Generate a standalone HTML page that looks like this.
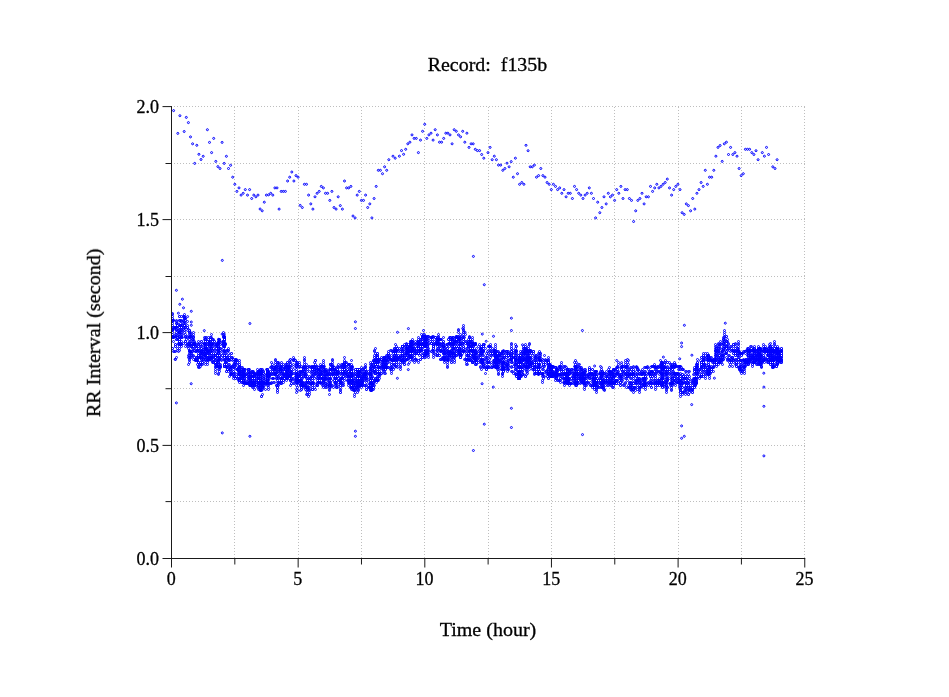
<!DOCTYPE html>
<html><head><meta charset="utf-8"><style>
html,body{margin:0;padding:0;background:#fff;width:949px;height:697px;overflow:hidden}
svg{display:block}
text{font-family:"Liberation Serif",serif;font-size:18px;fill:#000;stroke:#000;stroke-width:0.3px}
</style></head><body>
<svg width="949" height="697" viewBox="0 0 949 697">
<g shape-rendering="crispEdges">
<line x1="171" y1="501.5" x2="805" y2="501.5" stroke="#bebebe" stroke-width="1" stroke-dasharray="1 2"/>
<line x1="171" y1="445.5" x2="805" y2="445.5" stroke="#bebebe" stroke-width="1" stroke-dasharray="1 2"/>
<line x1="171" y1="388.5" x2="805" y2="388.5" stroke="#bebebe" stroke-width="1" stroke-dasharray="1 2"/>
<line x1="171" y1="332.5" x2="805" y2="332.5" stroke="#bebebe" stroke-width="1" stroke-dasharray="1 2"/>
<line x1="171" y1="276.5" x2="805" y2="276.5" stroke="#bebebe" stroke-width="1" stroke-dasharray="1 2"/>
<line x1="171" y1="219.5" x2="805" y2="219.5" stroke="#bebebe" stroke-width="1" stroke-dasharray="1 2"/>
<line x1="171" y1="163.5" x2="805" y2="163.5" stroke="#bebebe" stroke-width="1" stroke-dasharray="1 2"/>
<line x1="171" y1="106.5" x2="805" y2="106.5" stroke="#bebebe" stroke-width="1" stroke-dasharray="1 2"/>
<line x1="234.5" y1="107" x2="234.5" y2="558" stroke="#bebebe" stroke-width="1" stroke-dasharray="1 2"/>
<line x1="298.5" y1="107" x2="298.5" y2="558" stroke="#bebebe" stroke-width="1" stroke-dasharray="1 2"/>
<line x1="361.5" y1="107" x2="361.5" y2="558" stroke="#bebebe" stroke-width="1" stroke-dasharray="1 2"/>
<line x1="424.5" y1="107" x2="424.5" y2="558" stroke="#bebebe" stroke-width="1" stroke-dasharray="1 2"/>
<line x1="488.5" y1="107" x2="488.5" y2="558" stroke="#bebebe" stroke-width="1" stroke-dasharray="1 2"/>
<line x1="551.5" y1="107" x2="551.5" y2="558" stroke="#bebebe" stroke-width="1" stroke-dasharray="1 2"/>
<line x1="614.5" y1="107" x2="614.5" y2="558" stroke="#bebebe" stroke-width="1" stroke-dasharray="1 2"/>
<line x1="678.5" y1="107" x2="678.5" y2="558" stroke="#bebebe" stroke-width="1" stroke-dasharray="1 2"/>
<line x1="741.5" y1="107" x2="741.5" y2="558" stroke="#bebebe" stroke-width="1" stroke-dasharray="1 2"/>
<line x1="804.5" y1="107" x2="804.5" y2="558" stroke="#bebebe" stroke-width="1" stroke-dasharray="1 2"/>
</g>
<g fill="none" stroke="#0000ff" stroke-width="1.0"><circle cx="172.5" cy="348.5" r="1"/><circle cx="172.5" cy="348.5" r="1"/><circle cx="172.5" cy="336.5" r="1"/><circle cx="172.5" cy="330.5" r="1"/><circle cx="172.5" cy="329.5" r="1"/><circle cx="173.5" cy="320.5" r="1"/><circle cx="173.5" cy="337.5" r="1"/><circle cx="173.5" cy="336.5" r="1"/><circle cx="173.5" cy="351.5" r="1"/><circle cx="173.5" cy="341.5" r="1"/><circle cx="173.5" cy="337.5" r="1"/><circle cx="173.5" cy="337.5" r="1"/><circle cx="173.5" cy="329.5" r="1"/><circle cx="173.5" cy="320.5" r="1"/><circle cx="173.5" cy="327.5" r="1"/><circle cx="174.5" cy="351.5" r="1"/><circle cx="174.5" cy="327.5" r="1"/><circle cx="175.5" cy="336.5" r="1"/><circle cx="175.5" cy="334.5" r="1"/><circle cx="175.5" cy="327.5" r="1"/><circle cx="175.5" cy="351.5" r="1"/><circle cx="175.5" cy="336.5" r="1"/><circle cx="175.5" cy="359.5" r="1"/><circle cx="175.5" cy="344.5" r="1"/><circle cx="175.5" cy="344.5" r="1"/><circle cx="175.5" cy="346.5" r="1"/><circle cx="175.5" cy="346.5" r="1"/><circle cx="175.5" cy="327.5" r="1"/><circle cx="176.5" cy="357.5" r="1"/><circle cx="176.5" cy="329.5" r="1"/><circle cx="177.5" cy="323.5" r="1"/><circle cx="177.5" cy="325.5" r="1"/><circle cx="177.5" cy="350.5" r="1"/><circle cx="177.5" cy="337.5" r="1"/><circle cx="177.5" cy="325.5" r="1"/><circle cx="177.5" cy="348.5" r="1"/><circle cx="177.5" cy="339.5" r="1"/><circle cx="178.5" cy="343.5" r="1"/><circle cx="178.5" cy="330.5" r="1"/><circle cx="178.5" cy="332.5" r="1"/><circle cx="179.5" cy="327.5" r="1"/><circle cx="179.5" cy="316.5" r="1"/><circle cx="179.5" cy="320.5" r="1"/><circle cx="179.5" cy="344.5" r="1"/><circle cx="179.5" cy="336.5" r="1"/><circle cx="179.5" cy="329.5" r="1"/><circle cx="179.5" cy="332.5" r="1"/><circle cx="179.5" cy="343.5" r="1"/><circle cx="179.5" cy="325.5" r="1"/><circle cx="179.5" cy="334.5" r="1"/><circle cx="179.5" cy="336.5" r="1"/><circle cx="179.5" cy="327.5" r="1"/><circle cx="179.5" cy="332.5" r="1"/><circle cx="179.5" cy="339.5" r="1"/><circle cx="179.5" cy="343.5" r="1"/><circle cx="179.5" cy="320.5" r="1"/><circle cx="179.5" cy="344.5" r="1"/><circle cx="179.5" cy="316.5" r="1"/><circle cx="179.5" cy="339.5" r="1"/><circle cx="179.5" cy="341.5" r="1"/><circle cx="180.5" cy="325.5" r="1"/><circle cx="180.5" cy="320.5" r="1"/><circle cx="180.5" cy="325.5" r="1"/><circle cx="180.5" cy="344.5" r="1"/><circle cx="180.5" cy="332.5" r="1"/><circle cx="180.5" cy="325.5" r="1"/><circle cx="180.5" cy="323.5" r="1"/><circle cx="180.5" cy="344.5" r="1"/><circle cx="181.5" cy="337.5" r="1"/><circle cx="181.5" cy="332.5" r="1"/><circle cx="181.5" cy="327.5" r="1"/><circle cx="181.5" cy="343.5" r="1"/><circle cx="181.5" cy="327.5" r="1"/><circle cx="181.5" cy="344.5" r="1"/><circle cx="181.5" cy="316.5" r="1"/><circle cx="181.5" cy="329.5" r="1"/><circle cx="181.5" cy="330.5" r="1"/><circle cx="181.5" cy="344.5" r="1"/><circle cx="181.5" cy="321.5" r="1"/><circle cx="181.5" cy="341.5" r="1"/><circle cx="181.5" cy="336.5" r="1"/><circle cx="181.5" cy="337.5" r="1"/><circle cx="181.5" cy="334.5" r="1"/><circle cx="181.5" cy="346.5" r="1"/><circle cx="181.5" cy="325.5" r="1"/><circle cx="181.5" cy="327.5" r="1"/><circle cx="181.5" cy="320.5" r="1"/><circle cx="182.5" cy="330.5" r="1"/><circle cx="182.5" cy="334.5" r="1"/><circle cx="182.5" cy="337.5" r="1"/><circle cx="182.5" cy="325.5" r="1"/><circle cx="183.5" cy="316.5" r="1"/><circle cx="183.5" cy="329.5" r="1"/><circle cx="183.5" cy="343.5" r="1"/><circle cx="184.5" cy="318.5" r="1"/><circle cx="184.5" cy="316.5" r="1"/><circle cx="184.5" cy="316.5" r="1"/><circle cx="184.5" cy="325.5" r="1"/><circle cx="184.5" cy="323.5" r="1"/><circle cx="184.5" cy="321.5" r="1"/><circle cx="185.5" cy="341.5" r="1"/><circle cx="185.5" cy="337.5" r="1"/><circle cx="185.5" cy="336.5" r="1"/><circle cx="185.5" cy="323.5" r="1"/><circle cx="185.5" cy="334.5" r="1"/><circle cx="185.5" cy="318.5" r="1"/><circle cx="185.5" cy="341.5" r="1"/><circle cx="185.5" cy="346.5" r="1"/><circle cx="185.5" cy="343.5" r="1"/><circle cx="185.5" cy="318.5" r="1"/><circle cx="185.5" cy="327.5" r="1"/><circle cx="185.5" cy="327.5" r="1"/><circle cx="185.5" cy="320.5" r="1"/><circle cx="185.5" cy="336.5" r="1"/><circle cx="185.5" cy="341.5" r="1"/><circle cx="185.5" cy="327.5" r="1"/><circle cx="186.5" cy="339.5" r="1"/><circle cx="187.5" cy="344.5" r="1"/><circle cx="187.5" cy="344.5" r="1"/><circle cx="187.5" cy="325.5" r="1"/><circle cx="187.5" cy="321.5" r="1"/><circle cx="187.5" cy="337.5" r="1"/><circle cx="187.5" cy="327.5" r="1"/><circle cx="187.5" cy="336.5" r="1"/><circle cx="187.5" cy="346.5" r="1"/><circle cx="187.5" cy="330.5" r="1"/><circle cx="187.5" cy="327.5" r="1"/><circle cx="188.5" cy="329.5" r="1"/><circle cx="188.5" cy="343.5" r="1"/><circle cx="189.5" cy="344.5" r="1"/><circle cx="189.5" cy="334.5" r="1"/><circle cx="189.5" cy="336.5" r="1"/><circle cx="189.5" cy="337.5" r="1"/><circle cx="189.5" cy="341.5" r="1"/><circle cx="189.5" cy="330.5" r="1"/><circle cx="189.5" cy="350.5" r="1"/><circle cx="189.5" cy="344.5" r="1"/><circle cx="189.5" cy="337.5" r="1"/><circle cx="189.5" cy="330.5" r="1"/><circle cx="189.5" cy="351.5" r="1"/><circle cx="189.5" cy="332.5" r="1"/><circle cx="189.5" cy="332.5" r="1"/><circle cx="189.5" cy="332.5" r="1"/><circle cx="189.5" cy="330.5" r="1"/><circle cx="189.5" cy="355.5" r="1"/><circle cx="190.5" cy="341.5" r="1"/><circle cx="190.5" cy="332.5" r="1"/><circle cx="190.5" cy="344.5" r="1"/><circle cx="190.5" cy="351.5" r="1"/><circle cx="190.5" cy="336.5" r="1"/><circle cx="190.5" cy="337.5" r="1"/><circle cx="190.5" cy="346.5" r="1"/><circle cx="190.5" cy="351.5" r="1"/><circle cx="190.5" cy="357.5" r="1"/><circle cx="190.5" cy="334.5" r="1"/><circle cx="190.5" cy="336.5" r="1"/><circle cx="190.5" cy="353.5" r="1"/><circle cx="191.5" cy="343.5" r="1"/><circle cx="191.5" cy="334.5" r="1"/><circle cx="191.5" cy="355.5" r="1"/><circle cx="191.5" cy="346.5" r="1"/><circle cx="191.5" cy="343.5" r="1"/><circle cx="191.5" cy="346.5" r="1"/><circle cx="191.5" cy="351.5" r="1"/><circle cx="191.5" cy="343.5" r="1"/><circle cx="191.5" cy="353.5" r="1"/><circle cx="191.5" cy="357.5" r="1"/><circle cx="191.5" cy="343.5" r="1"/><circle cx="191.5" cy="336.5" r="1"/><circle cx="192.5" cy="339.5" r="1"/><circle cx="192.5" cy="348.5" r="1"/><circle cx="192.5" cy="344.5" r="1"/><circle cx="192.5" cy="351.5" r="1"/><circle cx="192.5" cy="339.5" r="1"/><circle cx="192.5" cy="355.5" r="1"/><circle cx="192.5" cy="339.5" r="1"/><circle cx="192.5" cy="351.5" r="1"/><circle cx="193.5" cy="346.5" r="1"/><circle cx="193.5" cy="337.5" r="1"/><circle cx="193.5" cy="359.5" r="1"/><circle cx="193.5" cy="355.5" r="1"/><circle cx="194.5" cy="344.5" r="1"/><circle cx="194.5" cy="343.5" r="1"/><circle cx="194.5" cy="341.5" r="1"/><circle cx="194.5" cy="350.5" r="1"/><circle cx="194.5" cy="343.5" r="1"/><circle cx="194.5" cy="343.5" r="1"/><circle cx="194.5" cy="357.5" r="1"/><circle cx="194.5" cy="350.5" r="1"/><circle cx="194.5" cy="343.5" r="1"/><circle cx="195.5" cy="344.5" r="1"/><circle cx="195.5" cy="360.5" r="1"/><circle cx="195.5" cy="359.5" r="1"/><circle cx="195.5" cy="346.5" r="1"/><circle cx="195.5" cy="360.5" r="1"/><circle cx="195.5" cy="346.5" r="1"/><circle cx="195.5" cy="351.5" r="1"/><circle cx="195.5" cy="351.5" r="1"/><circle cx="195.5" cy="359.5" r="1"/><circle cx="195.5" cy="343.5" r="1"/><circle cx="196.5" cy="348.5" r="1"/><circle cx="196.5" cy="351.5" r="1"/><circle cx="196.5" cy="360.5" r="1"/><circle cx="196.5" cy="359.5" r="1"/><circle cx="196.5" cy="359.5" r="1"/><circle cx="196.5" cy="359.5" r="1"/><circle cx="196.5" cy="357.5" r="1"/><circle cx="196.5" cy="359.5" r="1"/><circle cx="196.5" cy="357.5" r="1"/><circle cx="196.5" cy="357.5" r="1"/><circle cx="196.5" cy="350.5" r="1"/><circle cx="196.5" cy="346.5" r="1"/><circle cx="196.5" cy="359.5" r="1"/><circle cx="197.5" cy="364.5" r="1"/><circle cx="197.5" cy="357.5" r="1"/><circle cx="197.5" cy="360.5" r="1"/><circle cx="197.5" cy="350.5" r="1"/><circle cx="197.5" cy="360.5" r="1"/><circle cx="197.5" cy="359.5" r="1"/><circle cx="198.5" cy="344.5" r="1"/><circle cx="198.5" cy="367.5" r="1"/><circle cx="198.5" cy="355.5" r="1"/><circle cx="198.5" cy="355.5" r="1"/><circle cx="198.5" cy="362.5" r="1"/><circle cx="198.5" cy="357.5" r="1"/><circle cx="198.5" cy="362.5" r="1"/><circle cx="198.5" cy="346.5" r="1"/><circle cx="198.5" cy="357.5" r="1"/><circle cx="198.5" cy="357.5" r="1"/><circle cx="198.5" cy="366.5" r="1"/><circle cx="199.5" cy="350.5" r="1"/><circle cx="199.5" cy="367.5" r="1"/><circle cx="199.5" cy="350.5" r="1"/><circle cx="199.5" cy="357.5" r="1"/><circle cx="199.5" cy="364.5" r="1"/><circle cx="200.5" cy="362.5" r="1"/><circle cx="200.5" cy="353.5" r="1"/><circle cx="200.5" cy="357.5" r="1"/><circle cx="200.5" cy="362.5" r="1"/><circle cx="200.5" cy="357.5" r="1"/><circle cx="200.5" cy="353.5" r="1"/><circle cx="200.5" cy="364.5" r="1"/><circle cx="200.5" cy="353.5" r="1"/><circle cx="200.5" cy="366.5" r="1"/><circle cx="201.5" cy="346.5" r="1"/><circle cx="201.5" cy="353.5" r="1"/><circle cx="201.5" cy="364.5" r="1"/><circle cx="201.5" cy="357.5" r="1"/><circle cx="201.5" cy="357.5" r="1"/><circle cx="201.5" cy="359.5" r="1"/><circle cx="201.5" cy="359.5" r="1"/><circle cx="201.5" cy="357.5" r="1"/><circle cx="201.5" cy="353.5" r="1"/><circle cx="201.5" cy="348.5" r="1"/><circle cx="201.5" cy="351.5" r="1"/><circle cx="201.5" cy="351.5" r="1"/><circle cx="202.5" cy="355.5" r="1"/><circle cx="202.5" cy="364.5" r="1"/><circle cx="202.5" cy="362.5" r="1"/><circle cx="202.5" cy="351.5" r="1"/><circle cx="202.5" cy="350.5" r="1"/><circle cx="202.5" cy="362.5" r="1"/><circle cx="202.5" cy="353.5" r="1"/><circle cx="202.5" cy="359.5" r="1"/><circle cx="202.5" cy="344.5" r="1"/><circle cx="202.5" cy="362.5" r="1"/><circle cx="203.5" cy="359.5" r="1"/><circle cx="203.5" cy="351.5" r="1"/><circle cx="203.5" cy="359.5" r="1"/><circle cx="204.5" cy="343.5" r="1"/><circle cx="204.5" cy="344.5" r="1"/><circle cx="204.5" cy="355.5" r="1"/><circle cx="204.5" cy="357.5" r="1"/><circle cx="204.5" cy="337.5" r="1"/><circle cx="204.5" cy="355.5" r="1"/><circle cx="204.5" cy="357.5" r="1"/><circle cx="204.5" cy="348.5" r="1"/><circle cx="204.5" cy="339.5" r="1"/><circle cx="204.5" cy="353.5" r="1"/><circle cx="204.5" cy="343.5" r="1"/><circle cx="204.5" cy="353.5" r="1"/><circle cx="204.5" cy="346.5" r="1"/><circle cx="204.5" cy="353.5" r="1"/><circle cx="204.5" cy="343.5" r="1"/><circle cx="204.5" cy="348.5" r="1"/><circle cx="204.5" cy="350.5" r="1"/><circle cx="204.5" cy="353.5" r="1"/><circle cx="204.5" cy="343.5" r="1"/><circle cx="205.5" cy="343.5" r="1"/><circle cx="205.5" cy="337.5" r="1"/><circle cx="205.5" cy="346.5" r="1"/><circle cx="205.5" cy="355.5" r="1"/><circle cx="205.5" cy="353.5" r="1"/><circle cx="205.5" cy="341.5" r="1"/><circle cx="205.5" cy="339.5" r="1"/><circle cx="205.5" cy="344.5" r="1"/><circle cx="205.5" cy="355.5" r="1"/><circle cx="205.5" cy="348.5" r="1"/><circle cx="205.5" cy="359.5" r="1"/><circle cx="205.5" cy="351.5" r="1"/><circle cx="205.5" cy="351.5" r="1"/><circle cx="205.5" cy="355.5" r="1"/><circle cx="205.5" cy="355.5" r="1"/><circle cx="205.5" cy="344.5" r="1"/><circle cx="205.5" cy="343.5" r="1"/><circle cx="205.5" cy="346.5" r="1"/><circle cx="205.5" cy="348.5" r="1"/><circle cx="205.5" cy="339.5" r="1"/><circle cx="205.5" cy="346.5" r="1"/><circle cx="205.5" cy="351.5" r="1"/><circle cx="205.5" cy="339.5" r="1"/><circle cx="205.5" cy="339.5" r="1"/><circle cx="205.5" cy="339.5" r="1"/><circle cx="206.5" cy="348.5" r="1"/><circle cx="206.5" cy="337.5" r="1"/><circle cx="206.5" cy="348.5" r="1"/><circle cx="207.5" cy="341.5" r="1"/><circle cx="207.5" cy="351.5" r="1"/><circle cx="207.5" cy="346.5" r="1"/><circle cx="207.5" cy="346.5" r="1"/><circle cx="207.5" cy="357.5" r="1"/><circle cx="207.5" cy="341.5" r="1"/><circle cx="207.5" cy="359.5" r="1"/><circle cx="207.5" cy="359.5" r="1"/><circle cx="208.5" cy="343.5" r="1"/><circle cx="208.5" cy="359.5" r="1"/><circle cx="208.5" cy="357.5" r="1"/><circle cx="208.5" cy="339.5" r="1"/><circle cx="208.5" cy="344.5" r="1"/><circle cx="208.5" cy="337.5" r="1"/><circle cx="208.5" cy="357.5" r="1"/><circle cx="208.5" cy="359.5" r="1"/><circle cx="208.5" cy="360.5" r="1"/><circle cx="208.5" cy="351.5" r="1"/><circle cx="208.5" cy="353.5" r="1"/><circle cx="208.5" cy="353.5" r="1"/><circle cx="208.5" cy="350.5" r="1"/><circle cx="209.5" cy="341.5" r="1"/><circle cx="209.5" cy="343.5" r="1"/><circle cx="209.5" cy="344.5" r="1"/><circle cx="209.5" cy="348.5" r="1"/><circle cx="209.5" cy="359.5" r="1"/><circle cx="209.5" cy="344.5" r="1"/><circle cx="209.5" cy="359.5" r="1"/><circle cx="209.5" cy="353.5" r="1"/><circle cx="209.5" cy="357.5" r="1"/><circle cx="209.5" cy="346.5" r="1"/><circle cx="210.5" cy="355.5" r="1"/><circle cx="210.5" cy="341.5" r="1"/><circle cx="210.5" cy="357.5" r="1"/><circle cx="210.5" cy="341.5" r="1"/><circle cx="210.5" cy="350.5" r="1"/><circle cx="210.5" cy="339.5" r="1"/><circle cx="210.5" cy="351.5" r="1"/><circle cx="210.5" cy="359.5" r="1"/><circle cx="211.5" cy="353.5" r="1"/><circle cx="211.5" cy="346.5" r="1"/><circle cx="211.5" cy="353.5" r="1"/><circle cx="211.5" cy="350.5" r="1"/><circle cx="211.5" cy="360.5" r="1"/><circle cx="211.5" cy="344.5" r="1"/><circle cx="211.5" cy="357.5" r="1"/><circle cx="211.5" cy="353.5" r="1"/><circle cx="211.5" cy="357.5" r="1"/><circle cx="211.5" cy="348.5" r="1"/><circle cx="211.5" cy="357.5" r="1"/><circle cx="211.5" cy="355.5" r="1"/><circle cx="211.5" cy="348.5" r="1"/><circle cx="211.5" cy="337.5" r="1"/><circle cx="212.5" cy="357.5" r="1"/><circle cx="212.5" cy="344.5" r="1"/><circle cx="212.5" cy="350.5" r="1"/><circle cx="212.5" cy="360.5" r="1"/><circle cx="212.5" cy="350.5" r="1"/><circle cx="212.5" cy="344.5" r="1"/><circle cx="212.5" cy="346.5" r="1"/><circle cx="212.5" cy="339.5" r="1"/><circle cx="212.5" cy="343.5" r="1"/><circle cx="212.5" cy="344.5" r="1"/><circle cx="212.5" cy="343.5" r="1"/><circle cx="212.5" cy="339.5" r="1"/><circle cx="212.5" cy="350.5" r="1"/><circle cx="212.5" cy="343.5" r="1"/><circle cx="212.5" cy="357.5" r="1"/><circle cx="212.5" cy="362.5" r="1"/><circle cx="213.5" cy="355.5" r="1"/><circle cx="213.5" cy="362.5" r="1"/><circle cx="213.5" cy="362.5" r="1"/><circle cx="213.5" cy="339.5" r="1"/><circle cx="213.5" cy="353.5" r="1"/><circle cx="213.5" cy="348.5" r="1"/><circle cx="213.5" cy="359.5" r="1"/><circle cx="214.5" cy="341.5" r="1"/><circle cx="214.5" cy="350.5" r="1"/><circle cx="214.5" cy="344.5" r="1"/><circle cx="214.5" cy="341.5" r="1"/><circle cx="214.5" cy="355.5" r="1"/><circle cx="215.5" cy="350.5" r="1"/><circle cx="215.5" cy="355.5" r="1"/><circle cx="215.5" cy="360.5" r="1"/><circle cx="215.5" cy="357.5" r="1"/><circle cx="215.5" cy="362.5" r="1"/><circle cx="215.5" cy="355.5" r="1"/><circle cx="215.5" cy="346.5" r="1"/><circle cx="215.5" cy="357.5" r="1"/><circle cx="215.5" cy="353.5" r="1"/><circle cx="215.5" cy="344.5" r="1"/><circle cx="215.5" cy="357.5" r="1"/><circle cx="215.5" cy="362.5" r="1"/><circle cx="216.5" cy="364.5" r="1"/><circle cx="216.5" cy="366.5" r="1"/><circle cx="216.5" cy="344.5" r="1"/><circle cx="216.5" cy="348.5" r="1"/><circle cx="216.5" cy="346.5" r="1"/><circle cx="216.5" cy="364.5" r="1"/><circle cx="216.5" cy="366.5" r="1"/><circle cx="216.5" cy="343.5" r="1"/><circle cx="217.5" cy="366.5" r="1"/><circle cx="217.5" cy="343.5" r="1"/><circle cx="217.5" cy="346.5" r="1"/><circle cx="217.5" cy="355.5" r="1"/><circle cx="217.5" cy="355.5" r="1"/><circle cx="217.5" cy="362.5" r="1"/><circle cx="217.5" cy="353.5" r="1"/><circle cx="217.5" cy="344.5" r="1"/><circle cx="217.5" cy="350.5" r="1"/><circle cx="218.5" cy="362.5" r="1"/><circle cx="218.5" cy="348.5" r="1"/><circle cx="218.5" cy="362.5" r="1"/><circle cx="218.5" cy="339.5" r="1"/><circle cx="218.5" cy="364.5" r="1"/><circle cx="218.5" cy="344.5" r="1"/><circle cx="218.5" cy="353.5" r="1"/><circle cx="218.5" cy="359.5" r="1"/><circle cx="218.5" cy="353.5" r="1"/><circle cx="218.5" cy="344.5" r="1"/><circle cx="218.5" cy="343.5" r="1"/><circle cx="218.5" cy="348.5" r="1"/><circle cx="218.5" cy="341.5" r="1"/><circle cx="218.5" cy="346.5" r="1"/><circle cx="218.5" cy="343.5" r="1"/><circle cx="218.5" cy="353.5" r="1"/><circle cx="218.5" cy="350.5" r="1"/><circle cx="218.5" cy="357.5" r="1"/><circle cx="218.5" cy="348.5" r="1"/><circle cx="218.5" cy="341.5" r="1"/><circle cx="218.5" cy="350.5" r="1"/><circle cx="218.5" cy="360.5" r="1"/><circle cx="218.5" cy="346.5" r="1"/><circle cx="218.5" cy="351.5" r="1"/><circle cx="218.5" cy="360.5" r="1"/><circle cx="218.5" cy="351.5" r="1"/><circle cx="218.5" cy="366.5" r="1"/><circle cx="218.5" cy="366.5" r="1"/><circle cx="218.5" cy="348.5" r="1"/><circle cx="218.5" cy="360.5" r="1"/><circle cx="218.5" cy="346.5" r="1"/><circle cx="218.5" cy="343.5" r="1"/><circle cx="218.5" cy="351.5" r="1"/><circle cx="218.5" cy="357.5" r="1"/><circle cx="218.5" cy="366.5" r="1"/><circle cx="218.5" cy="343.5" r="1"/><circle cx="219.5" cy="367.5" r="1"/><circle cx="219.5" cy="359.5" r="1"/><circle cx="219.5" cy="341.5" r="1"/><circle cx="219.5" cy="366.5" r="1"/><circle cx="219.5" cy="341.5" r="1"/><circle cx="219.5" cy="341.5" r="1"/><circle cx="219.5" cy="348.5" r="1"/><circle cx="219.5" cy="366.5" r="1"/><circle cx="219.5" cy="339.5" r="1"/><circle cx="219.5" cy="366.5" r="1"/><circle cx="219.5" cy="357.5" r="1"/><circle cx="219.5" cy="339.5" r="1"/><circle cx="219.5" cy="355.5" r="1"/><circle cx="219.5" cy="351.5" r="1"/><circle cx="219.5" cy="355.5" r="1"/><circle cx="220.5" cy="364.5" r="1"/><circle cx="220.5" cy="367.5" r="1"/><circle cx="220.5" cy="344.5" r="1"/><circle cx="220.5" cy="350.5" r="1"/><circle cx="220.5" cy="366.5" r="1"/><circle cx="220.5" cy="366.5" r="1"/><circle cx="220.5" cy="348.5" r="1"/><circle cx="220.5" cy="366.5" r="1"/><circle cx="220.5" cy="350.5" r="1"/><circle cx="220.5" cy="348.5" r="1"/><circle cx="221.5" cy="359.5" r="1"/><circle cx="221.5" cy="353.5" r="1"/><circle cx="221.5" cy="357.5" r="1"/><circle cx="221.5" cy="360.5" r="1"/><circle cx="221.5" cy="343.5" r="1"/><circle cx="222.5" cy="344.5" r="1"/><circle cx="222.5" cy="355.5" r="1"/><circle cx="222.5" cy="341.5" r="1"/><circle cx="223.5" cy="346.5" r="1"/><circle cx="223.5" cy="351.5" r="1"/><circle cx="223.5" cy="341.5" r="1"/><circle cx="223.5" cy="344.5" r="1"/><circle cx="224.5" cy="359.5" r="1"/><circle cx="224.5" cy="339.5" r="1"/><circle cx="224.5" cy="366.5" r="1"/><circle cx="224.5" cy="343.5" r="1"/><circle cx="224.5" cy="344.5" r="1"/><circle cx="224.5" cy="343.5" r="1"/><circle cx="224.5" cy="366.5" r="1"/><circle cx="224.5" cy="344.5" r="1"/><circle cx="224.5" cy="355.5" r="1"/><circle cx="224.5" cy="366.5" r="1"/><circle cx="224.5" cy="366.5" r="1"/><circle cx="224.5" cy="337.5" r="1"/><circle cx="224.5" cy="351.5" r="1"/><circle cx="224.5" cy="355.5" r="1"/><circle cx="224.5" cy="357.5" r="1"/><circle cx="224.5" cy="346.5" r="1"/><circle cx="224.5" cy="346.5" r="1"/><circle cx="224.5" cy="336.5" r="1"/><circle cx="224.5" cy="337.5" r="1"/><circle cx="224.5" cy="353.5" r="1"/><circle cx="224.5" cy="339.5" r="1"/><circle cx="224.5" cy="343.5" r="1"/><circle cx="224.5" cy="346.5" r="1"/><circle cx="224.5" cy="339.5" r="1"/><circle cx="224.5" cy="337.5" r="1"/><circle cx="224.5" cy="364.5" r="1"/><circle cx="224.5" cy="350.5" r="1"/><circle cx="224.5" cy="343.5" r="1"/><circle cx="224.5" cy="359.5" r="1"/><circle cx="224.5" cy="336.5" r="1"/><circle cx="224.5" cy="344.5" r="1"/><circle cx="224.5" cy="366.5" r="1"/><circle cx="224.5" cy="364.5" r="1"/><circle cx="224.5" cy="355.5" r="1"/><circle cx="224.5" cy="339.5" r="1"/><circle cx="224.5" cy="346.5" r="1"/><circle cx="224.5" cy="337.5" r="1"/><circle cx="224.5" cy="343.5" r="1"/><circle cx="224.5" cy="337.5" r="1"/><circle cx="224.5" cy="339.5" r="1"/><circle cx="224.5" cy="355.5" r="1"/><circle cx="224.5" cy="339.5" r="1"/><circle cx="224.5" cy="341.5" r="1"/><circle cx="224.5" cy="364.5" r="1"/><circle cx="224.5" cy="346.5" r="1"/><circle cx="224.5" cy="346.5" r="1"/><circle cx="224.5" cy="339.5" r="1"/><circle cx="224.5" cy="360.5" r="1"/><circle cx="224.5" cy="357.5" r="1"/><circle cx="225.5" cy="366.5" r="1"/><circle cx="225.5" cy="343.5" r="1"/><circle cx="225.5" cy="344.5" r="1"/><circle cx="225.5" cy="359.5" r="1"/><circle cx="225.5" cy="362.5" r="1"/><circle cx="225.5" cy="362.5" r="1"/><circle cx="225.5" cy="353.5" r="1"/><circle cx="225.5" cy="344.5" r="1"/><circle cx="226.5" cy="355.5" r="1"/><circle cx="226.5" cy="350.5" r="1"/><circle cx="226.5" cy="362.5" r="1"/><circle cx="226.5" cy="357.5" r="1"/><circle cx="226.5" cy="366.5" r="1"/><circle cx="226.5" cy="366.5" r="1"/><circle cx="226.5" cy="351.5" r="1"/><circle cx="227.5" cy="359.5" r="1"/><circle cx="227.5" cy="359.5" r="1"/><circle cx="227.5" cy="357.5" r="1"/><circle cx="227.5" cy="369.5" r="1"/><circle cx="227.5" cy="369.5" r="1"/><circle cx="227.5" cy="350.5" r="1"/><circle cx="228.5" cy="359.5" r="1"/><circle cx="228.5" cy="371.5" r="1"/><circle cx="228.5" cy="360.5" r="1"/><circle cx="228.5" cy="350.5" r="1"/><circle cx="228.5" cy="359.5" r="1"/><circle cx="228.5" cy="364.5" r="1"/><circle cx="228.5" cy="350.5" r="1"/><circle cx="228.5" cy="353.5" r="1"/><circle cx="228.5" cy="348.5" r="1"/><circle cx="229.5" cy="360.5" r="1"/><circle cx="229.5" cy="369.5" r="1"/><circle cx="229.5" cy="357.5" r="1"/><circle cx="229.5" cy="367.5" r="1"/><circle cx="229.5" cy="355.5" r="1"/><circle cx="229.5" cy="366.5" r="1"/><circle cx="229.5" cy="357.5" r="1"/><circle cx="230.5" cy="369.5" r="1"/><circle cx="231.5" cy="353.5" r="1"/><circle cx="231.5" cy="359.5" r="1"/><circle cx="231.5" cy="366.5" r="1"/><circle cx="231.5" cy="353.5" r="1"/><circle cx="231.5" cy="367.5" r="1"/><circle cx="231.5" cy="374.5" r="1"/><circle cx="231.5" cy="374.5" r="1"/><circle cx="231.5" cy="373.5" r="1"/><circle cx="231.5" cy="371.5" r="1"/><circle cx="231.5" cy="357.5" r="1"/><circle cx="231.5" cy="374.5" r="1"/><circle cx="231.5" cy="357.5" r="1"/><circle cx="232.5" cy="366.5" r="1"/><circle cx="232.5" cy="360.5" r="1"/><circle cx="232.5" cy="357.5" r="1"/><circle cx="233.5" cy="359.5" r="1"/><circle cx="233.5" cy="359.5" r="1"/><circle cx="233.5" cy="367.5" r="1"/><circle cx="233.5" cy="364.5" r="1"/><circle cx="234.5" cy="364.5" r="1"/><circle cx="234.5" cy="366.5" r="1"/><circle cx="234.5" cy="367.5" r="1"/><circle cx="234.5" cy="376.5" r="1"/><circle cx="234.5" cy="362.5" r="1"/><circle cx="234.5" cy="373.5" r="1"/><circle cx="234.5" cy="364.5" r="1"/><circle cx="234.5" cy="376.5" r="1"/><circle cx="235.5" cy="373.5" r="1"/><circle cx="235.5" cy="360.5" r="1"/><circle cx="235.5" cy="362.5" r="1"/><circle cx="235.5" cy="378.5" r="1"/><circle cx="235.5" cy="359.5" r="1"/><circle cx="235.5" cy="364.5" r="1"/><circle cx="235.5" cy="378.5" r="1"/><circle cx="235.5" cy="359.5" r="1"/><circle cx="235.5" cy="362.5" r="1"/><circle cx="235.5" cy="362.5" r="1"/><circle cx="235.5" cy="360.5" r="1"/><circle cx="236.5" cy="376.5" r="1"/><circle cx="236.5" cy="376.5" r="1"/><circle cx="237.5" cy="369.5" r="1"/><circle cx="237.5" cy="378.5" r="1"/><circle cx="238.5" cy="374.5" r="1"/><circle cx="238.5" cy="376.5" r="1"/><circle cx="238.5" cy="373.5" r="1"/><circle cx="238.5" cy="378.5" r="1"/><circle cx="238.5" cy="371.5" r="1"/><circle cx="238.5" cy="371.5" r="1"/><circle cx="238.5" cy="367.5" r="1"/><circle cx="238.5" cy="380.5" r="1"/><circle cx="238.5" cy="369.5" r="1"/><circle cx="238.5" cy="374.5" r="1"/><circle cx="238.5" cy="369.5" r="1"/><circle cx="239.5" cy="382.5" r="1"/><circle cx="239.5" cy="374.5" r="1"/><circle cx="239.5" cy="366.5" r="1"/><circle cx="239.5" cy="373.5" r="1"/><circle cx="239.5" cy="366.5" r="1"/><circle cx="239.5" cy="373.5" r="1"/><circle cx="239.5" cy="367.5" r="1"/><circle cx="239.5" cy="371.5" r="1"/><circle cx="239.5" cy="369.5" r="1"/><circle cx="239.5" cy="374.5" r="1"/><circle cx="239.5" cy="378.5" r="1"/><circle cx="239.5" cy="380.5" r="1"/><circle cx="239.5" cy="369.5" r="1"/><circle cx="239.5" cy="374.5" r="1"/><circle cx="239.5" cy="364.5" r="1"/><circle cx="239.5" cy="371.5" r="1"/><circle cx="239.5" cy="380.5" r="1"/><circle cx="239.5" cy="366.5" r="1"/><circle cx="239.5" cy="380.5" r="1"/><circle cx="239.5" cy="374.5" r="1"/><circle cx="239.5" cy="369.5" r="1"/><circle cx="239.5" cy="378.5" r="1"/><circle cx="239.5" cy="369.5" r="1"/><circle cx="240.5" cy="374.5" r="1"/><circle cx="240.5" cy="371.5" r="1"/><circle cx="240.5" cy="374.5" r="1"/><circle cx="240.5" cy="378.5" r="1"/><circle cx="241.5" cy="378.5" r="1"/><circle cx="241.5" cy="369.5" r="1"/><circle cx="241.5" cy="371.5" r="1"/><circle cx="241.5" cy="371.5" r="1"/><circle cx="241.5" cy="376.5" r="1"/><circle cx="241.5" cy="376.5" r="1"/><circle cx="241.5" cy="382.5" r="1"/><circle cx="241.5" cy="367.5" r="1"/><circle cx="241.5" cy="369.5" r="1"/><circle cx="241.5" cy="373.5" r="1"/><circle cx="241.5" cy="380.5" r="1"/><circle cx="242.5" cy="378.5" r="1"/><circle cx="242.5" cy="371.5" r="1"/><circle cx="242.5" cy="369.5" r="1"/><circle cx="242.5" cy="374.5" r="1"/><circle cx="242.5" cy="382.5" r="1"/><circle cx="242.5" cy="376.5" r="1"/><circle cx="242.5" cy="367.5" r="1"/><circle cx="242.5" cy="374.5" r="1"/><circle cx="242.5" cy="373.5" r="1"/><circle cx="242.5" cy="376.5" r="1"/><circle cx="243.5" cy="374.5" r="1"/><circle cx="243.5" cy="376.5" r="1"/><circle cx="243.5" cy="382.5" r="1"/><circle cx="243.5" cy="378.5" r="1"/><circle cx="243.5" cy="374.5" r="1"/><circle cx="243.5" cy="380.5" r="1"/><circle cx="243.5" cy="374.5" r="1"/><circle cx="243.5" cy="382.5" r="1"/><circle cx="243.5" cy="371.5" r="1"/><circle cx="243.5" cy="369.5" r="1"/><circle cx="243.5" cy="380.5" r="1"/><circle cx="243.5" cy="373.5" r="1"/><circle cx="243.5" cy="380.5" r="1"/><circle cx="243.5" cy="376.5" r="1"/><circle cx="243.5" cy="374.5" r="1"/><circle cx="243.5" cy="369.5" r="1"/><circle cx="243.5" cy="380.5" r="1"/><circle cx="243.5" cy="369.5" r="1"/><circle cx="243.5" cy="382.5" r="1"/><circle cx="243.5" cy="382.5" r="1"/><circle cx="243.5" cy="373.5" r="1"/><circle cx="243.5" cy="369.5" r="1"/><circle cx="243.5" cy="382.5" r="1"/><circle cx="243.5" cy="374.5" r="1"/><circle cx="243.5" cy="369.5" r="1"/><circle cx="243.5" cy="374.5" r="1"/><circle cx="243.5" cy="371.5" r="1"/><circle cx="244.5" cy="374.5" r="1"/><circle cx="244.5" cy="371.5" r="1"/><circle cx="244.5" cy="376.5" r="1"/><circle cx="244.5" cy="373.5" r="1"/><circle cx="244.5" cy="382.5" r="1"/><circle cx="244.5" cy="369.5" r="1"/><circle cx="244.5" cy="371.5" r="1"/><circle cx="244.5" cy="369.5" r="1"/><circle cx="244.5" cy="378.5" r="1"/><circle cx="245.5" cy="374.5" r="1"/><circle cx="245.5" cy="383.5" r="1"/><circle cx="245.5" cy="380.5" r="1"/><circle cx="245.5" cy="369.5" r="1"/><circle cx="246.5" cy="374.5" r="1"/><circle cx="246.5" cy="383.5" r="1"/><circle cx="246.5" cy="376.5" r="1"/><circle cx="246.5" cy="376.5" r="1"/><circle cx="246.5" cy="383.5" r="1"/><circle cx="246.5" cy="373.5" r="1"/><circle cx="246.5" cy="383.5" r="1"/><circle cx="246.5" cy="382.5" r="1"/><circle cx="247.5" cy="383.5" r="1"/><circle cx="248.5" cy="382.5" r="1"/><circle cx="248.5" cy="369.5" r="1"/><circle cx="248.5" cy="371.5" r="1"/><circle cx="248.5" cy="376.5" r="1"/><circle cx="248.5" cy="369.5" r="1"/><circle cx="248.5" cy="378.5" r="1"/><circle cx="248.5" cy="382.5" r="1"/><circle cx="248.5" cy="380.5" r="1"/><circle cx="248.5" cy="380.5" r="1"/><circle cx="248.5" cy="369.5" r="1"/><circle cx="248.5" cy="373.5" r="1"/><circle cx="248.5" cy="383.5" r="1"/><circle cx="248.5" cy="371.5" r="1"/><circle cx="248.5" cy="378.5" r="1"/><circle cx="248.5" cy="369.5" r="1"/><circle cx="248.5" cy="383.5" r="1"/><circle cx="248.5" cy="371.5" r="1"/><circle cx="249.5" cy="382.5" r="1"/><circle cx="249.5" cy="373.5" r="1"/><circle cx="249.5" cy="376.5" r="1"/><circle cx="249.5" cy="378.5" r="1"/><circle cx="249.5" cy="380.5" r="1"/><circle cx="249.5" cy="385.5" r="1"/><circle cx="249.5" cy="382.5" r="1"/><circle cx="249.5" cy="376.5" r="1"/><circle cx="250.5" cy="376.5" r="1"/><circle cx="250.5" cy="378.5" r="1"/><circle cx="250.5" cy="374.5" r="1"/><circle cx="250.5" cy="374.5" r="1"/><circle cx="250.5" cy="373.5" r="1"/><circle cx="250.5" cy="378.5" r="1"/><circle cx="250.5" cy="374.5" r="1"/><circle cx="250.5" cy="385.5" r="1"/><circle cx="250.5" cy="385.5" r="1"/><circle cx="250.5" cy="376.5" r="1"/><circle cx="250.5" cy="380.5" r="1"/><circle cx="250.5" cy="385.5" r="1"/><circle cx="250.5" cy="376.5" r="1"/><circle cx="250.5" cy="380.5" r="1"/><circle cx="250.5" cy="378.5" r="1"/><circle cx="251.5" cy="380.5" r="1"/><circle cx="251.5" cy="382.5" r="1"/><circle cx="251.5" cy="373.5" r="1"/><circle cx="251.5" cy="371.5" r="1"/><circle cx="251.5" cy="383.5" r="1"/><circle cx="251.5" cy="385.5" r="1"/><circle cx="251.5" cy="382.5" r="1"/><circle cx="251.5" cy="376.5" r="1"/><circle cx="251.5" cy="382.5" r="1"/><circle cx="252.5" cy="380.5" r="1"/><circle cx="252.5" cy="378.5" r="1"/><circle cx="252.5" cy="374.5" r="1"/><circle cx="252.5" cy="383.5" r="1"/><circle cx="252.5" cy="378.5" r="1"/><circle cx="252.5" cy="383.5" r="1"/><circle cx="252.5" cy="376.5" r="1"/><circle cx="252.5" cy="371.5" r="1"/><circle cx="252.5" cy="380.5" r="1"/><circle cx="252.5" cy="382.5" r="1"/><circle cx="252.5" cy="387.5" r="1"/><circle cx="252.5" cy="385.5" r="1"/><circle cx="252.5" cy="371.5" r="1"/><circle cx="252.5" cy="383.5" r="1"/><circle cx="252.5" cy="374.5" r="1"/><circle cx="252.5" cy="382.5" r="1"/><circle cx="252.5" cy="376.5" r="1"/><circle cx="252.5" cy="376.5" r="1"/><circle cx="252.5" cy="378.5" r="1"/><circle cx="252.5" cy="380.5" r="1"/><circle cx="252.5" cy="382.5" r="1"/><circle cx="252.5" cy="382.5" r="1"/><circle cx="252.5" cy="382.5" r="1"/><circle cx="253.5" cy="373.5" r="1"/><circle cx="253.5" cy="376.5" r="1"/><circle cx="253.5" cy="371.5" r="1"/><circle cx="253.5" cy="382.5" r="1"/><circle cx="253.5" cy="385.5" r="1"/><circle cx="253.5" cy="376.5" r="1"/><circle cx="254.5" cy="385.5" r="1"/><circle cx="254.5" cy="373.5" r="1"/><circle cx="254.5" cy="376.5" r="1"/><circle cx="254.5" cy="378.5" r="1"/><circle cx="254.5" cy="373.5" r="1"/><circle cx="254.5" cy="374.5" r="1"/><circle cx="254.5" cy="374.5" r="1"/><circle cx="254.5" cy="382.5" r="1"/><circle cx="254.5" cy="385.5" r="1"/><circle cx="254.5" cy="376.5" r="1"/><circle cx="254.5" cy="383.5" r="1"/><circle cx="254.5" cy="373.5" r="1"/><circle cx="254.5" cy="380.5" r="1"/><circle cx="254.5" cy="376.5" r="1"/><circle cx="254.5" cy="374.5" r="1"/><circle cx="254.5" cy="383.5" r="1"/><circle cx="254.5" cy="382.5" r="1"/><circle cx="254.5" cy="373.5" r="1"/><circle cx="254.5" cy="374.5" r="1"/><circle cx="254.5" cy="383.5" r="1"/><circle cx="254.5" cy="385.5" r="1"/><circle cx="254.5" cy="380.5" r="1"/><circle cx="254.5" cy="383.5" r="1"/><circle cx="255.5" cy="380.5" r="1"/><circle cx="255.5" cy="385.5" r="1"/><circle cx="255.5" cy="374.5" r="1"/><circle cx="256.5" cy="382.5" r="1"/><circle cx="256.5" cy="378.5" r="1"/><circle cx="256.5" cy="373.5" r="1"/><circle cx="256.5" cy="376.5" r="1"/><circle cx="256.5" cy="382.5" r="1"/><circle cx="257.5" cy="387.5" r="1"/><circle cx="257.5" cy="385.5" r="1"/><circle cx="257.5" cy="382.5" r="1"/><circle cx="257.5" cy="373.5" r="1"/><circle cx="258.5" cy="383.5" r="1"/><circle cx="258.5" cy="385.5" r="1"/><circle cx="258.5" cy="374.5" r="1"/><circle cx="258.5" cy="382.5" r="1"/><circle cx="258.5" cy="380.5" r="1"/><circle cx="258.5" cy="376.5" r="1"/><circle cx="258.5" cy="376.5" r="1"/><circle cx="258.5" cy="373.5" r="1"/><circle cx="258.5" cy="378.5" r="1"/><circle cx="258.5" cy="376.5" r="1"/><circle cx="258.5" cy="378.5" r="1"/><circle cx="258.5" cy="385.5" r="1"/><circle cx="258.5" cy="382.5" r="1"/><circle cx="258.5" cy="382.5" r="1"/><circle cx="258.5" cy="389.5" r="1"/><circle cx="258.5" cy="373.5" r="1"/><circle cx="258.5" cy="380.5" r="1"/><circle cx="258.5" cy="371.5" r="1"/><circle cx="258.5" cy="376.5" r="1"/><circle cx="258.5" cy="387.5" r="1"/><circle cx="258.5" cy="371.5" r="1"/><circle cx="258.5" cy="383.5" r="1"/><circle cx="258.5" cy="385.5" r="1"/><circle cx="258.5" cy="380.5" r="1"/><circle cx="258.5" cy="385.5" r="1"/><circle cx="258.5" cy="378.5" r="1"/><circle cx="258.5" cy="376.5" r="1"/><circle cx="259.5" cy="389.5" r="1"/><circle cx="259.5" cy="387.5" r="1"/><circle cx="259.5" cy="382.5" r="1"/><circle cx="259.5" cy="378.5" r="1"/><circle cx="259.5" cy="373.5" r="1"/><circle cx="259.5" cy="371.5" r="1"/><circle cx="259.5" cy="371.5" r="1"/><circle cx="260.5" cy="380.5" r="1"/><circle cx="260.5" cy="390.5" r="1"/><circle cx="260.5" cy="385.5" r="1"/><circle cx="260.5" cy="373.5" r="1"/><circle cx="260.5" cy="382.5" r="1"/><circle cx="260.5" cy="373.5" r="1"/><circle cx="260.5" cy="369.5" r="1"/><circle cx="260.5" cy="389.5" r="1"/><circle cx="260.5" cy="376.5" r="1"/><circle cx="260.5" cy="373.5" r="1"/><circle cx="260.5" cy="371.5" r="1"/><circle cx="260.5" cy="383.5" r="1"/><circle cx="260.5" cy="380.5" r="1"/><circle cx="260.5" cy="369.5" r="1"/><circle cx="260.5" cy="385.5" r="1"/><circle cx="260.5" cy="374.5" r="1"/><circle cx="260.5" cy="385.5" r="1"/><circle cx="260.5" cy="380.5" r="1"/><circle cx="260.5" cy="380.5" r="1"/><circle cx="260.5" cy="378.5" r="1"/><circle cx="260.5" cy="383.5" r="1"/><circle cx="260.5" cy="390.5" r="1"/><circle cx="260.5" cy="387.5" r="1"/><circle cx="260.5" cy="371.5" r="1"/><circle cx="260.5" cy="380.5" r="1"/><circle cx="260.5" cy="374.5" r="1"/><circle cx="260.5" cy="371.5" r="1"/><circle cx="260.5" cy="373.5" r="1"/><circle cx="260.5" cy="374.5" r="1"/><circle cx="260.5" cy="390.5" r="1"/><circle cx="260.5" cy="385.5" r="1"/><circle cx="260.5" cy="387.5" r="1"/><circle cx="260.5" cy="383.5" r="1"/><circle cx="260.5" cy="376.5" r="1"/><circle cx="260.5" cy="378.5" r="1"/><circle cx="260.5" cy="378.5" r="1"/><circle cx="260.5" cy="374.5" r="1"/><circle cx="260.5" cy="378.5" r="1"/><circle cx="260.5" cy="385.5" r="1"/><circle cx="261.5" cy="383.5" r="1"/><circle cx="261.5" cy="383.5" r="1"/><circle cx="261.5" cy="385.5" r="1"/><circle cx="261.5" cy="371.5" r="1"/><circle cx="261.5" cy="373.5" r="1"/><circle cx="261.5" cy="376.5" r="1"/><circle cx="261.5" cy="374.5" r="1"/><circle cx="261.5" cy="385.5" r="1"/><circle cx="261.5" cy="390.5" r="1"/><circle cx="261.5" cy="383.5" r="1"/><circle cx="261.5" cy="369.5" r="1"/><circle cx="261.5" cy="374.5" r="1"/><circle cx="261.5" cy="387.5" r="1"/><circle cx="261.5" cy="389.5" r="1"/><circle cx="261.5" cy="382.5" r="1"/><circle cx="262.5" cy="369.5" r="1"/><circle cx="262.5" cy="371.5" r="1"/><circle cx="262.5" cy="387.5" r="1"/><circle cx="262.5" cy="382.5" r="1"/><circle cx="263.5" cy="385.5" r="1"/><circle cx="263.5" cy="382.5" r="1"/><circle cx="263.5" cy="371.5" r="1"/><circle cx="263.5" cy="376.5" r="1"/><circle cx="263.5" cy="382.5" r="1"/><circle cx="263.5" cy="382.5" r="1"/><circle cx="263.5" cy="378.5" r="1"/><circle cx="263.5" cy="373.5" r="1"/><circle cx="263.5" cy="387.5" r="1"/><circle cx="263.5" cy="378.5" r="1"/><circle cx="263.5" cy="383.5" r="1"/><circle cx="263.5" cy="380.5" r="1"/><circle cx="263.5" cy="371.5" r="1"/><circle cx="263.5" cy="373.5" r="1"/><circle cx="264.5" cy="374.5" r="1"/><circle cx="264.5" cy="376.5" r="1"/><circle cx="265.5" cy="383.5" r="1"/><circle cx="266.5" cy="369.5" r="1"/><circle cx="266.5" cy="383.5" r="1"/><circle cx="266.5" cy="374.5" r="1"/><circle cx="266.5" cy="380.5" r="1"/><circle cx="266.5" cy="383.5" r="1"/><circle cx="266.5" cy="382.5" r="1"/><circle cx="267.5" cy="376.5" r="1"/><circle cx="267.5" cy="373.5" r="1"/><circle cx="267.5" cy="376.5" r="1"/><circle cx="267.5" cy="374.5" r="1"/><circle cx="267.5" cy="382.5" r="1"/><circle cx="267.5" cy="382.5" r="1"/><circle cx="267.5" cy="371.5" r="1"/><circle cx="267.5" cy="371.5" r="1"/><circle cx="267.5" cy="374.5" r="1"/><circle cx="267.5" cy="376.5" r="1"/><circle cx="267.5" cy="383.5" r="1"/><circle cx="267.5" cy="383.5" r="1"/><circle cx="267.5" cy="385.5" r="1"/><circle cx="267.5" cy="380.5" r="1"/><circle cx="267.5" cy="380.5" r="1"/><circle cx="267.5" cy="373.5" r="1"/><circle cx="267.5" cy="374.5" r="1"/><circle cx="267.5" cy="369.5" r="1"/><circle cx="267.5" cy="382.5" r="1"/><circle cx="267.5" cy="373.5" r="1"/><circle cx="267.5" cy="369.5" r="1"/><circle cx="267.5" cy="373.5" r="1"/><circle cx="267.5" cy="374.5" r="1"/><circle cx="267.5" cy="380.5" r="1"/><circle cx="267.5" cy="369.5" r="1"/><circle cx="267.5" cy="373.5" r="1"/><circle cx="267.5" cy="383.5" r="1"/><circle cx="267.5" cy="383.5" r="1"/><circle cx="267.5" cy="378.5" r="1"/><circle cx="267.5" cy="378.5" r="1"/><circle cx="267.5" cy="373.5" r="1"/><circle cx="267.5" cy="383.5" r="1"/><circle cx="267.5" cy="382.5" r="1"/><circle cx="267.5" cy="376.5" r="1"/><circle cx="267.5" cy="371.5" r="1"/><circle cx="267.5" cy="373.5" r="1"/><circle cx="267.5" cy="374.5" r="1"/><circle cx="267.5" cy="374.5" r="1"/><circle cx="267.5" cy="369.5" r="1"/><circle cx="267.5" cy="374.5" r="1"/><circle cx="267.5" cy="376.5" r="1"/><circle cx="267.5" cy="373.5" r="1"/><circle cx="267.5" cy="374.5" r="1"/><circle cx="267.5" cy="374.5" r="1"/><circle cx="267.5" cy="374.5" r="1"/><circle cx="267.5" cy="378.5" r="1"/><circle cx="267.5" cy="376.5" r="1"/><circle cx="267.5" cy="371.5" r="1"/><circle cx="267.5" cy="382.5" r="1"/><circle cx="267.5" cy="376.5" r="1"/><circle cx="267.5" cy="376.5" r="1"/><circle cx="267.5" cy="380.5" r="1"/><circle cx="267.5" cy="382.5" r="1"/><circle cx="267.5" cy="382.5" r="1"/><circle cx="267.5" cy="382.5" r="1"/><circle cx="267.5" cy="380.5" r="1"/><circle cx="267.5" cy="380.5" r="1"/><circle cx="267.5" cy="371.5" r="1"/><circle cx="267.5" cy="380.5" r="1"/><circle cx="267.5" cy="373.5" r="1"/><circle cx="267.5" cy="373.5" r="1"/><circle cx="267.5" cy="371.5" r="1"/><circle cx="267.5" cy="374.5" r="1"/><circle cx="268.5" cy="371.5" r="1"/><circle cx="268.5" cy="373.5" r="1"/><circle cx="268.5" cy="376.5" r="1"/><circle cx="268.5" cy="371.5" r="1"/><circle cx="268.5" cy="376.5" r="1"/><circle cx="268.5" cy="374.5" r="1"/><circle cx="269.5" cy="383.5" r="1"/><circle cx="269.5" cy="378.5" r="1"/><circle cx="269.5" cy="373.5" r="1"/><circle cx="269.5" cy="374.5" r="1"/><circle cx="269.5" cy="376.5" r="1"/><circle cx="269.5" cy="376.5" r="1"/><circle cx="270.5" cy="374.5" r="1"/><circle cx="270.5" cy="371.5" r="1"/><circle cx="270.5" cy="367.5" r="1"/><circle cx="270.5" cy="383.5" r="1"/><circle cx="271.5" cy="382.5" r="1"/><circle cx="271.5" cy="383.5" r="1"/><circle cx="272.5" cy="378.5" r="1"/><circle cx="272.5" cy="366.5" r="1"/><circle cx="272.5" cy="369.5" r="1"/><circle cx="272.5" cy="374.5" r="1"/><circle cx="272.5" cy="378.5" r="1"/><circle cx="273.5" cy="373.5" r="1"/><circle cx="273.5" cy="378.5" r="1"/><circle cx="273.5" cy="367.5" r="1"/><circle cx="273.5" cy="382.5" r="1"/><circle cx="273.5" cy="369.5" r="1"/><circle cx="273.5" cy="378.5" r="1"/><circle cx="273.5" cy="367.5" r="1"/><circle cx="274.5" cy="374.5" r="1"/><circle cx="274.5" cy="374.5" r="1"/><circle cx="274.5" cy="374.5" r="1"/><circle cx="274.5" cy="373.5" r="1"/><circle cx="274.5" cy="367.5" r="1"/><circle cx="274.5" cy="371.5" r="1"/><circle cx="274.5" cy="369.5" r="1"/><circle cx="274.5" cy="369.5" r="1"/><circle cx="274.5" cy="382.5" r="1"/><circle cx="275.5" cy="369.5" r="1"/><circle cx="275.5" cy="373.5" r="1"/><circle cx="276.5" cy="378.5" r="1"/><circle cx="276.5" cy="376.5" r="1"/><circle cx="276.5" cy="369.5" r="1"/><circle cx="276.5" cy="385.5" r="1"/><circle cx="276.5" cy="373.5" r="1"/><circle cx="276.5" cy="378.5" r="1"/><circle cx="276.5" cy="366.5" r="1"/><circle cx="276.5" cy="385.5" r="1"/><circle cx="276.5" cy="366.5" r="1"/><circle cx="277.5" cy="387.5" r="1"/><circle cx="277.5" cy="362.5" r="1"/><circle cx="277.5" cy="371.5" r="1"/><circle cx="277.5" cy="367.5" r="1"/><circle cx="277.5" cy="362.5" r="1"/><circle cx="277.5" cy="374.5" r="1"/><circle cx="277.5" cy="364.5" r="1"/><circle cx="278.5" cy="364.5" r="1"/><circle cx="278.5" cy="383.5" r="1"/><circle cx="278.5" cy="378.5" r="1"/><circle cx="278.5" cy="367.5" r="1"/><circle cx="278.5" cy="376.5" r="1"/><circle cx="278.5" cy="369.5" r="1"/><circle cx="278.5" cy="385.5" r="1"/><circle cx="278.5" cy="371.5" r="1"/><circle cx="278.5" cy="367.5" r="1"/><circle cx="278.5" cy="362.5" r="1"/><circle cx="278.5" cy="371.5" r="1"/><circle cx="279.5" cy="369.5" r="1"/><circle cx="279.5" cy="382.5" r="1"/><circle cx="279.5" cy="364.5" r="1"/><circle cx="280.5" cy="376.5" r="1"/><circle cx="280.5" cy="374.5" r="1"/><circle cx="280.5" cy="378.5" r="1"/><circle cx="280.5" cy="369.5" r="1"/><circle cx="280.5" cy="371.5" r="1"/><circle cx="280.5" cy="367.5" r="1"/><circle cx="280.5" cy="369.5" r="1"/><circle cx="280.5" cy="366.5" r="1"/><circle cx="280.5" cy="383.5" r="1"/><circle cx="280.5" cy="382.5" r="1"/><circle cx="280.5" cy="371.5" r="1"/><circle cx="280.5" cy="378.5" r="1"/><circle cx="280.5" cy="373.5" r="1"/><circle cx="280.5" cy="369.5" r="1"/><circle cx="280.5" cy="371.5" r="1"/><circle cx="281.5" cy="383.5" r="1"/><circle cx="281.5" cy="369.5" r="1"/><circle cx="281.5" cy="380.5" r="1"/><circle cx="281.5" cy="366.5" r="1"/><circle cx="281.5" cy="378.5" r="1"/><circle cx="281.5" cy="380.5" r="1"/><circle cx="281.5" cy="380.5" r="1"/><circle cx="281.5" cy="383.5" r="1"/><circle cx="281.5" cy="378.5" r="1"/><circle cx="282.5" cy="371.5" r="1"/><circle cx="282.5" cy="376.5" r="1"/><circle cx="282.5" cy="378.5" r="1"/><circle cx="283.5" cy="380.5" r="1"/><circle cx="283.5" cy="369.5" r="1"/><circle cx="283.5" cy="376.5" r="1"/><circle cx="283.5" cy="374.5" r="1"/><circle cx="283.5" cy="369.5" r="1"/><circle cx="283.5" cy="373.5" r="1"/><circle cx="283.5" cy="374.5" r="1"/><circle cx="283.5" cy="373.5" r="1"/><circle cx="283.5" cy="366.5" r="1"/><circle cx="283.5" cy="382.5" r="1"/><circle cx="283.5" cy="380.5" r="1"/><circle cx="283.5" cy="364.5" r="1"/><circle cx="284.5" cy="378.5" r="1"/><circle cx="284.5" cy="374.5" r="1"/><circle cx="284.5" cy="378.5" r="1"/><circle cx="284.5" cy="367.5" r="1"/><circle cx="284.5" cy="376.5" r="1"/><circle cx="284.5" cy="378.5" r="1"/><circle cx="284.5" cy="369.5" r="1"/><circle cx="285.5" cy="366.5" r="1"/><circle cx="285.5" cy="367.5" r="1"/><circle cx="285.5" cy="364.5" r="1"/><circle cx="285.5" cy="376.5" r="1"/><circle cx="285.5" cy="369.5" r="1"/><circle cx="285.5" cy="373.5" r="1"/><circle cx="285.5" cy="367.5" r="1"/><circle cx="285.5" cy="369.5" r="1"/><circle cx="286.5" cy="366.5" r="1"/><circle cx="286.5" cy="374.5" r="1"/><circle cx="286.5" cy="376.5" r="1"/><circle cx="286.5" cy="373.5" r="1"/><circle cx="286.5" cy="378.5" r="1"/><circle cx="286.5" cy="364.5" r="1"/><circle cx="286.5" cy="371.5" r="1"/><circle cx="286.5" cy="374.5" r="1"/><circle cx="286.5" cy="378.5" r="1"/><circle cx="286.5" cy="373.5" r="1"/><circle cx="287.5" cy="371.5" r="1"/><circle cx="287.5" cy="376.5" r="1"/><circle cx="287.5" cy="376.5" r="1"/><circle cx="287.5" cy="374.5" r="1"/><circle cx="287.5" cy="378.5" r="1"/><circle cx="287.5" cy="362.5" r="1"/><circle cx="287.5" cy="374.5" r="1"/><circle cx="287.5" cy="369.5" r="1"/><circle cx="287.5" cy="374.5" r="1"/><circle cx="287.5" cy="366.5" r="1"/><circle cx="287.5" cy="369.5" r="1"/><circle cx="287.5" cy="376.5" r="1"/><circle cx="287.5" cy="362.5" r="1"/><circle cx="287.5" cy="366.5" r="1"/><circle cx="287.5" cy="369.5" r="1"/><circle cx="287.5" cy="376.5" r="1"/><circle cx="287.5" cy="366.5" r="1"/><circle cx="287.5" cy="376.5" r="1"/><circle cx="287.5" cy="366.5" r="1"/><circle cx="287.5" cy="366.5" r="1"/><circle cx="287.5" cy="371.5" r="1"/><circle cx="287.5" cy="373.5" r="1"/><circle cx="287.5" cy="376.5" r="1"/><circle cx="287.5" cy="376.5" r="1"/><circle cx="287.5" cy="366.5" r="1"/><circle cx="287.5" cy="374.5" r="1"/><circle cx="287.5" cy="373.5" r="1"/><circle cx="287.5" cy="367.5" r="1"/><circle cx="287.5" cy="374.5" r="1"/><circle cx="287.5" cy="376.5" r="1"/><circle cx="287.5" cy="369.5" r="1"/><circle cx="287.5" cy="378.5" r="1"/><circle cx="287.5" cy="364.5" r="1"/><circle cx="288.5" cy="366.5" r="1"/><circle cx="288.5" cy="374.5" r="1"/><circle cx="288.5" cy="376.5" r="1"/><circle cx="288.5" cy="376.5" r="1"/><circle cx="288.5" cy="369.5" r="1"/><circle cx="288.5" cy="367.5" r="1"/><circle cx="288.5" cy="369.5" r="1"/><circle cx="289.5" cy="362.5" r="1"/><circle cx="289.5" cy="367.5" r="1"/><circle cx="289.5" cy="360.5" r="1"/><circle cx="289.5" cy="369.5" r="1"/><circle cx="289.5" cy="373.5" r="1"/><circle cx="289.5" cy="373.5" r="1"/><circle cx="289.5" cy="378.5" r="1"/><circle cx="289.5" cy="376.5" r="1"/><circle cx="289.5" cy="373.5" r="1"/><circle cx="289.5" cy="376.5" r="1"/><circle cx="289.5" cy="367.5" r="1"/><circle cx="289.5" cy="374.5" r="1"/><circle cx="289.5" cy="366.5" r="1"/><circle cx="290.5" cy="366.5" r="1"/><circle cx="290.5" cy="376.5" r="1"/><circle cx="290.5" cy="359.5" r="1"/><circle cx="290.5" cy="364.5" r="1"/><circle cx="290.5" cy="362.5" r="1"/><circle cx="290.5" cy="364.5" r="1"/><circle cx="290.5" cy="380.5" r="1"/><circle cx="290.5" cy="359.5" r="1"/><circle cx="290.5" cy="366.5" r="1"/><circle cx="290.5" cy="371.5" r="1"/><circle cx="290.5" cy="374.5" r="1"/><circle cx="291.5" cy="380.5" r="1"/><circle cx="291.5" cy="374.5" r="1"/><circle cx="291.5" cy="371.5" r="1"/><circle cx="291.5" cy="371.5" r="1"/><circle cx="291.5" cy="374.5" r="1"/><circle cx="291.5" cy="373.5" r="1"/><circle cx="292.5" cy="378.5" r="1"/><circle cx="293.5" cy="373.5" r="1"/><circle cx="293.5" cy="366.5" r="1"/><circle cx="293.5" cy="359.5" r="1"/><circle cx="293.5" cy="360.5" r="1"/><circle cx="293.5" cy="369.5" r="1"/><circle cx="293.5" cy="364.5" r="1"/><circle cx="293.5" cy="378.5" r="1"/><circle cx="293.5" cy="360.5" r="1"/><circle cx="293.5" cy="357.5" r="1"/><circle cx="293.5" cy="383.5" r="1"/><circle cx="294.5" cy="359.5" r="1"/><circle cx="294.5" cy="380.5" r="1"/><circle cx="294.5" cy="383.5" r="1"/><circle cx="294.5" cy="373.5" r="1"/><circle cx="295.5" cy="380.5" r="1"/><circle cx="295.5" cy="376.5" r="1"/><circle cx="295.5" cy="360.5" r="1"/><circle cx="295.5" cy="360.5" r="1"/><circle cx="296.5" cy="382.5" r="1"/><circle cx="296.5" cy="366.5" r="1"/><circle cx="296.5" cy="371.5" r="1"/><circle cx="296.5" cy="364.5" r="1"/><circle cx="296.5" cy="376.5" r="1"/><circle cx="296.5" cy="362.5" r="1"/><circle cx="296.5" cy="366.5" r="1"/><circle cx="296.5" cy="380.5" r="1"/><circle cx="296.5" cy="373.5" r="1"/><circle cx="296.5" cy="376.5" r="1"/><circle cx="296.5" cy="378.5" r="1"/><circle cx="296.5" cy="374.5" r="1"/><circle cx="296.5" cy="366.5" r="1"/><circle cx="296.5" cy="378.5" r="1"/><circle cx="296.5" cy="364.5" r="1"/><circle cx="296.5" cy="367.5" r="1"/><circle cx="296.5" cy="371.5" r="1"/><circle cx="296.5" cy="364.5" r="1"/><circle cx="296.5" cy="364.5" r="1"/><circle cx="296.5" cy="376.5" r="1"/><circle cx="296.5" cy="378.5" r="1"/><circle cx="296.5" cy="369.5" r="1"/><circle cx="297.5" cy="376.5" r="1"/><circle cx="297.5" cy="382.5" r="1"/><circle cx="297.5" cy="364.5" r="1"/><circle cx="297.5" cy="373.5" r="1"/><circle cx="297.5" cy="362.5" r="1"/><circle cx="297.5" cy="382.5" r="1"/><circle cx="297.5" cy="380.5" r="1"/><circle cx="297.5" cy="362.5" r="1"/><circle cx="297.5" cy="380.5" r="1"/><circle cx="297.5" cy="378.5" r="1"/><circle cx="297.5" cy="364.5" r="1"/><circle cx="298.5" cy="382.5" r="1"/><circle cx="298.5" cy="380.5" r="1"/><circle cx="298.5" cy="382.5" r="1"/><circle cx="298.5" cy="376.5" r="1"/><circle cx="298.5" cy="376.5" r="1"/><circle cx="298.5" cy="374.5" r="1"/><circle cx="298.5" cy="380.5" r="1"/><circle cx="299.5" cy="378.5" r="1"/><circle cx="299.5" cy="367.5" r="1"/><circle cx="299.5" cy="362.5" r="1"/><circle cx="299.5" cy="364.5" r="1"/><circle cx="299.5" cy="366.5" r="1"/><circle cx="299.5" cy="383.5" r="1"/><circle cx="299.5" cy="380.5" r="1"/><circle cx="299.5" cy="380.5" r="1"/><circle cx="299.5" cy="373.5" r="1"/><circle cx="299.5" cy="364.5" r="1"/><circle cx="299.5" cy="373.5" r="1"/><circle cx="299.5" cy="383.5" r="1"/><circle cx="299.5" cy="374.5" r="1"/><circle cx="299.5" cy="376.5" r="1"/><circle cx="299.5" cy="371.5" r="1"/><circle cx="299.5" cy="366.5" r="1"/><circle cx="300.5" cy="374.5" r="1"/><circle cx="300.5" cy="385.5" r="1"/><circle cx="300.5" cy="380.5" r="1"/><circle cx="300.5" cy="380.5" r="1"/><circle cx="300.5" cy="371.5" r="1"/><circle cx="300.5" cy="382.5" r="1"/><circle cx="300.5" cy="371.5" r="1"/><circle cx="300.5" cy="385.5" r="1"/><circle cx="301.5" cy="376.5" r="1"/><circle cx="301.5" cy="382.5" r="1"/><circle cx="301.5" cy="366.5" r="1"/><circle cx="301.5" cy="385.5" r="1"/><circle cx="301.5" cy="371.5" r="1"/><circle cx="301.5" cy="387.5" r="1"/><circle cx="301.5" cy="380.5" r="1"/><circle cx="301.5" cy="374.5" r="1"/><circle cx="302.5" cy="378.5" r="1"/><circle cx="302.5" cy="382.5" r="1"/><circle cx="302.5" cy="385.5" r="1"/><circle cx="302.5" cy="371.5" r="1"/><circle cx="302.5" cy="385.5" r="1"/><circle cx="302.5" cy="371.5" r="1"/><circle cx="302.5" cy="385.5" r="1"/><circle cx="302.5" cy="385.5" r="1"/><circle cx="302.5" cy="367.5" r="1"/><circle cx="302.5" cy="383.5" r="1"/><circle cx="303.5" cy="373.5" r="1"/><circle cx="303.5" cy="383.5" r="1"/><circle cx="303.5" cy="385.5" r="1"/><circle cx="303.5" cy="367.5" r="1"/><circle cx="303.5" cy="382.5" r="1"/><circle cx="303.5" cy="369.5" r="1"/><circle cx="303.5" cy="367.5" r="1"/><circle cx="303.5" cy="367.5" r="1"/><circle cx="303.5" cy="376.5" r="1"/><circle cx="303.5" cy="369.5" r="1"/><circle cx="303.5" cy="369.5" r="1"/><circle cx="303.5" cy="366.5" r="1"/><circle cx="303.5" cy="371.5" r="1"/><circle cx="304.5" cy="371.5" r="1"/><circle cx="304.5" cy="385.5" r="1"/><circle cx="304.5" cy="387.5" r="1"/><circle cx="305.5" cy="374.5" r="1"/><circle cx="305.5" cy="367.5" r="1"/><circle cx="305.5" cy="376.5" r="1"/><circle cx="305.5" cy="387.5" r="1"/><circle cx="305.5" cy="385.5" r="1"/><circle cx="305.5" cy="373.5" r="1"/><circle cx="305.5" cy="366.5" r="1"/><circle cx="305.5" cy="385.5" r="1"/><circle cx="305.5" cy="389.5" r="1"/><circle cx="305.5" cy="376.5" r="1"/><circle cx="305.5" cy="369.5" r="1"/><circle cx="305.5" cy="376.5" r="1"/><circle cx="305.5" cy="382.5" r="1"/><circle cx="305.5" cy="376.5" r="1"/><circle cx="305.5" cy="373.5" r="1"/><circle cx="305.5" cy="369.5" r="1"/><circle cx="306.5" cy="387.5" r="1"/><circle cx="306.5" cy="364.5" r="1"/><circle cx="306.5" cy="382.5" r="1"/><circle cx="306.5" cy="383.5" r="1"/><circle cx="306.5" cy="374.5" r="1"/><circle cx="307.5" cy="389.5" r="1"/><circle cx="307.5" cy="380.5" r="1"/><circle cx="307.5" cy="387.5" r="1"/><circle cx="307.5" cy="371.5" r="1"/><circle cx="307.5" cy="389.5" r="1"/><circle cx="307.5" cy="367.5" r="1"/><circle cx="307.5" cy="378.5" r="1"/><circle cx="307.5" cy="367.5" r="1"/><circle cx="307.5" cy="369.5" r="1"/><circle cx="308.5" cy="387.5" r="1"/><circle cx="308.5" cy="382.5" r="1"/><circle cx="308.5" cy="382.5" r="1"/><circle cx="308.5" cy="389.5" r="1"/><circle cx="308.5" cy="366.5" r="1"/><circle cx="309.5" cy="383.5" r="1"/><circle cx="309.5" cy="380.5" r="1"/><circle cx="309.5" cy="371.5" r="1"/><circle cx="309.5" cy="366.5" r="1"/><circle cx="310.5" cy="378.5" r="1"/><circle cx="310.5" cy="367.5" r="1"/><circle cx="310.5" cy="383.5" r="1"/><circle cx="310.5" cy="378.5" r="1"/><circle cx="311.5" cy="383.5" r="1"/><circle cx="311.5" cy="373.5" r="1"/><circle cx="311.5" cy="376.5" r="1"/><circle cx="311.5" cy="382.5" r="1"/><circle cx="311.5" cy="366.5" r="1"/><circle cx="311.5" cy="371.5" r="1"/><circle cx="311.5" cy="367.5" r="1"/><circle cx="311.5" cy="383.5" r="1"/><circle cx="312.5" cy="371.5" r="1"/><circle cx="312.5" cy="389.5" r="1"/><circle cx="312.5" cy="378.5" r="1"/><circle cx="312.5" cy="382.5" r="1"/><circle cx="312.5" cy="383.5" r="1"/><circle cx="312.5" cy="385.5" r="1"/><circle cx="312.5" cy="373.5" r="1"/><circle cx="312.5" cy="367.5" r="1"/><circle cx="312.5" cy="376.5" r="1"/><circle cx="312.5" cy="369.5" r="1"/><circle cx="312.5" cy="366.5" r="1"/><circle cx="312.5" cy="387.5" r="1"/><circle cx="312.5" cy="380.5" r="1"/><circle cx="312.5" cy="376.5" r="1"/><circle cx="312.5" cy="369.5" r="1"/><circle cx="312.5" cy="383.5" r="1"/><circle cx="312.5" cy="378.5" r="1"/><circle cx="312.5" cy="369.5" r="1"/><circle cx="312.5" cy="389.5" r="1"/><circle cx="312.5" cy="389.5" r="1"/><circle cx="312.5" cy="389.5" r="1"/><circle cx="312.5" cy="385.5" r="1"/><circle cx="313.5" cy="366.5" r="1"/><circle cx="313.5" cy="383.5" r="1"/><circle cx="313.5" cy="374.5" r="1"/><circle cx="313.5" cy="382.5" r="1"/><circle cx="314.5" cy="374.5" r="1"/><circle cx="314.5" cy="371.5" r="1"/><circle cx="314.5" cy="369.5" r="1"/><circle cx="314.5" cy="387.5" r="1"/><circle cx="314.5" cy="366.5" r="1"/><circle cx="314.5" cy="369.5" r="1"/><circle cx="314.5" cy="383.5" r="1"/><circle cx="315.5" cy="369.5" r="1"/><circle cx="315.5" cy="371.5" r="1"/><circle cx="315.5" cy="389.5" r="1"/><circle cx="316.5" cy="367.5" r="1"/><circle cx="316.5" cy="366.5" r="1"/><circle cx="316.5" cy="373.5" r="1"/><circle cx="316.5" cy="385.5" r="1"/><circle cx="317.5" cy="366.5" r="1"/><circle cx="317.5" cy="382.5" r="1"/><circle cx="317.5" cy="380.5" r="1"/><circle cx="317.5" cy="383.5" r="1"/><circle cx="317.5" cy="369.5" r="1"/><circle cx="317.5" cy="371.5" r="1"/><circle cx="317.5" cy="378.5" r="1"/><circle cx="317.5" cy="385.5" r="1"/><circle cx="317.5" cy="374.5" r="1"/><circle cx="317.5" cy="369.5" r="1"/><circle cx="317.5" cy="378.5" r="1"/><circle cx="317.5" cy="385.5" r="1"/><circle cx="317.5" cy="383.5" r="1"/><circle cx="317.5" cy="385.5" r="1"/><circle cx="317.5" cy="374.5" r="1"/><circle cx="318.5" cy="376.5" r="1"/><circle cx="318.5" cy="369.5" r="1"/><circle cx="318.5" cy="371.5" r="1"/><circle cx="318.5" cy="371.5" r="1"/><circle cx="318.5" cy="371.5" r="1"/><circle cx="318.5" cy="376.5" r="1"/><circle cx="318.5" cy="367.5" r="1"/><circle cx="318.5" cy="382.5" r="1"/><circle cx="318.5" cy="369.5" r="1"/><circle cx="318.5" cy="374.5" r="1"/><circle cx="318.5" cy="378.5" r="1"/><circle cx="319.5" cy="374.5" r="1"/><circle cx="319.5" cy="380.5" r="1"/><circle cx="319.5" cy="382.5" r="1"/><circle cx="319.5" cy="382.5" r="1"/><circle cx="319.5" cy="369.5" r="1"/><circle cx="319.5" cy="382.5" r="1"/><circle cx="319.5" cy="376.5" r="1"/><circle cx="319.5" cy="378.5" r="1"/><circle cx="319.5" cy="382.5" r="1"/><circle cx="320.5" cy="383.5" r="1"/><circle cx="320.5" cy="374.5" r="1"/><circle cx="320.5" cy="371.5" r="1"/><circle cx="320.5" cy="366.5" r="1"/><circle cx="320.5" cy="382.5" r="1"/><circle cx="320.5" cy="371.5" r="1"/><circle cx="320.5" cy="374.5" r="1"/><circle cx="320.5" cy="369.5" r="1"/><circle cx="320.5" cy="378.5" r="1"/><circle cx="320.5" cy="373.5" r="1"/><circle cx="320.5" cy="382.5" r="1"/><circle cx="321.5" cy="373.5" r="1"/><circle cx="321.5" cy="374.5" r="1"/><circle cx="321.5" cy="369.5" r="1"/><circle cx="321.5" cy="374.5" r="1"/><circle cx="321.5" cy="376.5" r="1"/><circle cx="321.5" cy="366.5" r="1"/><circle cx="321.5" cy="373.5" r="1"/><circle cx="321.5" cy="371.5" r="1"/><circle cx="321.5" cy="378.5" r="1"/><circle cx="322.5" cy="366.5" r="1"/><circle cx="322.5" cy="385.5" r="1"/><circle cx="322.5" cy="383.5" r="1"/><circle cx="322.5" cy="378.5" r="1"/><circle cx="322.5" cy="382.5" r="1"/><circle cx="322.5" cy="378.5" r="1"/><circle cx="322.5" cy="383.5" r="1"/><circle cx="323.5" cy="369.5" r="1"/><circle cx="323.5" cy="380.5" r="1"/><circle cx="323.5" cy="371.5" r="1"/><circle cx="323.5" cy="380.5" r="1"/><circle cx="323.5" cy="382.5" r="1"/><circle cx="323.5" cy="374.5" r="1"/><circle cx="323.5" cy="387.5" r="1"/><circle cx="323.5" cy="378.5" r="1"/><circle cx="323.5" cy="382.5" r="1"/><circle cx="323.5" cy="366.5" r="1"/><circle cx="323.5" cy="367.5" r="1"/><circle cx="323.5" cy="380.5" r="1"/><circle cx="323.5" cy="385.5" r="1"/><circle cx="323.5" cy="378.5" r="1"/><circle cx="324.5" cy="380.5" r="1"/><circle cx="324.5" cy="380.5" r="1"/><circle cx="324.5" cy="376.5" r="1"/><circle cx="324.5" cy="371.5" r="1"/><circle cx="324.5" cy="366.5" r="1"/><circle cx="324.5" cy="369.5" r="1"/><circle cx="325.5" cy="371.5" r="1"/><circle cx="325.5" cy="376.5" r="1"/><circle cx="325.5" cy="378.5" r="1"/><circle cx="325.5" cy="383.5" r="1"/><circle cx="325.5" cy="383.5" r="1"/><circle cx="325.5" cy="387.5" r="1"/><circle cx="325.5" cy="385.5" r="1"/><circle cx="325.5" cy="374.5" r="1"/><circle cx="325.5" cy="369.5" r="1"/><circle cx="325.5" cy="385.5" r="1"/><circle cx="325.5" cy="371.5" r="1"/><circle cx="325.5" cy="378.5" r="1"/><circle cx="326.5" cy="387.5" r="1"/><circle cx="326.5" cy="378.5" r="1"/><circle cx="326.5" cy="369.5" r="1"/><circle cx="326.5" cy="378.5" r="1"/><circle cx="326.5" cy="371.5" r="1"/><circle cx="326.5" cy="376.5" r="1"/><circle cx="326.5" cy="374.5" r="1"/><circle cx="326.5" cy="378.5" r="1"/><circle cx="326.5" cy="385.5" r="1"/><circle cx="326.5" cy="383.5" r="1"/><circle cx="326.5" cy="374.5" r="1"/><circle cx="327.5" cy="371.5" r="1"/><circle cx="327.5" cy="380.5" r="1"/><circle cx="327.5" cy="373.5" r="1"/><circle cx="327.5" cy="374.5" r="1"/><circle cx="327.5" cy="374.5" r="1"/><circle cx="328.5" cy="380.5" r="1"/><circle cx="328.5" cy="371.5" r="1"/><circle cx="328.5" cy="374.5" r="1"/><circle cx="328.5" cy="385.5" r="1"/><circle cx="328.5" cy="378.5" r="1"/><circle cx="328.5" cy="383.5" r="1"/><circle cx="329.5" cy="385.5" r="1"/><circle cx="329.5" cy="373.5" r="1"/><circle cx="329.5" cy="376.5" r="1"/><circle cx="329.5" cy="385.5" r="1"/><circle cx="329.5" cy="369.5" r="1"/><circle cx="329.5" cy="385.5" r="1"/><circle cx="329.5" cy="373.5" r="1"/><circle cx="330.5" cy="374.5" r="1"/><circle cx="330.5" cy="383.5" r="1"/><circle cx="330.5" cy="364.5" r="1"/><circle cx="330.5" cy="364.5" r="1"/><circle cx="330.5" cy="367.5" r="1"/><circle cx="330.5" cy="378.5" r="1"/><circle cx="330.5" cy="382.5" r="1"/><circle cx="330.5" cy="374.5" r="1"/><circle cx="330.5" cy="378.5" r="1"/><circle cx="330.5" cy="378.5" r="1"/><circle cx="330.5" cy="364.5" r="1"/><circle cx="330.5" cy="369.5" r="1"/><circle cx="330.5" cy="387.5" r="1"/><circle cx="330.5" cy="371.5" r="1"/><circle cx="330.5" cy="385.5" r="1"/><circle cx="330.5" cy="374.5" r="1"/><circle cx="330.5" cy="369.5" r="1"/><circle cx="330.5" cy="364.5" r="1"/><circle cx="330.5" cy="369.5" r="1"/><circle cx="331.5" cy="369.5" r="1"/><circle cx="331.5" cy="385.5" r="1"/><circle cx="331.5" cy="364.5" r="1"/><circle cx="331.5" cy="380.5" r="1"/><circle cx="332.5" cy="385.5" r="1"/><circle cx="332.5" cy="373.5" r="1"/><circle cx="332.5" cy="366.5" r="1"/><circle cx="333.5" cy="374.5" r="1"/><circle cx="333.5" cy="371.5" r="1"/><circle cx="333.5" cy="366.5" r="1"/><circle cx="333.5" cy="387.5" r="1"/><circle cx="333.5" cy="376.5" r="1"/><circle cx="333.5" cy="369.5" r="1"/><circle cx="334.5" cy="378.5" r="1"/><circle cx="334.5" cy="367.5" r="1"/><circle cx="334.5" cy="369.5" r="1"/><circle cx="334.5" cy="369.5" r="1"/><circle cx="334.5" cy="373.5" r="1"/><circle cx="334.5" cy="373.5" r="1"/><circle cx="334.5" cy="382.5" r="1"/><circle cx="334.5" cy="367.5" r="1"/><circle cx="334.5" cy="369.5" r="1"/><circle cx="334.5" cy="380.5" r="1"/><circle cx="334.5" cy="380.5" r="1"/><circle cx="335.5" cy="378.5" r="1"/><circle cx="335.5" cy="383.5" r="1"/><circle cx="335.5" cy="369.5" r="1"/><circle cx="335.5" cy="371.5" r="1"/><circle cx="335.5" cy="383.5" r="1"/><circle cx="335.5" cy="371.5" r="1"/><circle cx="335.5" cy="378.5" r="1"/><circle cx="335.5" cy="373.5" r="1"/><circle cx="335.5" cy="376.5" r="1"/><circle cx="335.5" cy="385.5" r="1"/><circle cx="335.5" cy="382.5" r="1"/><circle cx="335.5" cy="376.5" r="1"/><circle cx="335.5" cy="373.5" r="1"/><circle cx="335.5" cy="383.5" r="1"/><circle cx="336.5" cy="382.5" r="1"/><circle cx="336.5" cy="387.5" r="1"/><circle cx="336.5" cy="382.5" r="1"/><circle cx="336.5" cy="387.5" r="1"/><circle cx="336.5" cy="380.5" r="1"/><circle cx="336.5" cy="382.5" r="1"/><circle cx="336.5" cy="385.5" r="1"/><circle cx="336.5" cy="371.5" r="1"/><circle cx="336.5" cy="378.5" r="1"/><circle cx="336.5" cy="380.5" r="1"/><circle cx="337.5" cy="374.5" r="1"/><circle cx="337.5" cy="373.5" r="1"/><circle cx="337.5" cy="373.5" r="1"/><circle cx="337.5" cy="376.5" r="1"/><circle cx="337.5" cy="371.5" r="1"/><circle cx="337.5" cy="385.5" r="1"/><circle cx="337.5" cy="387.5" r="1"/><circle cx="337.5" cy="369.5" r="1"/><circle cx="338.5" cy="373.5" r="1"/><circle cx="338.5" cy="371.5" r="1"/><circle cx="338.5" cy="373.5" r="1"/><circle cx="338.5" cy="382.5" r="1"/><circle cx="338.5" cy="367.5" r="1"/><circle cx="339.5" cy="380.5" r="1"/><circle cx="339.5" cy="380.5" r="1"/><circle cx="340.5" cy="382.5" r="1"/><circle cx="340.5" cy="367.5" r="1"/><circle cx="340.5" cy="371.5" r="1"/><circle cx="340.5" cy="385.5" r="1"/><circle cx="340.5" cy="373.5" r="1"/><circle cx="340.5" cy="383.5" r="1"/><circle cx="340.5" cy="385.5" r="1"/><circle cx="340.5" cy="378.5" r="1"/><circle cx="340.5" cy="366.5" r="1"/><circle cx="341.5" cy="378.5" r="1"/><circle cx="341.5" cy="382.5" r="1"/><circle cx="341.5" cy="366.5" r="1"/><circle cx="341.5" cy="364.5" r="1"/><circle cx="341.5" cy="378.5" r="1"/><circle cx="341.5" cy="373.5" r="1"/><circle cx="342.5" cy="371.5" r="1"/><circle cx="342.5" cy="371.5" r="1"/><circle cx="342.5" cy="367.5" r="1"/><circle cx="342.5" cy="367.5" r="1"/><circle cx="342.5" cy="367.5" r="1"/><circle cx="342.5" cy="364.5" r="1"/><circle cx="342.5" cy="374.5" r="1"/><circle cx="342.5" cy="373.5" r="1"/><circle cx="342.5" cy="380.5" r="1"/><circle cx="342.5" cy="378.5" r="1"/><circle cx="342.5" cy="385.5" r="1"/><circle cx="342.5" cy="369.5" r="1"/><circle cx="342.5" cy="383.5" r="1"/><circle cx="342.5" cy="371.5" r="1"/><circle cx="342.5" cy="378.5" r="1"/><circle cx="343.5" cy="376.5" r="1"/><circle cx="343.5" cy="364.5" r="1"/><circle cx="343.5" cy="373.5" r="1"/><circle cx="343.5" cy="364.5" r="1"/><circle cx="343.5" cy="366.5" r="1"/><circle cx="343.5" cy="376.5" r="1"/><circle cx="343.5" cy="383.5" r="1"/><circle cx="343.5" cy="385.5" r="1"/><circle cx="343.5" cy="367.5" r="1"/><circle cx="343.5" cy="364.5" r="1"/><circle cx="344.5" cy="371.5" r="1"/><circle cx="344.5" cy="378.5" r="1"/><circle cx="344.5" cy="367.5" r="1"/><circle cx="344.5" cy="374.5" r="1"/><circle cx="344.5" cy="362.5" r="1"/><circle cx="344.5" cy="366.5" r="1"/><circle cx="344.5" cy="369.5" r="1"/><circle cx="344.5" cy="362.5" r="1"/><circle cx="344.5" cy="369.5" r="1"/><circle cx="344.5" cy="366.5" r="1"/><circle cx="344.5" cy="380.5" r="1"/><circle cx="344.5" cy="367.5" r="1"/><circle cx="345.5" cy="373.5" r="1"/><circle cx="345.5" cy="371.5" r="1"/><circle cx="345.5" cy="366.5" r="1"/><circle cx="345.5" cy="371.5" r="1"/><circle cx="345.5" cy="373.5" r="1"/><circle cx="345.5" cy="362.5" r="1"/><circle cx="346.5" cy="376.5" r="1"/><circle cx="346.5" cy="373.5" r="1"/><circle cx="346.5" cy="364.5" r="1"/><circle cx="346.5" cy="376.5" r="1"/><circle cx="346.5" cy="366.5" r="1"/><circle cx="346.5" cy="374.5" r="1"/><circle cx="346.5" cy="362.5" r="1"/><circle cx="347.5" cy="369.5" r="1"/><circle cx="347.5" cy="369.5" r="1"/><circle cx="347.5" cy="380.5" r="1"/><circle cx="347.5" cy="374.5" r="1"/><circle cx="348.5" cy="364.5" r="1"/><circle cx="348.5" cy="380.5" r="1"/><circle cx="348.5" cy="376.5" r="1"/><circle cx="348.5" cy="371.5" r="1"/><circle cx="348.5" cy="376.5" r="1"/><circle cx="348.5" cy="371.5" r="1"/><circle cx="348.5" cy="366.5" r="1"/><circle cx="348.5" cy="371.5" r="1"/><circle cx="348.5" cy="364.5" r="1"/><circle cx="348.5" cy="364.5" r="1"/><circle cx="348.5" cy="371.5" r="1"/><circle cx="348.5" cy="380.5" r="1"/><circle cx="349.5" cy="380.5" r="1"/><circle cx="349.5" cy="376.5" r="1"/><circle cx="349.5" cy="367.5" r="1"/><circle cx="349.5" cy="382.5" r="1"/><circle cx="349.5" cy="364.5" r="1"/><circle cx="349.5" cy="383.5" r="1"/><circle cx="349.5" cy="378.5" r="1"/><circle cx="349.5" cy="376.5" r="1"/><circle cx="349.5" cy="373.5" r="1"/><circle cx="349.5" cy="382.5" r="1"/><circle cx="349.5" cy="364.5" r="1"/><circle cx="349.5" cy="364.5" r="1"/><circle cx="350.5" cy="380.5" r="1"/><circle cx="350.5" cy="382.5" r="1"/><circle cx="350.5" cy="387.5" r="1"/><circle cx="350.5" cy="367.5" r="1"/><circle cx="350.5" cy="387.5" r="1"/><circle cx="350.5" cy="376.5" r="1"/><circle cx="350.5" cy="369.5" r="1"/><circle cx="350.5" cy="373.5" r="1"/><circle cx="351.5" cy="367.5" r="1"/><circle cx="351.5" cy="382.5" r="1"/><circle cx="351.5" cy="378.5" r="1"/><circle cx="351.5" cy="385.5" r="1"/><circle cx="351.5" cy="367.5" r="1"/><circle cx="351.5" cy="385.5" r="1"/><circle cx="351.5" cy="387.5" r="1"/><circle cx="351.5" cy="367.5" r="1"/><circle cx="351.5" cy="376.5" r="1"/><circle cx="351.5" cy="369.5" r="1"/><circle cx="351.5" cy="378.5" r="1"/><circle cx="351.5" cy="369.5" r="1"/><circle cx="351.5" cy="385.5" r="1"/><circle cx="351.5" cy="371.5" r="1"/><circle cx="351.5" cy="382.5" r="1"/><circle cx="351.5" cy="382.5" r="1"/><circle cx="351.5" cy="373.5" r="1"/><circle cx="351.5" cy="371.5" r="1"/><circle cx="351.5" cy="387.5" r="1"/><circle cx="351.5" cy="367.5" r="1"/><circle cx="351.5" cy="373.5" r="1"/><circle cx="351.5" cy="374.5" r="1"/><circle cx="351.5" cy="380.5" r="1"/><circle cx="351.5" cy="374.5" r="1"/><circle cx="351.5" cy="369.5" r="1"/><circle cx="351.5" cy="380.5" r="1"/><circle cx="351.5" cy="382.5" r="1"/><circle cx="351.5" cy="382.5" r="1"/><circle cx="351.5" cy="378.5" r="1"/><circle cx="351.5" cy="373.5" r="1"/><circle cx="351.5" cy="367.5" r="1"/><circle cx="351.5" cy="378.5" r="1"/><circle cx="351.5" cy="380.5" r="1"/><circle cx="351.5" cy="376.5" r="1"/><circle cx="351.5" cy="387.5" r="1"/><circle cx="351.5" cy="371.5" r="1"/><circle cx="351.5" cy="385.5" r="1"/><circle cx="351.5" cy="382.5" r="1"/><circle cx="351.5" cy="387.5" r="1"/><circle cx="351.5" cy="387.5" r="1"/><circle cx="351.5" cy="371.5" r="1"/><circle cx="351.5" cy="387.5" r="1"/><circle cx="351.5" cy="374.5" r="1"/><circle cx="351.5" cy="382.5" r="1"/><circle cx="351.5" cy="387.5" r="1"/><circle cx="351.5" cy="380.5" r="1"/><circle cx="351.5" cy="380.5" r="1"/><circle cx="351.5" cy="367.5" r="1"/><circle cx="351.5" cy="380.5" r="1"/><circle cx="351.5" cy="371.5" r="1"/><circle cx="351.5" cy="374.5" r="1"/><circle cx="351.5" cy="374.5" r="1"/><circle cx="351.5" cy="389.5" r="1"/><circle cx="351.5" cy="380.5" r="1"/><circle cx="351.5" cy="382.5" r="1"/><circle cx="351.5" cy="371.5" r="1"/><circle cx="351.5" cy="373.5" r="1"/><circle cx="351.5" cy="385.5" r="1"/><circle cx="351.5" cy="369.5" r="1"/><circle cx="351.5" cy="387.5" r="1"/><circle cx="351.5" cy="376.5" r="1"/><circle cx="351.5" cy="374.5" r="1"/><circle cx="351.5" cy="378.5" r="1"/><circle cx="351.5" cy="376.5" r="1"/><circle cx="351.5" cy="376.5" r="1"/><circle cx="351.5" cy="376.5" r="1"/><circle cx="351.5" cy="382.5" r="1"/><circle cx="351.5" cy="373.5" r="1"/><circle cx="351.5" cy="371.5" r="1"/><circle cx="351.5" cy="376.5" r="1"/><circle cx="351.5" cy="369.5" r="1"/><circle cx="351.5" cy="376.5" r="1"/><circle cx="351.5" cy="378.5" r="1"/><circle cx="352.5" cy="380.5" r="1"/><circle cx="352.5" cy="382.5" r="1"/><circle cx="352.5" cy="389.5" r="1"/><circle cx="352.5" cy="383.5" r="1"/><circle cx="352.5" cy="380.5" r="1"/><circle cx="352.5" cy="387.5" r="1"/><circle cx="352.5" cy="376.5" r="1"/><circle cx="352.5" cy="367.5" r="1"/><circle cx="353.5" cy="385.5" r="1"/><circle cx="353.5" cy="383.5" r="1"/><circle cx="353.5" cy="390.5" r="1"/><circle cx="353.5" cy="373.5" r="1"/><circle cx="353.5" cy="389.5" r="1"/><circle cx="353.5" cy="387.5" r="1"/><circle cx="353.5" cy="374.5" r="1"/><circle cx="353.5" cy="380.5" r="1"/><circle cx="353.5" cy="383.5" r="1"/><circle cx="354.5" cy="380.5" r="1"/><circle cx="354.5" cy="389.5" r="1"/><circle cx="354.5" cy="382.5" r="1"/><circle cx="354.5" cy="380.5" r="1"/><circle cx="354.5" cy="390.5" r="1"/><circle cx="354.5" cy="378.5" r="1"/><circle cx="354.5" cy="385.5" r="1"/><circle cx="354.5" cy="374.5" r="1"/><circle cx="354.5" cy="387.5" r="1"/><circle cx="354.5" cy="387.5" r="1"/><circle cx="355.5" cy="383.5" r="1"/><circle cx="355.5" cy="389.5" r="1"/><circle cx="355.5" cy="376.5" r="1"/><circle cx="355.5" cy="369.5" r="1"/><circle cx="355.5" cy="373.5" r="1"/><circle cx="355.5" cy="389.5" r="1"/><circle cx="355.5" cy="369.5" r="1"/><circle cx="355.5" cy="371.5" r="1"/><circle cx="355.5" cy="371.5" r="1"/><circle cx="355.5" cy="389.5" r="1"/><circle cx="355.5" cy="378.5" r="1"/><circle cx="355.5" cy="383.5" r="1"/><circle cx="355.5" cy="385.5" r="1"/><circle cx="356.5" cy="382.5" r="1"/><circle cx="356.5" cy="374.5" r="1"/><circle cx="356.5" cy="374.5" r="1"/><circle cx="356.5" cy="387.5" r="1"/><circle cx="357.5" cy="380.5" r="1"/><circle cx="357.5" cy="369.5" r="1"/><circle cx="357.5" cy="376.5" r="1"/><circle cx="357.5" cy="382.5" r="1"/><circle cx="357.5" cy="374.5" r="1"/><circle cx="357.5" cy="389.5" r="1"/><circle cx="357.5" cy="385.5" r="1"/><circle cx="357.5" cy="378.5" r="1"/><circle cx="357.5" cy="387.5" r="1"/><circle cx="357.5" cy="369.5" r="1"/><circle cx="357.5" cy="373.5" r="1"/><circle cx="357.5" cy="387.5" r="1"/><circle cx="357.5" cy="378.5" r="1"/><circle cx="357.5" cy="371.5" r="1"/><circle cx="357.5" cy="380.5" r="1"/><circle cx="357.5" cy="383.5" r="1"/><circle cx="357.5" cy="382.5" r="1"/><circle cx="357.5" cy="369.5" r="1"/><circle cx="357.5" cy="369.5" r="1"/><circle cx="357.5" cy="376.5" r="1"/><circle cx="357.5" cy="369.5" r="1"/><circle cx="357.5" cy="369.5" r="1"/><circle cx="357.5" cy="382.5" r="1"/><circle cx="357.5" cy="378.5" r="1"/><circle cx="358.5" cy="385.5" r="1"/><circle cx="358.5" cy="380.5" r="1"/><circle cx="358.5" cy="380.5" r="1"/><circle cx="358.5" cy="376.5" r="1"/><circle cx="358.5" cy="382.5" r="1"/><circle cx="358.5" cy="373.5" r="1"/><circle cx="358.5" cy="373.5" r="1"/><circle cx="358.5" cy="385.5" r="1"/><circle cx="358.5" cy="371.5" r="1"/><circle cx="358.5" cy="376.5" r="1"/><circle cx="358.5" cy="383.5" r="1"/><circle cx="358.5" cy="374.5" r="1"/><circle cx="358.5" cy="374.5" r="1"/><circle cx="358.5" cy="387.5" r="1"/><circle cx="358.5" cy="371.5" r="1"/><circle cx="358.5" cy="373.5" r="1"/><circle cx="358.5" cy="385.5" r="1"/><circle cx="358.5" cy="373.5" r="1"/><circle cx="358.5" cy="374.5" r="1"/><circle cx="358.5" cy="385.5" r="1"/><circle cx="358.5" cy="374.5" r="1"/><circle cx="359.5" cy="383.5" r="1"/><circle cx="359.5" cy="385.5" r="1"/><circle cx="359.5" cy="371.5" r="1"/><circle cx="359.5" cy="371.5" r="1"/><circle cx="359.5" cy="373.5" r="1"/><circle cx="359.5" cy="369.5" r="1"/><circle cx="359.5" cy="376.5" r="1"/><circle cx="359.5" cy="378.5" r="1"/><circle cx="359.5" cy="380.5" r="1"/><circle cx="359.5" cy="369.5" r="1"/><circle cx="359.5" cy="371.5" r="1"/><circle cx="359.5" cy="369.5" r="1"/><circle cx="360.5" cy="376.5" r="1"/><circle cx="360.5" cy="385.5" r="1"/><circle cx="360.5" cy="380.5" r="1"/><circle cx="360.5" cy="382.5" r="1"/><circle cx="360.5" cy="373.5" r="1"/><circle cx="360.5" cy="373.5" r="1"/><circle cx="360.5" cy="371.5" r="1"/><circle cx="360.5" cy="385.5" r="1"/><circle cx="360.5" cy="383.5" r="1"/><circle cx="360.5" cy="385.5" r="1"/><circle cx="360.5" cy="383.5" r="1"/><circle cx="360.5" cy="383.5" r="1"/><circle cx="361.5" cy="378.5" r="1"/><circle cx="361.5" cy="374.5" r="1"/><circle cx="361.5" cy="380.5" r="1"/><circle cx="361.5" cy="385.5" r="1"/><circle cx="361.5" cy="382.5" r="1"/><circle cx="361.5" cy="371.5" r="1"/><circle cx="361.5" cy="378.5" r="1"/><circle cx="361.5" cy="378.5" r="1"/><circle cx="361.5" cy="367.5" r="1"/><circle cx="362.5" cy="385.5" r="1"/><circle cx="362.5" cy="369.5" r="1"/><circle cx="362.5" cy="369.5" r="1"/><circle cx="362.5" cy="376.5" r="1"/><circle cx="362.5" cy="378.5" r="1"/><circle cx="362.5" cy="382.5" r="1"/><circle cx="362.5" cy="373.5" r="1"/><circle cx="362.5" cy="385.5" r="1"/><circle cx="362.5" cy="380.5" r="1"/><circle cx="362.5" cy="383.5" r="1"/><circle cx="363.5" cy="380.5" r="1"/><circle cx="363.5" cy="374.5" r="1"/><circle cx="363.5" cy="374.5" r="1"/><circle cx="363.5" cy="373.5" r="1"/><circle cx="363.5" cy="369.5" r="1"/><circle cx="363.5" cy="376.5" r="1"/><circle cx="364.5" cy="367.5" r="1"/><circle cx="364.5" cy="376.5" r="1"/><circle cx="364.5" cy="373.5" r="1"/><circle cx="364.5" cy="376.5" r="1"/><circle cx="364.5" cy="376.5" r="1"/><circle cx="364.5" cy="376.5" r="1"/><circle cx="364.5" cy="385.5" r="1"/><circle cx="364.5" cy="385.5" r="1"/><circle cx="364.5" cy="374.5" r="1"/><circle cx="364.5" cy="373.5" r="1"/><circle cx="364.5" cy="380.5" r="1"/><circle cx="364.5" cy="371.5" r="1"/><circle cx="365.5" cy="373.5" r="1"/><circle cx="365.5" cy="378.5" r="1"/><circle cx="365.5" cy="373.5" r="1"/><circle cx="365.5" cy="385.5" r="1"/><circle cx="366.5" cy="382.5" r="1"/><circle cx="366.5" cy="371.5" r="1"/><circle cx="366.5" cy="376.5" r="1"/><circle cx="366.5" cy="378.5" r="1"/><circle cx="366.5" cy="389.5" r="1"/><circle cx="366.5" cy="374.5" r="1"/><circle cx="366.5" cy="378.5" r="1"/><circle cx="366.5" cy="389.5" r="1"/><circle cx="366.5" cy="376.5" r="1"/><circle cx="366.5" cy="385.5" r="1"/><circle cx="366.5" cy="371.5" r="1"/><circle cx="366.5" cy="376.5" r="1"/><circle cx="366.5" cy="373.5" r="1"/><circle cx="366.5" cy="387.5" r="1"/><circle cx="366.5" cy="380.5" r="1"/><circle cx="366.5" cy="373.5" r="1"/><circle cx="367.5" cy="380.5" r="1"/><circle cx="368.5" cy="387.5" r="1"/><circle cx="368.5" cy="371.5" r="1"/><circle cx="368.5" cy="385.5" r="1"/><circle cx="369.5" cy="374.5" r="1"/><circle cx="369.5" cy="387.5" r="1"/><circle cx="369.5" cy="387.5" r="1"/><circle cx="369.5" cy="374.5" r="1"/><circle cx="369.5" cy="373.5" r="1"/><circle cx="369.5" cy="378.5" r="1"/><circle cx="369.5" cy="383.5" r="1"/><circle cx="370.5" cy="385.5" r="1"/><circle cx="370.5" cy="390.5" r="1"/><circle cx="370.5" cy="367.5" r="1"/><circle cx="370.5" cy="382.5" r="1"/><circle cx="370.5" cy="371.5" r="1"/><circle cx="370.5" cy="387.5" r="1"/><circle cx="370.5" cy="373.5" r="1"/><circle cx="370.5" cy="385.5" r="1"/><circle cx="370.5" cy="374.5" r="1"/><circle cx="370.5" cy="383.5" r="1"/><circle cx="370.5" cy="383.5" r="1"/><circle cx="370.5" cy="389.5" r="1"/><circle cx="370.5" cy="389.5" r="1"/><circle cx="370.5" cy="378.5" r="1"/><circle cx="370.5" cy="383.5" r="1"/><circle cx="370.5" cy="371.5" r="1"/><circle cx="370.5" cy="369.5" r="1"/><circle cx="370.5" cy="385.5" r="1"/><circle cx="370.5" cy="389.5" r="1"/><circle cx="370.5" cy="385.5" r="1"/><circle cx="370.5" cy="380.5" r="1"/><circle cx="370.5" cy="382.5" r="1"/><circle cx="370.5" cy="385.5" r="1"/><circle cx="370.5" cy="382.5" r="1"/><circle cx="370.5" cy="376.5" r="1"/><circle cx="370.5" cy="387.5" r="1"/><circle cx="370.5" cy="376.5" r="1"/><circle cx="370.5" cy="389.5" r="1"/><circle cx="370.5" cy="387.5" r="1"/><circle cx="370.5" cy="387.5" r="1"/><circle cx="370.5" cy="387.5" r="1"/><circle cx="371.5" cy="390.5" r="1"/><circle cx="371.5" cy="382.5" r="1"/><circle cx="371.5" cy="366.5" r="1"/><circle cx="371.5" cy="366.5" r="1"/><circle cx="371.5" cy="376.5" r="1"/><circle cx="371.5" cy="385.5" r="1"/><circle cx="371.5" cy="387.5" r="1"/><circle cx="371.5" cy="374.5" r="1"/><circle cx="371.5" cy="378.5" r="1"/><circle cx="371.5" cy="378.5" r="1"/><circle cx="371.5" cy="367.5" r="1"/><circle cx="371.5" cy="364.5" r="1"/><circle cx="371.5" cy="378.5" r="1"/><circle cx="371.5" cy="378.5" r="1"/><circle cx="371.5" cy="387.5" r="1"/><circle cx="371.5" cy="369.5" r="1"/><circle cx="371.5" cy="387.5" r="1"/><circle cx="371.5" cy="371.5" r="1"/><circle cx="371.5" cy="378.5" r="1"/><circle cx="371.5" cy="383.5" r="1"/><circle cx="371.5" cy="369.5" r="1"/><circle cx="371.5" cy="389.5" r="1"/><circle cx="371.5" cy="390.5" r="1"/><circle cx="371.5" cy="390.5" r="1"/><circle cx="372.5" cy="364.5" r="1"/><circle cx="372.5" cy="380.5" r="1"/><circle cx="372.5" cy="376.5" r="1"/><circle cx="372.5" cy="383.5" r="1"/><circle cx="372.5" cy="385.5" r="1"/><circle cx="372.5" cy="362.5" r="1"/><circle cx="372.5" cy="389.5" r="1"/><circle cx="373.5" cy="387.5" r="1"/><circle cx="373.5" cy="385.5" r="1"/><circle cx="373.5" cy="382.5" r="1"/><circle cx="373.5" cy="364.5" r="1"/><circle cx="373.5" cy="360.5" r="1"/><circle cx="373.5" cy="387.5" r="1"/><circle cx="373.5" cy="389.5" r="1"/><circle cx="373.5" cy="367.5" r="1"/><circle cx="373.5" cy="378.5" r="1"/><circle cx="373.5" cy="360.5" r="1"/><circle cx="373.5" cy="371.5" r="1"/><circle cx="373.5" cy="382.5" r="1"/><circle cx="373.5" cy="371.5" r="1"/><circle cx="373.5" cy="383.5" r="1"/><circle cx="374.5" cy="369.5" r="1"/><circle cx="374.5" cy="362.5" r="1"/><circle cx="374.5" cy="367.5" r="1"/><circle cx="374.5" cy="373.5" r="1"/><circle cx="374.5" cy="385.5" r="1"/><circle cx="374.5" cy="380.5" r="1"/><circle cx="374.5" cy="357.5" r="1"/><circle cx="375.5" cy="380.5" r="1"/><circle cx="375.5" cy="373.5" r="1"/><circle cx="375.5" cy="373.5" r="1"/><circle cx="375.5" cy="364.5" r="1"/><circle cx="375.5" cy="378.5" r="1"/><circle cx="375.5" cy="362.5" r="1"/><circle cx="375.5" cy="360.5" r="1"/><circle cx="375.5" cy="373.5" r="1"/><circle cx="375.5" cy="380.5" r="1"/><circle cx="375.5" cy="364.5" r="1"/><circle cx="375.5" cy="364.5" r="1"/><circle cx="375.5" cy="360.5" r="1"/><circle cx="375.5" cy="373.5" r="1"/><circle cx="375.5" cy="378.5" r="1"/><circle cx="375.5" cy="360.5" r="1"/><circle cx="375.5" cy="371.5" r="1"/><circle cx="376.5" cy="355.5" r="1"/><circle cx="376.5" cy="378.5" r="1"/><circle cx="376.5" cy="360.5" r="1"/><circle cx="376.5" cy="366.5" r="1"/><circle cx="376.5" cy="380.5" r="1"/><circle cx="376.5" cy="382.5" r="1"/><circle cx="376.5" cy="380.5" r="1"/><circle cx="376.5" cy="366.5" r="1"/><circle cx="377.5" cy="380.5" r="1"/><circle cx="377.5" cy="355.5" r="1"/><circle cx="377.5" cy="371.5" r="1"/><circle cx="377.5" cy="360.5" r="1"/><circle cx="377.5" cy="359.5" r="1"/><circle cx="377.5" cy="357.5" r="1"/><circle cx="377.5" cy="378.5" r="1"/><circle cx="377.5" cy="357.5" r="1"/><circle cx="377.5" cy="378.5" r="1"/><circle cx="377.5" cy="357.5" r="1"/><circle cx="377.5" cy="362.5" r="1"/><circle cx="377.5" cy="359.5" r="1"/><circle cx="377.5" cy="380.5" r="1"/><circle cx="377.5" cy="355.5" r="1"/><circle cx="377.5" cy="376.5" r="1"/><circle cx="377.5" cy="362.5" r="1"/><circle cx="377.5" cy="380.5" r="1"/><circle cx="377.5" cy="374.5" r="1"/><circle cx="377.5" cy="360.5" r="1"/><circle cx="377.5" cy="367.5" r="1"/><circle cx="377.5" cy="357.5" r="1"/><circle cx="377.5" cy="364.5" r="1"/><circle cx="377.5" cy="353.5" r="1"/><circle cx="377.5" cy="371.5" r="1"/><circle cx="377.5" cy="369.5" r="1"/><circle cx="377.5" cy="360.5" r="1"/><circle cx="377.5" cy="353.5" r="1"/><circle cx="377.5" cy="378.5" r="1"/><circle cx="377.5" cy="357.5" r="1"/><circle cx="377.5" cy="362.5" r="1"/><circle cx="378.5" cy="367.5" r="1"/><circle cx="378.5" cy="362.5" r="1"/><circle cx="378.5" cy="360.5" r="1"/><circle cx="378.5" cy="373.5" r="1"/><circle cx="378.5" cy="360.5" r="1"/><circle cx="378.5" cy="362.5" r="1"/><circle cx="378.5" cy="366.5" r="1"/><circle cx="378.5" cy="360.5" r="1"/><circle cx="378.5" cy="373.5" r="1"/><circle cx="379.5" cy="373.5" r="1"/><circle cx="379.5" cy="359.5" r="1"/><circle cx="379.5" cy="373.5" r="1"/><circle cx="379.5" cy="376.5" r="1"/><circle cx="379.5" cy="360.5" r="1"/><circle cx="379.5" cy="359.5" r="1"/><circle cx="380.5" cy="367.5" r="1"/><circle cx="380.5" cy="374.5" r="1"/><circle cx="381.5" cy="373.5" r="1"/><circle cx="381.5" cy="373.5" r="1"/><circle cx="381.5" cy="366.5" r="1"/><circle cx="381.5" cy="359.5" r="1"/><circle cx="381.5" cy="359.5" r="1"/><circle cx="381.5" cy="364.5" r="1"/><circle cx="381.5" cy="362.5" r="1"/><circle cx="381.5" cy="359.5" r="1"/><circle cx="381.5" cy="357.5" r="1"/><circle cx="381.5" cy="367.5" r="1"/><circle cx="382.5" cy="360.5" r="1"/><circle cx="382.5" cy="364.5" r="1"/><circle cx="382.5" cy="366.5" r="1"/><circle cx="382.5" cy="362.5" r="1"/><circle cx="382.5" cy="369.5" r="1"/><circle cx="383.5" cy="364.5" r="1"/><circle cx="383.5" cy="366.5" r="1"/><circle cx="383.5" cy="367.5" r="1"/><circle cx="383.5" cy="369.5" r="1"/><circle cx="383.5" cy="362.5" r="1"/><circle cx="383.5" cy="360.5" r="1"/><circle cx="383.5" cy="371.5" r="1"/><circle cx="383.5" cy="364.5" r="1"/><circle cx="383.5" cy="360.5" r="1"/><circle cx="383.5" cy="357.5" r="1"/><circle cx="383.5" cy="367.5" r="1"/><circle cx="383.5" cy="369.5" r="1"/><circle cx="384.5" cy="357.5" r="1"/><circle cx="384.5" cy="366.5" r="1"/><circle cx="384.5" cy="367.5" r="1"/><circle cx="384.5" cy="357.5" r="1"/><circle cx="384.5" cy="364.5" r="1"/><circle cx="384.5" cy="359.5" r="1"/><circle cx="384.5" cy="371.5" r="1"/><circle cx="384.5" cy="360.5" r="1"/><circle cx="384.5" cy="357.5" r="1"/><circle cx="384.5" cy="367.5" r="1"/><circle cx="384.5" cy="360.5" r="1"/><circle cx="384.5" cy="362.5" r="1"/><circle cx="385.5" cy="369.5" r="1"/><circle cx="385.5" cy="357.5" r="1"/><circle cx="385.5" cy="360.5" r="1"/><circle cx="385.5" cy="362.5" r="1"/><circle cx="385.5" cy="364.5" r="1"/><circle cx="385.5" cy="360.5" r="1"/><circle cx="385.5" cy="360.5" r="1"/><circle cx="386.5" cy="364.5" r="1"/><circle cx="386.5" cy="359.5" r="1"/><circle cx="386.5" cy="367.5" r="1"/><circle cx="386.5" cy="355.5" r="1"/><circle cx="386.5" cy="366.5" r="1"/><circle cx="386.5" cy="360.5" r="1"/><circle cx="386.5" cy="360.5" r="1"/><circle cx="386.5" cy="367.5" r="1"/><circle cx="386.5" cy="364.5" r="1"/><circle cx="387.5" cy="362.5" r="1"/><circle cx="387.5" cy="367.5" r="1"/><circle cx="387.5" cy="357.5" r="1"/><circle cx="387.5" cy="355.5" r="1"/><circle cx="388.5" cy="353.5" r="1"/><circle cx="388.5" cy="367.5" r="1"/><circle cx="388.5" cy="359.5" r="1"/><circle cx="388.5" cy="367.5" r="1"/><circle cx="388.5" cy="357.5" r="1"/><circle cx="388.5" cy="362.5" r="1"/><circle cx="389.5" cy="357.5" r="1"/><circle cx="389.5" cy="355.5" r="1"/><circle cx="389.5" cy="357.5" r="1"/><circle cx="390.5" cy="369.5" r="1"/><circle cx="390.5" cy="359.5" r="1"/><circle cx="390.5" cy="367.5" r="1"/><circle cx="390.5" cy="350.5" r="1"/><circle cx="391.5" cy="355.5" r="1"/><circle cx="391.5" cy="359.5" r="1"/><circle cx="391.5" cy="364.5" r="1"/><circle cx="391.5" cy="350.5" r="1"/><circle cx="391.5" cy="369.5" r="1"/><circle cx="391.5" cy="359.5" r="1"/><circle cx="392.5" cy="351.5" r="1"/><circle cx="392.5" cy="351.5" r="1"/><circle cx="392.5" cy="367.5" r="1"/><circle cx="392.5" cy="360.5" r="1"/><circle cx="393.5" cy="359.5" r="1"/><circle cx="393.5" cy="360.5" r="1"/><circle cx="393.5" cy="357.5" r="1"/><circle cx="393.5" cy="364.5" r="1"/><circle cx="393.5" cy="369.5" r="1"/><circle cx="393.5" cy="350.5" r="1"/><circle cx="393.5" cy="351.5" r="1"/><circle cx="393.5" cy="360.5" r="1"/><circle cx="393.5" cy="357.5" r="1"/><circle cx="393.5" cy="353.5" r="1"/><circle cx="394.5" cy="348.5" r="1"/><circle cx="394.5" cy="351.5" r="1"/><circle cx="394.5" cy="360.5" r="1"/><circle cx="394.5" cy="357.5" r="1"/><circle cx="394.5" cy="348.5" r="1"/><circle cx="394.5" cy="351.5" r="1"/><circle cx="394.5" cy="360.5" r="1"/><circle cx="394.5" cy="355.5" r="1"/><circle cx="394.5" cy="364.5" r="1"/><circle cx="394.5" cy="357.5" r="1"/><circle cx="394.5" cy="367.5" r="1"/><circle cx="394.5" cy="364.5" r="1"/><circle cx="394.5" cy="359.5" r="1"/><circle cx="394.5" cy="355.5" r="1"/><circle cx="394.5" cy="351.5" r="1"/><circle cx="395.5" cy="351.5" r="1"/><circle cx="395.5" cy="357.5" r="1"/><circle cx="395.5" cy="350.5" r="1"/><circle cx="395.5" cy="366.5" r="1"/><circle cx="395.5" cy="359.5" r="1"/><circle cx="395.5" cy="348.5" r="1"/><circle cx="395.5" cy="353.5" r="1"/><circle cx="395.5" cy="353.5" r="1"/><circle cx="395.5" cy="350.5" r="1"/><circle cx="395.5" cy="357.5" r="1"/><circle cx="396.5" cy="351.5" r="1"/><circle cx="396.5" cy="355.5" r="1"/><circle cx="396.5" cy="364.5" r="1"/><circle cx="396.5" cy="366.5" r="1"/><circle cx="396.5" cy="359.5" r="1"/><circle cx="396.5" cy="355.5" r="1"/><circle cx="396.5" cy="360.5" r="1"/><circle cx="396.5" cy="366.5" r="1"/><circle cx="396.5" cy="351.5" r="1"/><circle cx="396.5" cy="362.5" r="1"/><circle cx="396.5" cy="362.5" r="1"/><circle cx="397.5" cy="359.5" r="1"/><circle cx="397.5" cy="367.5" r="1"/><circle cx="397.5" cy="348.5" r="1"/><circle cx="397.5" cy="360.5" r="1"/><circle cx="397.5" cy="348.5" r="1"/><circle cx="397.5" cy="359.5" r="1"/><circle cx="397.5" cy="350.5" r="1"/><circle cx="398.5" cy="351.5" r="1"/><circle cx="398.5" cy="357.5" r="1"/><circle cx="398.5" cy="355.5" r="1"/><circle cx="398.5" cy="364.5" r="1"/><circle cx="398.5" cy="357.5" r="1"/><circle cx="398.5" cy="357.5" r="1"/><circle cx="399.5" cy="359.5" r="1"/><circle cx="399.5" cy="348.5" r="1"/><circle cx="399.5" cy="357.5" r="1"/><circle cx="399.5" cy="350.5" r="1"/><circle cx="400.5" cy="357.5" r="1"/><circle cx="400.5" cy="351.5" r="1"/><circle cx="400.5" cy="351.5" r="1"/><circle cx="401.5" cy="348.5" r="1"/><circle cx="401.5" cy="360.5" r="1"/><circle cx="401.5" cy="355.5" r="1"/><circle cx="402.5" cy="357.5" r="1"/><circle cx="402.5" cy="355.5" r="1"/><circle cx="402.5" cy="351.5" r="1"/><circle cx="402.5" cy="355.5" r="1"/><circle cx="402.5" cy="362.5" r="1"/><circle cx="402.5" cy="355.5" r="1"/><circle cx="402.5" cy="353.5" r="1"/><circle cx="402.5" cy="360.5" r="1"/><circle cx="402.5" cy="346.5" r="1"/><circle cx="402.5" cy="346.5" r="1"/><circle cx="402.5" cy="359.5" r="1"/><circle cx="402.5" cy="360.5" r="1"/><circle cx="402.5" cy="346.5" r="1"/><circle cx="402.5" cy="346.5" r="1"/><circle cx="402.5" cy="346.5" r="1"/><circle cx="402.5" cy="355.5" r="1"/><circle cx="402.5" cy="348.5" r="1"/><circle cx="402.5" cy="355.5" r="1"/><circle cx="402.5" cy="357.5" r="1"/><circle cx="402.5" cy="346.5" r="1"/><circle cx="402.5" cy="360.5" r="1"/><circle cx="402.5" cy="350.5" r="1"/><circle cx="402.5" cy="355.5" r="1"/><circle cx="402.5" cy="351.5" r="1"/><circle cx="402.5" cy="351.5" r="1"/><circle cx="402.5" cy="351.5" r="1"/><circle cx="402.5" cy="346.5" r="1"/><circle cx="403.5" cy="357.5" r="1"/><circle cx="403.5" cy="362.5" r="1"/><circle cx="403.5" cy="348.5" r="1"/><circle cx="404.5" cy="344.5" r="1"/><circle cx="405.5" cy="355.5" r="1"/><circle cx="405.5" cy="360.5" r="1"/><circle cx="405.5" cy="346.5" r="1"/><circle cx="405.5" cy="350.5" r="1"/><circle cx="405.5" cy="350.5" r="1"/><circle cx="405.5" cy="346.5" r="1"/><circle cx="405.5" cy="353.5" r="1"/><circle cx="405.5" cy="360.5" r="1"/><circle cx="406.5" cy="359.5" r="1"/><circle cx="406.5" cy="357.5" r="1"/><circle cx="406.5" cy="344.5" r="1"/><circle cx="406.5" cy="353.5" r="1"/><circle cx="406.5" cy="348.5" r="1"/><circle cx="406.5" cy="357.5" r="1"/><circle cx="406.5" cy="353.5" r="1"/><circle cx="406.5" cy="359.5" r="1"/><circle cx="407.5" cy="353.5" r="1"/><circle cx="407.5" cy="359.5" r="1"/><circle cx="407.5" cy="350.5" r="1"/><circle cx="407.5" cy="346.5" r="1"/><circle cx="407.5" cy="348.5" r="1"/><circle cx="407.5" cy="348.5" r="1"/><circle cx="407.5" cy="346.5" r="1"/><circle cx="407.5" cy="350.5" r="1"/><circle cx="407.5" cy="348.5" r="1"/><circle cx="407.5" cy="351.5" r="1"/><circle cx="407.5" cy="359.5" r="1"/><circle cx="407.5" cy="359.5" r="1"/><circle cx="407.5" cy="346.5" r="1"/><circle cx="407.5" cy="353.5" r="1"/><circle cx="407.5" cy="355.5" r="1"/><circle cx="407.5" cy="346.5" r="1"/><circle cx="407.5" cy="351.5" r="1"/><circle cx="407.5" cy="346.5" r="1"/><circle cx="407.5" cy="350.5" r="1"/><circle cx="407.5" cy="348.5" r="1"/><circle cx="408.5" cy="348.5" r="1"/><circle cx="408.5" cy="353.5" r="1"/><circle cx="408.5" cy="351.5" r="1"/><circle cx="408.5" cy="355.5" r="1"/><circle cx="408.5" cy="344.5" r="1"/><circle cx="409.5" cy="346.5" r="1"/><circle cx="409.5" cy="355.5" r="1"/><circle cx="409.5" cy="346.5" r="1"/><circle cx="409.5" cy="351.5" r="1"/><circle cx="409.5" cy="355.5" r="1"/><circle cx="409.5" cy="351.5" r="1"/><circle cx="409.5" cy="355.5" r="1"/><circle cx="410.5" cy="350.5" r="1"/><circle cx="410.5" cy="344.5" r="1"/><circle cx="410.5" cy="343.5" r="1"/><circle cx="410.5" cy="346.5" r="1"/><circle cx="410.5" cy="344.5" r="1"/><circle cx="410.5" cy="355.5" r="1"/><circle cx="410.5" cy="351.5" r="1"/><circle cx="410.5" cy="343.5" r="1"/><circle cx="410.5" cy="357.5" r="1"/><circle cx="410.5" cy="351.5" r="1"/><circle cx="410.5" cy="348.5" r="1"/><circle cx="410.5" cy="344.5" r="1"/><circle cx="410.5" cy="350.5" r="1"/><circle cx="410.5" cy="357.5" r="1"/><circle cx="410.5" cy="351.5" r="1"/><circle cx="410.5" cy="350.5" r="1"/><circle cx="410.5" cy="351.5" r="1"/><circle cx="410.5" cy="350.5" r="1"/><circle cx="410.5" cy="351.5" r="1"/><circle cx="410.5" cy="344.5" r="1"/><circle cx="410.5" cy="344.5" r="1"/><circle cx="410.5" cy="341.5" r="1"/><circle cx="410.5" cy="355.5" r="1"/><circle cx="410.5" cy="341.5" r="1"/><circle cx="410.5" cy="346.5" r="1"/><circle cx="410.5" cy="351.5" r="1"/><circle cx="410.5" cy="350.5" r="1"/><circle cx="410.5" cy="357.5" r="1"/><circle cx="410.5" cy="344.5" r="1"/><circle cx="410.5" cy="343.5" r="1"/><circle cx="410.5" cy="344.5" r="1"/><circle cx="410.5" cy="350.5" r="1"/><circle cx="410.5" cy="346.5" r="1"/><circle cx="411.5" cy="351.5" r="1"/><circle cx="411.5" cy="341.5" r="1"/><circle cx="411.5" cy="350.5" r="1"/><circle cx="411.5" cy="357.5" r="1"/><circle cx="411.5" cy="357.5" r="1"/><circle cx="411.5" cy="350.5" r="1"/><circle cx="411.5" cy="357.5" r="1"/><circle cx="411.5" cy="344.5" r="1"/><circle cx="411.5" cy="346.5" r="1"/><circle cx="411.5" cy="348.5" r="1"/><circle cx="411.5" cy="350.5" r="1"/><circle cx="411.5" cy="355.5" r="1"/><circle cx="411.5" cy="348.5" r="1"/><circle cx="411.5" cy="341.5" r="1"/><circle cx="412.5" cy="343.5" r="1"/><circle cx="412.5" cy="344.5" r="1"/><circle cx="412.5" cy="350.5" r="1"/><circle cx="412.5" cy="344.5" r="1"/><circle cx="412.5" cy="341.5" r="1"/><circle cx="412.5" cy="350.5" r="1"/><circle cx="412.5" cy="353.5" r="1"/><circle cx="412.5" cy="341.5" r="1"/><circle cx="412.5" cy="348.5" r="1"/><circle cx="412.5" cy="341.5" r="1"/><circle cx="412.5" cy="339.5" r="1"/><circle cx="412.5" cy="346.5" r="1"/><circle cx="413.5" cy="346.5" r="1"/><circle cx="413.5" cy="348.5" r="1"/><circle cx="413.5" cy="343.5" r="1"/><circle cx="414.5" cy="351.5" r="1"/><circle cx="414.5" cy="348.5" r="1"/><circle cx="414.5" cy="348.5" r="1"/><circle cx="415.5" cy="341.5" r="1"/><circle cx="415.5" cy="344.5" r="1"/><circle cx="415.5" cy="353.5" r="1"/><circle cx="415.5" cy="344.5" r="1"/><circle cx="415.5" cy="359.5" r="1"/><circle cx="415.5" cy="343.5" r="1"/><circle cx="415.5" cy="350.5" r="1"/><circle cx="416.5" cy="348.5" r="1"/><circle cx="416.5" cy="351.5" r="1"/><circle cx="416.5" cy="353.5" r="1"/><circle cx="416.5" cy="353.5" r="1"/><circle cx="416.5" cy="359.5" r="1"/><circle cx="416.5" cy="353.5" r="1"/><circle cx="416.5" cy="360.5" r="1"/><circle cx="417.5" cy="346.5" r="1"/><circle cx="417.5" cy="343.5" r="1"/><circle cx="418.5" cy="348.5" r="1"/><circle cx="418.5" cy="351.5" r="1"/><circle cx="418.5" cy="346.5" r="1"/><circle cx="418.5" cy="362.5" r="1"/><circle cx="418.5" cy="341.5" r="1"/><circle cx="418.5" cy="348.5" r="1"/><circle cx="418.5" cy="353.5" r="1"/><circle cx="418.5" cy="344.5" r="1"/><circle cx="418.5" cy="360.5" r="1"/><circle cx="418.5" cy="351.5" r="1"/><circle cx="418.5" cy="348.5" r="1"/><circle cx="418.5" cy="341.5" r="1"/><circle cx="418.5" cy="346.5" r="1"/><circle cx="418.5" cy="353.5" r="1"/><circle cx="418.5" cy="346.5" r="1"/><circle cx="418.5" cy="341.5" r="1"/><circle cx="418.5" cy="353.5" r="1"/><circle cx="419.5" cy="344.5" r="1"/><circle cx="419.5" cy="343.5" r="1"/><circle cx="419.5" cy="344.5" r="1"/><circle cx="419.5" cy="344.5" r="1"/><circle cx="419.5" cy="355.5" r="1"/><circle cx="419.5" cy="344.5" r="1"/><circle cx="419.5" cy="341.5" r="1"/><circle cx="419.5" cy="350.5" r="1"/><circle cx="420.5" cy="351.5" r="1"/><circle cx="420.5" cy="343.5" r="1"/><circle cx="420.5" cy="350.5" r="1"/><circle cx="420.5" cy="359.5" r="1"/><circle cx="420.5" cy="344.5" r="1"/><circle cx="420.5" cy="350.5" r="1"/><circle cx="420.5" cy="348.5" r="1"/><circle cx="420.5" cy="339.5" r="1"/><circle cx="420.5" cy="339.5" r="1"/><circle cx="420.5" cy="359.5" r="1"/><circle cx="420.5" cy="346.5" r="1"/><circle cx="420.5" cy="353.5" r="1"/><circle cx="421.5" cy="344.5" r="1"/><circle cx="421.5" cy="348.5" r="1"/><circle cx="421.5" cy="350.5" r="1"/><circle cx="421.5" cy="339.5" r="1"/><circle cx="421.5" cy="350.5" r="1"/><circle cx="422.5" cy="346.5" r="1"/><circle cx="422.5" cy="343.5" r="1"/><circle cx="422.5" cy="344.5" r="1"/><circle cx="422.5" cy="344.5" r="1"/><circle cx="422.5" cy="357.5" r="1"/><circle cx="422.5" cy="336.5" r="1"/><circle cx="422.5" cy="357.5" r="1"/><circle cx="422.5" cy="336.5" r="1"/><circle cx="422.5" cy="337.5" r="1"/><circle cx="422.5" cy="341.5" r="1"/><circle cx="422.5" cy="343.5" r="1"/><circle cx="422.5" cy="355.5" r="1"/><circle cx="422.5" cy="355.5" r="1"/><circle cx="422.5" cy="357.5" r="1"/><circle cx="423.5" cy="353.5" r="1"/><circle cx="423.5" cy="334.5" r="1"/><circle cx="423.5" cy="351.5" r="1"/><circle cx="424.5" cy="336.5" r="1"/><circle cx="424.5" cy="346.5" r="1"/><circle cx="424.5" cy="339.5" r="1"/><circle cx="424.5" cy="344.5" r="1"/><circle cx="424.5" cy="336.5" r="1"/><circle cx="424.5" cy="343.5" r="1"/><circle cx="424.5" cy="344.5" r="1"/><circle cx="424.5" cy="334.5" r="1"/><circle cx="424.5" cy="344.5" r="1"/><circle cx="424.5" cy="355.5" r="1"/><circle cx="424.5" cy="336.5" r="1"/><circle cx="424.5" cy="355.5" r="1"/><circle cx="424.5" cy="346.5" r="1"/><circle cx="424.5" cy="339.5" r="1"/><circle cx="424.5" cy="357.5" r="1"/><circle cx="424.5" cy="344.5" r="1"/><circle cx="424.5" cy="344.5" r="1"/><circle cx="424.5" cy="343.5" r="1"/><circle cx="424.5" cy="355.5" r="1"/><circle cx="424.5" cy="337.5" r="1"/><circle cx="424.5" cy="339.5" r="1"/><circle cx="424.5" cy="341.5" r="1"/><circle cx="424.5" cy="336.5" r="1"/><circle cx="424.5" cy="353.5" r="1"/><circle cx="425.5" cy="346.5" r="1"/><circle cx="425.5" cy="341.5" r="1"/><circle cx="425.5" cy="346.5" r="1"/><circle cx="425.5" cy="346.5" r="1"/><circle cx="425.5" cy="341.5" r="1"/><circle cx="425.5" cy="339.5" r="1"/><circle cx="425.5" cy="343.5" r="1"/><circle cx="425.5" cy="351.5" r="1"/><circle cx="425.5" cy="337.5" r="1"/><circle cx="425.5" cy="357.5" r="1"/><circle cx="425.5" cy="339.5" r="1"/><circle cx="425.5" cy="341.5" r="1"/><circle cx="425.5" cy="337.5" r="1"/><circle cx="425.5" cy="343.5" r="1"/><circle cx="425.5" cy="343.5" r="1"/><circle cx="425.5" cy="350.5" r="1"/><circle cx="425.5" cy="355.5" r="1"/><circle cx="425.5" cy="339.5" r="1"/><circle cx="425.5" cy="351.5" r="1"/><circle cx="425.5" cy="341.5" r="1"/><circle cx="425.5" cy="343.5" r="1"/><circle cx="425.5" cy="337.5" r="1"/><circle cx="425.5" cy="355.5" r="1"/><circle cx="425.5" cy="343.5" r="1"/><circle cx="425.5" cy="350.5" r="1"/><circle cx="425.5" cy="336.5" r="1"/><circle cx="425.5" cy="350.5" r="1"/><circle cx="425.5" cy="339.5" r="1"/><circle cx="425.5" cy="344.5" r="1"/><circle cx="425.5" cy="350.5" r="1"/><circle cx="425.5" cy="337.5" r="1"/><circle cx="425.5" cy="346.5" r="1"/><circle cx="425.5" cy="353.5" r="1"/><circle cx="425.5" cy="337.5" r="1"/><circle cx="425.5" cy="344.5" r="1"/><circle cx="425.5" cy="339.5" r="1"/><circle cx="426.5" cy="353.5" r="1"/><circle cx="426.5" cy="341.5" r="1"/><circle cx="426.5" cy="343.5" r="1"/><circle cx="426.5" cy="353.5" r="1"/><circle cx="426.5" cy="339.5" r="1"/><circle cx="426.5" cy="353.5" r="1"/><circle cx="426.5" cy="339.5" r="1"/><circle cx="426.5" cy="336.5" r="1"/><circle cx="426.5" cy="346.5" r="1"/><circle cx="426.5" cy="351.5" r="1"/><circle cx="426.5" cy="343.5" r="1"/><circle cx="427.5" cy="337.5" r="1"/><circle cx="427.5" cy="341.5" r="1"/><circle cx="427.5" cy="337.5" r="1"/><circle cx="427.5" cy="350.5" r="1"/><circle cx="427.5" cy="344.5" r="1"/><circle cx="427.5" cy="348.5" r="1"/><circle cx="427.5" cy="339.5" r="1"/><circle cx="427.5" cy="350.5" r="1"/><circle cx="427.5" cy="355.5" r="1"/><circle cx="427.5" cy="336.5" r="1"/><circle cx="427.5" cy="341.5" r="1"/><circle cx="427.5" cy="353.5" r="1"/><circle cx="427.5" cy="351.5" r="1"/><circle cx="427.5" cy="353.5" r="1"/><circle cx="427.5" cy="339.5" r="1"/><circle cx="427.5" cy="346.5" r="1"/><circle cx="428.5" cy="343.5" r="1"/><circle cx="428.5" cy="336.5" r="1"/><circle cx="428.5" cy="336.5" r="1"/><circle cx="430.5" cy="337.5" r="1"/><circle cx="430.5" cy="341.5" r="1"/><circle cx="430.5" cy="339.5" r="1"/><circle cx="431.5" cy="337.5" r="1"/><circle cx="431.5" cy="343.5" r="1"/><circle cx="431.5" cy="351.5" r="1"/><circle cx="431.5" cy="337.5" r="1"/><circle cx="431.5" cy="343.5" r="1"/><circle cx="431.5" cy="343.5" r="1"/><circle cx="431.5" cy="351.5" r="1"/><circle cx="432.5" cy="337.5" r="1"/><circle cx="432.5" cy="341.5" r="1"/><circle cx="432.5" cy="337.5" r="1"/><circle cx="432.5" cy="350.5" r="1"/><circle cx="432.5" cy="336.5" r="1"/><circle cx="432.5" cy="339.5" r="1"/><circle cx="432.5" cy="350.5" r="1"/><circle cx="433.5" cy="336.5" r="1"/><circle cx="433.5" cy="346.5" r="1"/><circle cx="433.5" cy="348.5" r="1"/><circle cx="433.5" cy="346.5" r="1"/><circle cx="433.5" cy="344.5" r="1"/><circle cx="433.5" cy="346.5" r="1"/><circle cx="434.5" cy="344.5" r="1"/><circle cx="434.5" cy="343.5" r="1"/><circle cx="434.5" cy="341.5" r="1"/><circle cx="434.5" cy="353.5" r="1"/><circle cx="435.5" cy="337.5" r="1"/><circle cx="435.5" cy="337.5" r="1"/><circle cx="435.5" cy="337.5" r="1"/><circle cx="436.5" cy="343.5" r="1"/><circle cx="436.5" cy="343.5" r="1"/><circle cx="436.5" cy="339.5" r="1"/><circle cx="436.5" cy="350.5" r="1"/><circle cx="436.5" cy="341.5" r="1"/><circle cx="436.5" cy="344.5" r="1"/><circle cx="436.5" cy="355.5" r="1"/><circle cx="436.5" cy="343.5" r="1"/><circle cx="436.5" cy="343.5" r="1"/><circle cx="437.5" cy="341.5" r="1"/><circle cx="437.5" cy="350.5" r="1"/><circle cx="437.5" cy="344.5" r="1"/><circle cx="437.5" cy="348.5" r="1"/><circle cx="437.5" cy="344.5" r="1"/><circle cx="437.5" cy="339.5" r="1"/><circle cx="437.5" cy="355.5" r="1"/><circle cx="437.5" cy="350.5" r="1"/><circle cx="437.5" cy="355.5" r="1"/><circle cx="437.5" cy="343.5" r="1"/><circle cx="437.5" cy="343.5" r="1"/><circle cx="437.5" cy="339.5" r="1"/><circle cx="437.5" cy="343.5" r="1"/><circle cx="437.5" cy="343.5" r="1"/><circle cx="437.5" cy="341.5" r="1"/><circle cx="437.5" cy="343.5" r="1"/><circle cx="437.5" cy="343.5" r="1"/><circle cx="437.5" cy="353.5" r="1"/><circle cx="437.5" cy="346.5" r="1"/><circle cx="437.5" cy="353.5" r="1"/><circle cx="437.5" cy="337.5" r="1"/><circle cx="438.5" cy="339.5" r="1"/><circle cx="439.5" cy="355.5" r="1"/><circle cx="439.5" cy="339.5" r="1"/><circle cx="439.5" cy="343.5" r="1"/><circle cx="439.5" cy="350.5" r="1"/><circle cx="439.5" cy="339.5" r="1"/><circle cx="439.5" cy="355.5" r="1"/><circle cx="440.5" cy="344.5" r="1"/><circle cx="440.5" cy="359.5" r="1"/><circle cx="440.5" cy="343.5" r="1"/><circle cx="440.5" cy="339.5" r="1"/><circle cx="440.5" cy="339.5" r="1"/><circle cx="440.5" cy="348.5" r="1"/><circle cx="440.5" cy="339.5" r="1"/><circle cx="440.5" cy="359.5" r="1"/><circle cx="440.5" cy="351.5" r="1"/><circle cx="440.5" cy="350.5" r="1"/><circle cx="440.5" cy="351.5" r="1"/><circle cx="440.5" cy="346.5" r="1"/><circle cx="441.5" cy="359.5" r="1"/><circle cx="441.5" cy="344.5" r="1"/><circle cx="441.5" cy="350.5" r="1"/><circle cx="441.5" cy="339.5" r="1"/><circle cx="441.5" cy="350.5" r="1"/><circle cx="441.5" cy="351.5" r="1"/><circle cx="442.5" cy="346.5" r="1"/><circle cx="442.5" cy="357.5" r="1"/><circle cx="442.5" cy="343.5" r="1"/><circle cx="443.5" cy="350.5" r="1"/><circle cx="443.5" cy="346.5" r="1"/><circle cx="443.5" cy="353.5" r="1"/><circle cx="443.5" cy="343.5" r="1"/><circle cx="443.5" cy="357.5" r="1"/><circle cx="443.5" cy="353.5" r="1"/><circle cx="443.5" cy="341.5" r="1"/><circle cx="443.5" cy="344.5" r="1"/><circle cx="443.5" cy="344.5" r="1"/><circle cx="443.5" cy="359.5" r="1"/><circle cx="443.5" cy="348.5" r="1"/><circle cx="443.5" cy="351.5" r="1"/><circle cx="443.5" cy="359.5" r="1"/><circle cx="443.5" cy="346.5" r="1"/><circle cx="443.5" cy="359.5" r="1"/><circle cx="443.5" cy="344.5" r="1"/><circle cx="443.5" cy="337.5" r="1"/><circle cx="443.5" cy="341.5" r="1"/><circle cx="443.5" cy="353.5" r="1"/><circle cx="443.5" cy="346.5" r="1"/><circle cx="443.5" cy="357.5" r="1"/><circle cx="444.5" cy="357.5" r="1"/><circle cx="444.5" cy="348.5" r="1"/><circle cx="444.5" cy="360.5" r="1"/><circle cx="444.5" cy="355.5" r="1"/><circle cx="444.5" cy="346.5" r="1"/><circle cx="444.5" cy="357.5" r="1"/><circle cx="444.5" cy="350.5" r="1"/><circle cx="444.5" cy="353.5" r="1"/><circle cx="444.5" cy="357.5" r="1"/><circle cx="445.5" cy="353.5" r="1"/><circle cx="445.5" cy="350.5" r="1"/><circle cx="445.5" cy="355.5" r="1"/><circle cx="445.5" cy="357.5" r="1"/><circle cx="446.5" cy="351.5" r="1"/><circle cx="446.5" cy="344.5" r="1"/><circle cx="446.5" cy="357.5" r="1"/><circle cx="446.5" cy="346.5" r="1"/><circle cx="447.5" cy="344.5" r="1"/><circle cx="447.5" cy="348.5" r="1"/><circle cx="447.5" cy="360.5" r="1"/><circle cx="447.5" cy="359.5" r="1"/><circle cx="447.5" cy="344.5" r="1"/><circle cx="447.5" cy="353.5" r="1"/><circle cx="448.5" cy="355.5" r="1"/><circle cx="448.5" cy="357.5" r="1"/><circle cx="448.5" cy="339.5" r="1"/><circle cx="448.5" cy="359.5" r="1"/><circle cx="448.5" cy="360.5" r="1"/><circle cx="448.5" cy="343.5" r="1"/><circle cx="448.5" cy="351.5" r="1"/><circle cx="448.5" cy="339.5" r="1"/><circle cx="448.5" cy="351.5" r="1"/><circle cx="448.5" cy="353.5" r="1"/><circle cx="448.5" cy="353.5" r="1"/><circle cx="449.5" cy="355.5" r="1"/><circle cx="449.5" cy="337.5" r="1"/><circle cx="449.5" cy="343.5" r="1"/><circle cx="449.5" cy="343.5" r="1"/><circle cx="449.5" cy="355.5" r="1"/><circle cx="449.5" cy="346.5" r="1"/><circle cx="449.5" cy="355.5" r="1"/><circle cx="449.5" cy="351.5" r="1"/><circle cx="449.5" cy="355.5" r="1"/><circle cx="449.5" cy="355.5" r="1"/><circle cx="449.5" cy="357.5" r="1"/><circle cx="449.5" cy="343.5" r="1"/><circle cx="450.5" cy="353.5" r="1"/><circle cx="450.5" cy="355.5" r="1"/><circle cx="450.5" cy="343.5" r="1"/><circle cx="450.5" cy="339.5" r="1"/><circle cx="450.5" cy="353.5" r="1"/><circle cx="450.5" cy="351.5" r="1"/><circle cx="450.5" cy="343.5" r="1"/><circle cx="450.5" cy="337.5" r="1"/><circle cx="450.5" cy="337.5" r="1"/><circle cx="450.5" cy="343.5" r="1"/><circle cx="450.5" cy="343.5" r="1"/><circle cx="450.5" cy="341.5" r="1"/><circle cx="450.5" cy="337.5" r="1"/><circle cx="450.5" cy="341.5" r="1"/><circle cx="450.5" cy="344.5" r="1"/><circle cx="450.5" cy="339.5" r="1"/><circle cx="451.5" cy="346.5" r="1"/><circle cx="451.5" cy="350.5" r="1"/><circle cx="451.5" cy="353.5" r="1"/><circle cx="451.5" cy="351.5" r="1"/><circle cx="451.5" cy="355.5" r="1"/><circle cx="451.5" cy="339.5" r="1"/><circle cx="452.5" cy="337.5" r="1"/><circle cx="452.5" cy="346.5" r="1"/><circle cx="452.5" cy="339.5" r="1"/><circle cx="452.5" cy="341.5" r="1"/><circle cx="452.5" cy="344.5" r="1"/><circle cx="452.5" cy="357.5" r="1"/><circle cx="452.5" cy="344.5" r="1"/><circle cx="452.5" cy="351.5" r="1"/><circle cx="452.5" cy="344.5" r="1"/><circle cx="452.5" cy="344.5" r="1"/><circle cx="452.5" cy="339.5" r="1"/><circle cx="452.5" cy="341.5" r="1"/><circle cx="452.5" cy="353.5" r="1"/><circle cx="453.5" cy="344.5" r="1"/><circle cx="453.5" cy="348.5" r="1"/><circle cx="453.5" cy="339.5" r="1"/><circle cx="453.5" cy="344.5" r="1"/><circle cx="453.5" cy="343.5" r="1"/><circle cx="453.5" cy="353.5" r="1"/><circle cx="453.5" cy="337.5" r="1"/><circle cx="453.5" cy="357.5" r="1"/><circle cx="453.5" cy="341.5" r="1"/><circle cx="453.5" cy="343.5" r="1"/><circle cx="453.5" cy="337.5" r="1"/><circle cx="453.5" cy="355.5" r="1"/><circle cx="453.5" cy="353.5" r="1"/><circle cx="453.5" cy="337.5" r="1"/><circle cx="453.5" cy="348.5" r="1"/><circle cx="453.5" cy="344.5" r="1"/><circle cx="454.5" cy="353.5" r="1"/><circle cx="454.5" cy="341.5" r="1"/><circle cx="455.5" cy="355.5" r="1"/><circle cx="455.5" cy="341.5" r="1"/><circle cx="455.5" cy="343.5" r="1"/><circle cx="455.5" cy="341.5" r="1"/><circle cx="455.5" cy="348.5" r="1"/><circle cx="456.5" cy="343.5" r="1"/><circle cx="456.5" cy="336.5" r="1"/><circle cx="456.5" cy="337.5" r="1"/><circle cx="456.5" cy="336.5" r="1"/><circle cx="456.5" cy="341.5" r="1"/><circle cx="456.5" cy="355.5" r="1"/><circle cx="456.5" cy="337.5" r="1"/><circle cx="456.5" cy="346.5" r="1"/><circle cx="456.5" cy="339.5" r="1"/><circle cx="456.5" cy="336.5" r="1"/><circle cx="456.5" cy="351.5" r="1"/><circle cx="456.5" cy="337.5" r="1"/><circle cx="456.5" cy="337.5" r="1"/><circle cx="456.5" cy="351.5" r="1"/><circle cx="456.5" cy="339.5" r="1"/><circle cx="456.5" cy="339.5" r="1"/><circle cx="456.5" cy="355.5" r="1"/><circle cx="456.5" cy="339.5" r="1"/><circle cx="456.5" cy="351.5" r="1"/><circle cx="456.5" cy="341.5" r="1"/><circle cx="456.5" cy="346.5" r="1"/><circle cx="456.5" cy="341.5" r="1"/><circle cx="456.5" cy="343.5" r="1"/><circle cx="456.5" cy="355.5" r="1"/><circle cx="457.5" cy="348.5" r="1"/><circle cx="457.5" cy="350.5" r="1"/><circle cx="457.5" cy="350.5" r="1"/><circle cx="457.5" cy="350.5" r="1"/><circle cx="458.5" cy="353.5" r="1"/><circle cx="458.5" cy="353.5" r="1"/><circle cx="458.5" cy="350.5" r="1"/><circle cx="458.5" cy="346.5" r="1"/><circle cx="458.5" cy="339.5" r="1"/><circle cx="459.5" cy="339.5" r="1"/><circle cx="459.5" cy="355.5" r="1"/><circle cx="459.5" cy="337.5" r="1"/><circle cx="459.5" cy="351.5" r="1"/><circle cx="459.5" cy="353.5" r="1"/><circle cx="459.5" cy="337.5" r="1"/><circle cx="459.5" cy="353.5" r="1"/><circle cx="459.5" cy="348.5" r="1"/><circle cx="459.5" cy="348.5" r="1"/><circle cx="459.5" cy="339.5" r="1"/><circle cx="459.5" cy="341.5" r="1"/><circle cx="459.5" cy="339.5" r="1"/><circle cx="459.5" cy="344.5" r="1"/><circle cx="459.5" cy="348.5" r="1"/><circle cx="459.5" cy="350.5" r="1"/><circle cx="460.5" cy="351.5" r="1"/><circle cx="460.5" cy="357.5" r="1"/><circle cx="460.5" cy="339.5" r="1"/><circle cx="460.5" cy="343.5" r="1"/><circle cx="460.5" cy="339.5" r="1"/><circle cx="460.5" cy="357.5" r="1"/><circle cx="460.5" cy="334.5" r="1"/><circle cx="460.5" cy="355.5" r="1"/><circle cx="460.5" cy="351.5" r="1"/><circle cx="460.5" cy="341.5" r="1"/><circle cx="460.5" cy="350.5" r="1"/><circle cx="460.5" cy="343.5" r="1"/><circle cx="460.5" cy="348.5" r="1"/><circle cx="460.5" cy="343.5" r="1"/><circle cx="460.5" cy="355.5" r="1"/><circle cx="460.5" cy="344.5" r="1"/><circle cx="460.5" cy="353.5" r="1"/><circle cx="460.5" cy="346.5" r="1"/><circle cx="460.5" cy="343.5" r="1"/><circle cx="460.5" cy="357.5" r="1"/><circle cx="460.5" cy="337.5" r="1"/><circle cx="460.5" cy="355.5" r="1"/><circle cx="460.5" cy="357.5" r="1"/><circle cx="460.5" cy="353.5" r="1"/><circle cx="461.5" cy="355.5" r="1"/><circle cx="461.5" cy="344.5" r="1"/><circle cx="461.5" cy="350.5" r="1"/><circle cx="461.5" cy="336.5" r="1"/><circle cx="462.5" cy="337.5" r="1"/><circle cx="462.5" cy="353.5" r="1"/><circle cx="462.5" cy="343.5" r="1"/><circle cx="462.5" cy="337.5" r="1"/><circle cx="463.5" cy="350.5" r="1"/><circle cx="463.5" cy="346.5" r="1"/><circle cx="463.5" cy="350.5" r="1"/><circle cx="463.5" cy="351.5" r="1"/><circle cx="463.5" cy="339.5" r="1"/><circle cx="463.5" cy="332.5" r="1"/><circle cx="463.5" cy="351.5" r="1"/><circle cx="463.5" cy="348.5" r="1"/><circle cx="463.5" cy="348.5" r="1"/><circle cx="464.5" cy="351.5" r="1"/><circle cx="464.5" cy="359.5" r="1"/><circle cx="464.5" cy="337.5" r="1"/><circle cx="465.5" cy="359.5" r="1"/><circle cx="465.5" cy="334.5" r="1"/><circle cx="465.5" cy="341.5" r="1"/><circle cx="465.5" cy="343.5" r="1"/><circle cx="466.5" cy="341.5" r="1"/><circle cx="467.5" cy="359.5" r="1"/><circle cx="467.5" cy="348.5" r="1"/><circle cx="467.5" cy="344.5" r="1"/><circle cx="467.5" cy="343.5" r="1"/><circle cx="467.5" cy="359.5" r="1"/><circle cx="467.5" cy="355.5" r="1"/><circle cx="468.5" cy="355.5" r="1"/><circle cx="468.5" cy="341.5" r="1"/><circle cx="468.5" cy="353.5" r="1"/><circle cx="468.5" cy="346.5" r="1"/><circle cx="468.5" cy="353.5" r="1"/><circle cx="468.5" cy="344.5" r="1"/><circle cx="468.5" cy="346.5" r="1"/><circle cx="468.5" cy="355.5" r="1"/><circle cx="468.5" cy="360.5" r="1"/><circle cx="468.5" cy="346.5" r="1"/><circle cx="468.5" cy="343.5" r="1"/><circle cx="468.5" cy="341.5" r="1"/><circle cx="468.5" cy="355.5" r="1"/><circle cx="468.5" cy="359.5" r="1"/><circle cx="468.5" cy="339.5" r="1"/><circle cx="468.5" cy="346.5" r="1"/><circle cx="469.5" cy="350.5" r="1"/><circle cx="469.5" cy="351.5" r="1"/><circle cx="469.5" cy="360.5" r="1"/><circle cx="469.5" cy="357.5" r="1"/><circle cx="469.5" cy="341.5" r="1"/><circle cx="469.5" cy="350.5" r="1"/><circle cx="470.5" cy="344.5" r="1"/><circle cx="470.5" cy="355.5" r="1"/><circle cx="470.5" cy="357.5" r="1"/><circle cx="470.5" cy="359.5" r="1"/><circle cx="470.5" cy="360.5" r="1"/><circle cx="470.5" cy="346.5" r="1"/><circle cx="470.5" cy="348.5" r="1"/><circle cx="471.5" cy="350.5" r="1"/><circle cx="471.5" cy="353.5" r="1"/><circle cx="471.5" cy="360.5" r="1"/><circle cx="471.5" cy="346.5" r="1"/><circle cx="471.5" cy="350.5" r="1"/><circle cx="471.5" cy="343.5" r="1"/><circle cx="471.5" cy="341.5" r="1"/><circle cx="471.5" cy="346.5" r="1"/><circle cx="472.5" cy="350.5" r="1"/><circle cx="472.5" cy="346.5" r="1"/><circle cx="472.5" cy="359.5" r="1"/><circle cx="472.5" cy="351.5" r="1"/><circle cx="472.5" cy="343.5" r="1"/><circle cx="472.5" cy="355.5" r="1"/><circle cx="472.5" cy="362.5" r="1"/><circle cx="472.5" cy="343.5" r="1"/><circle cx="472.5" cy="362.5" r="1"/><circle cx="472.5" cy="343.5" r="1"/><circle cx="472.5" cy="348.5" r="1"/><circle cx="472.5" cy="362.5" r="1"/><circle cx="472.5" cy="362.5" r="1"/><circle cx="472.5" cy="344.5" r="1"/><circle cx="472.5" cy="357.5" r="1"/><circle cx="473.5" cy="355.5" r="1"/><circle cx="473.5" cy="346.5" r="1"/><circle cx="473.5" cy="351.5" r="1"/><circle cx="473.5" cy="357.5" r="1"/><circle cx="473.5" cy="355.5" r="1"/><circle cx="473.5" cy="353.5" r="1"/><circle cx="473.5" cy="357.5" r="1"/><circle cx="473.5" cy="344.5" r="1"/><circle cx="473.5" cy="343.5" r="1"/><circle cx="473.5" cy="343.5" r="1"/><circle cx="473.5" cy="355.5" r="1"/><circle cx="473.5" cy="351.5" r="1"/><circle cx="473.5" cy="360.5" r="1"/><circle cx="473.5" cy="362.5" r="1"/><circle cx="473.5" cy="344.5" r="1"/><circle cx="473.5" cy="350.5" r="1"/><circle cx="473.5" cy="350.5" r="1"/><circle cx="473.5" cy="353.5" r="1"/><circle cx="473.5" cy="360.5" r="1"/><circle cx="473.5" cy="355.5" r="1"/><circle cx="474.5" cy="353.5" r="1"/><circle cx="474.5" cy="357.5" r="1"/><circle cx="474.5" cy="344.5" r="1"/><circle cx="474.5" cy="359.5" r="1"/><circle cx="474.5" cy="355.5" r="1"/><circle cx="474.5" cy="357.5" r="1"/><circle cx="474.5" cy="350.5" r="1"/><circle cx="475.5" cy="360.5" r="1"/><circle cx="475.5" cy="344.5" r="1"/><circle cx="475.5" cy="344.5" r="1"/><circle cx="475.5" cy="351.5" r="1"/><circle cx="475.5" cy="353.5" r="1"/><circle cx="475.5" cy="357.5" r="1"/><circle cx="475.5" cy="353.5" r="1"/><circle cx="475.5" cy="360.5" r="1"/><circle cx="475.5" cy="359.5" r="1"/><circle cx="475.5" cy="344.5" r="1"/><circle cx="475.5" cy="350.5" r="1"/><circle cx="475.5" cy="360.5" r="1"/><circle cx="475.5" cy="359.5" r="1"/><circle cx="475.5" cy="343.5" r="1"/><circle cx="475.5" cy="355.5" r="1"/><circle cx="475.5" cy="344.5" r="1"/><circle cx="475.5" cy="353.5" r="1"/><circle cx="475.5" cy="364.5" r="1"/><circle cx="475.5" cy="343.5" r="1"/><circle cx="475.5" cy="360.5" r="1"/><circle cx="475.5" cy="351.5" r="1"/><circle cx="475.5" cy="364.5" r="1"/><circle cx="475.5" cy="360.5" r="1"/><circle cx="475.5" cy="343.5" r="1"/><circle cx="476.5" cy="362.5" r="1"/><circle cx="476.5" cy="348.5" r="1"/><circle cx="476.5" cy="351.5" r="1"/><circle cx="476.5" cy="353.5" r="1"/><circle cx="476.5" cy="357.5" r="1"/><circle cx="476.5" cy="362.5" r="1"/><circle cx="477.5" cy="357.5" r="1"/><circle cx="478.5" cy="362.5" r="1"/><circle cx="478.5" cy="353.5" r="1"/><circle cx="478.5" cy="360.5" r="1"/><circle cx="478.5" cy="346.5" r="1"/><circle cx="478.5" cy="357.5" r="1"/><circle cx="478.5" cy="351.5" r="1"/><circle cx="479.5" cy="344.5" r="1"/><circle cx="479.5" cy="350.5" r="1"/><circle cx="479.5" cy="350.5" r="1"/><circle cx="479.5" cy="359.5" r="1"/><circle cx="479.5" cy="355.5" r="1"/><circle cx="480.5" cy="360.5" r="1"/><circle cx="480.5" cy="348.5" r="1"/><circle cx="480.5" cy="351.5" r="1"/><circle cx="480.5" cy="355.5" r="1"/><circle cx="480.5" cy="348.5" r="1"/><circle cx="480.5" cy="353.5" r="1"/><circle cx="480.5" cy="351.5" r="1"/><circle cx="480.5" cy="348.5" r="1"/><circle cx="481.5" cy="360.5" r="1"/><circle cx="481.5" cy="353.5" r="1"/><circle cx="481.5" cy="346.5" r="1"/><circle cx="481.5" cy="362.5" r="1"/><circle cx="481.5" cy="353.5" r="1"/><circle cx="481.5" cy="348.5" r="1"/><circle cx="481.5" cy="351.5" r="1"/><circle cx="481.5" cy="350.5" r="1"/><circle cx="481.5" cy="346.5" r="1"/><circle cx="481.5" cy="351.5" r="1"/><circle cx="481.5" cy="348.5" r="1"/><circle cx="481.5" cy="350.5" r="1"/><circle cx="481.5" cy="359.5" r="1"/><circle cx="481.5" cy="348.5" r="1"/><circle cx="481.5" cy="346.5" r="1"/><circle cx="481.5" cy="348.5" r="1"/><circle cx="482.5" cy="364.5" r="1"/><circle cx="482.5" cy="362.5" r="1"/><circle cx="482.5" cy="355.5" r="1"/><circle cx="482.5" cy="362.5" r="1"/><circle cx="482.5" cy="362.5" r="1"/><circle cx="482.5" cy="359.5" r="1"/><circle cx="482.5" cy="362.5" r="1"/><circle cx="482.5" cy="353.5" r="1"/><circle cx="483.5" cy="362.5" r="1"/><circle cx="483.5" cy="346.5" r="1"/><circle cx="483.5" cy="364.5" r="1"/><circle cx="483.5" cy="344.5" r="1"/><circle cx="483.5" cy="355.5" r="1"/><circle cx="483.5" cy="359.5" r="1"/><circle cx="483.5" cy="364.5" r="1"/><circle cx="483.5" cy="346.5" r="1"/><circle cx="483.5" cy="360.5" r="1"/><circle cx="483.5" cy="351.5" r="1"/><circle cx="483.5" cy="344.5" r="1"/><circle cx="483.5" cy="351.5" r="1"/><circle cx="483.5" cy="359.5" r="1"/><circle cx="483.5" cy="346.5" r="1"/><circle cx="483.5" cy="364.5" r="1"/><circle cx="483.5" cy="344.5" r="1"/><circle cx="483.5" cy="350.5" r="1"/><circle cx="483.5" cy="351.5" r="1"/><circle cx="483.5" cy="346.5" r="1"/><circle cx="483.5" cy="366.5" r="1"/><circle cx="483.5" cy="367.5" r="1"/><circle cx="483.5" cy="366.5" r="1"/><circle cx="483.5" cy="350.5" r="1"/><circle cx="483.5" cy="364.5" r="1"/><circle cx="484.5" cy="344.5" r="1"/><circle cx="484.5" cy="367.5" r="1"/><circle cx="485.5" cy="357.5" r="1"/><circle cx="485.5" cy="348.5" r="1"/><circle cx="486.5" cy="353.5" r="1"/><circle cx="486.5" cy="369.5" r="1"/><circle cx="487.5" cy="355.5" r="1"/><circle cx="487.5" cy="351.5" r="1"/><circle cx="487.5" cy="367.5" r="1"/><circle cx="487.5" cy="357.5" r="1"/><circle cx="487.5" cy="362.5" r="1"/><circle cx="487.5" cy="367.5" r="1"/><circle cx="488.5" cy="367.5" r="1"/><circle cx="488.5" cy="346.5" r="1"/><circle cx="488.5" cy="350.5" r="1"/><circle cx="488.5" cy="360.5" r="1"/><circle cx="488.5" cy="366.5" r="1"/><circle cx="488.5" cy="366.5" r="1"/><circle cx="488.5" cy="362.5" r="1"/><circle cx="488.5" cy="362.5" r="1"/><circle cx="488.5" cy="353.5" r="1"/><circle cx="488.5" cy="346.5" r="1"/><circle cx="489.5" cy="359.5" r="1"/><circle cx="489.5" cy="346.5" r="1"/><circle cx="489.5" cy="367.5" r="1"/><circle cx="489.5" cy="346.5" r="1"/><circle cx="489.5" cy="362.5" r="1"/><circle cx="490.5" cy="346.5" r="1"/><circle cx="491.5" cy="367.5" r="1"/><circle cx="491.5" cy="367.5" r="1"/><circle cx="491.5" cy="355.5" r="1"/><circle cx="491.5" cy="364.5" r="1"/><circle cx="491.5" cy="362.5" r="1"/><circle cx="491.5" cy="351.5" r="1"/><circle cx="492.5" cy="353.5" r="1"/><circle cx="492.5" cy="348.5" r="1"/><circle cx="492.5" cy="367.5" r="1"/><circle cx="492.5" cy="353.5" r="1"/><circle cx="493.5" cy="350.5" r="1"/><circle cx="493.5" cy="355.5" r="1"/><circle cx="493.5" cy="366.5" r="1"/><circle cx="493.5" cy="366.5" r="1"/><circle cx="493.5" cy="362.5" r="1"/><circle cx="493.5" cy="360.5" r="1"/><circle cx="494.5" cy="360.5" r="1"/><circle cx="494.5" cy="366.5" r="1"/><circle cx="494.5" cy="353.5" r="1"/><circle cx="494.5" cy="360.5" r="1"/><circle cx="494.5" cy="362.5" r="1"/><circle cx="494.5" cy="364.5" r="1"/><circle cx="494.5" cy="350.5" r="1"/><circle cx="494.5" cy="362.5" r="1"/><circle cx="494.5" cy="366.5" r="1"/><circle cx="494.5" cy="360.5" r="1"/><circle cx="494.5" cy="351.5" r="1"/><circle cx="494.5" cy="366.5" r="1"/><circle cx="494.5" cy="350.5" r="1"/><circle cx="494.5" cy="353.5" r="1"/><circle cx="494.5" cy="366.5" r="1"/><circle cx="494.5" cy="360.5" r="1"/><circle cx="494.5" cy="355.5" r="1"/><circle cx="494.5" cy="364.5" r="1"/><circle cx="494.5" cy="360.5" r="1"/><circle cx="494.5" cy="351.5" r="1"/><circle cx="494.5" cy="353.5" r="1"/><circle cx="495.5" cy="359.5" r="1"/><circle cx="495.5" cy="362.5" r="1"/><circle cx="495.5" cy="355.5" r="1"/><circle cx="495.5" cy="350.5" r="1"/><circle cx="495.5" cy="357.5" r="1"/><circle cx="495.5" cy="367.5" r="1"/><circle cx="495.5" cy="362.5" r="1"/><circle cx="495.5" cy="353.5" r="1"/><circle cx="495.5" cy="366.5" r="1"/><circle cx="495.5" cy="362.5" r="1"/><circle cx="495.5" cy="355.5" r="1"/><circle cx="495.5" cy="355.5" r="1"/><circle cx="495.5" cy="353.5" r="1"/><circle cx="495.5" cy="357.5" r="1"/><circle cx="495.5" cy="357.5" r="1"/><circle cx="495.5" cy="355.5" r="1"/><circle cx="495.5" cy="366.5" r="1"/><circle cx="495.5" cy="364.5" r="1"/><circle cx="495.5" cy="359.5" r="1"/><circle cx="495.5" cy="367.5" r="1"/><circle cx="496.5" cy="364.5" r="1"/><circle cx="496.5" cy="364.5" r="1"/><circle cx="496.5" cy="366.5" r="1"/><circle cx="496.5" cy="357.5" r="1"/><circle cx="496.5" cy="357.5" r="1"/><circle cx="496.5" cy="355.5" r="1"/><circle cx="496.5" cy="367.5" r="1"/><circle cx="496.5" cy="366.5" r="1"/><circle cx="496.5" cy="359.5" r="1"/><circle cx="496.5" cy="357.5" r="1"/><circle cx="496.5" cy="351.5" r="1"/><circle cx="496.5" cy="367.5" r="1"/><circle cx="496.5" cy="362.5" r="1"/><circle cx="496.5" cy="367.5" r="1"/><circle cx="496.5" cy="362.5" r="1"/><circle cx="497.5" cy="351.5" r="1"/><circle cx="497.5" cy="359.5" r="1"/><circle cx="497.5" cy="357.5" r="1"/><circle cx="497.5" cy="367.5" r="1"/><circle cx="497.5" cy="369.5" r="1"/><circle cx="497.5" cy="353.5" r="1"/><circle cx="497.5" cy="366.5" r="1"/><circle cx="497.5" cy="360.5" r="1"/><circle cx="497.5" cy="366.5" r="1"/><circle cx="497.5" cy="357.5" r="1"/><circle cx="497.5" cy="364.5" r="1"/><circle cx="498.5" cy="355.5" r="1"/><circle cx="498.5" cy="362.5" r="1"/><circle cx="498.5" cy="359.5" r="1"/><circle cx="498.5" cy="355.5" r="1"/><circle cx="498.5" cy="357.5" r="1"/><circle cx="498.5" cy="355.5" r="1"/><circle cx="498.5" cy="360.5" r="1"/><circle cx="498.5" cy="351.5" r="1"/><circle cx="498.5" cy="360.5" r="1"/><circle cx="498.5" cy="359.5" r="1"/><circle cx="499.5" cy="355.5" r="1"/><circle cx="499.5" cy="360.5" r="1"/><circle cx="499.5" cy="366.5" r="1"/><circle cx="499.5" cy="355.5" r="1"/><circle cx="499.5" cy="353.5" r="1"/><circle cx="499.5" cy="353.5" r="1"/><circle cx="499.5" cy="362.5" r="1"/><circle cx="500.5" cy="359.5" r="1"/><circle cx="500.5" cy="355.5" r="1"/><circle cx="500.5" cy="360.5" r="1"/><circle cx="500.5" cy="353.5" r="1"/><circle cx="501.5" cy="359.5" r="1"/><circle cx="501.5" cy="369.5" r="1"/><circle cx="501.5" cy="357.5" r="1"/><circle cx="501.5" cy="355.5" r="1"/><circle cx="501.5" cy="353.5" r="1"/><circle cx="501.5" cy="364.5" r="1"/><circle cx="501.5" cy="362.5" r="1"/><circle cx="501.5" cy="369.5" r="1"/><circle cx="501.5" cy="353.5" r="1"/><circle cx="502.5" cy="351.5" r="1"/><circle cx="502.5" cy="357.5" r="1"/><circle cx="502.5" cy="367.5" r="1"/><circle cx="502.5" cy="353.5" r="1"/><circle cx="502.5" cy="360.5" r="1"/><circle cx="502.5" cy="351.5" r="1"/><circle cx="502.5" cy="366.5" r="1"/><circle cx="502.5" cy="351.5" r="1"/><circle cx="502.5" cy="367.5" r="1"/><circle cx="502.5" cy="364.5" r="1"/><circle cx="503.5" cy="362.5" r="1"/><circle cx="503.5" cy="362.5" r="1"/><circle cx="503.5" cy="357.5" r="1"/><circle cx="503.5" cy="359.5" r="1"/><circle cx="503.5" cy="367.5" r="1"/><circle cx="503.5" cy="369.5" r="1"/><circle cx="503.5" cy="369.5" r="1"/><circle cx="503.5" cy="362.5" r="1"/><circle cx="503.5" cy="369.5" r="1"/><circle cx="503.5" cy="353.5" r="1"/><circle cx="503.5" cy="371.5" r="1"/><circle cx="503.5" cy="351.5" r="1"/><circle cx="503.5" cy="369.5" r="1"/><circle cx="503.5" cy="367.5" r="1"/><circle cx="503.5" cy="359.5" r="1"/><circle cx="503.5" cy="367.5" r="1"/><circle cx="503.5" cy="371.5" r="1"/><circle cx="503.5" cy="353.5" r="1"/><circle cx="503.5" cy="364.5" r="1"/><circle cx="503.5" cy="350.5" r="1"/><circle cx="503.5" cy="364.5" r="1"/><circle cx="503.5" cy="351.5" r="1"/><circle cx="504.5" cy="362.5" r="1"/><circle cx="504.5" cy="369.5" r="1"/><circle cx="504.5" cy="369.5" r="1"/><circle cx="504.5" cy="362.5" r="1"/><circle cx="504.5" cy="355.5" r="1"/><circle cx="504.5" cy="360.5" r="1"/><circle cx="504.5" cy="357.5" r="1"/><circle cx="504.5" cy="357.5" r="1"/><circle cx="505.5" cy="366.5" r="1"/><circle cx="506.5" cy="364.5" r="1"/><circle cx="506.5" cy="364.5" r="1"/><circle cx="506.5" cy="367.5" r="1"/><circle cx="506.5" cy="351.5" r="1"/><circle cx="506.5" cy="353.5" r="1"/><circle cx="506.5" cy="364.5" r="1"/><circle cx="506.5" cy="366.5" r="1"/><circle cx="506.5" cy="351.5" r="1"/><circle cx="506.5" cy="351.5" r="1"/><circle cx="506.5" cy="357.5" r="1"/><circle cx="506.5" cy="357.5" r="1"/><circle cx="506.5" cy="351.5" r="1"/><circle cx="506.5" cy="351.5" r="1"/><circle cx="506.5" cy="355.5" r="1"/><circle cx="507.5" cy="351.5" r="1"/><circle cx="507.5" cy="353.5" r="1"/><circle cx="507.5" cy="369.5" r="1"/><circle cx="507.5" cy="366.5" r="1"/><circle cx="507.5" cy="362.5" r="1"/><circle cx="507.5" cy="362.5" r="1"/><circle cx="507.5" cy="364.5" r="1"/><circle cx="508.5" cy="362.5" r="1"/><circle cx="508.5" cy="355.5" r="1"/><circle cx="508.5" cy="355.5" r="1"/><circle cx="508.5" cy="353.5" r="1"/><circle cx="508.5" cy="360.5" r="1"/><circle cx="508.5" cy="369.5" r="1"/><circle cx="508.5" cy="366.5" r="1"/><circle cx="508.5" cy="353.5" r="1"/><circle cx="508.5" cy="351.5" r="1"/><circle cx="508.5" cy="355.5" r="1"/><circle cx="508.5" cy="353.5" r="1"/><circle cx="508.5" cy="353.5" r="1"/><circle cx="509.5" cy="357.5" r="1"/><circle cx="510.5" cy="355.5" r="1"/><circle cx="510.5" cy="359.5" r="1"/><circle cx="511.5" cy="357.5" r="1"/><circle cx="511.5" cy="351.5" r="1"/><circle cx="511.5" cy="371.5" r="1"/><circle cx="511.5" cy="353.5" r="1"/><circle cx="511.5" cy="355.5" r="1"/><circle cx="511.5" cy="359.5" r="1"/><circle cx="511.5" cy="351.5" r="1"/><circle cx="511.5" cy="353.5" r="1"/><circle cx="511.5" cy="359.5" r="1"/><circle cx="511.5" cy="362.5" r="1"/><circle cx="511.5" cy="362.5" r="1"/><circle cx="511.5" cy="357.5" r="1"/><circle cx="511.5" cy="366.5" r="1"/><circle cx="511.5" cy="367.5" r="1"/><circle cx="512.5" cy="362.5" r="1"/><circle cx="512.5" cy="357.5" r="1"/><circle cx="512.5" cy="353.5" r="1"/><circle cx="512.5" cy="371.5" r="1"/><circle cx="513.5" cy="350.5" r="1"/><circle cx="513.5" cy="357.5" r="1"/><circle cx="513.5" cy="373.5" r="1"/><circle cx="513.5" cy="366.5" r="1"/><circle cx="514.5" cy="364.5" r="1"/><circle cx="514.5" cy="353.5" r="1"/><circle cx="514.5" cy="357.5" r="1"/><circle cx="515.5" cy="360.5" r="1"/><circle cx="515.5" cy="367.5" r="1"/><circle cx="515.5" cy="369.5" r="1"/><circle cx="515.5" cy="374.5" r="1"/><circle cx="515.5" cy="357.5" r="1"/><circle cx="515.5" cy="357.5" r="1"/><circle cx="515.5" cy="360.5" r="1"/><circle cx="515.5" cy="359.5" r="1"/><circle cx="515.5" cy="371.5" r="1"/><circle cx="515.5" cy="360.5" r="1"/><circle cx="515.5" cy="360.5" r="1"/><circle cx="515.5" cy="364.5" r="1"/><circle cx="515.5" cy="366.5" r="1"/><circle cx="515.5" cy="359.5" r="1"/><circle cx="515.5" cy="350.5" r="1"/><circle cx="515.5" cy="369.5" r="1"/><circle cx="515.5" cy="353.5" r="1"/><circle cx="515.5" cy="373.5" r="1"/><circle cx="515.5" cy="357.5" r="1"/><circle cx="515.5" cy="357.5" r="1"/><circle cx="516.5" cy="364.5" r="1"/><circle cx="516.5" cy="362.5" r="1"/><circle cx="516.5" cy="355.5" r="1"/><circle cx="516.5" cy="359.5" r="1"/><circle cx="516.5" cy="374.5" r="1"/><circle cx="516.5" cy="376.5" r="1"/><circle cx="516.5" cy="359.5" r="1"/><circle cx="516.5" cy="374.5" r="1"/><circle cx="516.5" cy="351.5" r="1"/><circle cx="516.5" cy="369.5" r="1"/><circle cx="516.5" cy="351.5" r="1"/><circle cx="516.5" cy="362.5" r="1"/><circle cx="516.5" cy="362.5" r="1"/><circle cx="516.5" cy="362.5" r="1"/><circle cx="516.5" cy="376.5" r="1"/><circle cx="518.5" cy="355.5" r="1"/><circle cx="518.5" cy="359.5" r="1"/><circle cx="518.5" cy="378.5" r="1"/><circle cx="518.5" cy="366.5" r="1"/><circle cx="518.5" cy="359.5" r="1"/><circle cx="518.5" cy="371.5" r="1"/><circle cx="518.5" cy="364.5" r="1"/><circle cx="518.5" cy="367.5" r="1"/><circle cx="518.5" cy="378.5" r="1"/><circle cx="518.5" cy="371.5" r="1"/><circle cx="518.5" cy="367.5" r="1"/><circle cx="518.5" cy="378.5" r="1"/><circle cx="518.5" cy="367.5" r="1"/><circle cx="518.5" cy="366.5" r="1"/><circle cx="518.5" cy="374.5" r="1"/><circle cx="518.5" cy="378.5" r="1"/><circle cx="518.5" cy="371.5" r="1"/><circle cx="518.5" cy="364.5" r="1"/><circle cx="518.5" cy="364.5" r="1"/><circle cx="518.5" cy="355.5" r="1"/><circle cx="518.5" cy="360.5" r="1"/><circle cx="518.5" cy="373.5" r="1"/><circle cx="518.5" cy="366.5" r="1"/><circle cx="518.5" cy="374.5" r="1"/><circle cx="518.5" cy="371.5" r="1"/><circle cx="518.5" cy="367.5" r="1"/><circle cx="518.5" cy="374.5" r="1"/><circle cx="518.5" cy="366.5" r="1"/><circle cx="518.5" cy="371.5" r="1"/><circle cx="518.5" cy="366.5" r="1"/><circle cx="518.5" cy="362.5" r="1"/><circle cx="518.5" cy="373.5" r="1"/><circle cx="518.5" cy="357.5" r="1"/><circle cx="518.5" cy="378.5" r="1"/><circle cx="518.5" cy="378.5" r="1"/><circle cx="518.5" cy="374.5" r="1"/><circle cx="519.5" cy="367.5" r="1"/><circle cx="519.5" cy="360.5" r="1"/><circle cx="519.5" cy="374.5" r="1"/><circle cx="519.5" cy="376.5" r="1"/><circle cx="519.5" cy="367.5" r="1"/><circle cx="519.5" cy="376.5" r="1"/><circle cx="519.5" cy="362.5" r="1"/><circle cx="519.5" cy="376.5" r="1"/><circle cx="519.5" cy="378.5" r="1"/><circle cx="519.5" cy="371.5" r="1"/><circle cx="519.5" cy="378.5" r="1"/><circle cx="519.5" cy="373.5" r="1"/><circle cx="519.5" cy="373.5" r="1"/><circle cx="519.5" cy="367.5" r="1"/><circle cx="519.5" cy="357.5" r="1"/><circle cx="519.5" cy="359.5" r="1"/><circle cx="519.5" cy="374.5" r="1"/><circle cx="519.5" cy="360.5" r="1"/><circle cx="519.5" cy="373.5" r="1"/><circle cx="519.5" cy="360.5" r="1"/><circle cx="519.5" cy="373.5" r="1"/><circle cx="519.5" cy="378.5" r="1"/><circle cx="519.5" cy="371.5" r="1"/><circle cx="519.5" cy="357.5" r="1"/><circle cx="519.5" cy="373.5" r="1"/><circle cx="519.5" cy="367.5" r="1"/><circle cx="519.5" cy="376.5" r="1"/><circle cx="519.5" cy="359.5" r="1"/><circle cx="519.5" cy="362.5" r="1"/><circle cx="519.5" cy="378.5" r="1"/><circle cx="519.5" cy="376.5" r="1"/><circle cx="519.5" cy="378.5" r="1"/><circle cx="519.5" cy="367.5" r="1"/><circle cx="519.5" cy="371.5" r="1"/><circle cx="519.5" cy="378.5" r="1"/><circle cx="519.5" cy="371.5" r="1"/><circle cx="520.5" cy="357.5" r="1"/><circle cx="520.5" cy="355.5" r="1"/><circle cx="520.5" cy="364.5" r="1"/><circle cx="520.5" cy="369.5" r="1"/><circle cx="520.5" cy="376.5" r="1"/><circle cx="520.5" cy="364.5" r="1"/><circle cx="520.5" cy="359.5" r="1"/><circle cx="520.5" cy="376.5" r="1"/><circle cx="521.5" cy="376.5" r="1"/><circle cx="521.5" cy="367.5" r="1"/><circle cx="521.5" cy="353.5" r="1"/><circle cx="521.5" cy="362.5" r="1"/><circle cx="521.5" cy="371.5" r="1"/><circle cx="522.5" cy="364.5" r="1"/><circle cx="522.5" cy="359.5" r="1"/><circle cx="522.5" cy="355.5" r="1"/><circle cx="522.5" cy="374.5" r="1"/><circle cx="522.5" cy="360.5" r="1"/><circle cx="522.5" cy="371.5" r="1"/><circle cx="522.5" cy="374.5" r="1"/><circle cx="522.5" cy="359.5" r="1"/><circle cx="522.5" cy="351.5" r="1"/><circle cx="522.5" cy="366.5" r="1"/><circle cx="522.5" cy="359.5" r="1"/><circle cx="522.5" cy="374.5" r="1"/><circle cx="522.5" cy="357.5" r="1"/><circle cx="522.5" cy="371.5" r="1"/><circle cx="522.5" cy="351.5" r="1"/><circle cx="522.5" cy="359.5" r="1"/><circle cx="522.5" cy="357.5" r="1"/><circle cx="522.5" cy="374.5" r="1"/><circle cx="522.5" cy="367.5" r="1"/><circle cx="522.5" cy="369.5" r="1"/><circle cx="523.5" cy="374.5" r="1"/><circle cx="523.5" cy="357.5" r="1"/><circle cx="523.5" cy="355.5" r="1"/><circle cx="523.5" cy="367.5" r="1"/><circle cx="523.5" cy="353.5" r="1"/><circle cx="524.5" cy="348.5" r="1"/><circle cx="524.5" cy="353.5" r="1"/><circle cx="524.5" cy="359.5" r="1"/><circle cx="524.5" cy="366.5" r="1"/><circle cx="524.5" cy="364.5" r="1"/><circle cx="524.5" cy="353.5" r="1"/><circle cx="525.5" cy="350.5" r="1"/><circle cx="525.5" cy="353.5" r="1"/><circle cx="525.5" cy="376.5" r="1"/><circle cx="525.5" cy="359.5" r="1"/><circle cx="525.5" cy="366.5" r="1"/><circle cx="525.5" cy="351.5" r="1"/><circle cx="525.5" cy="364.5" r="1"/><circle cx="525.5" cy="366.5" r="1"/><circle cx="525.5" cy="369.5" r="1"/><circle cx="525.5" cy="376.5" r="1"/><circle cx="525.5" cy="360.5" r="1"/><circle cx="525.5" cy="357.5" r="1"/><circle cx="525.5" cy="351.5" r="1"/><circle cx="526.5" cy="367.5" r="1"/><circle cx="526.5" cy="348.5" r="1"/><circle cx="526.5" cy="353.5" r="1"/><circle cx="526.5" cy="362.5" r="1"/><circle cx="526.5" cy="350.5" r="1"/><circle cx="526.5" cy="351.5" r="1"/><circle cx="526.5" cy="367.5" r="1"/><circle cx="526.5" cy="366.5" r="1"/><circle cx="526.5" cy="351.5" r="1"/><circle cx="526.5" cy="351.5" r="1"/><circle cx="526.5" cy="371.5" r="1"/><circle cx="526.5" cy="360.5" r="1"/><circle cx="526.5" cy="357.5" r="1"/><circle cx="526.5" cy="367.5" r="1"/><circle cx="526.5" cy="366.5" r="1"/><circle cx="526.5" cy="374.5" r="1"/><circle cx="526.5" cy="351.5" r="1"/><circle cx="526.5" cy="369.5" r="1"/><circle cx="527.5" cy="350.5" r="1"/><circle cx="527.5" cy="351.5" r="1"/><circle cx="527.5" cy="351.5" r="1"/><circle cx="527.5" cy="366.5" r="1"/><circle cx="527.5" cy="366.5" r="1"/><circle cx="527.5" cy="355.5" r="1"/><circle cx="527.5" cy="357.5" r="1"/><circle cx="527.5" cy="367.5" r="1"/><circle cx="527.5" cy="359.5" r="1"/><circle cx="527.5" cy="357.5" r="1"/><circle cx="527.5" cy="373.5" r="1"/><circle cx="527.5" cy="362.5" r="1"/><circle cx="527.5" cy="362.5" r="1"/><circle cx="527.5" cy="364.5" r="1"/><circle cx="527.5" cy="350.5" r="1"/><circle cx="527.5" cy="359.5" r="1"/><circle cx="527.5" cy="367.5" r="1"/><circle cx="527.5" cy="364.5" r="1"/><circle cx="527.5" cy="371.5" r="1"/><circle cx="527.5" cy="357.5" r="1"/><circle cx="527.5" cy="360.5" r="1"/><circle cx="527.5" cy="355.5" r="1"/><circle cx="528.5" cy="353.5" r="1"/><circle cx="528.5" cy="359.5" r="1"/><circle cx="528.5" cy="359.5" r="1"/><circle cx="528.5" cy="366.5" r="1"/><circle cx="528.5" cy="367.5" r="1"/><circle cx="528.5" cy="362.5" r="1"/><circle cx="528.5" cy="364.5" r="1"/><circle cx="528.5" cy="360.5" r="1"/><circle cx="528.5" cy="357.5" r="1"/><circle cx="529.5" cy="359.5" r="1"/><circle cx="529.5" cy="353.5" r="1"/><circle cx="529.5" cy="364.5" r="1"/><circle cx="529.5" cy="364.5" r="1"/><circle cx="529.5" cy="366.5" r="1"/><circle cx="529.5" cy="357.5" r="1"/><circle cx="529.5" cy="362.5" r="1"/><circle cx="529.5" cy="353.5" r="1"/><circle cx="529.5" cy="369.5" r="1"/><circle cx="530.5" cy="350.5" r="1"/><circle cx="530.5" cy="350.5" r="1"/><circle cx="530.5" cy="364.5" r="1"/><circle cx="530.5" cy="350.5" r="1"/><circle cx="530.5" cy="357.5" r="1"/><circle cx="530.5" cy="366.5" r="1"/><circle cx="530.5" cy="351.5" r="1"/><circle cx="530.5" cy="364.5" r="1"/><circle cx="530.5" cy="359.5" r="1"/><circle cx="530.5" cy="357.5" r="1"/><circle cx="530.5" cy="359.5" r="1"/><circle cx="530.5" cy="357.5" r="1"/><circle cx="530.5" cy="366.5" r="1"/><circle cx="530.5" cy="362.5" r="1"/><circle cx="531.5" cy="351.5" r="1"/><circle cx="531.5" cy="353.5" r="1"/><circle cx="531.5" cy="360.5" r="1"/><circle cx="531.5" cy="364.5" r="1"/><circle cx="531.5" cy="364.5" r="1"/><circle cx="531.5" cy="362.5" r="1"/><circle cx="531.5" cy="362.5" r="1"/><circle cx="532.5" cy="367.5" r="1"/><circle cx="532.5" cy="369.5" r="1"/><circle cx="532.5" cy="362.5" r="1"/><circle cx="532.5" cy="355.5" r="1"/><circle cx="532.5" cy="359.5" r="1"/><circle cx="532.5" cy="367.5" r="1"/><circle cx="533.5" cy="369.5" r="1"/><circle cx="533.5" cy="353.5" r="1"/><circle cx="533.5" cy="351.5" r="1"/><circle cx="533.5" cy="351.5" r="1"/><circle cx="533.5" cy="351.5" r="1"/><circle cx="534.5" cy="367.5" r="1"/><circle cx="534.5" cy="364.5" r="1"/><circle cx="534.5" cy="364.5" r="1"/><circle cx="534.5" cy="357.5" r="1"/><circle cx="534.5" cy="364.5" r="1"/><circle cx="534.5" cy="369.5" r="1"/><circle cx="534.5" cy="360.5" r="1"/><circle cx="534.5" cy="367.5" r="1"/><circle cx="534.5" cy="362.5" r="1"/><circle cx="535.5" cy="359.5" r="1"/><circle cx="535.5" cy="355.5" r="1"/><circle cx="535.5" cy="366.5" r="1"/><circle cx="535.5" cy="360.5" r="1"/><circle cx="535.5" cy="357.5" r="1"/><circle cx="535.5" cy="357.5" r="1"/><circle cx="535.5" cy="373.5" r="1"/><circle cx="536.5" cy="373.5" r="1"/><circle cx="536.5" cy="355.5" r="1"/><circle cx="536.5" cy="371.5" r="1"/><circle cx="536.5" cy="366.5" r="1"/><circle cx="536.5" cy="373.5" r="1"/><circle cx="536.5" cy="373.5" r="1"/><circle cx="536.5" cy="362.5" r="1"/><circle cx="536.5" cy="373.5" r="1"/><circle cx="536.5" cy="355.5" r="1"/><circle cx="536.5" cy="362.5" r="1"/><circle cx="536.5" cy="362.5" r="1"/><circle cx="536.5" cy="357.5" r="1"/><circle cx="536.5" cy="362.5" r="1"/><circle cx="536.5" cy="369.5" r="1"/><circle cx="537.5" cy="367.5" r="1"/><circle cx="537.5" cy="359.5" r="1"/><circle cx="538.5" cy="364.5" r="1"/><circle cx="538.5" cy="373.5" r="1"/><circle cx="538.5" cy="374.5" r="1"/><circle cx="538.5" cy="374.5" r="1"/><circle cx="538.5" cy="369.5" r="1"/><circle cx="538.5" cy="373.5" r="1"/><circle cx="538.5" cy="373.5" r="1"/><circle cx="538.5" cy="366.5" r="1"/><circle cx="538.5" cy="359.5" r="1"/><circle cx="538.5" cy="353.5" r="1"/><circle cx="538.5" cy="369.5" r="1"/><circle cx="538.5" cy="369.5" r="1"/><circle cx="538.5" cy="369.5" r="1"/><circle cx="538.5" cy="366.5" r="1"/><circle cx="538.5" cy="367.5" r="1"/><circle cx="538.5" cy="369.5" r="1"/><circle cx="538.5" cy="364.5" r="1"/><circle cx="538.5" cy="367.5" r="1"/><circle cx="538.5" cy="357.5" r="1"/><circle cx="538.5" cy="364.5" r="1"/><circle cx="538.5" cy="367.5" r="1"/><circle cx="539.5" cy="367.5" r="1"/><circle cx="539.5" cy="355.5" r="1"/><circle cx="539.5" cy="371.5" r="1"/><circle cx="539.5" cy="357.5" r="1"/><circle cx="539.5" cy="371.5" r="1"/><circle cx="539.5" cy="360.5" r="1"/><circle cx="539.5" cy="373.5" r="1"/><circle cx="539.5" cy="357.5" r="1"/><circle cx="539.5" cy="357.5" r="1"/><circle cx="539.5" cy="367.5" r="1"/><circle cx="539.5" cy="371.5" r="1"/><circle cx="539.5" cy="360.5" r="1"/><circle cx="539.5" cy="364.5" r="1"/><circle cx="539.5" cy="367.5" r="1"/><circle cx="539.5" cy="359.5" r="1"/><circle cx="540.5" cy="373.5" r="1"/><circle cx="540.5" cy="353.5" r="1"/><circle cx="540.5" cy="366.5" r="1"/><circle cx="540.5" cy="360.5" r="1"/><circle cx="540.5" cy="360.5" r="1"/><circle cx="540.5" cy="373.5" r="1"/><circle cx="540.5" cy="353.5" r="1"/><circle cx="541.5" cy="360.5" r="1"/><circle cx="542.5" cy="373.5" r="1"/><circle cx="542.5" cy="373.5" r="1"/><circle cx="542.5" cy="376.5" r="1"/><circle cx="542.5" cy="359.5" r="1"/><circle cx="542.5" cy="359.5" r="1"/><circle cx="542.5" cy="373.5" r="1"/><circle cx="543.5" cy="366.5" r="1"/><circle cx="543.5" cy="364.5" r="1"/><circle cx="543.5" cy="364.5" r="1"/><circle cx="543.5" cy="362.5" r="1"/><circle cx="543.5" cy="373.5" r="1"/><circle cx="543.5" cy="364.5" r="1"/><circle cx="543.5" cy="360.5" r="1"/><circle cx="544.5" cy="366.5" r="1"/><circle cx="544.5" cy="355.5" r="1"/><circle cx="544.5" cy="376.5" r="1"/><circle cx="545.5" cy="364.5" r="1"/><circle cx="545.5" cy="360.5" r="1"/><circle cx="545.5" cy="362.5" r="1"/><circle cx="545.5" cy="359.5" r="1"/><circle cx="545.5" cy="371.5" r="1"/><circle cx="546.5" cy="371.5" r="1"/><circle cx="546.5" cy="371.5" r="1"/><circle cx="546.5" cy="373.5" r="1"/><circle cx="546.5" cy="360.5" r="1"/><circle cx="547.5" cy="369.5" r="1"/><circle cx="547.5" cy="373.5" r="1"/><circle cx="547.5" cy="360.5" r="1"/><circle cx="547.5" cy="376.5" r="1"/><circle cx="547.5" cy="376.5" r="1"/><circle cx="548.5" cy="378.5" r="1"/><circle cx="548.5" cy="371.5" r="1"/><circle cx="548.5" cy="373.5" r="1"/><circle cx="548.5" cy="371.5" r="1"/><circle cx="548.5" cy="364.5" r="1"/><circle cx="548.5" cy="374.5" r="1"/><circle cx="548.5" cy="371.5" r="1"/><circle cx="548.5" cy="364.5" r="1"/><circle cx="548.5" cy="367.5" r="1"/><circle cx="548.5" cy="362.5" r="1"/><circle cx="548.5" cy="367.5" r="1"/><circle cx="548.5" cy="378.5" r="1"/><circle cx="548.5" cy="367.5" r="1"/><circle cx="548.5" cy="367.5" r="1"/><circle cx="548.5" cy="374.5" r="1"/><circle cx="548.5" cy="362.5" r="1"/><circle cx="548.5" cy="362.5" r="1"/><circle cx="548.5" cy="373.5" r="1"/><circle cx="548.5" cy="362.5" r="1"/><circle cx="548.5" cy="371.5" r="1"/><circle cx="548.5" cy="374.5" r="1"/><circle cx="548.5" cy="369.5" r="1"/><circle cx="548.5" cy="362.5" r="1"/><circle cx="548.5" cy="364.5" r="1"/><circle cx="549.5" cy="367.5" r="1"/><circle cx="549.5" cy="374.5" r="1"/><circle cx="549.5" cy="364.5" r="1"/><circle cx="549.5" cy="371.5" r="1"/><circle cx="549.5" cy="373.5" r="1"/><circle cx="549.5" cy="364.5" r="1"/><circle cx="550.5" cy="376.5" r="1"/><circle cx="550.5" cy="374.5" r="1"/><circle cx="550.5" cy="369.5" r="1"/><circle cx="550.5" cy="366.5" r="1"/><circle cx="550.5" cy="371.5" r="1"/><circle cx="550.5" cy="371.5" r="1"/><circle cx="550.5" cy="364.5" r="1"/><circle cx="550.5" cy="367.5" r="1"/><circle cx="550.5" cy="376.5" r="1"/><circle cx="550.5" cy="371.5" r="1"/><circle cx="550.5" cy="366.5" r="1"/><circle cx="550.5" cy="373.5" r="1"/><circle cx="550.5" cy="369.5" r="1"/><circle cx="550.5" cy="376.5" r="1"/><circle cx="551.5" cy="376.5" r="1"/><circle cx="551.5" cy="366.5" r="1"/><circle cx="551.5" cy="371.5" r="1"/><circle cx="551.5" cy="376.5" r="1"/><circle cx="551.5" cy="376.5" r="1"/><circle cx="551.5" cy="366.5" r="1"/><circle cx="551.5" cy="369.5" r="1"/><circle cx="551.5" cy="367.5" r="1"/><circle cx="551.5" cy="373.5" r="1"/><circle cx="551.5" cy="367.5" r="1"/><circle cx="551.5" cy="366.5" r="1"/><circle cx="551.5" cy="367.5" r="1"/><circle cx="551.5" cy="366.5" r="1"/><circle cx="551.5" cy="373.5" r="1"/><circle cx="551.5" cy="367.5" r="1"/><circle cx="551.5" cy="369.5" r="1"/><circle cx="551.5" cy="367.5" r="1"/><circle cx="551.5" cy="369.5" r="1"/><circle cx="551.5" cy="367.5" r="1"/><circle cx="551.5" cy="369.5" r="1"/><circle cx="551.5" cy="373.5" r="1"/><circle cx="551.5" cy="366.5" r="1"/><circle cx="551.5" cy="373.5" r="1"/><circle cx="551.5" cy="367.5" r="1"/><circle cx="552.5" cy="367.5" r="1"/><circle cx="552.5" cy="374.5" r="1"/><circle cx="552.5" cy="366.5" r="1"/><circle cx="552.5" cy="376.5" r="1"/><circle cx="552.5" cy="366.5" r="1"/><circle cx="552.5" cy="371.5" r="1"/><circle cx="553.5" cy="367.5" r="1"/><circle cx="553.5" cy="376.5" r="1"/><circle cx="553.5" cy="371.5" r="1"/><circle cx="553.5" cy="373.5" r="1"/><circle cx="553.5" cy="373.5" r="1"/><circle cx="553.5" cy="374.5" r="1"/><circle cx="553.5" cy="376.5" r="1"/><circle cx="553.5" cy="374.5" r="1"/><circle cx="553.5" cy="366.5" r="1"/><circle cx="554.5" cy="374.5" r="1"/><circle cx="554.5" cy="373.5" r="1"/><circle cx="555.5" cy="367.5" r="1"/><circle cx="555.5" cy="378.5" r="1"/><circle cx="555.5" cy="367.5" r="1"/><circle cx="555.5" cy="376.5" r="1"/><circle cx="555.5" cy="367.5" r="1"/><circle cx="555.5" cy="376.5" r="1"/><circle cx="555.5" cy="371.5" r="1"/><circle cx="556.5" cy="373.5" r="1"/><circle cx="556.5" cy="374.5" r="1"/><circle cx="556.5" cy="367.5" r="1"/><circle cx="556.5" cy="378.5" r="1"/><circle cx="556.5" cy="378.5" r="1"/><circle cx="556.5" cy="369.5" r="1"/><circle cx="556.5" cy="369.5" r="1"/><circle cx="556.5" cy="371.5" r="1"/><circle cx="556.5" cy="376.5" r="1"/><circle cx="556.5" cy="373.5" r="1"/><circle cx="556.5" cy="371.5" r="1"/><circle cx="556.5" cy="376.5" r="1"/><circle cx="556.5" cy="369.5" r="1"/><circle cx="556.5" cy="376.5" r="1"/><circle cx="556.5" cy="376.5" r="1"/><circle cx="557.5" cy="371.5" r="1"/><circle cx="557.5" cy="380.5" r="1"/><circle cx="557.5" cy="371.5" r="1"/><circle cx="557.5" cy="369.5" r="1"/><circle cx="557.5" cy="369.5" r="1"/><circle cx="557.5" cy="376.5" r="1"/><circle cx="557.5" cy="374.5" r="1"/><circle cx="557.5" cy="369.5" r="1"/><circle cx="558.5" cy="374.5" r="1"/><circle cx="558.5" cy="380.5" r="1"/><circle cx="559.5" cy="366.5" r="1"/><circle cx="559.5" cy="380.5" r="1"/><circle cx="559.5" cy="374.5" r="1"/><circle cx="559.5" cy="374.5" r="1"/><circle cx="559.5" cy="374.5" r="1"/><circle cx="559.5" cy="366.5" r="1"/><circle cx="559.5" cy="369.5" r="1"/><circle cx="559.5" cy="367.5" r="1"/><circle cx="560.5" cy="367.5" r="1"/><circle cx="560.5" cy="376.5" r="1"/><circle cx="560.5" cy="374.5" r="1"/><circle cx="560.5" cy="378.5" r="1"/><circle cx="560.5" cy="382.5" r="1"/><circle cx="560.5" cy="369.5" r="1"/><circle cx="560.5" cy="380.5" r="1"/><circle cx="560.5" cy="378.5" r="1"/><circle cx="561.5" cy="371.5" r="1"/><circle cx="561.5" cy="376.5" r="1"/><circle cx="561.5" cy="374.5" r="1"/><circle cx="562.5" cy="374.5" r="1"/><circle cx="563.5" cy="371.5" r="1"/><circle cx="563.5" cy="378.5" r="1"/><circle cx="563.5" cy="378.5" r="1"/><circle cx="563.5" cy="369.5" r="1"/><circle cx="563.5" cy="382.5" r="1"/><circle cx="563.5" cy="366.5" r="1"/><circle cx="563.5" cy="369.5" r="1"/><circle cx="563.5" cy="373.5" r="1"/><circle cx="563.5" cy="378.5" r="1"/><circle cx="563.5" cy="374.5" r="1"/><circle cx="564.5" cy="366.5" r="1"/><circle cx="564.5" cy="378.5" r="1"/><circle cx="564.5" cy="383.5" r="1"/><circle cx="564.5" cy="382.5" r="1"/><circle cx="564.5" cy="373.5" r="1"/><circle cx="565.5" cy="366.5" r="1"/><circle cx="565.5" cy="373.5" r="1"/><circle cx="565.5" cy="374.5" r="1"/><circle cx="565.5" cy="380.5" r="1"/><circle cx="565.5" cy="373.5" r="1"/><circle cx="565.5" cy="378.5" r="1"/><circle cx="566.5" cy="374.5" r="1"/><circle cx="566.5" cy="378.5" r="1"/><circle cx="566.5" cy="374.5" r="1"/><circle cx="566.5" cy="382.5" r="1"/><circle cx="566.5" cy="369.5" r="1"/><circle cx="566.5" cy="382.5" r="1"/><circle cx="566.5" cy="380.5" r="1"/><circle cx="566.5" cy="367.5" r="1"/><circle cx="566.5" cy="380.5" r="1"/><circle cx="566.5" cy="373.5" r="1"/><circle cx="566.5" cy="376.5" r="1"/><circle cx="566.5" cy="376.5" r="1"/><circle cx="566.5" cy="380.5" r="1"/><circle cx="567.5" cy="369.5" r="1"/><circle cx="567.5" cy="380.5" r="1"/><circle cx="567.5" cy="383.5" r="1"/><circle cx="567.5" cy="369.5" r="1"/><circle cx="567.5" cy="383.5" r="1"/><circle cx="567.5" cy="374.5" r="1"/><circle cx="567.5" cy="378.5" r="1"/><circle cx="567.5" cy="373.5" r="1"/><circle cx="567.5" cy="380.5" r="1"/><circle cx="567.5" cy="374.5" r="1"/><circle cx="567.5" cy="382.5" r="1"/><circle cx="567.5" cy="373.5" r="1"/><circle cx="567.5" cy="374.5" r="1"/><circle cx="567.5" cy="378.5" r="1"/><circle cx="567.5" cy="369.5" r="1"/><circle cx="567.5" cy="383.5" r="1"/><circle cx="567.5" cy="378.5" r="1"/><circle cx="567.5" cy="383.5" r="1"/><circle cx="567.5" cy="371.5" r="1"/><circle cx="567.5" cy="380.5" r="1"/><circle cx="567.5" cy="371.5" r="1"/><circle cx="567.5" cy="369.5" r="1"/><circle cx="567.5" cy="376.5" r="1"/><circle cx="567.5" cy="376.5" r="1"/><circle cx="567.5" cy="378.5" r="1"/><circle cx="567.5" cy="376.5" r="1"/><circle cx="567.5" cy="371.5" r="1"/><circle cx="567.5" cy="380.5" r="1"/><circle cx="567.5" cy="373.5" r="1"/><circle cx="567.5" cy="373.5" r="1"/><circle cx="567.5" cy="382.5" r="1"/><circle cx="567.5" cy="380.5" r="1"/><circle cx="567.5" cy="380.5" r="1"/><circle cx="567.5" cy="383.5" r="1"/><circle cx="567.5" cy="382.5" r="1"/><circle cx="567.5" cy="373.5" r="1"/><circle cx="567.5" cy="383.5" r="1"/><circle cx="567.5" cy="376.5" r="1"/><circle cx="567.5" cy="378.5" r="1"/><circle cx="568.5" cy="369.5" r="1"/><circle cx="568.5" cy="380.5" r="1"/><circle cx="568.5" cy="374.5" r="1"/><circle cx="568.5" cy="380.5" r="1"/><circle cx="568.5" cy="380.5" r="1"/><circle cx="568.5" cy="378.5" r="1"/><circle cx="568.5" cy="371.5" r="1"/><circle cx="568.5" cy="378.5" r="1"/><circle cx="568.5" cy="374.5" r="1"/><circle cx="568.5" cy="380.5" r="1"/><circle cx="569.5" cy="373.5" r="1"/><circle cx="569.5" cy="378.5" r="1"/><circle cx="569.5" cy="383.5" r="1"/><circle cx="569.5" cy="380.5" r="1"/><circle cx="569.5" cy="383.5" r="1"/><circle cx="569.5" cy="371.5" r="1"/><circle cx="569.5" cy="385.5" r="1"/><circle cx="569.5" cy="383.5" r="1"/><circle cx="569.5" cy="378.5" r="1"/><circle cx="570.5" cy="383.5" r="1"/><circle cx="570.5" cy="383.5" r="1"/><circle cx="570.5" cy="371.5" r="1"/><circle cx="571.5" cy="383.5" r="1"/><circle cx="571.5" cy="371.5" r="1"/><circle cx="571.5" cy="378.5" r="1"/><circle cx="571.5" cy="369.5" r="1"/><circle cx="571.5" cy="383.5" r="1"/><circle cx="571.5" cy="369.5" r="1"/><circle cx="572.5" cy="373.5" r="1"/><circle cx="572.5" cy="369.5" r="1"/><circle cx="572.5" cy="373.5" r="1"/><circle cx="572.5" cy="380.5" r="1"/><circle cx="572.5" cy="376.5" r="1"/><circle cx="573.5" cy="378.5" r="1"/><circle cx="573.5" cy="378.5" r="1"/><circle cx="573.5" cy="376.5" r="1"/><circle cx="573.5" cy="380.5" r="1"/><circle cx="573.5" cy="373.5" r="1"/><circle cx="573.5" cy="383.5" r="1"/><circle cx="573.5" cy="376.5" r="1"/><circle cx="574.5" cy="378.5" r="1"/><circle cx="574.5" cy="382.5" r="1"/><circle cx="574.5" cy="376.5" r="1"/><circle cx="574.5" cy="369.5" r="1"/><circle cx="574.5" cy="366.5" r="1"/><circle cx="574.5" cy="383.5" r="1"/><circle cx="574.5" cy="371.5" r="1"/><circle cx="575.5" cy="373.5" r="1"/><circle cx="575.5" cy="383.5" r="1"/><circle cx="575.5" cy="378.5" r="1"/><circle cx="575.5" cy="366.5" r="1"/><circle cx="575.5" cy="382.5" r="1"/><circle cx="575.5" cy="367.5" r="1"/><circle cx="575.5" cy="385.5" r="1"/><circle cx="575.5" cy="366.5" r="1"/><circle cx="575.5" cy="380.5" r="1"/><circle cx="575.5" cy="367.5" r="1"/><circle cx="575.5" cy="376.5" r="1"/><circle cx="575.5" cy="373.5" r="1"/><circle cx="575.5" cy="383.5" r="1"/><circle cx="575.5" cy="371.5" r="1"/><circle cx="576.5" cy="380.5" r="1"/><circle cx="576.5" cy="367.5" r="1"/><circle cx="576.5" cy="380.5" r="1"/><circle cx="576.5" cy="382.5" r="1"/><circle cx="576.5" cy="367.5" r="1"/><circle cx="576.5" cy="383.5" r="1"/><circle cx="576.5" cy="374.5" r="1"/><circle cx="576.5" cy="371.5" r="1"/><circle cx="576.5" cy="383.5" r="1"/><circle cx="576.5" cy="373.5" r="1"/><circle cx="576.5" cy="369.5" r="1"/><circle cx="576.5" cy="371.5" r="1"/><circle cx="576.5" cy="383.5" r="1"/><circle cx="576.5" cy="385.5" r="1"/><circle cx="576.5" cy="374.5" r="1"/><circle cx="576.5" cy="374.5" r="1"/><circle cx="576.5" cy="376.5" r="1"/><circle cx="576.5" cy="382.5" r="1"/><circle cx="576.5" cy="366.5" r="1"/><circle cx="576.5" cy="382.5" r="1"/><circle cx="576.5" cy="385.5" r="1"/><circle cx="576.5" cy="373.5" r="1"/><circle cx="576.5" cy="374.5" r="1"/><circle cx="576.5" cy="383.5" r="1"/><circle cx="576.5" cy="373.5" r="1"/><circle cx="576.5" cy="373.5" r="1"/><circle cx="576.5" cy="382.5" r="1"/><circle cx="576.5" cy="374.5" r="1"/><circle cx="576.5" cy="378.5" r="1"/><circle cx="576.5" cy="371.5" r="1"/><circle cx="576.5" cy="378.5" r="1"/><circle cx="576.5" cy="373.5" r="1"/><circle cx="576.5" cy="380.5" r="1"/><circle cx="576.5" cy="374.5" r="1"/><circle cx="576.5" cy="383.5" r="1"/><circle cx="576.5" cy="376.5" r="1"/><circle cx="577.5" cy="383.5" r="1"/><circle cx="577.5" cy="369.5" r="1"/><circle cx="577.5" cy="374.5" r="1"/><circle cx="577.5" cy="382.5" r="1"/><circle cx="577.5" cy="374.5" r="1"/><circle cx="577.5" cy="366.5" r="1"/><circle cx="578.5" cy="383.5" r="1"/><circle cx="578.5" cy="371.5" r="1"/><circle cx="578.5" cy="376.5" r="1"/><circle cx="578.5" cy="376.5" r="1"/><circle cx="578.5" cy="371.5" r="1"/><circle cx="578.5" cy="380.5" r="1"/><circle cx="578.5" cy="374.5" r="1"/><circle cx="578.5" cy="378.5" r="1"/><circle cx="578.5" cy="380.5" r="1"/><circle cx="578.5" cy="380.5" r="1"/><circle cx="579.5" cy="378.5" r="1"/><circle cx="580.5" cy="378.5" r="1"/><circle cx="580.5" cy="378.5" r="1"/><circle cx="580.5" cy="373.5" r="1"/><circle cx="580.5" cy="374.5" r="1"/><circle cx="580.5" cy="369.5" r="1"/><circle cx="580.5" cy="367.5" r="1"/><circle cx="580.5" cy="383.5" r="1"/><circle cx="581.5" cy="378.5" r="1"/><circle cx="581.5" cy="380.5" r="1"/><circle cx="581.5" cy="374.5" r="1"/><circle cx="581.5" cy="374.5" r="1"/><circle cx="581.5" cy="380.5" r="1"/><circle cx="581.5" cy="367.5" r="1"/><circle cx="581.5" cy="374.5" r="1"/><circle cx="581.5" cy="371.5" r="1"/><circle cx="581.5" cy="374.5" r="1"/><circle cx="581.5" cy="376.5" r="1"/><circle cx="581.5" cy="374.5" r="1"/><circle cx="581.5" cy="382.5" r="1"/><circle cx="581.5" cy="382.5" r="1"/><circle cx="581.5" cy="380.5" r="1"/><circle cx="581.5" cy="380.5" r="1"/><circle cx="581.5" cy="376.5" r="1"/><circle cx="581.5" cy="373.5" r="1"/><circle cx="581.5" cy="382.5" r="1"/><circle cx="581.5" cy="369.5" r="1"/><circle cx="581.5" cy="378.5" r="1"/><circle cx="581.5" cy="378.5" r="1"/><circle cx="581.5" cy="369.5" r="1"/><circle cx="581.5" cy="371.5" r="1"/><circle cx="581.5" cy="378.5" r="1"/><circle cx="581.5" cy="382.5" r="1"/><circle cx="581.5" cy="374.5" r="1"/><circle cx="581.5" cy="376.5" r="1"/><circle cx="581.5" cy="380.5" r="1"/><circle cx="581.5" cy="376.5" r="1"/><circle cx="581.5" cy="374.5" r="1"/><circle cx="582.5" cy="380.5" r="1"/><circle cx="582.5" cy="373.5" r="1"/><circle cx="582.5" cy="378.5" r="1"/><circle cx="582.5" cy="382.5" r="1"/><circle cx="582.5" cy="382.5" r="1"/><circle cx="582.5" cy="380.5" r="1"/><circle cx="582.5" cy="376.5" r="1"/><circle cx="582.5" cy="376.5" r="1"/><circle cx="582.5" cy="371.5" r="1"/><circle cx="582.5" cy="369.5" r="1"/><circle cx="583.5" cy="376.5" r="1"/><circle cx="583.5" cy="378.5" r="1"/><circle cx="583.5" cy="380.5" r="1"/><circle cx="583.5" cy="373.5" r="1"/><circle cx="583.5" cy="382.5" r="1"/><circle cx="583.5" cy="380.5" r="1"/><circle cx="583.5" cy="378.5" r="1"/><circle cx="583.5" cy="378.5" r="1"/><circle cx="583.5" cy="374.5" r="1"/><circle cx="583.5" cy="383.5" r="1"/><circle cx="583.5" cy="374.5" r="1"/><circle cx="583.5" cy="373.5" r="1"/><circle cx="583.5" cy="378.5" r="1"/><circle cx="583.5" cy="383.5" r="1"/><circle cx="584.5" cy="378.5" r="1"/><circle cx="584.5" cy="382.5" r="1"/><circle cx="584.5" cy="374.5" r="1"/><circle cx="584.5" cy="371.5" r="1"/><circle cx="584.5" cy="374.5" r="1"/><circle cx="584.5" cy="382.5" r="1"/><circle cx="584.5" cy="371.5" r="1"/><circle cx="584.5" cy="369.5" r="1"/><circle cx="584.5" cy="383.5" r="1"/><circle cx="584.5" cy="383.5" r="1"/><circle cx="584.5" cy="383.5" r="1"/><circle cx="585.5" cy="385.5" r="1"/><circle cx="585.5" cy="374.5" r="1"/><circle cx="585.5" cy="374.5" r="1"/><circle cx="585.5" cy="371.5" r="1"/><circle cx="585.5" cy="369.5" r="1"/><circle cx="585.5" cy="371.5" r="1"/><circle cx="585.5" cy="378.5" r="1"/><circle cx="586.5" cy="380.5" r="1"/><circle cx="587.5" cy="376.5" r="1"/><circle cx="587.5" cy="382.5" r="1"/><circle cx="588.5" cy="374.5" r="1"/><circle cx="588.5" cy="374.5" r="1"/><circle cx="588.5" cy="374.5" r="1"/><circle cx="588.5" cy="374.5" r="1"/><circle cx="588.5" cy="382.5" r="1"/><circle cx="588.5" cy="376.5" r="1"/><circle cx="588.5" cy="383.5" r="1"/><circle cx="589.5" cy="369.5" r="1"/><circle cx="589.5" cy="373.5" r="1"/><circle cx="589.5" cy="374.5" r="1"/><circle cx="589.5" cy="378.5" r="1"/><circle cx="589.5" cy="376.5" r="1"/><circle cx="589.5" cy="369.5" r="1"/><circle cx="589.5" cy="371.5" r="1"/><circle cx="589.5" cy="369.5" r="1"/><circle cx="589.5" cy="369.5" r="1"/><circle cx="590.5" cy="373.5" r="1"/><circle cx="590.5" cy="378.5" r="1"/><circle cx="590.5" cy="385.5" r="1"/><circle cx="590.5" cy="385.5" r="1"/><circle cx="590.5" cy="382.5" r="1"/><circle cx="591.5" cy="374.5" r="1"/><circle cx="591.5" cy="373.5" r="1"/><circle cx="591.5" cy="373.5" r="1"/><circle cx="591.5" cy="374.5" r="1"/><circle cx="591.5" cy="374.5" r="1"/><circle cx="591.5" cy="385.5" r="1"/><circle cx="591.5" cy="374.5" r="1"/><circle cx="592.5" cy="373.5" r="1"/><circle cx="592.5" cy="380.5" r="1"/><circle cx="592.5" cy="374.5" r="1"/><circle cx="592.5" cy="374.5" r="1"/><circle cx="592.5" cy="378.5" r="1"/><circle cx="592.5" cy="369.5" r="1"/><circle cx="592.5" cy="385.5" r="1"/><circle cx="592.5" cy="369.5" r="1"/><circle cx="592.5" cy="376.5" r="1"/><circle cx="592.5" cy="387.5" r="1"/><circle cx="592.5" cy="373.5" r="1"/><circle cx="593.5" cy="380.5" r="1"/><circle cx="593.5" cy="383.5" r="1"/><circle cx="593.5" cy="378.5" r="1"/><circle cx="593.5" cy="376.5" r="1"/><circle cx="593.5" cy="380.5" r="1"/><circle cx="593.5" cy="378.5" r="1"/><circle cx="594.5" cy="383.5" r="1"/><circle cx="594.5" cy="376.5" r="1"/><circle cx="594.5" cy="383.5" r="1"/><circle cx="594.5" cy="378.5" r="1"/><circle cx="594.5" cy="383.5" r="1"/><circle cx="594.5" cy="378.5" r="1"/><circle cx="594.5" cy="374.5" r="1"/><circle cx="594.5" cy="383.5" r="1"/><circle cx="594.5" cy="383.5" r="1"/><circle cx="594.5" cy="378.5" r="1"/><circle cx="594.5" cy="385.5" r="1"/><circle cx="594.5" cy="382.5" r="1"/><circle cx="594.5" cy="387.5" r="1"/><circle cx="594.5" cy="373.5" r="1"/><circle cx="594.5" cy="387.5" r="1"/><circle cx="594.5" cy="383.5" r="1"/><circle cx="594.5" cy="387.5" r="1"/><circle cx="594.5" cy="376.5" r="1"/><circle cx="594.5" cy="380.5" r="1"/><circle cx="594.5" cy="385.5" r="1"/><circle cx="594.5" cy="382.5" r="1"/><circle cx="594.5" cy="374.5" r="1"/><circle cx="594.5" cy="374.5" r="1"/><circle cx="594.5" cy="387.5" r="1"/><circle cx="594.5" cy="382.5" r="1"/><circle cx="594.5" cy="371.5" r="1"/><circle cx="594.5" cy="374.5" r="1"/><circle cx="595.5" cy="382.5" r="1"/><circle cx="595.5" cy="371.5" r="1"/><circle cx="595.5" cy="374.5" r="1"/><circle cx="595.5" cy="385.5" r="1"/><circle cx="595.5" cy="371.5" r="1"/><circle cx="595.5" cy="371.5" r="1"/><circle cx="595.5" cy="385.5" r="1"/><circle cx="595.5" cy="382.5" r="1"/><circle cx="595.5" cy="378.5" r="1"/><circle cx="595.5" cy="385.5" r="1"/><circle cx="596.5" cy="380.5" r="1"/><circle cx="596.5" cy="371.5" r="1"/><circle cx="596.5" cy="376.5" r="1"/><circle cx="596.5" cy="380.5" r="1"/><circle cx="596.5" cy="385.5" r="1"/><circle cx="596.5" cy="376.5" r="1"/><circle cx="596.5" cy="371.5" r="1"/><circle cx="596.5" cy="371.5" r="1"/><circle cx="596.5" cy="374.5" r="1"/><circle cx="596.5" cy="382.5" r="1"/><circle cx="596.5" cy="382.5" r="1"/><circle cx="596.5" cy="382.5" r="1"/><circle cx="596.5" cy="385.5" r="1"/><circle cx="596.5" cy="382.5" r="1"/><circle cx="596.5" cy="382.5" r="1"/><circle cx="596.5" cy="380.5" r="1"/><circle cx="596.5" cy="382.5" r="1"/><circle cx="597.5" cy="374.5" r="1"/><circle cx="597.5" cy="387.5" r="1"/><circle cx="597.5" cy="378.5" r="1"/><circle cx="598.5" cy="380.5" r="1"/><circle cx="598.5" cy="387.5" r="1"/><circle cx="599.5" cy="387.5" r="1"/><circle cx="599.5" cy="383.5" r="1"/><circle cx="599.5" cy="382.5" r="1"/><circle cx="599.5" cy="373.5" r="1"/><circle cx="599.5" cy="385.5" r="1"/><circle cx="599.5" cy="378.5" r="1"/><circle cx="600.5" cy="383.5" r="1"/><circle cx="600.5" cy="373.5" r="1"/><circle cx="600.5" cy="373.5" r="1"/><circle cx="600.5" cy="380.5" r="1"/><circle cx="600.5" cy="373.5" r="1"/><circle cx="601.5" cy="382.5" r="1"/><circle cx="601.5" cy="387.5" r="1"/><circle cx="601.5" cy="376.5" r="1"/><circle cx="601.5" cy="374.5" r="1"/><circle cx="601.5" cy="378.5" r="1"/><circle cx="601.5" cy="385.5" r="1"/><circle cx="601.5" cy="387.5" r="1"/><circle cx="601.5" cy="374.5" r="1"/><circle cx="601.5" cy="371.5" r="1"/><circle cx="601.5" cy="376.5" r="1"/><circle cx="601.5" cy="376.5" r="1"/><circle cx="601.5" cy="383.5" r="1"/><circle cx="602.5" cy="378.5" r="1"/><circle cx="602.5" cy="387.5" r="1"/><circle cx="602.5" cy="373.5" r="1"/><circle cx="602.5" cy="371.5" r="1"/><circle cx="602.5" cy="371.5" r="1"/><circle cx="602.5" cy="385.5" r="1"/><circle cx="602.5" cy="380.5" r="1"/><circle cx="602.5" cy="383.5" r="1"/><circle cx="602.5" cy="382.5" r="1"/><circle cx="602.5" cy="385.5" r="1"/><circle cx="602.5" cy="380.5" r="1"/><circle cx="602.5" cy="376.5" r="1"/><circle cx="602.5" cy="373.5" r="1"/><circle cx="602.5" cy="378.5" r="1"/><circle cx="602.5" cy="374.5" r="1"/><circle cx="602.5" cy="387.5" r="1"/><circle cx="602.5" cy="383.5" r="1"/><circle cx="603.5" cy="380.5" r="1"/><circle cx="603.5" cy="387.5" r="1"/><circle cx="603.5" cy="383.5" r="1"/><circle cx="603.5" cy="373.5" r="1"/><circle cx="603.5" cy="389.5" r="1"/><circle cx="603.5" cy="380.5" r="1"/><circle cx="603.5" cy="382.5" r="1"/><circle cx="603.5" cy="387.5" r="1"/><circle cx="603.5" cy="382.5" r="1"/><circle cx="603.5" cy="374.5" r="1"/><circle cx="604.5" cy="373.5" r="1"/><circle cx="604.5" cy="373.5" r="1"/><circle cx="604.5" cy="373.5" r="1"/><circle cx="605.5" cy="380.5" r="1"/><circle cx="605.5" cy="378.5" r="1"/><circle cx="605.5" cy="380.5" r="1"/><circle cx="605.5" cy="380.5" r="1"/><circle cx="605.5" cy="385.5" r="1"/><circle cx="605.5" cy="382.5" r="1"/><circle cx="605.5" cy="376.5" r="1"/><circle cx="606.5" cy="371.5" r="1"/><circle cx="606.5" cy="374.5" r="1"/><circle cx="606.5" cy="380.5" r="1"/><circle cx="606.5" cy="382.5" r="1"/><circle cx="606.5" cy="376.5" r="1"/><circle cx="607.5" cy="376.5" r="1"/><circle cx="607.5" cy="383.5" r="1"/><circle cx="607.5" cy="385.5" r="1"/><circle cx="607.5" cy="380.5" r="1"/><circle cx="607.5" cy="378.5" r="1"/><circle cx="607.5" cy="382.5" r="1"/><circle cx="607.5" cy="378.5" r="1"/><circle cx="607.5" cy="380.5" r="1"/><circle cx="607.5" cy="374.5" r="1"/><circle cx="608.5" cy="385.5" r="1"/><circle cx="608.5" cy="382.5" r="1"/><circle cx="609.5" cy="371.5" r="1"/><circle cx="609.5" cy="383.5" r="1"/><circle cx="609.5" cy="371.5" r="1"/><circle cx="609.5" cy="371.5" r="1"/><circle cx="609.5" cy="371.5" r="1"/><circle cx="609.5" cy="382.5" r="1"/><circle cx="609.5" cy="380.5" r="1"/><circle cx="609.5" cy="373.5" r="1"/><circle cx="610.5" cy="371.5" r="1"/><circle cx="610.5" cy="380.5" r="1"/><circle cx="610.5" cy="371.5" r="1"/><circle cx="610.5" cy="378.5" r="1"/><circle cx="610.5" cy="374.5" r="1"/><circle cx="610.5" cy="371.5" r="1"/><circle cx="610.5" cy="380.5" r="1"/><circle cx="610.5" cy="382.5" r="1"/><circle cx="610.5" cy="374.5" r="1"/><circle cx="610.5" cy="373.5" r="1"/><circle cx="610.5" cy="385.5" r="1"/><circle cx="610.5" cy="373.5" r="1"/><circle cx="610.5" cy="373.5" r="1"/><circle cx="610.5" cy="374.5" r="1"/><circle cx="610.5" cy="373.5" r="1"/><circle cx="610.5" cy="373.5" r="1"/><circle cx="610.5" cy="383.5" r="1"/><circle cx="610.5" cy="371.5" r="1"/><circle cx="610.5" cy="382.5" r="1"/><circle cx="610.5" cy="378.5" r="1"/><circle cx="610.5" cy="371.5" r="1"/><circle cx="611.5" cy="382.5" r="1"/><circle cx="611.5" cy="376.5" r="1"/><circle cx="611.5" cy="376.5" r="1"/><circle cx="611.5" cy="382.5" r="1"/><circle cx="611.5" cy="385.5" r="1"/><circle cx="611.5" cy="383.5" r="1"/><circle cx="611.5" cy="382.5" r="1"/><circle cx="611.5" cy="376.5" r="1"/><circle cx="611.5" cy="380.5" r="1"/><circle cx="612.5" cy="382.5" r="1"/><circle cx="612.5" cy="376.5" r="1"/><circle cx="612.5" cy="373.5" r="1"/><circle cx="612.5" cy="373.5" r="1"/><circle cx="612.5" cy="371.5" r="1"/><circle cx="612.5" cy="374.5" r="1"/><circle cx="612.5" cy="374.5" r="1"/><circle cx="613.5" cy="374.5" r="1"/><circle cx="613.5" cy="371.5" r="1"/><circle cx="613.5" cy="378.5" r="1"/><circle cx="613.5" cy="369.5" r="1"/><circle cx="613.5" cy="369.5" r="1"/><circle cx="613.5" cy="378.5" r="1"/><circle cx="613.5" cy="371.5" r="1"/><circle cx="613.5" cy="382.5" r="1"/><circle cx="613.5" cy="380.5" r="1"/><circle cx="613.5" cy="376.5" r="1"/><circle cx="613.5" cy="383.5" r="1"/><circle cx="613.5" cy="371.5" r="1"/><circle cx="613.5" cy="373.5" r="1"/><circle cx="613.5" cy="376.5" r="1"/><circle cx="613.5" cy="383.5" r="1"/><circle cx="613.5" cy="369.5" r="1"/><circle cx="613.5" cy="378.5" r="1"/><circle cx="613.5" cy="383.5" r="1"/><circle cx="614.5" cy="374.5" r="1"/><circle cx="614.5" cy="376.5" r="1"/><circle cx="614.5" cy="383.5" r="1"/><circle cx="614.5" cy="376.5" r="1"/><circle cx="614.5" cy="374.5" r="1"/><circle cx="614.5" cy="376.5" r="1"/><circle cx="614.5" cy="369.5" r="1"/><circle cx="614.5" cy="382.5" r="1"/><circle cx="614.5" cy="369.5" r="1"/><circle cx="614.5" cy="383.5" r="1"/><circle cx="614.5" cy="383.5" r="1"/><circle cx="614.5" cy="382.5" r="1"/><circle cx="614.5" cy="382.5" r="1"/><circle cx="615.5" cy="369.5" r="1"/><circle cx="615.5" cy="380.5" r="1"/><circle cx="616.5" cy="373.5" r="1"/><circle cx="616.5" cy="383.5" r="1"/><circle cx="616.5" cy="380.5" r="1"/><circle cx="616.5" cy="367.5" r="1"/><circle cx="616.5" cy="380.5" r="1"/><circle cx="616.5" cy="383.5" r="1"/><circle cx="616.5" cy="380.5" r="1"/><circle cx="616.5" cy="380.5" r="1"/><circle cx="616.5" cy="371.5" r="1"/><circle cx="616.5" cy="380.5" r="1"/><circle cx="616.5" cy="374.5" r="1"/><circle cx="616.5" cy="383.5" r="1"/><circle cx="616.5" cy="380.5" r="1"/><circle cx="616.5" cy="373.5" r="1"/><circle cx="617.5" cy="373.5" r="1"/><circle cx="617.5" cy="380.5" r="1"/><circle cx="617.5" cy="373.5" r="1"/><circle cx="617.5" cy="373.5" r="1"/><circle cx="617.5" cy="367.5" r="1"/><circle cx="618.5" cy="373.5" r="1"/><circle cx="618.5" cy="371.5" r="1"/><circle cx="618.5" cy="383.5" r="1"/><circle cx="619.5" cy="380.5" r="1"/><circle cx="619.5" cy="376.5" r="1"/><circle cx="619.5" cy="376.5" r="1"/><circle cx="619.5" cy="378.5" r="1"/><circle cx="620.5" cy="385.5" r="1"/><circle cx="620.5" cy="382.5" r="1"/><circle cx="620.5" cy="376.5" r="1"/><circle cx="620.5" cy="382.5" r="1"/><circle cx="620.5" cy="367.5" r="1"/><circle cx="620.5" cy="374.5" r="1"/><circle cx="620.5" cy="385.5" r="1"/><circle cx="620.5" cy="376.5" r="1"/><circle cx="620.5" cy="378.5" r="1"/><circle cx="621.5" cy="380.5" r="1"/><circle cx="621.5" cy="369.5" r="1"/><circle cx="621.5" cy="378.5" r="1"/><circle cx="621.5" cy="374.5" r="1"/><circle cx="621.5" cy="374.5" r="1"/><circle cx="622.5" cy="380.5" r="1"/><circle cx="622.5" cy="371.5" r="1"/><circle cx="622.5" cy="376.5" r="1"/><circle cx="622.5" cy="378.5" r="1"/><circle cx="622.5" cy="367.5" r="1"/><circle cx="622.5" cy="383.5" r="1"/><circle cx="623.5" cy="385.5" r="1"/><circle cx="623.5" cy="366.5" r="1"/><circle cx="623.5" cy="366.5" r="1"/><circle cx="623.5" cy="373.5" r="1"/><circle cx="623.5" cy="374.5" r="1"/><circle cx="623.5" cy="366.5" r="1"/><circle cx="623.5" cy="371.5" r="1"/><circle cx="624.5" cy="385.5" r="1"/><circle cx="625.5" cy="376.5" r="1"/><circle cx="625.5" cy="378.5" r="1"/><circle cx="625.5" cy="371.5" r="1"/><circle cx="625.5" cy="383.5" r="1"/><circle cx="625.5" cy="382.5" r="1"/><circle cx="626.5" cy="367.5" r="1"/><circle cx="626.5" cy="378.5" r="1"/><circle cx="626.5" cy="387.5" r="1"/><circle cx="626.5" cy="366.5" r="1"/><circle cx="626.5" cy="374.5" r="1"/><circle cx="626.5" cy="366.5" r="1"/><circle cx="627.5" cy="376.5" r="1"/><circle cx="627.5" cy="376.5" r="1"/><circle cx="627.5" cy="380.5" r="1"/><circle cx="628.5" cy="385.5" r="1"/><circle cx="628.5" cy="387.5" r="1"/><circle cx="628.5" cy="374.5" r="1"/><circle cx="628.5" cy="371.5" r="1"/><circle cx="628.5" cy="373.5" r="1"/><circle cx="629.5" cy="387.5" r="1"/><circle cx="629.5" cy="376.5" r="1"/><circle cx="629.5" cy="369.5" r="1"/><circle cx="629.5" cy="387.5" r="1"/><circle cx="629.5" cy="374.5" r="1"/><circle cx="629.5" cy="382.5" r="1"/><circle cx="629.5" cy="383.5" r="1"/><circle cx="630.5" cy="385.5" r="1"/><circle cx="630.5" cy="385.5" r="1"/><circle cx="630.5" cy="382.5" r="1"/><circle cx="630.5" cy="371.5" r="1"/><circle cx="630.5" cy="367.5" r="1"/><circle cx="630.5" cy="385.5" r="1"/><circle cx="630.5" cy="387.5" r="1"/><circle cx="630.5" cy="374.5" r="1"/><circle cx="630.5" cy="374.5" r="1"/><circle cx="630.5" cy="374.5" r="1"/><circle cx="630.5" cy="373.5" r="1"/><circle cx="630.5" cy="389.5" r="1"/><circle cx="630.5" cy="378.5" r="1"/><circle cx="631.5" cy="367.5" r="1"/><circle cx="631.5" cy="369.5" r="1"/><circle cx="631.5" cy="378.5" r="1"/><circle cx="631.5" cy="382.5" r="1"/><circle cx="631.5" cy="390.5" r="1"/><circle cx="631.5" cy="389.5" r="1"/><circle cx="631.5" cy="383.5" r="1"/><circle cx="631.5" cy="374.5" r="1"/><circle cx="631.5" cy="374.5" r="1"/><circle cx="631.5" cy="383.5" r="1"/><circle cx="631.5" cy="374.5" r="1"/><circle cx="631.5" cy="385.5" r="1"/><circle cx="631.5" cy="383.5" r="1"/><circle cx="632.5" cy="387.5" r="1"/><circle cx="632.5" cy="389.5" r="1"/><circle cx="632.5" cy="373.5" r="1"/><circle cx="632.5" cy="387.5" r="1"/><circle cx="633.5" cy="371.5" r="1"/><circle cx="633.5" cy="383.5" r="1"/><circle cx="633.5" cy="383.5" r="1"/><circle cx="633.5" cy="389.5" r="1"/><circle cx="633.5" cy="374.5" r="1"/><circle cx="633.5" cy="387.5" r="1"/><circle cx="633.5" cy="374.5" r="1"/><circle cx="633.5" cy="374.5" r="1"/><circle cx="633.5" cy="383.5" r="1"/><circle cx="633.5" cy="376.5" r="1"/><circle cx="633.5" cy="392.5" r="1"/><circle cx="633.5" cy="374.5" r="1"/><circle cx="633.5" cy="373.5" r="1"/><circle cx="633.5" cy="389.5" r="1"/><circle cx="633.5" cy="389.5" r="1"/><circle cx="633.5" cy="371.5" r="1"/><circle cx="634.5" cy="387.5" r="1"/><circle cx="634.5" cy="387.5" r="1"/><circle cx="635.5" cy="380.5" r="1"/><circle cx="635.5" cy="383.5" r="1"/><circle cx="635.5" cy="390.5" r="1"/><circle cx="635.5" cy="382.5" r="1"/><circle cx="635.5" cy="387.5" r="1"/><circle cx="636.5" cy="380.5" r="1"/><circle cx="636.5" cy="380.5" r="1"/><circle cx="636.5" cy="367.5" r="1"/><circle cx="636.5" cy="374.5" r="1"/><circle cx="636.5" cy="382.5" r="1"/><circle cx="636.5" cy="383.5" r="1"/><circle cx="637.5" cy="380.5" r="1"/><circle cx="637.5" cy="389.5" r="1"/><circle cx="637.5" cy="367.5" r="1"/><circle cx="637.5" cy="385.5" r="1"/><circle cx="637.5" cy="378.5" r="1"/><circle cx="637.5" cy="387.5" r="1"/><circle cx="637.5" cy="382.5" r="1"/><circle cx="637.5" cy="369.5" r="1"/><circle cx="638.5" cy="380.5" r="1"/><circle cx="638.5" cy="378.5" r="1"/><circle cx="638.5" cy="369.5" r="1"/><circle cx="639.5" cy="378.5" r="1"/><circle cx="639.5" cy="373.5" r="1"/><circle cx="639.5" cy="387.5" r="1"/><circle cx="639.5" cy="373.5" r="1"/><circle cx="639.5" cy="371.5" r="1"/><circle cx="639.5" cy="382.5" r="1"/><circle cx="639.5" cy="371.5" r="1"/><circle cx="639.5" cy="374.5" r="1"/><circle cx="640.5" cy="380.5" r="1"/><circle cx="640.5" cy="387.5" r="1"/><circle cx="640.5" cy="383.5" r="1"/><circle cx="640.5" cy="387.5" r="1"/><circle cx="641.5" cy="383.5" r="1"/><circle cx="641.5" cy="371.5" r="1"/><circle cx="641.5" cy="380.5" r="1"/><circle cx="641.5" cy="374.5" r="1"/><circle cx="641.5" cy="385.5" r="1"/><circle cx="641.5" cy="374.5" r="1"/><circle cx="641.5" cy="374.5" r="1"/><circle cx="641.5" cy="373.5" r="1"/><circle cx="642.5" cy="373.5" r="1"/><circle cx="642.5" cy="374.5" r="1"/><circle cx="642.5" cy="369.5" r="1"/><circle cx="642.5" cy="371.5" r="1"/><circle cx="642.5" cy="373.5" r="1"/><circle cx="642.5" cy="378.5" r="1"/><circle cx="642.5" cy="385.5" r="1"/><circle cx="642.5" cy="382.5" r="1"/><circle cx="643.5" cy="387.5" r="1"/><circle cx="643.5" cy="378.5" r="1"/><circle cx="643.5" cy="378.5" r="1"/><circle cx="643.5" cy="380.5" r="1"/><circle cx="643.5" cy="373.5" r="1"/><circle cx="643.5" cy="373.5" r="1"/><circle cx="643.5" cy="383.5" r="1"/><circle cx="643.5" cy="378.5" r="1"/><circle cx="643.5" cy="385.5" r="1"/><circle cx="644.5" cy="367.5" r="1"/><circle cx="644.5" cy="380.5" r="1"/><circle cx="644.5" cy="374.5" r="1"/><circle cx="644.5" cy="374.5" r="1"/><circle cx="644.5" cy="371.5" r="1"/><circle cx="644.5" cy="378.5" r="1"/><circle cx="644.5" cy="380.5" r="1"/><circle cx="644.5" cy="383.5" r="1"/><circle cx="644.5" cy="383.5" r="1"/><circle cx="644.5" cy="385.5" r="1"/><circle cx="644.5" cy="385.5" r="1"/><circle cx="644.5" cy="380.5" r="1"/><circle cx="644.5" cy="373.5" r="1"/><circle cx="644.5" cy="378.5" r="1"/><circle cx="645.5" cy="383.5" r="1"/><circle cx="645.5" cy="367.5" r="1"/><circle cx="645.5" cy="376.5" r="1"/><circle cx="645.5" cy="371.5" r="1"/><circle cx="646.5" cy="385.5" r="1"/><circle cx="646.5" cy="378.5" r="1"/><circle cx="646.5" cy="373.5" r="1"/><circle cx="646.5" cy="367.5" r="1"/><circle cx="647.5" cy="367.5" r="1"/><circle cx="647.5" cy="374.5" r="1"/><circle cx="647.5" cy="366.5" r="1"/><circle cx="648.5" cy="385.5" r="1"/><circle cx="648.5" cy="382.5" r="1"/><circle cx="648.5" cy="373.5" r="1"/><circle cx="648.5" cy="382.5" r="1"/><circle cx="648.5" cy="373.5" r="1"/><circle cx="648.5" cy="369.5" r="1"/><circle cx="648.5" cy="383.5" r="1"/><circle cx="649.5" cy="374.5" r="1"/><circle cx="649.5" cy="371.5" r="1"/><circle cx="649.5" cy="373.5" r="1"/><circle cx="649.5" cy="373.5" r="1"/><circle cx="649.5" cy="373.5" r="1"/><circle cx="650.5" cy="380.5" r="1"/><circle cx="650.5" cy="376.5" r="1"/><circle cx="650.5" cy="367.5" r="1"/><circle cx="650.5" cy="374.5" r="1"/><circle cx="650.5" cy="383.5" r="1"/><circle cx="650.5" cy="376.5" r="1"/><circle cx="650.5" cy="371.5" r="1"/><circle cx="650.5" cy="382.5" r="1"/><circle cx="650.5" cy="373.5" r="1"/><circle cx="651.5" cy="373.5" r="1"/><circle cx="651.5" cy="371.5" r="1"/><circle cx="651.5" cy="371.5" r="1"/><circle cx="651.5" cy="366.5" r="1"/><circle cx="652.5" cy="366.5" r="1"/><circle cx="652.5" cy="371.5" r="1"/><circle cx="652.5" cy="366.5" r="1"/><circle cx="652.5" cy="383.5" r="1"/><circle cx="652.5" cy="376.5" r="1"/><circle cx="652.5" cy="371.5" r="1"/><circle cx="652.5" cy="376.5" r="1"/><circle cx="653.5" cy="366.5" r="1"/><circle cx="653.5" cy="373.5" r="1"/><circle cx="653.5" cy="380.5" r="1"/><circle cx="653.5" cy="373.5" r="1"/><circle cx="653.5" cy="383.5" r="1"/><circle cx="653.5" cy="374.5" r="1"/><circle cx="654.5" cy="371.5" r="1"/><circle cx="654.5" cy="383.5" r="1"/><circle cx="654.5" cy="380.5" r="1"/><circle cx="654.5" cy="367.5" r="1"/><circle cx="654.5" cy="366.5" r="1"/><circle cx="654.5" cy="364.5" r="1"/><circle cx="655.5" cy="376.5" r="1"/><circle cx="655.5" cy="367.5" r="1"/><circle cx="655.5" cy="383.5" r="1"/><circle cx="655.5" cy="366.5" r="1"/><circle cx="655.5" cy="383.5" r="1"/><circle cx="655.5" cy="369.5" r="1"/><circle cx="655.5" cy="367.5" r="1"/><circle cx="655.5" cy="373.5" r="1"/><circle cx="656.5" cy="373.5" r="1"/><circle cx="656.5" cy="371.5" r="1"/><circle cx="656.5" cy="367.5" r="1"/><circle cx="656.5" cy="382.5" r="1"/><circle cx="656.5" cy="369.5" r="1"/><circle cx="656.5" cy="367.5" r="1"/><circle cx="656.5" cy="367.5" r="1"/><circle cx="657.5" cy="385.5" r="1"/><circle cx="657.5" cy="382.5" r="1"/><circle cx="657.5" cy="371.5" r="1"/><circle cx="657.5" cy="382.5" r="1"/><circle cx="657.5" cy="385.5" r="1"/><circle cx="657.5" cy="380.5" r="1"/><circle cx="657.5" cy="380.5" r="1"/><circle cx="657.5" cy="382.5" r="1"/><circle cx="657.5" cy="383.5" r="1"/><circle cx="657.5" cy="382.5" r="1"/><circle cx="657.5" cy="366.5" r="1"/><circle cx="658.5" cy="380.5" r="1"/><circle cx="658.5" cy="367.5" r="1"/><circle cx="658.5" cy="383.5" r="1"/><circle cx="658.5" cy="366.5" r="1"/><circle cx="658.5" cy="367.5" r="1"/><circle cx="658.5" cy="371.5" r="1"/><circle cx="659.5" cy="371.5" r="1"/><circle cx="659.5" cy="380.5" r="1"/><circle cx="659.5" cy="366.5" r="1"/><circle cx="659.5" cy="383.5" r="1"/><circle cx="659.5" cy="385.5" r="1"/><circle cx="659.5" cy="382.5" r="1"/><circle cx="659.5" cy="383.5" r="1"/><circle cx="659.5" cy="378.5" r="1"/><circle cx="659.5" cy="382.5" r="1"/><circle cx="659.5" cy="374.5" r="1"/><circle cx="660.5" cy="382.5" r="1"/><circle cx="660.5" cy="383.5" r="1"/><circle cx="660.5" cy="371.5" r="1"/><circle cx="660.5" cy="373.5" r="1"/><circle cx="660.5" cy="383.5" r="1"/><circle cx="660.5" cy="367.5" r="1"/><circle cx="660.5" cy="380.5" r="1"/><circle cx="661.5" cy="378.5" r="1"/><circle cx="661.5" cy="367.5" r="1"/><circle cx="661.5" cy="362.5" r="1"/><circle cx="661.5" cy="385.5" r="1"/><circle cx="661.5" cy="383.5" r="1"/><circle cx="661.5" cy="374.5" r="1"/><circle cx="661.5" cy="378.5" r="1"/><circle cx="661.5" cy="364.5" r="1"/><circle cx="661.5" cy="373.5" r="1"/><circle cx="661.5" cy="376.5" r="1"/><circle cx="661.5" cy="380.5" r="1"/><circle cx="661.5" cy="367.5" r="1"/><circle cx="661.5" cy="364.5" r="1"/><circle cx="661.5" cy="385.5" r="1"/><circle cx="662.5" cy="382.5" r="1"/><circle cx="662.5" cy="371.5" r="1"/><circle cx="662.5" cy="369.5" r="1"/><circle cx="662.5" cy="366.5" r="1"/><circle cx="662.5" cy="376.5" r="1"/><circle cx="662.5" cy="376.5" r="1"/><circle cx="662.5" cy="374.5" r="1"/><circle cx="662.5" cy="364.5" r="1"/><circle cx="662.5" cy="382.5" r="1"/><circle cx="662.5" cy="369.5" r="1"/><circle cx="662.5" cy="367.5" r="1"/><circle cx="662.5" cy="378.5" r="1"/><circle cx="662.5" cy="366.5" r="1"/><circle cx="662.5" cy="385.5" r="1"/><circle cx="662.5" cy="378.5" r="1"/><circle cx="662.5" cy="382.5" r="1"/><circle cx="662.5" cy="369.5" r="1"/><circle cx="662.5" cy="373.5" r="1"/><circle cx="662.5" cy="367.5" r="1"/><circle cx="662.5" cy="367.5" r="1"/><circle cx="662.5" cy="373.5" r="1"/><circle cx="662.5" cy="382.5" r="1"/><circle cx="662.5" cy="374.5" r="1"/><circle cx="662.5" cy="383.5" r="1"/><circle cx="662.5" cy="364.5" r="1"/><circle cx="662.5" cy="369.5" r="1"/><circle cx="662.5" cy="362.5" r="1"/><circle cx="662.5" cy="385.5" r="1"/><circle cx="662.5" cy="362.5" r="1"/><circle cx="662.5" cy="374.5" r="1"/><circle cx="662.5" cy="378.5" r="1"/><circle cx="662.5" cy="367.5" r="1"/><circle cx="662.5" cy="387.5" r="1"/><circle cx="662.5" cy="387.5" r="1"/><circle cx="662.5" cy="367.5" r="1"/><circle cx="663.5" cy="385.5" r="1"/><circle cx="663.5" cy="367.5" r="1"/><circle cx="663.5" cy="382.5" r="1"/><circle cx="663.5" cy="376.5" r="1"/><circle cx="663.5" cy="380.5" r="1"/><circle cx="663.5" cy="380.5" r="1"/><circle cx="663.5" cy="383.5" r="1"/><circle cx="663.5" cy="382.5" r="1"/><circle cx="663.5" cy="378.5" r="1"/><circle cx="663.5" cy="369.5" r="1"/><circle cx="663.5" cy="373.5" r="1"/><circle cx="664.5" cy="371.5" r="1"/><circle cx="664.5" cy="367.5" r="1"/><circle cx="664.5" cy="367.5" r="1"/><circle cx="664.5" cy="367.5" r="1"/><circle cx="664.5" cy="364.5" r="1"/><circle cx="664.5" cy="374.5" r="1"/><circle cx="664.5" cy="362.5" r="1"/><circle cx="664.5" cy="366.5" r="1"/><circle cx="664.5" cy="364.5" r="1"/><circle cx="665.5" cy="382.5" r="1"/><circle cx="665.5" cy="371.5" r="1"/><circle cx="665.5" cy="382.5" r="1"/><circle cx="665.5" cy="367.5" r="1"/><circle cx="665.5" cy="369.5" r="1"/><circle cx="665.5" cy="374.5" r="1"/><circle cx="665.5" cy="360.5" r="1"/><circle cx="665.5" cy="387.5" r="1"/><circle cx="665.5" cy="362.5" r="1"/><circle cx="665.5" cy="385.5" r="1"/><circle cx="666.5" cy="383.5" r="1"/><circle cx="666.5" cy="385.5" r="1"/><circle cx="666.5" cy="371.5" r="1"/><circle cx="666.5" cy="380.5" r="1"/><circle cx="666.5" cy="378.5" r="1"/><circle cx="666.5" cy="373.5" r="1"/><circle cx="667.5" cy="380.5" r="1"/><circle cx="667.5" cy="371.5" r="1"/><circle cx="667.5" cy="373.5" r="1"/><circle cx="667.5" cy="366.5" r="1"/><circle cx="667.5" cy="387.5" r="1"/><circle cx="667.5" cy="362.5" r="1"/><circle cx="667.5" cy="380.5" r="1"/><circle cx="667.5" cy="378.5" r="1"/><circle cx="667.5" cy="369.5" r="1"/><circle cx="667.5" cy="387.5" r="1"/><circle cx="667.5" cy="362.5" r="1"/><circle cx="667.5" cy="367.5" r="1"/><circle cx="667.5" cy="369.5" r="1"/><circle cx="667.5" cy="378.5" r="1"/><circle cx="667.5" cy="376.5" r="1"/><circle cx="667.5" cy="380.5" r="1"/><circle cx="669.5" cy="374.5" r="1"/><circle cx="669.5" cy="371.5" r="1"/><circle cx="669.5" cy="362.5" r="1"/><circle cx="669.5" cy="369.5" r="1"/><circle cx="669.5" cy="373.5" r="1"/><circle cx="669.5" cy="369.5" r="1"/><circle cx="669.5" cy="371.5" r="1"/><circle cx="669.5" cy="378.5" r="1"/><circle cx="669.5" cy="369.5" r="1"/><circle cx="669.5" cy="383.5" r="1"/><circle cx="670.5" cy="385.5" r="1"/><circle cx="670.5" cy="367.5" r="1"/><circle cx="670.5" cy="383.5" r="1"/><circle cx="670.5" cy="364.5" r="1"/><circle cx="670.5" cy="383.5" r="1"/><circle cx="671.5" cy="364.5" r="1"/><circle cx="671.5" cy="366.5" r="1"/><circle cx="671.5" cy="366.5" r="1"/><circle cx="671.5" cy="367.5" r="1"/><circle cx="671.5" cy="373.5" r="1"/><circle cx="671.5" cy="383.5" r="1"/><circle cx="672.5" cy="378.5" r="1"/><circle cx="672.5" cy="382.5" r="1"/><circle cx="672.5" cy="385.5" r="1"/><circle cx="672.5" cy="378.5" r="1"/><circle cx="672.5" cy="376.5" r="1"/><circle cx="672.5" cy="383.5" r="1"/><circle cx="672.5" cy="366.5" r="1"/><circle cx="672.5" cy="380.5" r="1"/><circle cx="672.5" cy="378.5" r="1"/><circle cx="672.5" cy="378.5" r="1"/><circle cx="672.5" cy="371.5" r="1"/><circle cx="672.5" cy="364.5" r="1"/><circle cx="672.5" cy="366.5" r="1"/><circle cx="672.5" cy="378.5" r="1"/><circle cx="672.5" cy="369.5" r="1"/><circle cx="672.5" cy="383.5" r="1"/><circle cx="672.5" cy="366.5" r="1"/><circle cx="672.5" cy="380.5" r="1"/><circle cx="672.5" cy="373.5" r="1"/><circle cx="672.5" cy="369.5" r="1"/><circle cx="672.5" cy="367.5" r="1"/><circle cx="673.5" cy="383.5" r="1"/><circle cx="673.5" cy="371.5" r="1"/><circle cx="674.5" cy="366.5" r="1"/><circle cx="674.5" cy="364.5" r="1"/><circle cx="674.5" cy="367.5" r="1"/><circle cx="674.5" cy="364.5" r="1"/><circle cx="674.5" cy="374.5" r="1"/><circle cx="674.5" cy="374.5" r="1"/><circle cx="674.5" cy="362.5" r="1"/><circle cx="674.5" cy="382.5" r="1"/><circle cx="674.5" cy="376.5" r="1"/><circle cx="674.5" cy="373.5" r="1"/><circle cx="674.5" cy="382.5" r="1"/><circle cx="674.5" cy="373.5" r="1"/><circle cx="674.5" cy="366.5" r="1"/><circle cx="674.5" cy="378.5" r="1"/><circle cx="674.5" cy="382.5" r="1"/><circle cx="674.5" cy="364.5" r="1"/><circle cx="674.5" cy="373.5" r="1"/><circle cx="674.5" cy="367.5" r="1"/><circle cx="674.5" cy="380.5" r="1"/><circle cx="674.5" cy="364.5" r="1"/><circle cx="674.5" cy="378.5" r="1"/><circle cx="674.5" cy="366.5" r="1"/><circle cx="675.5" cy="364.5" r="1"/><circle cx="675.5" cy="366.5" r="1"/><circle cx="675.5" cy="366.5" r="1"/><circle cx="675.5" cy="380.5" r="1"/><circle cx="676.5" cy="366.5" r="1"/><circle cx="676.5" cy="373.5" r="1"/><circle cx="677.5" cy="378.5" r="1"/><circle cx="677.5" cy="373.5" r="1"/><circle cx="677.5" cy="378.5" r="1"/><circle cx="677.5" cy="373.5" r="1"/><circle cx="677.5" cy="380.5" r="1"/><circle cx="677.5" cy="376.5" r="1"/><circle cx="677.5" cy="376.5" r="1"/><circle cx="677.5" cy="382.5" r="1"/><circle cx="677.5" cy="366.5" r="1"/><circle cx="677.5" cy="382.5" r="1"/><circle cx="678.5" cy="382.5" r="1"/><circle cx="678.5" cy="380.5" r="1"/><circle cx="678.5" cy="373.5" r="1"/><circle cx="678.5" cy="366.5" r="1"/><circle cx="678.5" cy="382.5" r="1"/><circle cx="678.5" cy="382.5" r="1"/><circle cx="678.5" cy="382.5" r="1"/><circle cx="678.5" cy="382.5" r="1"/><circle cx="678.5" cy="369.5" r="1"/><circle cx="678.5" cy="378.5" r="1"/><circle cx="678.5" cy="374.5" r="1"/><circle cx="679.5" cy="380.5" r="1"/><circle cx="679.5" cy="374.5" r="1"/><circle cx="679.5" cy="385.5" r="1"/><circle cx="679.5" cy="380.5" r="1"/><circle cx="679.5" cy="383.5" r="1"/><circle cx="679.5" cy="383.5" r="1"/><circle cx="679.5" cy="369.5" r="1"/><circle cx="679.5" cy="366.5" r="1"/><circle cx="679.5" cy="383.5" r="1"/><circle cx="679.5" cy="366.5" r="1"/><circle cx="679.5" cy="387.5" r="1"/><circle cx="680.5" cy="369.5" r="1"/><circle cx="680.5" cy="382.5" r="1"/><circle cx="680.5" cy="390.5" r="1"/><circle cx="680.5" cy="366.5" r="1"/><circle cx="680.5" cy="390.5" r="1"/><circle cx="680.5" cy="373.5" r="1"/><circle cx="680.5" cy="376.5" r="1"/><circle cx="680.5" cy="390.5" r="1"/><circle cx="680.5" cy="387.5" r="1"/><circle cx="680.5" cy="376.5" r="1"/><circle cx="680.5" cy="392.5" r="1"/><circle cx="680.5" cy="366.5" r="1"/><circle cx="681.5" cy="380.5" r="1"/><circle cx="681.5" cy="367.5" r="1"/><circle cx="681.5" cy="385.5" r="1"/><circle cx="682.5" cy="382.5" r="1"/><circle cx="682.5" cy="394.5" r="1"/><circle cx="682.5" cy="369.5" r="1"/><circle cx="682.5" cy="387.5" r="1"/><circle cx="682.5" cy="374.5" r="1"/><circle cx="682.5" cy="392.5" r="1"/><circle cx="682.5" cy="383.5" r="1"/><circle cx="682.5" cy="392.5" r="1"/><circle cx="682.5" cy="369.5" r="1"/><circle cx="682.5" cy="383.5" r="1"/><circle cx="682.5" cy="378.5" r="1"/><circle cx="682.5" cy="369.5" r="1"/><circle cx="682.5" cy="378.5" r="1"/><circle cx="682.5" cy="387.5" r="1"/><circle cx="682.5" cy="383.5" r="1"/><circle cx="682.5" cy="383.5" r="1"/><circle cx="682.5" cy="374.5" r="1"/><circle cx="682.5" cy="382.5" r="1"/><circle cx="682.5" cy="380.5" r="1"/><circle cx="682.5" cy="392.5" r="1"/><circle cx="682.5" cy="392.5" r="1"/><circle cx="683.5" cy="369.5" r="1"/><circle cx="683.5" cy="376.5" r="1"/><circle cx="683.5" cy="392.5" r="1"/><circle cx="683.5" cy="376.5" r="1"/><circle cx="683.5" cy="378.5" r="1"/><circle cx="684.5" cy="378.5" r="1"/><circle cx="684.5" cy="390.5" r="1"/><circle cx="684.5" cy="382.5" r="1"/><circle cx="685.5" cy="380.5" r="1"/><circle cx="685.5" cy="389.5" r="1"/><circle cx="685.5" cy="371.5" r="1"/><circle cx="685.5" cy="390.5" r="1"/><circle cx="685.5" cy="387.5" r="1"/><circle cx="685.5" cy="374.5" r="1"/><circle cx="685.5" cy="376.5" r="1"/><circle cx="685.5" cy="378.5" r="1"/><circle cx="685.5" cy="382.5" r="1"/><circle cx="686.5" cy="385.5" r="1"/><circle cx="686.5" cy="385.5" r="1"/><circle cx="686.5" cy="387.5" r="1"/><circle cx="686.5" cy="371.5" r="1"/><circle cx="686.5" cy="378.5" r="1"/><circle cx="686.5" cy="378.5" r="1"/><circle cx="687.5" cy="382.5" r="1"/><circle cx="687.5" cy="376.5" r="1"/><circle cx="687.5" cy="382.5" r="1"/><circle cx="688.5" cy="380.5" r="1"/><circle cx="688.5" cy="380.5" r="1"/><circle cx="688.5" cy="385.5" r="1"/><circle cx="688.5" cy="371.5" r="1"/><circle cx="688.5" cy="374.5" r="1"/><circle cx="689.5" cy="378.5" r="1"/><circle cx="689.5" cy="371.5" r="1"/><circle cx="689.5" cy="387.5" r="1"/><circle cx="689.5" cy="376.5" r="1"/><circle cx="689.5" cy="392.5" r="1"/><circle cx="689.5" cy="390.5" r="1"/><circle cx="689.5" cy="389.5" r="1"/><circle cx="690.5" cy="383.5" r="1"/><circle cx="690.5" cy="387.5" r="1"/><circle cx="690.5" cy="387.5" r="1"/><circle cx="690.5" cy="390.5" r="1"/><circle cx="691.5" cy="380.5" r="1"/><circle cx="691.5" cy="389.5" r="1"/><circle cx="692.5" cy="389.5" r="1"/><circle cx="692.5" cy="389.5" r="1"/><circle cx="692.5" cy="387.5" r="1"/><circle cx="692.5" cy="389.5" r="1"/><circle cx="693.5" cy="382.5" r="1"/><circle cx="693.5" cy="374.5" r="1"/><circle cx="693.5" cy="380.5" r="1"/><circle cx="693.5" cy="378.5" r="1"/><circle cx="694.5" cy="369.5" r="1"/><circle cx="694.5" cy="374.5" r="1"/><circle cx="694.5" cy="383.5" r="1"/><circle cx="694.5" cy="387.5" r="1"/><circle cx="694.5" cy="367.5" r="1"/><circle cx="694.5" cy="383.5" r="1"/><circle cx="694.5" cy="382.5" r="1"/><circle cx="694.5" cy="369.5" r="1"/><circle cx="694.5" cy="371.5" r="1"/><circle cx="694.5" cy="385.5" r="1"/><circle cx="694.5" cy="371.5" r="1"/><circle cx="694.5" cy="385.5" r="1"/><circle cx="694.5" cy="378.5" r="1"/><circle cx="694.5" cy="387.5" r="1"/><circle cx="694.5" cy="378.5" r="1"/><circle cx="694.5" cy="369.5" r="1"/><circle cx="694.5" cy="380.5" r="1"/><circle cx="695.5" cy="383.5" r="1"/><circle cx="695.5" cy="385.5" r="1"/><circle cx="695.5" cy="378.5" r="1"/><circle cx="695.5" cy="378.5" r="1"/><circle cx="695.5" cy="369.5" r="1"/><circle cx="695.5" cy="385.5" r="1"/><circle cx="695.5" cy="380.5" r="1"/><circle cx="695.5" cy="378.5" r="1"/><circle cx="695.5" cy="380.5" r="1"/><circle cx="695.5" cy="382.5" r="1"/><circle cx="696.5" cy="371.5" r="1"/><circle cx="696.5" cy="382.5" r="1"/><circle cx="696.5" cy="376.5" r="1"/><circle cx="696.5" cy="376.5" r="1"/><circle cx="696.5" cy="364.5" r="1"/><circle cx="696.5" cy="373.5" r="1"/><circle cx="696.5" cy="367.5" r="1"/><circle cx="696.5" cy="371.5" r="1"/><circle cx="696.5" cy="371.5" r="1"/><circle cx="696.5" cy="373.5" r="1"/><circle cx="696.5" cy="371.5" r="1"/><circle cx="696.5" cy="380.5" r="1"/><circle cx="696.5" cy="373.5" r="1"/><circle cx="696.5" cy="382.5" r="1"/><circle cx="696.5" cy="371.5" r="1"/><circle cx="696.5" cy="367.5" r="1"/><circle cx="696.5" cy="371.5" r="1"/><circle cx="696.5" cy="382.5" r="1"/><circle cx="696.5" cy="371.5" r="1"/><circle cx="696.5" cy="380.5" r="1"/><circle cx="696.5" cy="378.5" r="1"/><circle cx="696.5" cy="369.5" r="1"/><circle cx="696.5" cy="367.5" r="1"/><circle cx="696.5" cy="367.5" r="1"/><circle cx="696.5" cy="373.5" r="1"/><circle cx="696.5" cy="378.5" r="1"/><circle cx="696.5" cy="369.5" r="1"/><circle cx="696.5" cy="383.5" r="1"/><circle cx="696.5" cy="364.5" r="1"/><circle cx="696.5" cy="380.5" r="1"/><circle cx="696.5" cy="367.5" r="1"/><circle cx="696.5" cy="383.5" r="1"/><circle cx="696.5" cy="366.5" r="1"/><circle cx="696.5" cy="382.5" r="1"/><circle cx="696.5" cy="373.5" r="1"/><circle cx="696.5" cy="369.5" r="1"/><circle cx="696.5" cy="366.5" r="1"/><circle cx="697.5" cy="373.5" r="1"/><circle cx="697.5" cy="364.5" r="1"/><circle cx="697.5" cy="366.5" r="1"/><circle cx="698.5" cy="376.5" r="1"/><circle cx="698.5" cy="376.5" r="1"/><circle cx="698.5" cy="373.5" r="1"/><circle cx="698.5" cy="371.5" r="1"/><circle cx="699.5" cy="369.5" r="1"/><circle cx="699.5" cy="369.5" r="1"/><circle cx="699.5" cy="378.5" r="1"/><circle cx="700.5" cy="376.5" r="1"/><circle cx="700.5" cy="371.5" r="1"/><circle cx="701.5" cy="367.5" r="1"/><circle cx="701.5" cy="366.5" r="1"/><circle cx="701.5" cy="366.5" r="1"/><circle cx="701.5" cy="376.5" r="1"/><circle cx="701.5" cy="376.5" r="1"/><circle cx="701.5" cy="374.5" r="1"/><circle cx="701.5" cy="374.5" r="1"/><circle cx="701.5" cy="376.5" r="1"/><circle cx="701.5" cy="376.5" r="1"/><circle cx="701.5" cy="362.5" r="1"/><circle cx="701.5" cy="376.5" r="1"/><circle cx="701.5" cy="362.5" r="1"/><circle cx="701.5" cy="364.5" r="1"/><circle cx="701.5" cy="374.5" r="1"/><circle cx="701.5" cy="362.5" r="1"/><circle cx="702.5" cy="371.5" r="1"/><circle cx="703.5" cy="369.5" r="1"/><circle cx="703.5" cy="367.5" r="1"/><circle cx="703.5" cy="369.5" r="1"/><circle cx="703.5" cy="371.5" r="1"/><circle cx="703.5" cy="376.5" r="1"/><circle cx="703.5" cy="359.5" r="1"/><circle cx="703.5" cy="362.5" r="1"/><circle cx="703.5" cy="357.5" r="1"/><circle cx="703.5" cy="359.5" r="1"/><circle cx="703.5" cy="360.5" r="1"/><circle cx="703.5" cy="374.5" r="1"/><circle cx="704.5" cy="364.5" r="1"/><circle cx="704.5" cy="360.5" r="1"/><circle cx="704.5" cy="357.5" r="1"/><circle cx="704.5" cy="364.5" r="1"/><circle cx="705.5" cy="353.5" r="1"/><circle cx="705.5" cy="367.5" r="1"/><circle cx="706.5" cy="371.5" r="1"/><circle cx="706.5" cy="359.5" r="1"/><circle cx="706.5" cy="357.5" r="1"/><circle cx="706.5" cy="357.5" r="1"/><circle cx="707.5" cy="367.5" r="1"/><circle cx="707.5" cy="367.5" r="1"/><circle cx="707.5" cy="353.5" r="1"/><circle cx="707.5" cy="355.5" r="1"/><circle cx="707.5" cy="373.5" r="1"/><circle cx="707.5" cy="369.5" r="1"/><circle cx="707.5" cy="371.5" r="1"/><circle cx="707.5" cy="357.5" r="1"/><circle cx="707.5" cy="374.5" r="1"/><circle cx="707.5" cy="359.5" r="1"/><circle cx="707.5" cy="355.5" r="1"/><circle cx="707.5" cy="360.5" r="1"/><circle cx="708.5" cy="366.5" r="1"/><circle cx="708.5" cy="371.5" r="1"/><circle cx="708.5" cy="362.5" r="1"/><circle cx="708.5" cy="364.5" r="1"/><circle cx="708.5" cy="359.5" r="1"/><circle cx="708.5" cy="364.5" r="1"/><circle cx="708.5" cy="360.5" r="1"/><circle cx="708.5" cy="371.5" r="1"/><circle cx="708.5" cy="357.5" r="1"/><circle cx="708.5" cy="355.5" r="1"/><circle cx="708.5" cy="373.5" r="1"/><circle cx="708.5" cy="357.5" r="1"/><circle cx="708.5" cy="366.5" r="1"/><circle cx="708.5" cy="369.5" r="1"/><circle cx="708.5" cy="360.5" r="1"/><circle cx="708.5" cy="373.5" r="1"/><circle cx="708.5" cy="360.5" r="1"/><circle cx="708.5" cy="359.5" r="1"/><circle cx="708.5" cy="355.5" r="1"/><circle cx="708.5" cy="373.5" r="1"/><circle cx="708.5" cy="359.5" r="1"/><circle cx="708.5" cy="373.5" r="1"/><circle cx="708.5" cy="364.5" r="1"/><circle cx="708.5" cy="373.5" r="1"/><circle cx="708.5" cy="355.5" r="1"/><circle cx="708.5" cy="371.5" r="1"/><circle cx="708.5" cy="374.5" r="1"/><circle cx="708.5" cy="369.5" r="1"/><circle cx="708.5" cy="357.5" r="1"/><circle cx="708.5" cy="374.5" r="1"/><circle cx="708.5" cy="371.5" r="1"/><circle cx="708.5" cy="359.5" r="1"/><circle cx="708.5" cy="374.5" r="1"/><circle cx="708.5" cy="355.5" r="1"/><circle cx="709.5" cy="371.5" r="1"/><circle cx="709.5" cy="357.5" r="1"/><circle cx="709.5" cy="367.5" r="1"/><circle cx="709.5" cy="359.5" r="1"/><circle cx="710.5" cy="373.5" r="1"/><circle cx="710.5" cy="357.5" r="1"/><circle cx="710.5" cy="360.5" r="1"/><circle cx="710.5" cy="367.5" r="1"/><circle cx="710.5" cy="359.5" r="1"/><circle cx="710.5" cy="360.5" r="1"/><circle cx="711.5" cy="366.5" r="1"/><circle cx="711.5" cy="369.5" r="1"/><circle cx="711.5" cy="357.5" r="1"/><circle cx="711.5" cy="371.5" r="1"/><circle cx="711.5" cy="369.5" r="1"/><circle cx="711.5" cy="371.5" r="1"/><circle cx="711.5" cy="360.5" r="1"/><circle cx="711.5" cy="369.5" r="1"/><circle cx="712.5" cy="360.5" r="1"/><circle cx="712.5" cy="362.5" r="1"/><circle cx="712.5" cy="367.5" r="1"/><circle cx="713.5" cy="367.5" r="1"/><circle cx="713.5" cy="359.5" r="1"/><circle cx="713.5" cy="360.5" r="1"/><circle cx="713.5" cy="362.5" r="1"/><circle cx="713.5" cy="371.5" r="1"/><circle cx="713.5" cy="359.5" r="1"/><circle cx="713.5" cy="366.5" r="1"/><circle cx="713.5" cy="359.5" r="1"/><circle cx="713.5" cy="367.5" r="1"/><circle cx="714.5" cy="364.5" r="1"/><circle cx="714.5" cy="360.5" r="1"/><circle cx="714.5" cy="362.5" r="1"/><circle cx="714.5" cy="362.5" r="1"/><circle cx="714.5" cy="359.5" r="1"/><circle cx="715.5" cy="350.5" r="1"/><circle cx="715.5" cy="355.5" r="1"/><circle cx="715.5" cy="360.5" r="1"/><circle cx="716.5" cy="348.5" r="1"/><circle cx="716.5" cy="353.5" r="1"/><circle cx="716.5" cy="353.5" r="1"/><circle cx="716.5" cy="348.5" r="1"/><circle cx="716.5" cy="359.5" r="1"/><circle cx="716.5" cy="362.5" r="1"/><circle cx="716.5" cy="348.5" r="1"/><circle cx="716.5" cy="357.5" r="1"/><circle cx="716.5" cy="348.5" r="1"/><circle cx="716.5" cy="362.5" r="1"/><circle cx="716.5" cy="357.5" r="1"/><circle cx="716.5" cy="348.5" r="1"/><circle cx="716.5" cy="357.5" r="1"/><circle cx="716.5" cy="351.5" r="1"/><circle cx="716.5" cy="350.5" r="1"/><circle cx="716.5" cy="360.5" r="1"/><circle cx="716.5" cy="355.5" r="1"/><circle cx="716.5" cy="366.5" r="1"/><circle cx="716.5" cy="364.5" r="1"/><circle cx="716.5" cy="364.5" r="1"/><circle cx="716.5" cy="355.5" r="1"/><circle cx="716.5" cy="364.5" r="1"/><circle cx="716.5" cy="348.5" r="1"/><circle cx="716.5" cy="362.5" r="1"/><circle cx="716.5" cy="353.5" r="1"/><circle cx="716.5" cy="364.5" r="1"/><circle cx="716.5" cy="346.5" r="1"/><circle cx="718.5" cy="359.5" r="1"/><circle cx="718.5" cy="359.5" r="1"/><circle cx="718.5" cy="362.5" r="1"/><circle cx="718.5" cy="364.5" r="1"/><circle cx="718.5" cy="351.5" r="1"/><circle cx="718.5" cy="357.5" r="1"/><circle cx="718.5" cy="357.5" r="1"/><circle cx="719.5" cy="351.5" r="1"/><circle cx="719.5" cy="355.5" r="1"/><circle cx="719.5" cy="353.5" r="1"/><circle cx="719.5" cy="348.5" r="1"/><circle cx="719.5" cy="360.5" r="1"/><circle cx="719.5" cy="344.5" r="1"/><circle cx="719.5" cy="355.5" r="1"/><circle cx="719.5" cy="346.5" r="1"/><circle cx="719.5" cy="362.5" r="1"/><circle cx="719.5" cy="362.5" r="1"/><circle cx="719.5" cy="357.5" r="1"/><circle cx="719.5" cy="360.5" r="1"/><circle cx="719.5" cy="359.5" r="1"/><circle cx="720.5" cy="360.5" r="1"/><circle cx="720.5" cy="359.5" r="1"/><circle cx="720.5" cy="343.5" r="1"/><circle cx="720.5" cy="344.5" r="1"/><circle cx="720.5" cy="341.5" r="1"/><circle cx="720.5" cy="357.5" r="1"/><circle cx="720.5" cy="348.5" r="1"/><circle cx="720.5" cy="362.5" r="1"/><circle cx="721.5" cy="359.5" r="1"/><circle cx="721.5" cy="359.5" r="1"/><circle cx="721.5" cy="353.5" r="1"/><circle cx="721.5" cy="355.5" r="1"/><circle cx="721.5" cy="344.5" r="1"/><circle cx="722.5" cy="351.5" r="1"/><circle cx="722.5" cy="360.5" r="1"/><circle cx="722.5" cy="351.5" r="1"/><circle cx="722.5" cy="355.5" r="1"/><circle cx="722.5" cy="357.5" r="1"/><circle cx="723.5" cy="355.5" r="1"/><circle cx="723.5" cy="359.5" r="1"/><circle cx="723.5" cy="341.5" r="1"/><circle cx="723.5" cy="355.5" r="1"/><circle cx="723.5" cy="343.5" r="1"/><circle cx="723.5" cy="357.5" r="1"/><circle cx="723.5" cy="355.5" r="1"/><circle cx="723.5" cy="346.5" r="1"/><circle cx="723.5" cy="350.5" r="1"/><circle cx="723.5" cy="348.5" r="1"/><circle cx="723.5" cy="359.5" r="1"/><circle cx="723.5" cy="350.5" r="1"/><circle cx="723.5" cy="339.5" r="1"/><circle cx="723.5" cy="350.5" r="1"/><circle cx="723.5" cy="337.5" r="1"/><circle cx="723.5" cy="339.5" r="1"/><circle cx="723.5" cy="348.5" r="1"/><circle cx="723.5" cy="348.5" r="1"/><circle cx="723.5" cy="339.5" r="1"/><circle cx="723.5" cy="344.5" r="1"/><circle cx="723.5" cy="343.5" r="1"/><circle cx="723.5" cy="343.5" r="1"/><circle cx="724.5" cy="341.5" r="1"/><circle cx="725.5" cy="353.5" r="1"/><circle cx="725.5" cy="353.5" r="1"/><circle cx="726.5" cy="346.5" r="1"/><circle cx="726.5" cy="346.5" r="1"/><circle cx="726.5" cy="336.5" r="1"/><circle cx="726.5" cy="348.5" r="1"/><circle cx="726.5" cy="341.5" r="1"/><circle cx="726.5" cy="357.5" r="1"/><circle cx="726.5" cy="351.5" r="1"/><circle cx="726.5" cy="353.5" r="1"/><circle cx="726.5" cy="336.5" r="1"/><circle cx="726.5" cy="351.5" r="1"/><circle cx="726.5" cy="353.5" r="1"/><circle cx="726.5" cy="346.5" r="1"/><circle cx="726.5" cy="341.5" r="1"/><circle cx="726.5" cy="346.5" r="1"/><circle cx="726.5" cy="348.5" r="1"/><circle cx="726.5" cy="346.5" r="1"/><circle cx="726.5" cy="343.5" r="1"/><circle cx="726.5" cy="351.5" r="1"/><circle cx="727.5" cy="339.5" r="1"/><circle cx="727.5" cy="341.5" r="1"/><circle cx="727.5" cy="360.5" r="1"/><circle cx="727.5" cy="346.5" r="1"/><circle cx="727.5" cy="359.5" r="1"/><circle cx="727.5" cy="350.5" r="1"/><circle cx="728.5" cy="343.5" r="1"/><circle cx="728.5" cy="355.5" r="1"/><circle cx="728.5" cy="348.5" r="1"/><circle cx="728.5" cy="359.5" r="1"/><circle cx="728.5" cy="344.5" r="1"/><circle cx="729.5" cy="348.5" r="1"/><circle cx="729.5" cy="350.5" r="1"/><circle cx="730.5" cy="360.5" r="1"/><circle cx="730.5" cy="346.5" r="1"/><circle cx="731.5" cy="348.5" r="1"/><circle cx="731.5" cy="360.5" r="1"/><circle cx="731.5" cy="357.5" r="1"/><circle cx="731.5" cy="350.5" r="1"/><circle cx="731.5" cy="359.5" r="1"/><circle cx="731.5" cy="346.5" r="1"/><circle cx="731.5" cy="362.5" r="1"/><circle cx="732.5" cy="357.5" r="1"/><circle cx="732.5" cy="350.5" r="1"/><circle cx="732.5" cy="357.5" r="1"/><circle cx="732.5" cy="366.5" r="1"/><circle cx="732.5" cy="357.5" r="1"/><circle cx="733.5" cy="344.5" r="1"/><circle cx="733.5" cy="344.5" r="1"/><circle cx="733.5" cy="350.5" r="1"/><circle cx="733.5" cy="350.5" r="1"/><circle cx="733.5" cy="351.5" r="1"/><circle cx="733.5" cy="359.5" r="1"/><circle cx="733.5" cy="360.5" r="1"/><circle cx="733.5" cy="360.5" r="1"/><circle cx="733.5" cy="360.5" r="1"/><circle cx="733.5" cy="362.5" r="1"/><circle cx="733.5" cy="360.5" r="1"/><circle cx="733.5" cy="353.5" r="1"/><circle cx="733.5" cy="353.5" r="1"/><circle cx="733.5" cy="346.5" r="1"/><circle cx="733.5" cy="344.5" r="1"/><circle cx="735.5" cy="364.5" r="1"/><circle cx="735.5" cy="355.5" r="1"/><circle cx="735.5" cy="350.5" r="1"/><circle cx="735.5" cy="353.5" r="1"/><circle cx="735.5" cy="359.5" r="1"/><circle cx="736.5" cy="364.5" r="1"/><circle cx="736.5" cy="366.5" r="1"/><circle cx="736.5" cy="360.5" r="1"/><circle cx="736.5" cy="362.5" r="1"/><circle cx="736.5" cy="362.5" r="1"/><circle cx="736.5" cy="362.5" r="1"/><circle cx="736.5" cy="359.5" r="1"/><circle cx="736.5" cy="366.5" r="1"/><circle cx="736.5" cy="364.5" r="1"/><circle cx="737.5" cy="355.5" r="1"/><circle cx="737.5" cy="353.5" r="1"/><circle cx="737.5" cy="351.5" r="1"/><circle cx="737.5" cy="348.5" r="1"/><circle cx="737.5" cy="355.5" r="1"/><circle cx="737.5" cy="348.5" r="1"/><circle cx="738.5" cy="359.5" r="1"/><circle cx="738.5" cy="362.5" r="1"/><circle cx="738.5" cy="351.5" r="1"/><circle cx="738.5" cy="359.5" r="1"/><circle cx="738.5" cy="350.5" r="1"/><circle cx="738.5" cy="367.5" r="1"/><circle cx="738.5" cy="359.5" r="1"/><circle cx="739.5" cy="357.5" r="1"/><circle cx="739.5" cy="367.5" r="1"/><circle cx="739.5" cy="369.5" r="1"/><circle cx="739.5" cy="367.5" r="1"/><circle cx="739.5" cy="353.5" r="1"/><circle cx="739.5" cy="369.5" r="1"/><circle cx="739.5" cy="351.5" r="1"/><circle cx="739.5" cy="369.5" r="1"/><circle cx="739.5" cy="366.5" r="1"/><circle cx="740.5" cy="353.5" r="1"/><circle cx="740.5" cy="360.5" r="1"/><circle cx="740.5" cy="353.5" r="1"/><circle cx="740.5" cy="360.5" r="1"/><circle cx="740.5" cy="369.5" r="1"/><circle cx="740.5" cy="369.5" r="1"/><circle cx="741.5" cy="360.5" r="1"/><circle cx="741.5" cy="371.5" r="1"/><circle cx="741.5" cy="353.5" r="1"/><circle cx="741.5" cy="355.5" r="1"/><circle cx="741.5" cy="353.5" r="1"/><circle cx="741.5" cy="360.5" r="1"/><circle cx="741.5" cy="353.5" r="1"/><circle cx="741.5" cy="366.5" r="1"/><circle cx="741.5" cy="355.5" r="1"/><circle cx="741.5" cy="366.5" r="1"/><circle cx="741.5" cy="364.5" r="1"/><circle cx="741.5" cy="366.5" r="1"/><circle cx="742.5" cy="353.5" r="1"/><circle cx="742.5" cy="371.5" r="1"/><circle cx="742.5" cy="371.5" r="1"/><circle cx="742.5" cy="353.5" r="1"/><circle cx="743.5" cy="362.5" r="1"/><circle cx="743.5" cy="351.5" r="1"/><circle cx="743.5" cy="367.5" r="1"/><circle cx="743.5" cy="360.5" r="1"/><circle cx="743.5" cy="359.5" r="1"/><circle cx="743.5" cy="364.5" r="1"/><circle cx="743.5" cy="369.5" r="1"/><circle cx="744.5" cy="351.5" r="1"/><circle cx="744.5" cy="360.5" r="1"/><circle cx="744.5" cy="360.5" r="1"/><circle cx="744.5" cy="360.5" r="1"/><circle cx="744.5" cy="366.5" r="1"/><circle cx="744.5" cy="367.5" r="1"/><circle cx="745.5" cy="362.5" r="1"/><circle cx="745.5" cy="366.5" r="1"/><circle cx="745.5" cy="360.5" r="1"/><circle cx="745.5" cy="351.5" r="1"/><circle cx="745.5" cy="362.5" r="1"/><circle cx="745.5" cy="359.5" r="1"/><circle cx="745.5" cy="353.5" r="1"/><circle cx="745.5" cy="351.5" r="1"/><circle cx="746.5" cy="350.5" r="1"/><circle cx="746.5" cy="362.5" r="1"/><circle cx="746.5" cy="359.5" r="1"/><circle cx="746.5" cy="359.5" r="1"/><circle cx="746.5" cy="362.5" r="1"/><circle cx="746.5" cy="364.5" r="1"/><circle cx="746.5" cy="362.5" r="1"/><circle cx="747.5" cy="364.5" r="1"/><circle cx="747.5" cy="362.5" r="1"/><circle cx="747.5" cy="348.5" r="1"/><circle cx="747.5" cy="350.5" r="1"/><circle cx="747.5" cy="355.5" r="1"/><circle cx="747.5" cy="360.5" r="1"/><circle cx="747.5" cy="350.5" r="1"/><circle cx="747.5" cy="360.5" r="1"/><circle cx="748.5" cy="353.5" r="1"/><circle cx="748.5" cy="348.5" r="1"/><circle cx="748.5" cy="355.5" r="1"/><circle cx="748.5" cy="360.5" r="1"/><circle cx="748.5" cy="355.5" r="1"/><circle cx="748.5" cy="355.5" r="1"/><circle cx="748.5" cy="362.5" r="1"/><circle cx="748.5" cy="360.5" r="1"/><circle cx="748.5" cy="351.5" r="1"/><circle cx="748.5" cy="362.5" r="1"/><circle cx="748.5" cy="359.5" r="1"/><circle cx="748.5" cy="351.5" r="1"/><circle cx="748.5" cy="350.5" r="1"/><circle cx="748.5" cy="359.5" r="1"/><circle cx="748.5" cy="355.5" r="1"/><circle cx="748.5" cy="357.5" r="1"/><circle cx="748.5" cy="350.5" r="1"/><circle cx="748.5" cy="360.5" r="1"/><circle cx="748.5" cy="360.5" r="1"/><circle cx="748.5" cy="353.5" r="1"/><circle cx="748.5" cy="351.5" r="1"/><circle cx="748.5" cy="364.5" r="1"/><circle cx="748.5" cy="364.5" r="1"/><circle cx="748.5" cy="348.5" r="1"/><circle cx="748.5" cy="355.5" r="1"/><circle cx="748.5" cy="353.5" r="1"/><circle cx="748.5" cy="351.5" r="1"/><circle cx="748.5" cy="355.5" r="1"/><circle cx="748.5" cy="359.5" r="1"/><circle cx="748.5" cy="353.5" r="1"/><circle cx="748.5" cy="351.5" r="1"/><circle cx="748.5" cy="360.5" r="1"/><circle cx="748.5" cy="359.5" r="1"/><circle cx="749.5" cy="360.5" r="1"/><circle cx="749.5" cy="360.5" r="1"/><circle cx="749.5" cy="350.5" r="1"/><circle cx="749.5" cy="351.5" r="1"/><circle cx="749.5" cy="351.5" r="1"/><circle cx="749.5" cy="350.5" r="1"/><circle cx="750.5" cy="350.5" r="1"/><circle cx="750.5" cy="357.5" r="1"/><circle cx="750.5" cy="357.5" r="1"/><circle cx="750.5" cy="346.5" r="1"/><circle cx="750.5" cy="355.5" r="1"/><circle cx="750.5" cy="357.5" r="1"/><circle cx="750.5" cy="357.5" r="1"/><circle cx="750.5" cy="357.5" r="1"/><circle cx="750.5" cy="359.5" r="1"/><circle cx="750.5" cy="351.5" r="1"/><circle cx="750.5" cy="360.5" r="1"/><circle cx="750.5" cy="353.5" r="1"/><circle cx="751.5" cy="357.5" r="1"/><circle cx="751.5" cy="350.5" r="1"/><circle cx="751.5" cy="359.5" r="1"/><circle cx="751.5" cy="350.5" r="1"/><circle cx="751.5" cy="348.5" r="1"/><circle cx="751.5" cy="346.5" r="1"/><circle cx="751.5" cy="355.5" r="1"/><circle cx="752.5" cy="362.5" r="1"/><circle cx="752.5" cy="355.5" r="1"/><circle cx="752.5" cy="359.5" r="1"/><circle cx="752.5" cy="362.5" r="1"/><circle cx="752.5" cy="350.5" r="1"/><circle cx="753.5" cy="350.5" r="1"/><circle cx="753.5" cy="348.5" r="1"/><circle cx="753.5" cy="357.5" r="1"/><circle cx="753.5" cy="362.5" r="1"/><circle cx="753.5" cy="351.5" r="1"/><circle cx="753.5" cy="353.5" r="1"/><circle cx="753.5" cy="357.5" r="1"/><circle cx="753.5" cy="351.5" r="1"/><circle cx="753.5" cy="355.5" r="1"/><circle cx="753.5" cy="362.5" r="1"/><circle cx="754.5" cy="359.5" r="1"/><circle cx="754.5" cy="350.5" r="1"/><circle cx="754.5" cy="360.5" r="1"/><circle cx="754.5" cy="353.5" r="1"/><circle cx="754.5" cy="362.5" r="1"/><circle cx="754.5" cy="353.5" r="1"/><circle cx="754.5" cy="355.5" r="1"/><circle cx="754.5" cy="348.5" r="1"/><circle cx="754.5" cy="351.5" r="1"/><circle cx="754.5" cy="353.5" r="1"/><circle cx="754.5" cy="362.5" r="1"/><circle cx="754.5" cy="357.5" r="1"/><circle cx="754.5" cy="360.5" r="1"/><circle cx="754.5" cy="360.5" r="1"/><circle cx="754.5" cy="348.5" r="1"/><circle cx="754.5" cy="351.5" r="1"/><circle cx="754.5" cy="360.5" r="1"/><circle cx="754.5" cy="359.5" r="1"/><circle cx="754.5" cy="355.5" r="1"/><circle cx="754.5" cy="353.5" r="1"/><circle cx="754.5" cy="355.5" r="1"/><circle cx="754.5" cy="346.5" r="1"/><circle cx="754.5" cy="348.5" r="1"/><circle cx="755.5" cy="357.5" r="1"/><circle cx="755.5" cy="362.5" r="1"/><circle cx="755.5" cy="350.5" r="1"/><circle cx="755.5" cy="357.5" r="1"/><circle cx="756.5" cy="351.5" r="1"/><circle cx="756.5" cy="360.5" r="1"/><circle cx="756.5" cy="360.5" r="1"/><circle cx="756.5" cy="359.5" r="1"/><circle cx="756.5" cy="360.5" r="1"/><circle cx="756.5" cy="350.5" r="1"/><circle cx="756.5" cy="357.5" r="1"/><circle cx="756.5" cy="355.5" r="1"/><circle cx="756.5" cy="362.5" r="1"/><circle cx="756.5" cy="353.5" r="1"/><circle cx="756.5" cy="351.5" r="1"/><circle cx="756.5" cy="351.5" r="1"/><circle cx="756.5" cy="355.5" r="1"/><circle cx="756.5" cy="364.5" r="1"/><circle cx="756.5" cy="359.5" r="1"/><circle cx="756.5" cy="359.5" r="1"/><circle cx="756.5" cy="355.5" r="1"/><circle cx="757.5" cy="359.5" r="1"/><circle cx="757.5" cy="350.5" r="1"/><circle cx="757.5" cy="357.5" r="1"/><circle cx="757.5" cy="357.5" r="1"/><circle cx="757.5" cy="355.5" r="1"/><circle cx="757.5" cy="355.5" r="1"/><circle cx="757.5" cy="357.5" r="1"/><circle cx="757.5" cy="364.5" r="1"/><circle cx="758.5" cy="353.5" r="1"/><circle cx="758.5" cy="348.5" r="1"/><circle cx="758.5" cy="362.5" r="1"/><circle cx="758.5" cy="353.5" r="1"/><circle cx="758.5" cy="364.5" r="1"/><circle cx="758.5" cy="350.5" r="1"/><circle cx="758.5" cy="359.5" r="1"/><circle cx="758.5" cy="357.5" r="1"/><circle cx="758.5" cy="359.5" r="1"/><circle cx="758.5" cy="360.5" r="1"/><circle cx="758.5" cy="348.5" r="1"/><circle cx="759.5" cy="362.5" r="1"/><circle cx="759.5" cy="362.5" r="1"/><circle cx="759.5" cy="355.5" r="1"/><circle cx="759.5" cy="351.5" r="1"/><circle cx="759.5" cy="350.5" r="1"/><circle cx="759.5" cy="348.5" r="1"/><circle cx="759.5" cy="359.5" r="1"/><circle cx="759.5" cy="360.5" r="1"/><circle cx="759.5" cy="348.5" r="1"/><circle cx="759.5" cy="355.5" r="1"/><circle cx="759.5" cy="360.5" r="1"/><circle cx="759.5" cy="359.5" r="1"/><circle cx="759.5" cy="353.5" r="1"/><circle cx="759.5" cy="364.5" r="1"/><circle cx="759.5" cy="355.5" r="1"/><circle cx="759.5" cy="351.5" r="1"/><circle cx="759.5" cy="355.5" r="1"/><circle cx="759.5" cy="353.5" r="1"/><circle cx="759.5" cy="353.5" r="1"/><circle cx="759.5" cy="355.5" r="1"/><circle cx="759.5" cy="348.5" r="1"/><circle cx="759.5" cy="357.5" r="1"/><circle cx="759.5" cy="357.5" r="1"/><circle cx="759.5" cy="359.5" r="1"/><circle cx="759.5" cy="351.5" r="1"/><circle cx="759.5" cy="348.5" r="1"/><circle cx="759.5" cy="359.5" r="1"/><circle cx="759.5" cy="353.5" r="1"/><circle cx="759.5" cy="357.5" r="1"/><circle cx="759.5" cy="351.5" r="1"/><circle cx="759.5" cy="353.5" r="1"/><circle cx="759.5" cy="351.5" r="1"/><circle cx="759.5" cy="355.5" r="1"/><circle cx="759.5" cy="359.5" r="1"/><circle cx="759.5" cy="351.5" r="1"/><circle cx="759.5" cy="351.5" r="1"/><circle cx="759.5" cy="355.5" r="1"/><circle cx="759.5" cy="359.5" r="1"/><circle cx="760.5" cy="355.5" r="1"/><circle cx="760.5" cy="364.5" r="1"/><circle cx="760.5" cy="357.5" r="1"/><circle cx="760.5" cy="348.5" r="1"/><circle cx="760.5" cy="359.5" r="1"/><circle cx="760.5" cy="348.5" r="1"/><circle cx="760.5" cy="353.5" r="1"/><circle cx="760.5" cy="348.5" r="1"/><circle cx="760.5" cy="357.5" r="1"/><circle cx="760.5" cy="350.5" r="1"/><circle cx="760.5" cy="362.5" r="1"/><circle cx="760.5" cy="350.5" r="1"/><circle cx="760.5" cy="364.5" r="1"/><circle cx="760.5" cy="362.5" r="1"/><circle cx="760.5" cy="355.5" r="1"/><circle cx="760.5" cy="355.5" r="1"/><circle cx="761.5" cy="362.5" r="1"/><circle cx="761.5" cy="355.5" r="1"/><circle cx="761.5" cy="350.5" r="1"/><circle cx="761.5" cy="351.5" r="1"/><circle cx="761.5" cy="350.5" r="1"/><circle cx="762.5" cy="360.5" r="1"/><circle cx="762.5" cy="362.5" r="1"/><circle cx="763.5" cy="357.5" r="1"/><circle cx="763.5" cy="350.5" r="1"/><circle cx="763.5" cy="357.5" r="1"/><circle cx="763.5" cy="359.5" r="1"/><circle cx="763.5" cy="360.5" r="1"/><circle cx="763.5" cy="360.5" r="1"/><circle cx="763.5" cy="346.5" r="1"/><circle cx="763.5" cy="359.5" r="1"/><circle cx="763.5" cy="351.5" r="1"/><circle cx="763.5" cy="359.5" r="1"/><circle cx="764.5" cy="350.5" r="1"/><circle cx="764.5" cy="360.5" r="1"/><circle cx="764.5" cy="351.5" r="1"/><circle cx="764.5" cy="357.5" r="1"/><circle cx="764.5" cy="348.5" r="1"/><circle cx="764.5" cy="362.5" r="1"/><circle cx="764.5" cy="348.5" r="1"/><circle cx="765.5" cy="346.5" r="1"/><circle cx="765.5" cy="348.5" r="1"/><circle cx="765.5" cy="359.5" r="1"/><circle cx="765.5" cy="348.5" r="1"/><circle cx="765.5" cy="350.5" r="1"/><circle cx="765.5" cy="351.5" r="1"/><circle cx="765.5" cy="348.5" r="1"/><circle cx="765.5" cy="351.5" r="1"/><circle cx="765.5" cy="350.5" r="1"/><circle cx="766.5" cy="360.5" r="1"/><circle cx="766.5" cy="359.5" r="1"/><circle cx="766.5" cy="353.5" r="1"/><circle cx="766.5" cy="351.5" r="1"/><circle cx="766.5" cy="359.5" r="1"/><circle cx="767.5" cy="350.5" r="1"/><circle cx="767.5" cy="355.5" r="1"/><circle cx="767.5" cy="357.5" r="1"/><circle cx="767.5" cy="362.5" r="1"/><circle cx="767.5" cy="351.5" r="1"/><circle cx="767.5" cy="351.5" r="1"/><circle cx="768.5" cy="350.5" r="1"/><circle cx="768.5" cy="355.5" r="1"/><circle cx="768.5" cy="355.5" r="1"/><circle cx="768.5" cy="360.5" r="1"/><circle cx="768.5" cy="350.5" r="1"/><circle cx="768.5" cy="355.5" r="1"/><circle cx="768.5" cy="353.5" r="1"/><circle cx="768.5" cy="348.5" r="1"/><circle cx="768.5" cy="348.5" r="1"/><circle cx="768.5" cy="350.5" r="1"/><circle cx="768.5" cy="353.5" r="1"/><circle cx="768.5" cy="355.5" r="1"/><circle cx="768.5" cy="359.5" r="1"/><circle cx="768.5" cy="362.5" r="1"/><circle cx="768.5" cy="348.5" r="1"/><circle cx="768.5" cy="362.5" r="1"/><circle cx="768.5" cy="353.5" r="1"/><circle cx="768.5" cy="359.5" r="1"/><circle cx="768.5" cy="351.5" r="1"/><circle cx="768.5" cy="359.5" r="1"/><circle cx="770.5" cy="350.5" r="1"/><circle cx="770.5" cy="359.5" r="1"/><circle cx="770.5" cy="360.5" r="1"/><circle cx="770.5" cy="359.5" r="1"/><circle cx="770.5" cy="362.5" r="1"/><circle cx="770.5" cy="353.5" r="1"/><circle cx="770.5" cy="359.5" r="1"/><circle cx="770.5" cy="355.5" r="1"/><circle cx="770.5" cy="364.5" r="1"/><circle cx="770.5" cy="348.5" r="1"/><circle cx="770.5" cy="362.5" r="1"/><circle cx="770.5" cy="346.5" r="1"/><circle cx="770.5" cy="362.5" r="1"/><circle cx="770.5" cy="348.5" r="1"/><circle cx="770.5" cy="360.5" r="1"/><circle cx="770.5" cy="348.5" r="1"/><circle cx="770.5" cy="362.5" r="1"/><circle cx="770.5" cy="351.5" r="1"/><circle cx="770.5" cy="348.5" r="1"/><circle cx="770.5" cy="362.5" r="1"/><circle cx="770.5" cy="357.5" r="1"/><circle cx="770.5" cy="362.5" r="1"/><circle cx="770.5" cy="362.5" r="1"/><circle cx="770.5" cy="348.5" r="1"/><circle cx="770.5" cy="348.5" r="1"/><circle cx="770.5" cy="360.5" r="1"/><circle cx="770.5" cy="362.5" r="1"/><circle cx="770.5" cy="350.5" r="1"/><circle cx="770.5" cy="364.5" r="1"/><circle cx="770.5" cy="346.5" r="1"/><circle cx="770.5" cy="360.5" r="1"/><circle cx="770.5" cy="359.5" r="1"/><circle cx="770.5" cy="353.5" r="1"/><circle cx="770.5" cy="353.5" r="1"/><circle cx="770.5" cy="351.5" r="1"/><circle cx="770.5" cy="355.5" r="1"/><circle cx="770.5" cy="357.5" r="1"/><circle cx="770.5" cy="350.5" r="1"/><circle cx="770.5" cy="346.5" r="1"/><circle cx="770.5" cy="357.5" r="1"/><circle cx="770.5" cy="350.5" r="1"/><circle cx="770.5" cy="348.5" r="1"/><circle cx="770.5" cy="351.5" r="1"/><circle cx="771.5" cy="357.5" r="1"/><circle cx="771.5" cy="360.5" r="1"/><circle cx="771.5" cy="353.5" r="1"/><circle cx="771.5" cy="357.5" r="1"/><circle cx="771.5" cy="348.5" r="1"/><circle cx="771.5" cy="360.5" r="1"/><circle cx="771.5" cy="350.5" r="1"/><circle cx="771.5" cy="351.5" r="1"/><circle cx="771.5" cy="351.5" r="1"/><circle cx="771.5" cy="360.5" r="1"/><circle cx="771.5" cy="355.5" r="1"/><circle cx="772.5" cy="353.5" r="1"/><circle cx="772.5" cy="355.5" r="1"/><circle cx="772.5" cy="351.5" r="1"/><circle cx="772.5" cy="357.5" r="1"/><circle cx="772.5" cy="364.5" r="1"/><circle cx="772.5" cy="359.5" r="1"/><circle cx="772.5" cy="350.5" r="1"/><circle cx="772.5" cy="362.5" r="1"/><circle cx="772.5" cy="367.5" r="1"/><circle cx="772.5" cy="357.5" r="1"/><circle cx="772.5" cy="350.5" r="1"/><circle cx="772.5" cy="362.5" r="1"/><circle cx="772.5" cy="359.5" r="1"/><circle cx="772.5" cy="364.5" r="1"/><circle cx="772.5" cy="360.5" r="1"/><circle cx="772.5" cy="366.5" r="1"/><circle cx="772.5" cy="346.5" r="1"/><circle cx="772.5" cy="360.5" r="1"/><circle cx="772.5" cy="359.5" r="1"/><circle cx="772.5" cy="364.5" r="1"/><circle cx="772.5" cy="351.5" r="1"/><circle cx="772.5" cy="359.5" r="1"/><circle cx="772.5" cy="353.5" r="1"/><circle cx="772.5" cy="362.5" r="1"/><circle cx="772.5" cy="348.5" r="1"/><circle cx="772.5" cy="350.5" r="1"/><circle cx="772.5" cy="367.5" r="1"/><circle cx="772.5" cy="362.5" r="1"/><circle cx="772.5" cy="351.5" r="1"/><circle cx="772.5" cy="353.5" r="1"/><circle cx="772.5" cy="355.5" r="1"/><circle cx="772.5" cy="351.5" r="1"/><circle cx="773.5" cy="355.5" r="1"/><circle cx="773.5" cy="364.5" r="1"/><circle cx="773.5" cy="351.5" r="1"/><circle cx="773.5" cy="357.5" r="1"/><circle cx="773.5" cy="360.5" r="1"/><circle cx="773.5" cy="350.5" r="1"/><circle cx="773.5" cy="350.5" r="1"/><circle cx="773.5" cy="367.5" r="1"/><circle cx="773.5" cy="366.5" r="1"/><circle cx="773.5" cy="366.5" r="1"/><circle cx="773.5" cy="360.5" r="1"/><circle cx="773.5" cy="359.5" r="1"/><circle cx="774.5" cy="359.5" r="1"/><circle cx="774.5" cy="357.5" r="1"/><circle cx="774.5" cy="351.5" r="1"/><circle cx="774.5" cy="350.5" r="1"/><circle cx="774.5" cy="360.5" r="1"/><circle cx="774.5" cy="350.5" r="1"/><circle cx="774.5" cy="348.5" r="1"/><circle cx="774.5" cy="351.5" r="1"/><circle cx="774.5" cy="366.5" r="1"/><circle cx="774.5" cy="362.5" r="1"/><circle cx="775.5" cy="353.5" r="1"/><circle cx="775.5" cy="357.5" r="1"/><circle cx="776.5" cy="348.5" r="1"/><circle cx="776.5" cy="350.5" r="1"/><circle cx="776.5" cy="357.5" r="1"/><circle cx="776.5" cy="364.5" r="1"/><circle cx="776.5" cy="348.5" r="1"/><circle cx="776.5" cy="359.5" r="1"/><circle cx="776.5" cy="353.5" r="1"/><circle cx="776.5" cy="355.5" r="1"/><circle cx="776.5" cy="366.5" r="1"/><circle cx="776.5" cy="359.5" r="1"/><circle cx="776.5" cy="353.5" r="1"/><circle cx="776.5" cy="357.5" r="1"/><circle cx="776.5" cy="366.5" r="1"/><circle cx="776.5" cy="364.5" r="1"/><circle cx="776.5" cy="355.5" r="1"/><circle cx="776.5" cy="357.5" r="1"/><circle cx="776.5" cy="357.5" r="1"/><circle cx="776.5" cy="350.5" r="1"/><circle cx="776.5" cy="366.5" r="1"/><circle cx="776.5" cy="351.5" r="1"/><circle cx="776.5" cy="351.5" r="1"/><circle cx="777.5" cy="357.5" r="1"/><circle cx="777.5" cy="353.5" r="1"/><circle cx="777.5" cy="362.5" r="1"/><circle cx="777.5" cy="357.5" r="1"/><circle cx="777.5" cy="362.5" r="1"/><circle cx="777.5" cy="360.5" r="1"/><circle cx="777.5" cy="359.5" r="1"/><circle cx="777.5" cy="359.5" r="1"/><circle cx="777.5" cy="360.5" r="1"/><circle cx="777.5" cy="362.5" r="1"/><circle cx="777.5" cy="359.5" r="1"/><circle cx="777.5" cy="353.5" r="1"/><circle cx="777.5" cy="351.5" r="1"/><circle cx="777.5" cy="351.5" r="1"/><circle cx="777.5" cy="362.5" r="1"/><circle cx="777.5" cy="357.5" r="1"/><circle cx="777.5" cy="348.5" r="1"/><circle cx="777.5" cy="359.5" r="1"/><circle cx="777.5" cy="362.5" r="1"/><circle cx="777.5" cy="364.5" r="1"/><circle cx="777.5" cy="364.5" r="1"/><circle cx="777.5" cy="362.5" r="1"/><circle cx="777.5" cy="351.5" r="1"/><circle cx="777.5" cy="357.5" r="1"/><circle cx="777.5" cy="360.5" r="1"/><circle cx="777.5" cy="359.5" r="1"/><circle cx="777.5" cy="353.5" r="1"/><circle cx="777.5" cy="348.5" r="1"/><circle cx="777.5" cy="362.5" r="1"/><circle cx="777.5" cy="360.5" r="1"/><circle cx="778.5" cy="360.5" r="1"/><circle cx="778.5" cy="359.5" r="1"/><circle cx="778.5" cy="359.5" r="1"/><circle cx="778.5" cy="348.5" r="1"/><circle cx="778.5" cy="350.5" r="1"/><circle cx="778.5" cy="359.5" r="1"/><circle cx="778.5" cy="360.5" r="1"/><circle cx="778.5" cy="353.5" r="1"/><circle cx="778.5" cy="360.5" r="1"/><circle cx="778.5" cy="351.5" r="1"/><circle cx="778.5" cy="357.5" r="1"/><circle cx="778.5" cy="353.5" r="1"/><circle cx="778.5" cy="357.5" r="1"/><circle cx="778.5" cy="351.5" r="1"/><circle cx="778.5" cy="353.5" r="1"/><circle cx="778.5" cy="355.5" r="1"/><circle cx="778.5" cy="357.5" r="1"/><circle cx="778.5" cy="351.5" r="1"/><circle cx="778.5" cy="357.5" r="1"/><circle cx="778.5" cy="351.5" r="1"/><circle cx="778.5" cy="362.5" r="1"/><circle cx="778.5" cy="351.5" r="1"/><circle cx="778.5" cy="350.5" r="1"/><circle cx="778.5" cy="351.5" r="1"/><circle cx="778.5" cy="357.5" r="1"/><circle cx="778.5" cy="355.5" r="1"/><circle cx="778.5" cy="359.5" r="1"/><circle cx="778.5" cy="350.5" r="1"/><circle cx="778.5" cy="355.5" r="1"/><circle cx="779.5" cy="359.5" r="1"/><circle cx="779.5" cy="355.5" r="1"/><circle cx="779.5" cy="359.5" r="1"/><circle cx="779.5" cy="351.5" r="1"/><circle cx="779.5" cy="353.5" r="1"/><circle cx="779.5" cy="360.5" r="1"/><circle cx="779.5" cy="357.5" r="1"/><circle cx="780.5" cy="359.5" r="1"/><circle cx="780.5" cy="357.5" r="1"/><circle cx="781.5" cy="355.5" r="1"/><circle cx="781.5" cy="355.5" r="1"/><circle cx="781.5" cy="348.5" r="1"/><circle cx="781.5" cy="362.5" r="1"/><circle cx="781.5" cy="353.5" r="1"/><circle cx="781.5" cy="359.5" r="1"/><circle cx="781.5" cy="360.5" r="1"/><circle cx="781.5" cy="362.5" r="1"/><circle cx="781.5" cy="351.5" r="1"/><circle cx="781.5" cy="360.5" r="1"/><circle cx="781.5" cy="355.5" r="1"/><circle cx="781.5" cy="357.5" r="1"/><circle cx="781.5" cy="351.5" r="1"/><circle cx="781.5" cy="350.5" r="1"/><circle cx="781.5" cy="357.5" r="1"/><circle cx="781.5" cy="360.5" r="1"/><circle cx="781.5" cy="353.5" r="1"/><circle cx="781.5" cy="360.5" r="1"/><circle cx="781.5" cy="359.5" r="1"/><circle cx="781.5" cy="348.5" r="1"/><circle cx="781.5" cy="360.5" r="1"/><circle cx="781.5" cy="350.5" r="1"/><circle cx="781.5" cy="351.5" r="1"/><circle cx="781.5" cy="355.5" r="1"/><circle cx="781.5" cy="360.5" r="1"/><circle cx="781.5" cy="350.5" r="1"/><circle cx="781.5" cy="351.5" r="1"/><circle cx="781.5" cy="350.5" r="1"/><circle cx="172.5" cy="337.5" r="1"/><circle cx="172.5" cy="336.5" r="1"/><circle cx="172.5" cy="334.5" r="1"/><circle cx="172.5" cy="332.5" r="1"/><circle cx="172.5" cy="330.5" r="1"/><circle cx="172.5" cy="329.5" r="1"/><circle cx="172.5" cy="327.5" r="1"/><circle cx="172.5" cy="325.5" r="1"/><circle cx="172.5" cy="323.5" r="1"/><circle cx="172.5" cy="321.5" r="1"/><circle cx="172.5" cy="321.5" r="1"/><circle cx="172.5" cy="320.5" r="1"/><circle cx="172.5" cy="318.5" r="1"/><circle cx="172.5" cy="316.5" r="1"/><circle cx="172.5" cy="314.5" r="1"/><circle cx="172.5" cy="313.5" r="1"/><circle cx="176.5" cy="339.5" r="1"/><circle cx="176.5" cy="339.5" r="1"/><circle cx="176.5" cy="336.5" r="1"/><circle cx="176.5" cy="336.5" r="1"/><circle cx="176.5" cy="334.5" r="1"/><circle cx="176.5" cy="332.5" r="1"/><circle cx="176.5" cy="330.5" r="1"/><circle cx="176.5" cy="329.5" r="1"/><circle cx="176.5" cy="327.5" r="1"/><circle cx="176.5" cy="327.5" r="1"/><circle cx="176.5" cy="323.5" r="1"/><circle cx="176.5" cy="323.5" r="1"/><circle cx="176.5" cy="321.5" r="1"/><circle cx="176.5" cy="320.5" r="1"/><circle cx="179.5" cy="330.5" r="1"/><circle cx="179.5" cy="332.5" r="1"/><circle cx="178.5" cy="334.5" r="1"/><circle cx="179.5" cy="336.5" r="1"/><circle cx="179.5" cy="337.5" r="1"/><circle cx="179.5" cy="339.5" r="1"/><circle cx="179.5" cy="341.5" r="1"/><circle cx="179.5" cy="341.5" r="1"/><circle cx="178.5" cy="344.5" r="1"/><circle cx="179.5" cy="344.5" r="1"/><circle cx="179.5" cy="346.5" r="1"/><circle cx="179.5" cy="348.5" r="1"/><circle cx="179.5" cy="350.5" r="1"/><circle cx="178.5" cy="351.5" r="1"/><circle cx="184.5" cy="332.5" r="1"/><circle cx="184.5" cy="330.5" r="1"/><circle cx="184.5" cy="330.5" r="1"/><circle cx="183.5" cy="327.5" r="1"/><circle cx="184.5" cy="327.5" r="1"/><circle cx="184.5" cy="325.5" r="1"/><circle cx="183.5" cy="323.5" r="1"/><circle cx="183.5" cy="321.5" r="1"/><circle cx="183.5" cy="320.5" r="1"/><circle cx="184.5" cy="318.5" r="1"/><circle cx="183.5" cy="316.5" r="1"/><circle cx="184.5" cy="314.5" r="1"/><circle cx="189.5" cy="339.5" r="1"/><circle cx="188.5" cy="343.5" r="1"/><circle cx="188.5" cy="343.5" r="1"/><circle cx="188.5" cy="344.5" r="1"/><circle cx="188.5" cy="346.5" r="1"/><circle cx="188.5" cy="348.5" r="1"/><circle cx="189.5" cy="350.5" r="1"/><circle cx="189.5" cy="351.5" r="1"/><circle cx="189.5" cy="353.5" r="1"/><circle cx="188.5" cy="355.5" r="1"/><circle cx="188.5" cy="357.5" r="1"/><circle cx="189.5" cy="357.5" r="1"/><circle cx="189.5" cy="359.5" r="1"/><circle cx="189.5" cy="360.5" r="1"/><circle cx="189.5" cy="362.5" r="1"/><circle cx="188.5" cy="364.5" r="1"/><circle cx="193.5" cy="348.5" r="1"/><circle cx="193.5" cy="346.5" r="1"/><circle cx="193.5" cy="344.5" r="1"/><circle cx="193.5" cy="343.5" r="1"/><circle cx="193.5" cy="341.5" r="1"/><circle cx="193.5" cy="339.5" r="1"/><circle cx="193.5" cy="337.5" r="1"/><circle cx="193.5" cy="336.5" r="1"/><circle cx="193.5" cy="334.5" r="1"/><circle cx="193.5" cy="332.5" r="1"/><circle cx="198.5" cy="357.5" r="1"/><circle cx="198.5" cy="355.5" r="1"/><circle cx="198.5" cy="353.5" r="1"/><circle cx="198.5" cy="351.5" r="1"/><circle cx="198.5" cy="350.5" r="1"/><circle cx="198.5" cy="348.5" r="1"/><circle cx="198.5" cy="346.5" r="1"/><circle cx="198.5" cy="344.5" r="1"/><circle cx="198.5" cy="343.5" r="1"/><circle cx="198.5" cy="341.5" r="1"/><circle cx="201.5" cy="355.5" r="1"/><circle cx="201.5" cy="355.5" r="1"/><circle cx="201.5" cy="351.5" r="1"/><circle cx="201.5" cy="351.5" r="1"/><circle cx="201.5" cy="350.5" r="1"/><circle cx="201.5" cy="348.5" r="1"/><circle cx="200.5" cy="346.5" r="1"/><circle cx="200.5" cy="344.5" r="1"/><circle cx="201.5" cy="343.5" r="1"/><circle cx="201.5" cy="341.5" r="1"/><circle cx="201.5" cy="341.5" r="1"/><circle cx="205.5" cy="348.5" r="1"/><circle cx="205.5" cy="350.5" r="1"/><circle cx="205.5" cy="351.5" r="1"/><circle cx="205.5" cy="353.5" r="1"/><circle cx="205.5" cy="355.5" r="1"/><circle cx="205.5" cy="357.5" r="1"/><circle cx="205.5" cy="359.5" r="1"/><circle cx="205.5" cy="360.5" r="1"/><circle cx="205.5" cy="362.5" r="1"/><circle cx="205.5" cy="364.5" r="1"/><circle cx="207.5" cy="350.5" r="1"/><circle cx="207.5" cy="350.5" r="1"/><circle cx="207.5" cy="351.5" r="1"/><circle cx="207.5" cy="353.5" r="1"/><circle cx="207.5" cy="355.5" r="1"/><circle cx="207.5" cy="357.5" r="1"/><circle cx="207.5" cy="359.5" r="1"/><circle cx="207.5" cy="360.5" r="1"/><circle cx="207.5" cy="362.5" r="1"/><circle cx="207.5" cy="364.5" r="1"/><circle cx="210.5" cy="350.5" r="1"/><circle cx="210.5" cy="348.5" r="1"/><circle cx="210.5" cy="346.5" r="1"/><circle cx="210.5" cy="344.5" r="1"/><circle cx="210.5" cy="343.5" r="1"/><circle cx="210.5" cy="341.5" r="1"/><circle cx="210.5" cy="339.5" r="1"/><circle cx="210.5" cy="337.5" r="1"/><circle cx="210.5" cy="337.5" r="1"/><circle cx="211.5" cy="334.5" r="1"/><circle cx="215.5" cy="353.5" r="1"/><circle cx="215.5" cy="355.5" r="1"/><circle cx="215.5" cy="357.5" r="1"/><circle cx="215.5" cy="359.5" r="1"/><circle cx="215.5" cy="360.5" r="1"/><circle cx="215.5" cy="362.5" r="1"/><circle cx="215.5" cy="364.5" r="1"/><circle cx="215.5" cy="364.5" r="1"/><circle cx="215.5" cy="366.5" r="1"/><circle cx="215.5" cy="367.5" r="1"/><circle cx="215.5" cy="369.5" r="1"/><circle cx="215.5" cy="371.5" r="1"/><circle cx="215.5" cy="373.5" r="1"/><circle cx="218.5" cy="353.5" r="1"/><circle cx="219.5" cy="355.5" r="1"/><circle cx="219.5" cy="357.5" r="1"/><circle cx="219.5" cy="359.5" r="1"/><circle cx="218.5" cy="359.5" r="1"/><circle cx="218.5" cy="360.5" r="1"/><circle cx="218.5" cy="362.5" r="1"/><circle cx="219.5" cy="364.5" r="1"/><circle cx="218.5" cy="366.5" r="1"/><circle cx="219.5" cy="367.5" r="1"/><circle cx="219.5" cy="369.5" r="1"/><circle cx="218.5" cy="369.5" r="1"/><circle cx="219.5" cy="371.5" r="1"/><circle cx="218.5" cy="373.5" r="1"/><circle cx="218.5" cy="374.5" r="1"/><circle cx="223.5" cy="350.5" r="1"/><circle cx="223.5" cy="348.5" r="1"/><circle cx="223.5" cy="346.5" r="1"/><circle cx="223.5" cy="344.5" r="1"/><circle cx="223.5" cy="343.5" r="1"/><circle cx="223.5" cy="341.5" r="1"/><circle cx="223.5" cy="341.5" r="1"/><circle cx="223.5" cy="337.5" r="1"/><circle cx="223.5" cy="336.5" r="1"/><circle cx="223.5" cy="336.5" r="1"/><circle cx="223.5" cy="334.5" r="1"/><circle cx="223.5" cy="332.5" r="1"/><circle cx="227.5" cy="357.5" r="1"/><circle cx="227.5" cy="359.5" r="1"/><circle cx="226.5" cy="360.5" r="1"/><circle cx="226.5" cy="362.5" r="1"/><circle cx="226.5" cy="364.5" r="1"/><circle cx="226.5" cy="366.5" r="1"/><circle cx="226.5" cy="367.5" r="1"/><circle cx="227.5" cy="369.5" r="1"/><circle cx="226.5" cy="371.5" r="1"/><circle cx="226.5" cy="371.5" r="1"/><circle cx="229.5" cy="360.5" r="1"/><circle cx="229.5" cy="364.5" r="1"/><circle cx="229.5" cy="366.5" r="1"/><circle cx="230.5" cy="367.5" r="1"/><circle cx="230.5" cy="369.5" r="1"/><circle cx="230.5" cy="369.5" r="1"/><circle cx="230.5" cy="371.5" r="1"/><circle cx="230.5" cy="373.5" r="1"/><circle cx="230.5" cy="374.5" r="1"/><circle cx="229.5" cy="376.5" r="1"/><circle cx="232.5" cy="366.5" r="1"/><circle cx="233.5" cy="367.5" r="1"/><circle cx="233.5" cy="369.5" r="1"/><circle cx="233.5" cy="371.5" r="1"/><circle cx="233.5" cy="373.5" r="1"/><circle cx="233.5" cy="374.5" r="1"/><circle cx="233.5" cy="376.5" r="1"/><circle cx="233.5" cy="378.5" r="1"/><circle cx="236.5" cy="369.5" r="1"/><circle cx="237.5" cy="369.5" r="1"/><circle cx="236.5" cy="367.5" r="1"/><circle cx="236.5" cy="364.5" r="1"/><circle cx="237.5" cy="362.5" r="1"/><circle cx="236.5" cy="360.5" r="1"/><circle cx="237.5" cy="360.5" r="1"/><circle cx="236.5" cy="359.5" r="1"/><circle cx="239.5" cy="373.5" r="1"/><circle cx="239.5" cy="371.5" r="1"/><circle cx="239.5" cy="369.5" r="1"/><circle cx="239.5" cy="367.5" r="1"/><circle cx="239.5" cy="366.5" r="1"/><circle cx="239.5" cy="366.5" r="1"/><circle cx="239.5" cy="364.5" r="1"/><circle cx="239.5" cy="362.5" r="1"/><circle cx="239.5" cy="360.5" r="1"/><circle cx="243.5" cy="376.5" r="1"/><circle cx="244.5" cy="378.5" r="1"/><circle cx="244.5" cy="380.5" r="1"/><circle cx="244.5" cy="382.5" r="1"/><circle cx="244.5" cy="383.5" r="1"/><circle cx="243.5" cy="385.5" r="1"/><circle cx="249.5" cy="378.5" r="1"/><circle cx="248.5" cy="374.5" r="1"/><circle cx="248.5" cy="374.5" r="1"/><circle cx="249.5" cy="371.5" r="1"/><circle cx="249.5" cy="369.5" r="1"/><circle cx="254.5" cy="378.5" r="1"/><circle cx="254.5" cy="380.5" r="1"/><circle cx="253.5" cy="382.5" r="1"/><circle cx="254.5" cy="383.5" r="1"/><circle cx="254.5" cy="385.5" r="1"/><circle cx="253.5" cy="387.5" r="1"/><circle cx="254.5" cy="389.5" r="1"/><circle cx="257.5" cy="378.5" r="1"/><circle cx="257.5" cy="376.5" r="1"/><circle cx="257.5" cy="374.5" r="1"/><circle cx="257.5" cy="373.5" r="1"/><circle cx="257.5" cy="371.5" r="1"/><circle cx="257.5" cy="369.5" r="1"/><circle cx="261.5" cy="380.5" r="1"/><circle cx="262.5" cy="382.5" r="1"/><circle cx="262.5" cy="382.5" r="1"/><circle cx="262.5" cy="385.5" r="1"/><circle cx="262.5" cy="387.5" r="1"/><circle cx="262.5" cy="387.5" r="1"/><circle cx="262.5" cy="389.5" r="1"/><circle cx="261.5" cy="390.5" r="1"/><circle cx="262.5" cy="394.5" r="1"/><circle cx="261.5" cy="396.5" r="1"/><circle cx="261.5" cy="396.5" r="1"/><circle cx="264.5" cy="378.5" r="1"/><circle cx="264.5" cy="380.5" r="1"/><circle cx="264.5" cy="382.5" r="1"/><circle cx="264.5" cy="383.5" r="1"/><circle cx="264.5" cy="385.5" r="1"/><circle cx="265.5" cy="389.5" r="1"/><circle cx="268.5" cy="376.5" r="1"/><circle cx="268.5" cy="378.5" r="1"/><circle cx="268.5" cy="380.5" r="1"/><circle cx="268.5" cy="382.5" r="1"/><circle cx="268.5" cy="383.5" r="1"/><circle cx="268.5" cy="385.5" r="1"/><circle cx="268.5" cy="387.5" r="1"/><circle cx="268.5" cy="389.5" r="1"/><circle cx="271.5" cy="374.5" r="1"/><circle cx="271.5" cy="373.5" r="1"/><circle cx="272.5" cy="371.5" r="1"/><circle cx="272.5" cy="369.5" r="1"/><circle cx="271.5" cy="367.5" r="1"/><circle cx="271.5" cy="366.5" r="1"/><circle cx="272.5" cy="364.5" r="1"/><circle cx="271.5" cy="362.5" r="1"/><circle cx="275.5" cy="374.5" r="1"/><circle cx="275.5" cy="373.5" r="1"/><circle cx="275.5" cy="373.5" r="1"/><circle cx="275.5" cy="371.5" r="1"/><circle cx="275.5" cy="369.5" r="1"/><circle cx="275.5" cy="367.5" r="1"/><circle cx="275.5" cy="366.5" r="1"/><circle cx="275.5" cy="364.5" r="1"/><circle cx="275.5" cy="362.5" r="1"/><circle cx="275.5" cy="360.5" r="1"/><circle cx="275.5" cy="359.5" r="1"/><circle cx="277.5" cy="374.5" r="1"/><circle cx="277.5" cy="376.5" r="1"/><circle cx="277.5" cy="378.5" r="1"/><circle cx="277.5" cy="380.5" r="1"/><circle cx="278.5" cy="382.5" r="1"/><circle cx="277.5" cy="382.5" r="1"/><circle cx="277.5" cy="385.5" r="1"/><circle cx="277.5" cy="387.5" r="1"/><circle cx="277.5" cy="387.5" r="1"/><circle cx="277.5" cy="390.5" r="1"/><circle cx="277.5" cy="390.5" r="1"/><circle cx="277.5" cy="392.5" r="1"/><circle cx="281.5" cy="373.5" r="1"/><circle cx="281.5" cy="371.5" r="1"/><circle cx="281.5" cy="369.5" r="1"/><circle cx="281.5" cy="367.5" r="1"/><circle cx="281.5" cy="366.5" r="1"/><circle cx="281.5" cy="364.5" r="1"/><circle cx="281.5" cy="362.5" r="1"/><circle cx="287.5" cy="371.5" r="1"/><circle cx="286.5" cy="371.5" r="1"/><circle cx="287.5" cy="374.5" r="1"/><circle cx="287.5" cy="374.5" r="1"/><circle cx="287.5" cy="378.5" r="1"/><circle cx="286.5" cy="380.5" r="1"/><circle cx="291.5" cy="369.5" r="1"/><circle cx="290.5" cy="371.5" r="1"/><circle cx="291.5" cy="373.5" r="1"/><circle cx="290.5" cy="374.5" r="1"/><circle cx="290.5" cy="376.5" r="1"/><circle cx="291.5" cy="378.5" r="1"/><circle cx="290.5" cy="380.5" r="1"/><circle cx="290.5" cy="380.5" r="1"/><circle cx="291.5" cy="383.5" r="1"/><circle cx="291.5" cy="383.5" r="1"/><circle cx="290.5" cy="385.5" r="1"/><circle cx="296.5" cy="373.5" r="1"/><circle cx="296.5" cy="374.5" r="1"/><circle cx="296.5" cy="376.5" r="1"/><circle cx="297.5" cy="378.5" r="1"/><circle cx="296.5" cy="380.5" r="1"/><circle cx="297.5" cy="380.5" r="1"/><circle cx="296.5" cy="382.5" r="1"/><circle cx="297.5" cy="383.5" r="1"/><circle cx="296.5" cy="385.5" r="1"/><circle cx="297.5" cy="387.5" r="1"/><circle cx="296.5" cy="389.5" r="1"/><circle cx="297.5" cy="390.5" r="1"/><circle cx="296.5" cy="392.5" r="1"/><circle cx="301.5" cy="374.5" r="1"/><circle cx="301.5" cy="376.5" r="1"/><circle cx="301.5" cy="378.5" r="1"/><circle cx="301.5" cy="380.5" r="1"/><circle cx="301.5" cy="382.5" r="1"/><circle cx="301.5" cy="383.5" r="1"/><circle cx="301.5" cy="385.5" r="1"/><circle cx="301.5" cy="387.5" r="1"/><circle cx="301.5" cy="389.5" r="1"/><circle cx="301.5" cy="389.5" r="1"/><circle cx="300.5" cy="390.5" r="1"/><circle cx="304.5" cy="376.5" r="1"/><circle cx="304.5" cy="374.5" r="1"/><circle cx="304.5" cy="373.5" r="1"/><circle cx="304.5" cy="371.5" r="1"/><circle cx="304.5" cy="369.5" r="1"/><circle cx="304.5" cy="367.5" r="1"/><circle cx="304.5" cy="366.5" r="1"/><circle cx="304.5" cy="364.5" r="1"/><circle cx="304.5" cy="362.5" r="1"/><circle cx="304.5" cy="360.5" r="1"/><circle cx="304.5" cy="359.5" r="1"/><circle cx="304.5" cy="357.5" r="1"/><circle cx="307.5" cy="376.5" r="1"/><circle cx="306.5" cy="378.5" r="1"/><circle cx="307.5" cy="380.5" r="1"/><circle cx="307.5" cy="382.5" r="1"/><circle cx="306.5" cy="383.5" r="1"/><circle cx="306.5" cy="385.5" r="1"/><circle cx="307.5" cy="387.5" r="1"/><circle cx="307.5" cy="389.5" r="1"/><circle cx="306.5" cy="390.5" r="1"/><circle cx="307.5" cy="392.5" r="1"/><circle cx="306.5" cy="394.5" r="1"/><circle cx="307.5" cy="394.5" r="1"/><circle cx="309.5" cy="376.5" r="1"/><circle cx="309.5" cy="378.5" r="1"/><circle cx="309.5" cy="380.5" r="1"/><circle cx="308.5" cy="382.5" r="1"/><circle cx="309.5" cy="383.5" r="1"/><circle cx="309.5" cy="385.5" r="1"/><circle cx="309.5" cy="387.5" r="1"/><circle cx="309.5" cy="389.5" r="1"/><circle cx="309.5" cy="390.5" r="1"/><circle cx="309.5" cy="392.5" r="1"/><circle cx="309.5" cy="394.5" r="1"/><circle cx="308.5" cy="396.5" r="1"/><circle cx="314.5" cy="378.5" r="1"/><circle cx="315.5" cy="376.5" r="1"/><circle cx="314.5" cy="373.5" r="1"/><circle cx="315.5" cy="373.5" r="1"/><circle cx="314.5" cy="371.5" r="1"/><circle cx="314.5" cy="369.5" r="1"/><circle cx="314.5" cy="367.5" r="1"/><circle cx="314.5" cy="366.5" r="1"/><circle cx="315.5" cy="364.5" r="1"/><circle cx="314.5" cy="362.5" r="1"/><circle cx="315.5" cy="360.5" r="1"/><circle cx="315.5" cy="360.5" r="1"/><circle cx="320.5" cy="374.5" r="1"/><circle cx="320.5" cy="374.5" r="1"/><circle cx="320.5" cy="371.5" r="1"/><circle cx="321.5" cy="371.5" r="1"/><circle cx="321.5" cy="367.5" r="1"/><circle cx="320.5" cy="366.5" r="1"/><circle cx="321.5" cy="366.5" r="1"/><circle cx="320.5" cy="364.5" r="1"/><circle cx="323.5" cy="376.5" r="1"/><circle cx="324.5" cy="374.5" r="1"/><circle cx="323.5" cy="373.5" r="1"/><circle cx="324.5" cy="371.5" r="1"/><circle cx="323.5" cy="369.5" r="1"/><circle cx="323.5" cy="367.5" r="1"/><circle cx="323.5" cy="366.5" r="1"/><circle cx="323.5" cy="364.5" r="1"/><circle cx="323.5" cy="362.5" r="1"/><circle cx="323.5" cy="360.5" r="1"/><circle cx="329.5" cy="374.5" r="1"/><circle cx="329.5" cy="378.5" r="1"/><circle cx="329.5" cy="378.5" r="1"/><circle cx="329.5" cy="380.5" r="1"/><circle cx="329.5" cy="382.5" r="1"/><circle cx="329.5" cy="383.5" r="1"/><circle cx="329.5" cy="385.5" r="1"/><circle cx="329.5" cy="387.5" r="1"/><circle cx="329.5" cy="387.5" r="1"/><circle cx="329.5" cy="389.5" r="1"/><circle cx="329.5" cy="390.5" r="1"/><circle cx="329.5" cy="394.5" r="1"/><circle cx="332.5" cy="374.5" r="1"/><circle cx="332.5" cy="374.5" r="1"/><circle cx="332.5" cy="373.5" r="1"/><circle cx="332.5" cy="371.5" r="1"/><circle cx="332.5" cy="369.5" r="1"/><circle cx="332.5" cy="367.5" r="1"/><circle cx="332.5" cy="366.5" r="1"/><circle cx="332.5" cy="364.5" r="1"/><circle cx="332.5" cy="362.5" r="1"/><circle cx="332.5" cy="360.5" r="1"/><circle cx="332.5" cy="359.5" r="1"/><circle cx="338.5" cy="378.5" r="1"/><circle cx="337.5" cy="376.5" r="1"/><circle cx="337.5" cy="374.5" r="1"/><circle cx="338.5" cy="373.5" r="1"/><circle cx="337.5" cy="371.5" r="1"/><circle cx="337.5" cy="369.5" r="1"/><circle cx="337.5" cy="367.5" r="1"/><circle cx="337.5" cy="366.5" r="1"/><circle cx="338.5" cy="364.5" r="1"/><circle cx="340.5" cy="376.5" r="1"/><circle cx="340.5" cy="378.5" r="1"/><circle cx="340.5" cy="380.5" r="1"/><circle cx="340.5" cy="380.5" r="1"/><circle cx="340.5" cy="382.5" r="1"/><circle cx="340.5" cy="383.5" r="1"/><circle cx="340.5" cy="385.5" r="1"/><circle cx="340.5" cy="387.5" r="1"/><circle cx="340.5" cy="389.5" r="1"/><circle cx="340.5" cy="390.5" r="1"/><circle cx="340.5" cy="392.5" r="1"/><circle cx="340.5" cy="392.5" r="1"/><circle cx="344.5" cy="373.5" r="1"/><circle cx="344.5" cy="369.5" r="1"/><circle cx="344.5" cy="367.5" r="1"/><circle cx="344.5" cy="366.5" r="1"/><circle cx="344.5" cy="364.5" r="1"/><circle cx="344.5" cy="364.5" r="1"/><circle cx="344.5" cy="362.5" r="1"/><circle cx="344.5" cy="360.5" r="1"/><circle cx="344.5" cy="357.5" r="1"/><circle cx="348.5" cy="373.5" r="1"/><circle cx="347.5" cy="374.5" r="1"/><circle cx="347.5" cy="376.5" r="1"/><circle cx="348.5" cy="378.5" r="1"/><circle cx="347.5" cy="380.5" r="1"/><circle cx="348.5" cy="382.5" r="1"/><circle cx="348.5" cy="383.5" r="1"/><circle cx="348.5" cy="385.5" r="1"/><circle cx="351.5" cy="378.5" r="1"/><circle cx="352.5" cy="376.5" r="1"/><circle cx="351.5" cy="374.5" r="1"/><circle cx="351.5" cy="373.5" r="1"/><circle cx="351.5" cy="371.5" r="1"/><circle cx="352.5" cy="369.5" r="1"/><circle cx="351.5" cy="367.5" r="1"/><circle cx="352.5" cy="366.5" r="1"/><circle cx="351.5" cy="366.5" r="1"/><circle cx="351.5" cy="364.5" r="1"/><circle cx="351.5" cy="360.5" r="1"/><circle cx="355.5" cy="382.5" r="1"/><circle cx="354.5" cy="382.5" r="1"/><circle cx="355.5" cy="385.5" r="1"/><circle cx="355.5" cy="385.5" r="1"/><circle cx="354.5" cy="387.5" r="1"/><circle cx="355.5" cy="389.5" r="1"/><circle cx="354.5" cy="390.5" r="1"/><circle cx="355.5" cy="392.5" r="1"/><circle cx="354.5" cy="394.5" r="1"/><circle cx="354.5" cy="396.5" r="1"/><circle cx="357.5" cy="378.5" r="1"/><circle cx="357.5" cy="380.5" r="1"/><circle cx="357.5" cy="382.5" r="1"/><circle cx="357.5" cy="383.5" r="1"/><circle cx="357.5" cy="385.5" r="1"/><circle cx="358.5" cy="387.5" r="1"/><circle cx="358.5" cy="389.5" r="1"/><circle cx="358.5" cy="390.5" r="1"/><circle cx="357.5" cy="392.5" r="1"/><circle cx="361.5" cy="376.5" r="1"/><circle cx="362.5" cy="378.5" r="1"/><circle cx="362.5" cy="380.5" r="1"/><circle cx="362.5" cy="382.5" r="1"/><circle cx="362.5" cy="383.5" r="1"/><circle cx="361.5" cy="385.5" r="1"/><circle cx="361.5" cy="387.5" r="1"/><circle cx="365.5" cy="378.5" r="1"/><circle cx="365.5" cy="376.5" r="1"/><circle cx="365.5" cy="374.5" r="1"/><circle cx="365.5" cy="373.5" r="1"/><circle cx="365.5" cy="371.5" r="1"/><circle cx="365.5" cy="369.5" r="1"/><circle cx="365.5" cy="367.5" r="1"/><circle cx="365.5" cy="366.5" r="1"/><circle cx="365.5" cy="364.5" r="1"/><circle cx="370.5" cy="380.5" r="1"/><circle cx="371.5" cy="378.5" r="1"/><circle cx="370.5" cy="374.5" r="1"/><circle cx="370.5" cy="373.5" r="1"/><circle cx="371.5" cy="373.5" r="1"/><circle cx="370.5" cy="369.5" r="1"/><circle cx="370.5" cy="367.5" r="1"/><circle cx="371.5" cy="366.5" r="1"/><circle cx="370.5" cy="364.5" r="1"/><circle cx="370.5" cy="362.5" r="1"/><circle cx="374.5" cy="371.5" r="1"/><circle cx="374.5" cy="371.5" r="1"/><circle cx="374.5" cy="369.5" r="1"/><circle cx="374.5" cy="367.5" r="1"/><circle cx="374.5" cy="366.5" r="1"/><circle cx="375.5" cy="364.5" r="1"/><circle cx="374.5" cy="362.5" r="1"/><circle cx="374.5" cy="360.5" r="1"/><circle cx="374.5" cy="360.5" r="1"/><circle cx="375.5" cy="359.5" r="1"/><circle cx="374.5" cy="357.5" r="1"/><circle cx="374.5" cy="355.5" r="1"/><circle cx="375.5" cy="353.5" r="1"/><circle cx="374.5" cy="351.5" r="1"/><circle cx="374.5" cy="350.5" r="1"/><circle cx="375.5" cy="348.5" r="1"/><circle cx="378.5" cy="366.5" r="1"/><circle cx="379.5" cy="367.5" r="1"/><circle cx="379.5" cy="369.5" r="1"/><circle cx="379.5" cy="371.5" r="1"/><circle cx="379.5" cy="373.5" r="1"/><circle cx="379.5" cy="374.5" r="1"/><circle cx="378.5" cy="376.5" r="1"/><circle cx="379.5" cy="378.5" r="1"/><circle cx="378.5" cy="380.5" r="1"/><circle cx="384.5" cy="362.5" r="1"/><circle cx="385.5" cy="364.5" r="1"/><circle cx="385.5" cy="366.5" r="1"/><circle cx="385.5" cy="367.5" r="1"/><circle cx="385.5" cy="369.5" r="1"/><circle cx="384.5" cy="373.5" r="1"/><circle cx="385.5" cy="373.5" r="1"/><circle cx="388.5" cy="360.5" r="1"/><circle cx="388.5" cy="359.5" r="1"/><circle cx="388.5" cy="357.5" r="1"/><circle cx="388.5" cy="355.5" r="1"/><circle cx="388.5" cy="353.5" r="1"/><circle cx="388.5" cy="351.5" r="1"/><circle cx="391.5" cy="359.5" r="1"/><circle cx="391.5" cy="360.5" r="1"/><circle cx="391.5" cy="362.5" r="1"/><circle cx="391.5" cy="364.5" r="1"/><circle cx="391.5" cy="366.5" r="1"/><circle cx="391.5" cy="367.5" r="1"/><circle cx="391.5" cy="369.5" r="1"/><circle cx="391.5" cy="371.5" r="1"/><circle cx="391.5" cy="373.5" r="1"/><circle cx="395.5" cy="357.5" r="1"/><circle cx="396.5" cy="355.5" r="1"/><circle cx="395.5" cy="355.5" r="1"/><circle cx="395.5" cy="351.5" r="1"/><circle cx="396.5" cy="350.5" r="1"/><circle cx="396.5" cy="350.5" r="1"/><circle cx="396.5" cy="346.5" r="1"/><circle cx="395.5" cy="344.5" r="1"/><circle cx="400.5" cy="355.5" r="1"/><circle cx="399.5" cy="357.5" r="1"/><circle cx="400.5" cy="359.5" r="1"/><circle cx="400.5" cy="360.5" r="1"/><circle cx="400.5" cy="362.5" r="1"/><circle cx="400.5" cy="364.5" r="1"/><circle cx="400.5" cy="366.5" r="1"/><circle cx="400.5" cy="367.5" r="1"/><circle cx="400.5" cy="369.5" r="1"/><circle cx="404.5" cy="353.5" r="1"/><circle cx="404.5" cy="355.5" r="1"/><circle cx="404.5" cy="357.5" r="1"/><circle cx="404.5" cy="359.5" r="1"/><circle cx="404.5" cy="360.5" r="1"/><circle cx="404.5" cy="362.5" r="1"/><circle cx="404.5" cy="364.5" r="1"/><circle cx="404.5" cy="364.5" r="1"/><circle cx="406.5" cy="351.5" r="1"/><circle cx="406.5" cy="350.5" r="1"/><circle cx="406.5" cy="348.5" r="1"/><circle cx="406.5" cy="346.5" r="1"/><circle cx="406.5" cy="344.5" r="1"/><circle cx="406.5" cy="343.5" r="1"/><circle cx="409.5" cy="350.5" r="1"/><circle cx="410.5" cy="351.5" r="1"/><circle cx="410.5" cy="355.5" r="1"/><circle cx="409.5" cy="357.5" r="1"/><circle cx="409.5" cy="357.5" r="1"/><circle cx="410.5" cy="359.5" r="1"/><circle cx="409.5" cy="362.5" r="1"/><circle cx="412.5" cy="348.5" r="1"/><circle cx="412.5" cy="350.5" r="1"/><circle cx="412.5" cy="351.5" r="1"/><circle cx="412.5" cy="353.5" r="1"/><circle cx="412.5" cy="355.5" r="1"/><circle cx="412.5" cy="357.5" r="1"/><circle cx="412.5" cy="359.5" r="1"/><circle cx="412.5" cy="360.5" r="1"/><circle cx="414.5" cy="348.5" r="1"/><circle cx="414.5" cy="350.5" r="1"/><circle cx="415.5" cy="351.5" r="1"/><circle cx="414.5" cy="353.5" r="1"/><circle cx="414.5" cy="355.5" r="1"/><circle cx="414.5" cy="357.5" r="1"/><circle cx="415.5" cy="359.5" r="1"/><circle cx="414.5" cy="360.5" r="1"/><circle cx="414.5" cy="362.5" r="1"/><circle cx="418.5" cy="351.5" r="1"/><circle cx="418.5" cy="350.5" r="1"/><circle cx="418.5" cy="348.5" r="1"/><circle cx="418.5" cy="346.5" r="1"/><circle cx="418.5" cy="344.5" r="1"/><circle cx="418.5" cy="343.5" r="1"/><circle cx="418.5" cy="343.5" r="1"/><circle cx="417.5" cy="341.5" r="1"/><circle cx="418.5" cy="339.5" r="1"/><circle cx="418.5" cy="337.5" r="1"/><circle cx="422.5" cy="348.5" r="1"/><circle cx="422.5" cy="346.5" r="1"/><circle cx="422.5" cy="344.5" r="1"/><circle cx="422.5" cy="343.5" r="1"/><circle cx="422.5" cy="341.5" r="1"/><circle cx="422.5" cy="337.5" r="1"/><circle cx="422.5" cy="337.5" r="1"/><circle cx="421.5" cy="334.5" r="1"/><circle cx="428.5" cy="344.5" r="1"/><circle cx="427.5" cy="346.5" r="1"/><circle cx="428.5" cy="348.5" r="1"/><circle cx="428.5" cy="350.5" r="1"/><circle cx="428.5" cy="351.5" r="1"/><circle cx="428.5" cy="353.5" r="1"/><circle cx="428.5" cy="355.5" r="1"/><circle cx="428.5" cy="357.5" r="1"/><circle cx="433.5" cy="344.5" r="1"/><circle cx="433.5" cy="346.5" r="1"/><circle cx="433.5" cy="348.5" r="1"/><circle cx="433.5" cy="350.5" r="1"/><circle cx="433.5" cy="351.5" r="1"/><circle cx="433.5" cy="353.5" r="1"/><circle cx="433.5" cy="355.5" r="1"/><circle cx="433.5" cy="357.5" r="1"/><circle cx="438.5" cy="348.5" r="1"/><circle cx="439.5" cy="346.5" r="1"/><circle cx="438.5" cy="344.5" r="1"/><circle cx="438.5" cy="343.5" r="1"/><circle cx="438.5" cy="341.5" r="1"/><circle cx="438.5" cy="339.5" r="1"/><circle cx="438.5" cy="337.5" r="1"/><circle cx="438.5" cy="336.5" r="1"/><circle cx="438.5" cy="334.5" r="1"/><circle cx="444.5" cy="348.5" r="1"/><circle cx="444.5" cy="351.5" r="1"/><circle cx="444.5" cy="353.5" r="1"/><circle cx="444.5" cy="353.5" r="1"/><circle cx="444.5" cy="357.5" r="1"/><circle cx="444.5" cy="359.5" r="1"/><circle cx="444.5" cy="359.5" r="1"/><circle cx="444.5" cy="360.5" r="1"/><circle cx="444.5" cy="362.5" r="1"/><circle cx="447.5" cy="348.5" r="1"/><circle cx="447.5" cy="350.5" r="1"/><circle cx="447.5" cy="351.5" r="1"/><circle cx="447.5" cy="353.5" r="1"/><circle cx="447.5" cy="355.5" r="1"/><circle cx="447.5" cy="357.5" r="1"/><circle cx="447.5" cy="359.5" r="1"/><circle cx="447.5" cy="360.5" r="1"/><circle cx="447.5" cy="362.5" r="1"/><circle cx="447.5" cy="364.5" r="1"/><circle cx="447.5" cy="366.5" r="1"/><circle cx="447.5" cy="367.5" r="1"/><circle cx="452.5" cy="348.5" r="1"/><circle cx="451.5" cy="350.5" r="1"/><circle cx="451.5" cy="350.5" r="1"/><circle cx="451.5" cy="353.5" r="1"/><circle cx="452.5" cy="353.5" r="1"/><circle cx="451.5" cy="355.5" r="1"/><circle cx="451.5" cy="357.5" r="1"/><circle cx="451.5" cy="359.5" r="1"/><circle cx="451.5" cy="360.5" r="1"/><circle cx="451.5" cy="362.5" r="1"/><circle cx="451.5" cy="362.5" r="1"/><circle cx="454.5" cy="346.5" r="1"/><circle cx="454.5" cy="348.5" r="1"/><circle cx="454.5" cy="350.5" r="1"/><circle cx="454.5" cy="351.5" r="1"/><circle cx="454.5" cy="353.5" r="1"/><circle cx="454.5" cy="355.5" r="1"/><circle cx="454.5" cy="357.5" r="1"/><circle cx="454.5" cy="357.5" r="1"/><circle cx="454.5" cy="360.5" r="1"/><circle cx="454.5" cy="360.5" r="1"/><circle cx="454.5" cy="362.5" r="1"/><circle cx="459.5" cy="344.5" r="1"/><circle cx="458.5" cy="343.5" r="1"/><circle cx="458.5" cy="341.5" r="1"/><circle cx="458.5" cy="341.5" r="1"/><circle cx="458.5" cy="337.5" r="1"/><circle cx="458.5" cy="336.5" r="1"/><circle cx="458.5" cy="336.5" r="1"/><circle cx="458.5" cy="332.5" r="1"/><circle cx="458.5" cy="330.5" r="1"/><circle cx="458.5" cy="329.5" r="1"/><circle cx="463.5" cy="346.5" r="1"/><circle cx="463.5" cy="343.5" r="1"/><circle cx="462.5" cy="343.5" r="1"/><circle cx="463.5" cy="341.5" r="1"/><circle cx="463.5" cy="339.5" r="1"/><circle cx="463.5" cy="337.5" r="1"/><circle cx="463.5" cy="336.5" r="1"/><circle cx="463.5" cy="334.5" r="1"/><circle cx="463.5" cy="332.5" r="1"/><circle cx="463.5" cy="330.5" r="1"/><circle cx="463.5" cy="329.5" r="1"/><circle cx="463.5" cy="327.5" r="1"/><circle cx="463.5" cy="325.5" r="1"/><circle cx="466.5" cy="348.5" r="1"/><circle cx="466.5" cy="350.5" r="1"/><circle cx="466.5" cy="351.5" r="1"/><circle cx="466.5" cy="353.5" r="1"/><circle cx="466.5" cy="355.5" r="1"/><circle cx="466.5" cy="357.5" r="1"/><circle cx="466.5" cy="359.5" r="1"/><circle cx="466.5" cy="360.5" r="1"/><circle cx="466.5" cy="362.5" r="1"/><circle cx="466.5" cy="364.5" r="1"/><circle cx="469.5" cy="351.5" r="1"/><circle cx="470.5" cy="350.5" r="1"/><circle cx="470.5" cy="348.5" r="1"/><circle cx="469.5" cy="346.5" r="1"/><circle cx="470.5" cy="344.5" r="1"/><circle cx="470.5" cy="343.5" r="1"/><circle cx="470.5" cy="341.5" r="1"/><circle cx="470.5" cy="339.5" r="1"/><circle cx="469.5" cy="337.5" r="1"/><circle cx="469.5" cy="337.5" r="1"/><circle cx="469.5" cy="336.5" r="1"/><circle cx="472.5" cy="351.5" r="1"/><circle cx="472.5" cy="350.5" r="1"/><circle cx="472.5" cy="348.5" r="1"/><circle cx="472.5" cy="348.5" r="1"/><circle cx="473.5" cy="346.5" r="1"/><circle cx="472.5" cy="344.5" r="1"/><circle cx="472.5" cy="343.5" r="1"/><circle cx="472.5" cy="341.5" r="1"/><circle cx="472.5" cy="339.5" r="1"/><circle cx="472.5" cy="337.5" r="1"/><circle cx="476.5" cy="353.5" r="1"/><circle cx="476.5" cy="355.5" r="1"/><circle cx="476.5" cy="357.5" r="1"/><circle cx="476.5" cy="359.5" r="1"/><circle cx="476.5" cy="360.5" r="1"/><circle cx="476.5" cy="362.5" r="1"/><circle cx="476.5" cy="364.5" r="1"/><circle cx="480.5" cy="355.5" r="1"/><circle cx="480.5" cy="357.5" r="1"/><circle cx="481.5" cy="359.5" r="1"/><circle cx="481.5" cy="360.5" r="1"/><circle cx="481.5" cy="362.5" r="1"/><circle cx="480.5" cy="362.5" r="1"/><circle cx="480.5" cy="366.5" r="1"/><circle cx="480.5" cy="367.5" r="1"/><circle cx="481.5" cy="369.5" r="1"/><circle cx="486.5" cy="357.5" r="1"/><circle cx="486.5" cy="359.5" r="1"/><circle cx="486.5" cy="360.5" r="1"/><circle cx="486.5" cy="362.5" r="1"/><circle cx="486.5" cy="364.5" r="1"/><circle cx="486.5" cy="366.5" r="1"/><circle cx="486.5" cy="367.5" r="1"/><circle cx="486.5" cy="369.5" r="1"/><circle cx="486.5" cy="369.5" r="1"/><circle cx="485.5" cy="373.5" r="1"/><circle cx="490.5" cy="357.5" r="1"/><circle cx="490.5" cy="355.5" r="1"/><circle cx="490.5" cy="353.5" r="1"/><circle cx="490.5" cy="351.5" r="1"/><circle cx="490.5" cy="350.5" r="1"/><circle cx="490.5" cy="348.5" r="1"/><circle cx="490.5" cy="346.5" r="1"/><circle cx="490.5" cy="344.5" r="1"/><circle cx="495.5" cy="359.5" r="1"/><circle cx="495.5" cy="357.5" r="1"/><circle cx="495.5" cy="355.5" r="1"/><circle cx="495.5" cy="353.5" r="1"/><circle cx="495.5" cy="351.5" r="1"/><circle cx="495.5" cy="350.5" r="1"/><circle cx="495.5" cy="348.5" r="1"/><circle cx="495.5" cy="346.5" r="1"/><circle cx="495.5" cy="344.5" r="1"/><circle cx="498.5" cy="359.5" r="1"/><circle cx="499.5" cy="362.5" r="1"/><circle cx="498.5" cy="362.5" r="1"/><circle cx="498.5" cy="364.5" r="1"/><circle cx="498.5" cy="367.5" r="1"/><circle cx="498.5" cy="367.5" r="1"/><circle cx="498.5" cy="369.5" r="1"/><circle cx="498.5" cy="371.5" r="1"/><circle cx="498.5" cy="373.5" r="1"/><circle cx="498.5" cy="374.5" r="1"/><circle cx="502.5" cy="362.5" r="1"/><circle cx="502.5" cy="362.5" r="1"/><circle cx="502.5" cy="364.5" r="1"/><circle cx="502.5" cy="367.5" r="1"/><circle cx="502.5" cy="369.5" r="1"/><circle cx="502.5" cy="369.5" r="1"/><circle cx="502.5" cy="373.5" r="1"/><circle cx="502.5" cy="373.5" r="1"/><circle cx="502.5" cy="374.5" r="1"/><circle cx="502.5" cy="376.5" r="1"/><circle cx="508.5" cy="360.5" r="1"/><circle cx="507.5" cy="360.5" r="1"/><circle cx="508.5" cy="364.5" r="1"/><circle cx="507.5" cy="364.5" r="1"/><circle cx="508.5" cy="366.5" r="1"/><circle cx="508.5" cy="369.5" r="1"/><circle cx="507.5" cy="369.5" r="1"/><circle cx="507.5" cy="371.5" r="1"/><circle cx="511.5" cy="360.5" r="1"/><circle cx="511.5" cy="359.5" r="1"/><circle cx="511.5" cy="357.5" r="1"/><circle cx="511.5" cy="355.5" r="1"/><circle cx="511.5" cy="355.5" r="1"/><circle cx="511.5" cy="351.5" r="1"/><circle cx="511.5" cy="351.5" r="1"/><circle cx="511.5" cy="348.5" r="1"/><circle cx="511.5" cy="348.5" r="1"/><circle cx="511.5" cy="346.5" r="1"/><circle cx="511.5" cy="344.5" r="1"/><circle cx="511.5" cy="343.5" r="1"/><circle cx="515.5" cy="364.5" r="1"/><circle cx="515.5" cy="362.5" r="1"/><circle cx="515.5" cy="360.5" r="1"/><circle cx="515.5" cy="359.5" r="1"/><circle cx="515.5" cy="357.5" r="1"/><circle cx="515.5" cy="355.5" r="1"/><circle cx="516.5" cy="353.5" r="1"/><circle cx="515.5" cy="351.5" r="1"/><circle cx="516.5" cy="350.5" r="1"/><circle cx="515.5" cy="348.5" r="1"/><circle cx="516.5" cy="346.5" r="1"/><circle cx="515.5" cy="344.5" r="1"/><circle cx="520.5" cy="367.5" r="1"/><circle cx="520.5" cy="366.5" r="1"/><circle cx="520.5" cy="362.5" r="1"/><circle cx="520.5" cy="362.5" r="1"/><circle cx="520.5" cy="360.5" r="1"/><circle cx="520.5" cy="359.5" r="1"/><circle cx="520.5" cy="357.5" r="1"/><circle cx="520.5" cy="355.5" r="1"/><circle cx="520.5" cy="353.5" r="1"/><circle cx="520.5" cy="351.5" r="1"/><circle cx="523.5" cy="364.5" r="1"/><circle cx="523.5" cy="362.5" r="1"/><circle cx="523.5" cy="360.5" r="1"/><circle cx="523.5" cy="360.5" r="1"/><circle cx="523.5" cy="359.5" r="1"/><circle cx="523.5" cy="357.5" r="1"/><circle cx="523.5" cy="355.5" r="1"/><circle cx="523.5" cy="353.5" r="1"/><circle cx="523.5" cy="351.5" r="1"/><circle cx="523.5" cy="350.5" r="1"/><circle cx="523.5" cy="348.5" r="1"/><circle cx="523.5" cy="348.5" r="1"/><circle cx="523.5" cy="346.5" r="1"/><circle cx="526.5" cy="362.5" r="1"/><circle cx="526.5" cy="360.5" r="1"/><circle cx="525.5" cy="359.5" r="1"/><circle cx="526.5" cy="357.5" r="1"/><circle cx="526.5" cy="355.5" r="1"/><circle cx="525.5" cy="353.5" r="1"/><circle cx="525.5" cy="351.5" r="1"/><circle cx="526.5" cy="351.5" r="1"/><circle cx="525.5" cy="348.5" r="1"/><circle cx="525.5" cy="348.5" r="1"/><circle cx="525.5" cy="346.5" r="1"/><circle cx="525.5" cy="344.5" r="1"/><circle cx="529.5" cy="360.5" r="1"/><circle cx="528.5" cy="359.5" r="1"/><circle cx="529.5" cy="357.5" r="1"/><circle cx="528.5" cy="355.5" r="1"/><circle cx="529.5" cy="353.5" r="1"/><circle cx="528.5" cy="351.5" r="1"/><circle cx="529.5" cy="350.5" r="1"/><circle cx="528.5" cy="348.5" r="1"/><circle cx="528.5" cy="346.5" r="1"/><circle cx="529.5" cy="344.5" r="1"/><circle cx="529.5" cy="343.5" r="1"/><circle cx="534.5" cy="362.5" r="1"/><circle cx="534.5" cy="364.5" r="1"/><circle cx="534.5" cy="366.5" r="1"/><circle cx="534.5" cy="367.5" r="1"/><circle cx="534.5" cy="369.5" r="1"/><circle cx="534.5" cy="369.5" r="1"/><circle cx="534.5" cy="371.5" r="1"/><circle cx="534.5" cy="373.5" r="1"/><circle cx="534.5" cy="374.5" r="1"/><circle cx="539.5" cy="364.5" r="1"/><circle cx="540.5" cy="362.5" r="1"/><circle cx="539.5" cy="360.5" r="1"/><circle cx="539.5" cy="359.5" r="1"/><circle cx="540.5" cy="357.5" r="1"/><circle cx="540.5" cy="355.5" r="1"/><circle cx="539.5" cy="353.5" r="1"/><circle cx="539.5" cy="351.5" r="1"/><circle cx="543.5" cy="364.5" r="1"/><circle cx="542.5" cy="367.5" r="1"/><circle cx="542.5" cy="369.5" r="1"/><circle cx="543.5" cy="369.5" r="1"/><circle cx="542.5" cy="373.5" r="1"/><circle cx="542.5" cy="374.5" r="1"/><circle cx="542.5" cy="374.5" r="1"/><circle cx="543.5" cy="376.5" r="1"/><circle cx="543.5" cy="378.5" r="1"/><circle cx="542.5" cy="380.5" r="1"/><circle cx="542.5" cy="382.5" r="1"/><circle cx="548.5" cy="369.5" r="1"/><circle cx="548.5" cy="367.5" r="1"/><circle cx="548.5" cy="366.5" r="1"/><circle cx="548.5" cy="364.5" r="1"/><circle cx="548.5" cy="362.5" r="1"/><circle cx="548.5" cy="360.5" r="1"/><circle cx="548.5" cy="359.5" r="1"/><circle cx="548.5" cy="357.5" r="1"/><circle cx="552.5" cy="371.5" r="1"/><circle cx="552.5" cy="373.5" r="1"/><circle cx="552.5" cy="374.5" r="1"/><circle cx="552.5" cy="376.5" r="1"/><circle cx="555.5" cy="373.5" r="1"/><circle cx="555.5" cy="374.5" r="1"/><circle cx="555.5" cy="376.5" r="1"/><circle cx="556.5" cy="378.5" r="1"/><circle cx="555.5" cy="380.5" r="1"/><circle cx="561.5" cy="373.5" r="1"/><circle cx="561.5" cy="371.5" r="1"/><circle cx="561.5" cy="369.5" r="1"/><circle cx="561.5" cy="367.5" r="1"/><circle cx="560.5" cy="366.5" r="1"/><circle cx="561.5" cy="364.5" r="1"/><circle cx="561.5" cy="362.5" r="1"/><circle cx="564.5" cy="374.5" r="1"/><circle cx="564.5" cy="376.5" r="1"/><circle cx="564.5" cy="378.5" r="1"/><circle cx="564.5" cy="380.5" r="1"/><circle cx="564.5" cy="382.5" r="1"/><circle cx="564.5" cy="383.5" r="1"/><circle cx="564.5" cy="385.5" r="1"/><circle cx="569.5" cy="378.5" r="1"/><circle cx="569.5" cy="374.5" r="1"/><circle cx="569.5" cy="373.5" r="1"/><circle cx="569.5" cy="373.5" r="1"/><circle cx="569.5" cy="369.5" r="1"/><circle cx="575.5" cy="374.5" r="1"/><circle cx="574.5" cy="374.5" r="1"/><circle cx="574.5" cy="373.5" r="1"/><circle cx="575.5" cy="369.5" r="1"/><circle cx="575.5" cy="369.5" r="1"/><circle cx="575.5" cy="367.5" r="1"/><circle cx="575.5" cy="366.5" r="1"/><circle cx="575.5" cy="364.5" r="1"/><circle cx="574.5" cy="362.5" r="1"/><circle cx="575.5" cy="360.5" r="1"/><circle cx="579.5" cy="376.5" r="1"/><circle cx="578.5" cy="373.5" r="1"/><circle cx="578.5" cy="371.5" r="1"/><circle cx="578.5" cy="371.5" r="1"/><circle cx="579.5" cy="367.5" r="1"/><circle cx="579.5" cy="367.5" r="1"/><circle cx="579.5" cy="364.5" r="1"/><circle cx="578.5" cy="364.5" r="1"/><circle cx="584.5" cy="376.5" r="1"/><circle cx="584.5" cy="378.5" r="1"/><circle cx="583.5" cy="380.5" r="1"/><circle cx="584.5" cy="382.5" r="1"/><circle cx="584.5" cy="383.5" r="1"/><circle cx="584.5" cy="385.5" r="1"/><circle cx="584.5" cy="387.5" r="1"/><circle cx="584.5" cy="389.5" r="1"/><circle cx="586.5" cy="376.5" r="1"/><circle cx="586.5" cy="378.5" r="1"/><circle cx="586.5" cy="382.5" r="1"/><circle cx="586.5" cy="383.5" r="1"/><circle cx="586.5" cy="385.5" r="1"/><circle cx="589.5" cy="378.5" r="1"/><circle cx="589.5" cy="376.5" r="1"/><circle cx="589.5" cy="373.5" r="1"/><circle cx="589.5" cy="373.5" r="1"/><circle cx="589.5" cy="369.5" r="1"/><circle cx="589.5" cy="369.5" r="1"/><circle cx="589.5" cy="367.5" r="1"/><circle cx="593.5" cy="378.5" r="1"/><circle cx="593.5" cy="380.5" r="1"/><circle cx="593.5" cy="382.5" r="1"/><circle cx="593.5" cy="383.5" r="1"/><circle cx="593.5" cy="385.5" r="1"/><circle cx="594.5" cy="387.5" r="1"/><circle cx="594.5" cy="389.5" r="1"/><circle cx="596.5" cy="380.5" r="1"/><circle cx="596.5" cy="380.5" r="1"/><circle cx="596.5" cy="382.5" r="1"/><circle cx="596.5" cy="383.5" r="1"/><circle cx="597.5" cy="385.5" r="1"/><circle cx="596.5" cy="387.5" r="1"/><circle cx="596.5" cy="389.5" r="1"/><circle cx="596.5" cy="390.5" r="1"/><circle cx="596.5" cy="392.5" r="1"/><circle cx="600.5" cy="380.5" r="1"/><circle cx="600.5" cy="378.5" r="1"/><circle cx="600.5" cy="376.5" r="1"/><circle cx="600.5" cy="374.5" r="1"/><circle cx="600.5" cy="373.5" r="1"/><circle cx="600.5" cy="371.5" r="1"/><circle cx="601.5" cy="369.5" r="1"/><circle cx="601.5" cy="367.5" r="1"/><circle cx="600.5" cy="366.5" r="1"/><circle cx="603.5" cy="380.5" r="1"/><circle cx="604.5" cy="382.5" r="1"/><circle cx="603.5" cy="383.5" r="1"/><circle cx="603.5" cy="385.5" r="1"/><circle cx="603.5" cy="387.5" r="1"/><circle cx="604.5" cy="389.5" r="1"/><circle cx="604.5" cy="390.5" r="1"/><circle cx="609.5" cy="378.5" r="1"/><circle cx="608.5" cy="376.5" r="1"/><circle cx="609.5" cy="374.5" r="1"/><circle cx="608.5" cy="373.5" r="1"/><circle cx="609.5" cy="371.5" r="1"/><circle cx="608.5" cy="369.5" r="1"/><circle cx="609.5" cy="367.5" r="1"/><circle cx="613.5" cy="376.5" r="1"/><circle cx="612.5" cy="378.5" r="1"/><circle cx="612.5" cy="380.5" r="1"/><circle cx="613.5" cy="382.5" r="1"/><circle cx="613.5" cy="383.5" r="1"/><circle cx="613.5" cy="385.5" r="1"/><circle cx="613.5" cy="387.5" r="1"/><circle cx="612.5" cy="387.5" r="1"/><circle cx="617.5" cy="376.5" r="1"/><circle cx="618.5" cy="374.5" r="1"/><circle cx="617.5" cy="373.5" r="1"/><circle cx="617.5" cy="371.5" r="1"/><circle cx="617.5" cy="369.5" r="1"/><circle cx="617.5" cy="367.5" r="1"/><circle cx="617.5" cy="366.5" r="1"/><circle cx="618.5" cy="364.5" r="1"/><circle cx="618.5" cy="362.5" r="1"/><circle cx="621.5" cy="376.5" r="1"/><circle cx="621.5" cy="374.5" r="1"/><circle cx="621.5" cy="374.5" r="1"/><circle cx="622.5" cy="371.5" r="1"/><circle cx="621.5" cy="369.5" r="1"/><circle cx="621.5" cy="367.5" r="1"/><circle cx="622.5" cy="366.5" r="1"/><circle cx="621.5" cy="366.5" r="1"/><circle cx="621.5" cy="364.5" r="1"/><circle cx="625.5" cy="374.5" r="1"/><circle cx="625.5" cy="374.5" r="1"/><circle cx="625.5" cy="373.5" r="1"/><circle cx="625.5" cy="371.5" r="1"/><circle cx="625.5" cy="369.5" r="1"/><circle cx="625.5" cy="367.5" r="1"/><circle cx="625.5" cy="366.5" r="1"/><circle cx="625.5" cy="364.5" r="1"/><circle cx="625.5" cy="362.5" r="1"/><circle cx="625.5" cy="360.5" r="1"/><circle cx="628.5" cy="376.5" r="1"/><circle cx="627.5" cy="373.5" r="1"/><circle cx="627.5" cy="373.5" r="1"/><circle cx="627.5" cy="371.5" r="1"/><circle cx="628.5" cy="369.5" r="1"/><circle cx="627.5" cy="367.5" r="1"/><circle cx="627.5" cy="366.5" r="1"/><circle cx="628.5" cy="364.5" r="1"/><circle cx="627.5" cy="362.5" r="1"/><circle cx="628.5" cy="360.5" r="1"/><circle cx="627.5" cy="359.5" r="1"/><circle cx="633.5" cy="380.5" r="1"/><circle cx="633.5" cy="378.5" r="1"/><circle cx="633.5" cy="376.5" r="1"/><circle cx="633.5" cy="374.5" r="1"/><circle cx="633.5" cy="373.5" r="1"/><circle cx="633.5" cy="371.5" r="1"/><circle cx="633.5" cy="369.5" r="1"/><circle cx="633.5" cy="367.5" r="1"/><circle cx="633.5" cy="366.5" r="1"/><circle cx="636.5" cy="380.5" r="1"/><circle cx="636.5" cy="376.5" r="1"/><circle cx="636.5" cy="376.5" r="1"/><circle cx="637.5" cy="374.5" r="1"/><circle cx="636.5" cy="373.5" r="1"/><circle cx="636.5" cy="371.5" r="1"/><circle cx="637.5" cy="369.5" r="1"/><circle cx="636.5" cy="367.5" r="1"/><circle cx="636.5" cy="366.5" r="1"/><circle cx="639.5" cy="378.5" r="1"/><circle cx="639.5" cy="380.5" r="1"/><circle cx="639.5" cy="382.5" r="1"/><circle cx="639.5" cy="383.5" r="1"/><circle cx="639.5" cy="385.5" r="1"/><circle cx="639.5" cy="387.5" r="1"/><circle cx="639.5" cy="389.5" r="1"/><circle cx="639.5" cy="390.5" r="1"/><circle cx="639.5" cy="392.5" r="1"/><circle cx="645.5" cy="376.5" r="1"/><circle cx="645.5" cy="378.5" r="1"/><circle cx="645.5" cy="380.5" r="1"/><circle cx="645.5" cy="382.5" r="1"/><circle cx="645.5" cy="383.5" r="1"/><circle cx="645.5" cy="385.5" r="1"/><circle cx="645.5" cy="387.5" r="1"/><circle cx="645.5" cy="389.5" r="1"/><circle cx="650.5" cy="374.5" r="1"/><circle cx="650.5" cy="376.5" r="1"/><circle cx="651.5" cy="378.5" r="1"/><circle cx="651.5" cy="380.5" r="1"/><circle cx="651.5" cy="382.5" r="1"/><circle cx="651.5" cy="383.5" r="1"/><circle cx="650.5" cy="385.5" r="1"/><circle cx="651.5" cy="387.5" r="1"/><circle cx="651.5" cy="387.5" r="1"/><circle cx="655.5" cy="374.5" r="1"/><circle cx="655.5" cy="376.5" r="1"/><circle cx="655.5" cy="378.5" r="1"/><circle cx="655.5" cy="380.5" r="1"/><circle cx="655.5" cy="382.5" r="1"/><circle cx="655.5" cy="383.5" r="1"/><circle cx="655.5" cy="385.5" r="1"/><circle cx="655.5" cy="387.5" r="1"/><circle cx="655.5" cy="389.5" r="1"/><circle cx="661.5" cy="374.5" r="1"/><circle cx="661.5" cy="373.5" r="1"/><circle cx="661.5" cy="371.5" r="1"/><circle cx="661.5" cy="369.5" r="1"/><circle cx="661.5" cy="367.5" r="1"/><circle cx="661.5" cy="366.5" r="1"/><circle cx="660.5" cy="364.5" r="1"/><circle cx="661.5" cy="364.5" r="1"/><circle cx="661.5" cy="362.5" r="1"/><circle cx="660.5" cy="360.5" r="1"/><circle cx="666.5" cy="373.5" r="1"/><circle cx="666.5" cy="374.5" r="1"/><circle cx="666.5" cy="376.5" r="1"/><circle cx="666.5" cy="378.5" r="1"/><circle cx="666.5" cy="380.5" r="1"/><circle cx="666.5" cy="382.5" r="1"/><circle cx="666.5" cy="382.5" r="1"/><circle cx="666.5" cy="385.5" r="1"/><circle cx="666.5" cy="385.5" r="1"/><circle cx="666.5" cy="387.5" r="1"/><circle cx="666.5" cy="389.5" r="1"/><circle cx="666.5" cy="390.5" r="1"/><circle cx="666.5" cy="392.5" r="1"/><circle cx="671.5" cy="374.5" r="1"/><circle cx="671.5" cy="376.5" r="1"/><circle cx="671.5" cy="378.5" r="1"/><circle cx="671.5" cy="380.5" r="1"/><circle cx="671.5" cy="382.5" r="1"/><circle cx="671.5" cy="382.5" r="1"/><circle cx="671.5" cy="383.5" r="1"/><circle cx="671.5" cy="385.5" r="1"/><circle cx="671.5" cy="387.5" r="1"/><circle cx="671.5" cy="389.5" r="1"/><circle cx="671.5" cy="390.5" r="1"/><circle cx="675.5" cy="373.5" r="1"/><circle cx="675.5" cy="374.5" r="1"/><circle cx="675.5" cy="374.5" r="1"/><circle cx="675.5" cy="376.5" r="1"/><circle cx="675.5" cy="380.5" r="1"/><circle cx="675.5" cy="380.5" r="1"/><circle cx="675.5" cy="383.5" r="1"/><circle cx="675.5" cy="385.5" r="1"/><circle cx="680.5" cy="378.5" r="1"/><circle cx="680.5" cy="380.5" r="1"/><circle cx="680.5" cy="382.5" r="1"/><circle cx="680.5" cy="383.5" r="1"/><circle cx="680.5" cy="385.5" r="1"/><circle cx="680.5" cy="387.5" r="1"/><circle cx="680.5" cy="389.5" r="1"/><circle cx="680.5" cy="390.5" r="1"/><circle cx="680.5" cy="392.5" r="1"/><circle cx="680.5" cy="394.5" r="1"/><circle cx="680.5" cy="396.5" r="1"/><circle cx="685.5" cy="382.5" r="1"/><circle cx="685.5" cy="383.5" r="1"/><circle cx="686.5" cy="385.5" r="1"/><circle cx="685.5" cy="387.5" r="1"/><circle cx="686.5" cy="389.5" r="1"/><circle cx="685.5" cy="392.5" r="1"/><circle cx="686.5" cy="392.5" r="1"/><circle cx="685.5" cy="394.5" r="1"/><circle cx="688.5" cy="382.5" r="1"/><circle cx="688.5" cy="383.5" r="1"/><circle cx="688.5" cy="385.5" r="1"/><circle cx="688.5" cy="387.5" r="1"/><circle cx="688.5" cy="389.5" r="1"/><circle cx="688.5" cy="390.5" r="1"/><circle cx="688.5" cy="394.5" r="1"/><circle cx="688.5" cy="394.5" r="1"/><circle cx="692.5" cy="380.5" r="1"/><circle cx="692.5" cy="382.5" r="1"/><circle cx="692.5" cy="383.5" r="1"/><circle cx="692.5" cy="385.5" r="1"/><circle cx="692.5" cy="387.5" r="1"/><circle cx="692.5" cy="389.5" r="1"/><circle cx="692.5" cy="390.5" r="1"/><circle cx="692.5" cy="392.5" r="1"/><circle cx="692.5" cy="392.5" r="1"/><circle cx="697.5" cy="373.5" r="1"/><circle cx="697.5" cy="371.5" r="1"/><circle cx="697.5" cy="369.5" r="1"/><circle cx="697.5" cy="367.5" r="1"/><circle cx="697.5" cy="366.5" r="1"/><circle cx="697.5" cy="364.5" r="1"/><circle cx="697.5" cy="362.5" r="1"/><circle cx="697.5" cy="362.5" r="1"/><circle cx="697.5" cy="359.5" r="1"/><circle cx="700.5" cy="369.5" r="1"/><circle cx="701.5" cy="367.5" r="1"/><circle cx="701.5" cy="366.5" r="1"/><circle cx="701.5" cy="364.5" r="1"/><circle cx="701.5" cy="362.5" r="1"/><circle cx="701.5" cy="362.5" r="1"/><circle cx="700.5" cy="360.5" r="1"/><circle cx="701.5" cy="357.5" r="1"/><circle cx="701.5" cy="357.5" r="1"/><circle cx="703.5" cy="367.5" r="1"/><circle cx="703.5" cy="366.5" r="1"/><circle cx="703.5" cy="364.5" r="1"/><circle cx="703.5" cy="362.5" r="1"/><circle cx="703.5" cy="360.5" r="1"/><circle cx="703.5" cy="359.5" r="1"/><circle cx="703.5" cy="357.5" r="1"/><circle cx="703.5" cy="355.5" r="1"/><circle cx="703.5" cy="355.5" r="1"/><circle cx="703.5" cy="353.5" r="1"/><circle cx="705.5" cy="364.5" r="1"/><circle cx="705.5" cy="366.5" r="1"/><circle cx="705.5" cy="367.5" r="1"/><circle cx="705.5" cy="369.5" r="1"/><circle cx="705.5" cy="371.5" r="1"/><circle cx="705.5" cy="373.5" r="1"/><circle cx="705.5" cy="374.5" r="1"/><circle cx="705.5" cy="376.5" r="1"/><circle cx="705.5" cy="378.5" r="1"/><circle cx="709.5" cy="366.5" r="1"/><circle cx="709.5" cy="366.5" r="1"/><circle cx="709.5" cy="367.5" r="1"/><circle cx="709.5" cy="369.5" r="1"/><circle cx="709.5" cy="371.5" r="1"/><circle cx="709.5" cy="373.5" r="1"/><circle cx="709.5" cy="374.5" r="1"/><circle cx="709.5" cy="376.5" r="1"/><circle cx="709.5" cy="378.5" r="1"/><circle cx="715.5" cy="359.5" r="1"/><circle cx="715.5" cy="357.5" r="1"/><circle cx="715.5" cy="355.5" r="1"/><circle cx="715.5" cy="353.5" r="1"/><circle cx="715.5" cy="351.5" r="1"/><circle cx="715.5" cy="350.5" r="1"/><circle cx="715.5" cy="348.5" r="1"/><circle cx="715.5" cy="346.5" r="1"/><circle cx="715.5" cy="344.5" r="1"/><circle cx="718.5" cy="353.5" r="1"/><circle cx="718.5" cy="351.5" r="1"/><circle cx="718.5" cy="350.5" r="1"/><circle cx="718.5" cy="348.5" r="1"/><circle cx="718.5" cy="346.5" r="1"/><circle cx="718.5" cy="344.5" r="1"/><circle cx="718.5" cy="343.5" r="1"/><circle cx="722.5" cy="350.5" r="1"/><circle cx="722.5" cy="351.5" r="1"/><circle cx="722.5" cy="353.5" r="1"/><circle cx="722.5" cy="355.5" r="1"/><circle cx="722.5" cy="357.5" r="1"/><circle cx="722.5" cy="359.5" r="1"/><circle cx="721.5" cy="360.5" r="1"/><circle cx="721.5" cy="362.5" r="1"/><circle cx="722.5" cy="364.5" r="1"/><circle cx="724.5" cy="348.5" r="1"/><circle cx="724.5" cy="346.5" r="1"/><circle cx="724.5" cy="344.5" r="1"/><circle cx="724.5" cy="341.5" r="1"/><circle cx="724.5" cy="341.5" r="1"/><circle cx="724.5" cy="339.5" r="1"/><circle cx="724.5" cy="337.5" r="1"/><circle cx="724.5" cy="336.5" r="1"/><circle cx="724.5" cy="334.5" r="1"/><circle cx="724.5" cy="332.5" r="1"/><circle cx="724.5" cy="330.5" r="1"/><circle cx="730.5" cy="351.5" r="1"/><circle cx="729.5" cy="355.5" r="1"/><circle cx="729.5" cy="357.5" r="1"/><circle cx="729.5" cy="359.5" r="1"/><circle cx="729.5" cy="360.5" r="1"/><circle cx="729.5" cy="362.5" r="1"/><circle cx="730.5" cy="364.5" r="1"/><circle cx="729.5" cy="366.5" r="1"/><circle cx="735.5" cy="355.5" r="1"/><circle cx="735.5" cy="353.5" r="1"/><circle cx="735.5" cy="351.5" r="1"/><circle cx="735.5" cy="351.5" r="1"/><circle cx="735.5" cy="350.5" r="1"/><circle cx="735.5" cy="348.5" r="1"/><circle cx="735.5" cy="346.5" r="1"/><circle cx="735.5" cy="344.5" r="1"/><circle cx="735.5" cy="343.5" r="1"/><circle cx="738.5" cy="359.5" r="1"/><circle cx="738.5" cy="357.5" r="1"/><circle cx="738.5" cy="355.5" r="1"/><circle cx="738.5" cy="353.5" r="1"/><circle cx="738.5" cy="351.5" r="1"/><circle cx="738.5" cy="350.5" r="1"/><circle cx="738.5" cy="348.5" r="1"/><circle cx="738.5" cy="346.5" r="1"/><circle cx="738.5" cy="344.5" r="1"/><circle cx="738.5" cy="343.5" r="1"/><circle cx="738.5" cy="341.5" r="1"/><circle cx="740.5" cy="362.5" r="1"/><circle cx="740.5" cy="364.5" r="1"/><circle cx="740.5" cy="366.5" r="1"/><circle cx="740.5" cy="367.5" r="1"/><circle cx="741.5" cy="369.5" r="1"/><circle cx="740.5" cy="371.5" r="1"/><circle cx="741.5" cy="373.5" r="1"/><circle cx="743.5" cy="360.5" r="1"/><circle cx="744.5" cy="362.5" r="1"/><circle cx="744.5" cy="364.5" r="1"/><circle cx="744.5" cy="366.5" r="1"/><circle cx="744.5" cy="367.5" r="1"/><circle cx="744.5" cy="369.5" r="1"/><circle cx="744.5" cy="371.5" r="1"/><circle cx="744.5" cy="373.5" r="1"/><circle cx="749.5" cy="353.5" r="1"/><circle cx="749.5" cy="357.5" r="1"/><circle cx="749.5" cy="359.5" r="1"/><circle cx="749.5" cy="360.5" r="1"/><circle cx="749.5" cy="362.5" r="1"/><circle cx="749.5" cy="362.5" r="1"/><circle cx="751.5" cy="355.5" r="1"/><circle cx="752.5" cy="357.5" r="1"/><circle cx="752.5" cy="357.5" r="1"/><circle cx="752.5" cy="360.5" r="1"/><circle cx="752.5" cy="360.5" r="1"/><circle cx="752.5" cy="364.5" r="1"/><circle cx="752.5" cy="364.5" r="1"/><circle cx="752.5" cy="366.5" r="1"/><circle cx="757.5" cy="355.5" r="1"/><circle cx="758.5" cy="353.5" r="1"/><circle cx="757.5" cy="353.5" r="1"/><circle cx="757.5" cy="350.5" r="1"/><circle cx="758.5" cy="348.5" r="1"/><circle cx="758.5" cy="346.5" r="1"/><circle cx="761.5" cy="355.5" r="1"/><circle cx="761.5" cy="357.5" r="1"/><circle cx="761.5" cy="359.5" r="1"/><circle cx="761.5" cy="360.5" r="1"/><circle cx="761.5" cy="362.5" r="1"/><circle cx="761.5" cy="364.5" r="1"/><circle cx="761.5" cy="366.5" r="1"/><circle cx="761.5" cy="366.5" r="1"/><circle cx="761.5" cy="367.5" r="1"/><circle cx="763.5" cy="355.5" r="1"/><circle cx="763.5" cy="353.5" r="1"/><circle cx="763.5" cy="351.5" r="1"/><circle cx="764.5" cy="348.5" r="1"/><circle cx="763.5" cy="348.5" r="1"/><circle cx="763.5" cy="344.5" r="1"/><circle cx="769.5" cy="355.5" r="1"/><circle cx="769.5" cy="353.5" r="1"/><circle cx="769.5" cy="351.5" r="1"/><circle cx="769.5" cy="350.5" r="1"/><circle cx="769.5" cy="348.5" r="1"/><circle cx="769.5" cy="346.5" r="1"/><circle cx="769.5" cy="344.5" r="1"/><circle cx="770.5" cy="343.5" r="1"/><circle cx="774.5" cy="359.5" r="1"/><circle cx="775.5" cy="357.5" r="1"/><circle cx="775.5" cy="355.5" r="1"/><circle cx="775.5" cy="353.5" r="1"/><circle cx="774.5" cy="351.5" r="1"/><circle cx="774.5" cy="350.5" r="1"/><circle cx="774.5" cy="348.5" r="1"/><circle cx="775.5" cy="346.5" r="1"/><circle cx="774.5" cy="344.5" r="1"/><circle cx="774.5" cy="343.5" r="1"/><circle cx="774.5" cy="341.5" r="1"/><circle cx="777.5" cy="357.5" r="1"/><circle cx="777.5" cy="353.5" r="1"/><circle cx="777.5" cy="351.5" r="1"/><circle cx="777.5" cy="350.5" r="1"/><circle cx="777.5" cy="348.5" r="1"/><circle cx="777.5" cy="346.5" r="1"/><circle cx="779.5" cy="355.5" r="1"/><circle cx="780.5" cy="357.5" r="1"/><circle cx="779.5" cy="360.5" r="1"/><circle cx="780.5" cy="362.5" r="1"/></g>
<g fill="none" stroke="#0000ff" stroke-width="1"><circle cx="173.6" cy="110.6" r="1"/><circle cx="179.9" cy="115.7" r="1"/><circle cx="186.3" cy="117.4" r="1"/><circle cx="188.4" cy="122.6" r="1"/><circle cx="177.8" cy="133.4" r="1"/><circle cx="184.2" cy="131.5" r="1"/><circle cx="190.5" cy="136.9" r="1"/><circle cx="192.6" cy="143.8" r="1"/><circle cx="196.8" cy="145.3" r="1"/><circle cx="207.4" cy="129.7" r="1"/><circle cx="209.5" cy="142.4" r="1"/><circle cx="213.7" cy="138.4" r="1"/><circle cx="222.1" cy="142.4" r="1"/><circle cx="198.9" cy="154.3" r="1"/><circle cx="201.0" cy="159.5" r="1"/><circle cx="203.2" cy="156.3" r="1"/><circle cx="194.7" cy="163.4" r="1"/><circle cx="211.6" cy="152.6" r="1"/><circle cx="215.8" cy="161.4" r="1"/><circle cx="217.9" cy="166.6" r="1"/><circle cx="220.0" cy="168.5" r="1"/><circle cx="224.2" cy="163.4" r="1"/><circle cx="226.4" cy="156.3" r="1"/><circle cx="228.5" cy="168.5" r="1"/><circle cx="230.6" cy="165.3" r="1"/><circle cx="232.7" cy="177.2" r="1"/><circle cx="234.8" cy="184.3" r="1"/><circle cx="236.9" cy="191.4" r="1"/><circle cx="239.0" cy="187.9" r="1"/><circle cx="241.1" cy="195.1" r="1"/><circle cx="243.2" cy="193.3" r="1"/><circle cx="245.3" cy="189.6" r="1"/><circle cx="247.5" cy="195.1" r="1"/><circle cx="249.6" cy="189.6" r="1"/><circle cx="251.7" cy="198.5" r="1"/><circle cx="253.8" cy="195.1" r="1"/><circle cx="255.9" cy="196.8" r="1"/><circle cx="258.0" cy="195.1" r="1"/><circle cx="260.1" cy="209.0" r="1"/><circle cx="262.2" cy="210.8" r="1"/><circle cx="264.3" cy="202.2" r="1"/><circle cx="266.4" cy="195.1" r="1"/><circle cx="268.6" cy="194.8" r="1"/><circle cx="270.7" cy="193.3" r="1"/><circle cx="272.8" cy="195.1" r="1"/><circle cx="274.9" cy="187.9" r="1"/><circle cx="277.0" cy="187.9" r="1"/><circle cx="279.1" cy="209.1" r="1"/><circle cx="281.2" cy="191.4" r="1"/><circle cx="283.3" cy="191.4" r="1"/><circle cx="285.4" cy="191.4" r="1"/><circle cx="287.6" cy="181.0" r="1"/><circle cx="289.7" cy="177.2" r="1"/><circle cx="291.8" cy="172.0" r="1"/><circle cx="293.9" cy="181.0" r="1"/><circle cx="296.0" cy="175.6" r="1"/><circle cx="298.1" cy="177.2" r="1"/><circle cx="300.2" cy="205.4" r="1"/><circle cx="302.3" cy="207.5" r="1"/><circle cx="304.4" cy="184.3" r="1"/><circle cx="306.5" cy="184.3" r="1"/><circle cx="308.6" cy="195.1" r="1"/><circle cx="310.8" cy="203.9" r="1"/><circle cx="312.9" cy="209.1" r="1"/><circle cx="315.0" cy="196.8" r="1"/><circle cx="317.1" cy="193.3" r="1"/><circle cx="319.2" cy="191.4" r="1"/><circle cx="321.3" cy="186.4" r="1"/><circle cx="323.4" cy="187.9" r="1"/><circle cx="325.5" cy="193.3" r="1"/><circle cx="327.6" cy="193.3" r="1"/><circle cx="329.8" cy="200.4" r="1"/><circle cx="331.9" cy="191.4" r="1"/><circle cx="334.0" cy="207.5" r="1"/><circle cx="336.1" cy="209.1" r="1"/><circle cx="338.2" cy="196.8" r="1"/><circle cx="340.3" cy="205.6" r="1"/><circle cx="342.4" cy="209.1" r="1"/><circle cx="344.5" cy="181.0" r="1"/><circle cx="346.6" cy="187.9" r="1"/><circle cx="348.7" cy="187.9" r="1"/><circle cx="350.9" cy="186.4" r="1"/><circle cx="353.0" cy="216.0" r="1"/><circle cx="355.1" cy="217.9" r="1"/><circle cx="357.2" cy="195.1" r="1"/><circle cx="359.3" cy="191.4" r="1"/><circle cx="361.4" cy="200.4" r="1"/><circle cx="363.5" cy="200.4" r="1"/><circle cx="365.6" cy="195.1" r="1"/><circle cx="367.7" cy="207.5" r="1"/><circle cx="369.8" cy="203.9" r="1"/><circle cx="371.9" cy="217.9" r="1"/><circle cx="374.1" cy="198.5" r="1"/><circle cx="376.2" cy="186.4" r="1"/><circle cx="378.3" cy="170.3" r="1"/><circle cx="380.4" cy="170.3" r="1"/><circle cx="382.5" cy="173.7" r="1"/><circle cx="384.6" cy="166.8" r="1"/><circle cx="386.7" cy="170.3" r="1"/><circle cx="388.8" cy="159.7" r="1"/><circle cx="393.0" cy="156.2" r="1"/><circle cx="395.2" cy="158.2" r="1"/><circle cx="399.4" cy="156.2" r="1"/><circle cx="401.5" cy="150.6" r="1"/><circle cx="403.6" cy="154.3" r="1"/><circle cx="405.7" cy="149.3" r="1"/><circle cx="407.8" cy="143.8" r="1"/><circle cx="409.9" cy="142.2" r="1"/><circle cx="412.0" cy="134.9" r="1"/><circle cx="414.1" cy="138.4" r="1"/><circle cx="416.3" cy="138.4" r="1"/><circle cx="418.4" cy="152.6" r="1"/><circle cx="420.5" cy="140.1" r="1"/><circle cx="422.6" cy="131.3" r="1"/><circle cx="424.7" cy="124.3" r="1"/><circle cx="426.8" cy="138.4" r="1"/><circle cx="428.9" cy="134.9" r="1"/><circle cx="431.0" cy="133.2" r="1"/><circle cx="433.1" cy="140.1" r="1"/><circle cx="435.2" cy="129.7" r="1"/><circle cx="437.4" cy="134.9" r="1"/><circle cx="439.5" cy="142.2" r="1"/><circle cx="441.6" cy="142.2" r="1"/><circle cx="443.7" cy="138.4" r="1"/><circle cx="445.8" cy="133.2" r="1"/><circle cx="447.9" cy="133.2" r="1"/><circle cx="450.0" cy="134.9" r="1"/><circle cx="452.1" cy="143.8" r="1"/><circle cx="454.2" cy="129.7" r="1"/><circle cx="456.3" cy="131.3" r="1"/><circle cx="458.5" cy="134.9" r="1"/><circle cx="460.6" cy="136.8" r="1"/><circle cx="462.7" cy="131.3" r="1"/><circle cx="464.8" cy="142.2" r="1"/><circle cx="466.9" cy="133.2" r="1"/><circle cx="469.0" cy="147.4" r="1"/><circle cx="471.1" cy="143.8" r="1"/><circle cx="473.2" cy="143.8" r="1"/><circle cx="475.3" cy="149.3" r="1"/><circle cx="477.4" cy="150.6" r="1"/><circle cx="479.6" cy="150.6" r="1"/><circle cx="481.7" cy="154.5" r="1"/><circle cx="483.8" cy="158.2" r="1"/><circle cx="488.0" cy="152.6" r="1"/><circle cx="490.1" cy="147.4" r="1"/><circle cx="492.2" cy="159.7" r="1"/><circle cx="494.3" cy="156.2" r="1"/><circle cx="496.4" cy="159.7" r="1"/><circle cx="498.5" cy="165.1" r="1"/><circle cx="500.7" cy="165.1" r="1"/><circle cx="502.8" cy="170.3" r="1"/><circle cx="504.9" cy="168.5" r="1"/><circle cx="507.0" cy="163.2" r="1"/><circle cx="509.1" cy="166.8" r="1"/><circle cx="511.2" cy="161.6" r="1"/><circle cx="513.3" cy="177.2" r="1"/><circle cx="515.4" cy="158.2" r="1"/><circle cx="517.5" cy="173.7" r="1"/><circle cx="519.6" cy="184.3" r="1"/><circle cx="521.8" cy="182.5" r="1"/><circle cx="523.9" cy="184.3" r="1"/><circle cx="526.0" cy="145.3" r="1"/><circle cx="528.1" cy="150.7" r="1"/><circle cx="530.2" cy="166.8" r="1"/><circle cx="532.3" cy="166.8" r="1"/><circle cx="534.4" cy="165.1" r="1"/><circle cx="536.5" cy="177.2" r="1"/><circle cx="538.6" cy="175.6" r="1"/><circle cx="540.8" cy="168.5" r="1"/><circle cx="542.9" cy="175.6" r="1"/><circle cx="545.0" cy="177.2" r="1"/><circle cx="547.1" cy="182.5" r="1"/><circle cx="549.2" cy="184.3" r="1"/><circle cx="551.3" cy="189.6" r="1"/><circle cx="553.4" cy="184.3" r="1"/><circle cx="555.5" cy="186.4" r="1"/><circle cx="557.6" cy="189.6" r="1"/><circle cx="559.7" cy="187.9" r="1"/><circle cx="561.8" cy="193.3" r="1"/><circle cx="564.0" cy="189.6" r="1"/><circle cx="566.1" cy="196.8" r="1"/><circle cx="568.2" cy="193.3" r="1"/><circle cx="570.3" cy="193.3" r="1"/><circle cx="572.4" cy="198.5" r="1"/><circle cx="574.5" cy="186.4" r="1"/><circle cx="576.6" cy="189.6" r="1"/><circle cx="578.7" cy="193.3" r="1"/><circle cx="580.8" cy="195.1" r="1"/><circle cx="583.0" cy="198.5" r="1"/><circle cx="585.1" cy="195.1" r="1"/><circle cx="587.2" cy="193.3" r="1"/><circle cx="589.3" cy="187.9" r="1"/><circle cx="591.4" cy="193.3" r="1"/><circle cx="593.5" cy="198.5" r="1"/><circle cx="595.6" cy="217.9" r="1"/><circle cx="597.7" cy="202.2" r="1"/><circle cx="599.8" cy="212.7" r="1"/><circle cx="601.9" cy="207.5" r="1"/><circle cx="604.0" cy="196.8" r="1"/><circle cx="606.2" cy="203.9" r="1"/><circle cx="608.3" cy="193.3" r="1"/><circle cx="610.4" cy="196.8" r="1"/><circle cx="612.5" cy="195.1" r="1"/><circle cx="614.6" cy="200.4" r="1"/><circle cx="616.7" cy="189.6" r="1"/><circle cx="618.8" cy="193.3" r="1"/><circle cx="620.9" cy="186.4" r="1"/><circle cx="623.0" cy="198.5" r="1"/><circle cx="625.1" cy="189.6" r="1"/><circle cx="627.3" cy="189.6" r="1"/><circle cx="629.4" cy="198.5" r="1"/><circle cx="631.5" cy="200.4" r="1"/><circle cx="633.6" cy="221.5" r="1"/><circle cx="635.7" cy="210.8" r="1"/><circle cx="637.8" cy="200.4" r="1"/><circle cx="639.9" cy="198.5" r="1"/><circle cx="642.0" cy="193.3" r="1"/><circle cx="644.1" cy="203.9" r="1"/><circle cx="646.2" cy="196.8" r="1"/><circle cx="648.4" cy="196.8" r="1"/><circle cx="650.5" cy="186.4" r="1"/><circle cx="652.6" cy="191.4" r="1"/><circle cx="654.7" cy="187.9" r="1"/><circle cx="656.8" cy="184.3" r="1"/><circle cx="658.9" cy="187.9" r="1"/><circle cx="661.0" cy="186.4" r="1"/><circle cx="663.1" cy="184.3" r="1"/><circle cx="665.2" cy="182.5" r="1"/><circle cx="667.3" cy="179.1" r="1"/><circle cx="669.5" cy="187.9" r="1"/><circle cx="671.6" cy="195.1" r="1"/><circle cx="673.7" cy="189.6" r="1"/><circle cx="675.8" cy="186.4" r="1"/><circle cx="677.9" cy="184.3" r="1"/><circle cx="680.0" cy="189.6" r="1"/><circle cx="682.1" cy="212.7" r="1"/><circle cx="684.2" cy="214.4" r="1"/><circle cx="686.3" cy="203.9" r="1"/><circle cx="688.4" cy="205.6" r="1"/><circle cx="690.6" cy="210.8" r="1"/><circle cx="692.7" cy="198.5" r="1"/><circle cx="694.8" cy="209.1" r="1"/><circle cx="696.9" cy="193.3" r="1"/><circle cx="699.0" cy="189.6" r="1"/><circle cx="701.1" cy="182.5" r="1"/><circle cx="703.2" cy="186.4" r="1"/><circle cx="705.3" cy="170.3" r="1"/><circle cx="707.4" cy="184.3" r="1"/><circle cx="709.5" cy="177.2" r="1"/><circle cx="711.7" cy="177.2" r="1"/><circle cx="713.8" cy="170.3" r="1"/><circle cx="715.9" cy="156.2" r="1"/><circle cx="718.0" cy="147.4" r="1"/><circle cx="720.1" cy="145.5" r="1"/><circle cx="722.2" cy="161.4" r="1"/><circle cx="724.3" cy="143.8" r="1"/><circle cx="726.4" cy="142.2" r="1"/><circle cx="728.5" cy="154.5" r="1"/><circle cx="730.6" cy="147.4" r="1"/><circle cx="732.8" cy="154.5" r="1"/><circle cx="734.9" cy="152.6" r="1"/><circle cx="737.0" cy="156.2" r="1"/><circle cx="739.1" cy="168.5" r="1"/><circle cx="741.2" cy="175.6" r="1"/><circle cx="743.3" cy="173.7" r="1"/><circle cx="745.4" cy="149.3" r="1"/><circle cx="747.5" cy="149.3" r="1"/><circle cx="749.6" cy="149.3" r="1"/><circle cx="751.8" cy="152.6" r="1"/><circle cx="753.9" cy="154.5" r="1"/><circle cx="756.0" cy="150.7" r="1"/><circle cx="758.1" cy="159.7" r="1"/><circle cx="762.3" cy="152.6" r="1"/><circle cx="764.4" cy="156.2" r="1"/><circle cx="766.5" cy="147.4" r="1"/><circle cx="768.6" cy="154.5" r="1"/><circle cx="772.8" cy="166.8" r="1"/><circle cx="775.0" cy="168.5" r="1"/><circle cx="777.1" cy="159.7" r="1"/><circle cx="222.3" cy="260.4" r="1"/><circle cx="473.4" cy="256.4" r="1"/><circle cx="484.3" cy="284.7" r="1"/><circle cx="249.9" cy="323.5" r="1"/><circle cx="355.4" cy="321.8" r="1"/><circle cx="355.4" cy="328.5" r="1"/><circle cx="204.3" cy="330.6" r="1"/><circle cx="408.4" cy="328.6" r="1"/><circle cx="423.5" cy="330.5" r="1"/><circle cx="397.5" cy="332.3" r="1"/><circle cx="462.7" cy="328.5" r="1"/><circle cx="511.4" cy="318.2" r="1"/><circle cx="511.4" cy="330.5" r="1"/><circle cx="582.4" cy="330.5" r="1"/><circle cx="684.4" cy="325.3" r="1"/><circle cx="725.3" cy="323.2" r="1"/><circle cx="176.4" cy="402.9" r="1"/><circle cx="191.2" cy="383.7" r="1"/><circle cx="222.3" cy="432.9" r="1"/><circle cx="249.9" cy="436.3" r="1"/><circle cx="355.4" cy="431.2" r="1"/><circle cx="355.4" cy="436.3" r="1"/><circle cx="482.1" cy="383.7" r="1"/><circle cx="484.3" cy="424.2" r="1"/><circle cx="473.4" cy="450.5" r="1"/><circle cx="493.3" cy="387.1" r="1"/><circle cx="511.4" cy="408.3" r="1"/><circle cx="511.4" cy="427.5" r="1"/><circle cx="582.5" cy="434.6" r="1"/><circle cx="691.7" cy="404.6" r="1"/><circle cx="681.6" cy="425.9" r="1"/><circle cx="681.6" cy="438.3" r="1"/><circle cx="684.3" cy="436.3" r="1"/><circle cx="763.9" cy="387.1" r="1"/><circle cx="763.9" cy="406.3" r="1"/><circle cx="763.9" cy="455.9" r="1"/><circle cx="408.3" cy="364.4" r="1"/><circle cx="408.3" cy="369.6" r="1"/><circle cx="397.4" cy="378.3" r="1"/><circle cx="465.1" cy="332.3" r="1"/><circle cx="482.3" cy="334.1" r="1"/><circle cx="493.5" cy="336.3" r="1"/><circle cx="486.2" cy="341.3" r="1"/><circle cx="467.5" cy="364.4" r="1"/><circle cx="516.3" cy="346.3" r="1"/><circle cx="522.5" cy="344.8" r="1"/><circle cx="576.6" cy="362.6" r="1"/><circle cx="594.6" cy="366.0" r="1"/><circle cx="616.7" cy="360.5" r="1"/><circle cx="621.6" cy="362.6" r="1"/><circle cx="681.6" cy="343.0" r="1"/><circle cx="681.6" cy="346.6" r="1"/><circle cx="679.7" cy="358.8" r="1"/><circle cx="691.9" cy="355.2" r="1"/><circle cx="714.4" cy="378.2" r="1"/><circle cx="663.4" cy="357.1" r="1"/><circle cx="763.8" cy="373.2" r="1"/><circle cx="176.4" cy="290.3" r="1"/><circle cx="182.4" cy="299.2" r="1"/><circle cx="179.8" cy="304.3" r="1"/><circle cx="183.5" cy="307.8" r="1"/><circle cx="191.3" cy="311.3" r="1"/><circle cx="187.6" cy="316.6" r="1"/><circle cx="178.4" cy="313.2" r="1"/><circle cx="191.3" cy="322.0" r="1"/><circle cx="191.3" cy="325.3" r="1"/><circle cx="173.2" cy="320.1" r="1"/><circle cx="218.7" cy="339.3" r="1"/><circle cx="222.1" cy="334.1" r="1"/><circle cx="224.3" cy="334.1" r="1"/><circle cx="175.1" cy="359.3" r="1"/></g>
<g>
<line x1="171.5" y1="106.10000000000002" x2="171.5" y2="559.0" stroke="#1a1a1a" stroke-width="1"/>
<line x1="171.0" y1="558.5" x2="805.25" y2="558.5" stroke="#1a1a1a" stroke-width="1"/>
<line x1="162.5" y1="558.50" x2="171.5" y2="558.50" stroke="#1a1a1a" stroke-width="1"/>
<line x1="165.5" y1="501.60" x2="171.5" y2="501.60" stroke="#1a1a1a" stroke-width="1"/>
<line x1="162.5" y1="445.40" x2="171.5" y2="445.40" stroke="#1a1a1a" stroke-width="1"/>
<line x1="165.5" y1="388.70" x2="171.5" y2="388.70" stroke="#1a1a1a" stroke-width="1"/>
<line x1="162.5" y1="332.60" x2="171.5" y2="332.60" stroke="#1a1a1a" stroke-width="1"/>
<line x1="165.5" y1="276.50" x2="171.5" y2="276.50" stroke="#1a1a1a" stroke-width="1"/>
<line x1="162.5" y1="219.60" x2="171.5" y2="219.60" stroke="#1a1a1a" stroke-width="1"/>
<line x1="165.5" y1="163.50" x2="171.5" y2="163.50" stroke="#1a1a1a" stroke-width="1"/>
<line x1="162.5" y1="106.60" x2="171.5" y2="106.60" stroke="#1a1a1a" stroke-width="1"/>
<line x1="171.50" y1="558.5" x2="171.50" y2="567.5" stroke="#1a1a1a" stroke-width="1"/>
<line x1="234.82" y1="558.5" x2="234.82" y2="564.5" stroke="#1a1a1a" stroke-width="1"/>
<line x1="298.15" y1="558.5" x2="298.15" y2="567.5" stroke="#1a1a1a" stroke-width="1"/>
<line x1="361.48" y1="558.5" x2="361.48" y2="564.5" stroke="#1a1a1a" stroke-width="1"/>
<line x1="424.80" y1="558.5" x2="424.80" y2="567.5" stroke="#1a1a1a" stroke-width="1"/>
<line x1="488.12" y1="558.5" x2="488.12" y2="564.5" stroke="#1a1a1a" stroke-width="1"/>
<line x1="551.45" y1="558.5" x2="551.45" y2="567.5" stroke="#1a1a1a" stroke-width="1"/>
<line x1="614.77" y1="558.5" x2="614.77" y2="564.5" stroke="#1a1a1a" stroke-width="1"/>
<line x1="678.10" y1="558.5" x2="678.10" y2="567.5" stroke="#1a1a1a" stroke-width="1"/>
<line x1="741.42" y1="558.5" x2="741.42" y2="564.5" stroke="#1a1a1a" stroke-width="1"/>
<line x1="804.75" y1="558.5" x2="804.75" y2="567.5" stroke="#1a1a1a" stroke-width="1"/>
</g>
<g style="opacity:0.999">
<text transform="translate(159,564.8)" text-anchor="end">0.0</text>
<text transform="translate(159,451.7)" text-anchor="end">0.5</text>
<text transform="translate(159,338.9)" text-anchor="end">1.0</text>
<text transform="translate(159,225.9)" text-anchor="end">1.5</text>
<text transform="translate(159,112.9)" text-anchor="end">2.0</text>
<text transform="translate(171.2,585.3)" text-anchor="middle">0</text>
<text transform="translate(297.8,585.3)" text-anchor="middle">5</text>
<text transform="translate(424.5,585.3)" text-anchor="middle">10</text>
<text transform="translate(551.2,585.3)" text-anchor="middle">15</text>
<text transform="translate(677.8,585.3)" text-anchor="middle">20</text>
<text transform="translate(804.5,585.3)" text-anchor="middle">25</text>
<text x="487.5" y="70.8" text-anchor="middle" textLength="119.6" lengthAdjust="spacingAndGlyphs" style="font-size:19px;white-space:pre">Record:  f135b</text>
<text x="488" y="635.9" text-anchor="middle" textLength="96.6" lengthAdjust="spacingAndGlyphs" style="font-size:19px">Time (hour)</text>
<text transform="translate(100,332.8) rotate(-90)" x="0" y="0" text-anchor="middle" textLength="168.6" lengthAdjust="spacingAndGlyphs" style="font-size:19px">RR Interval (second)</text>
</g>
</svg>
</body></html>
